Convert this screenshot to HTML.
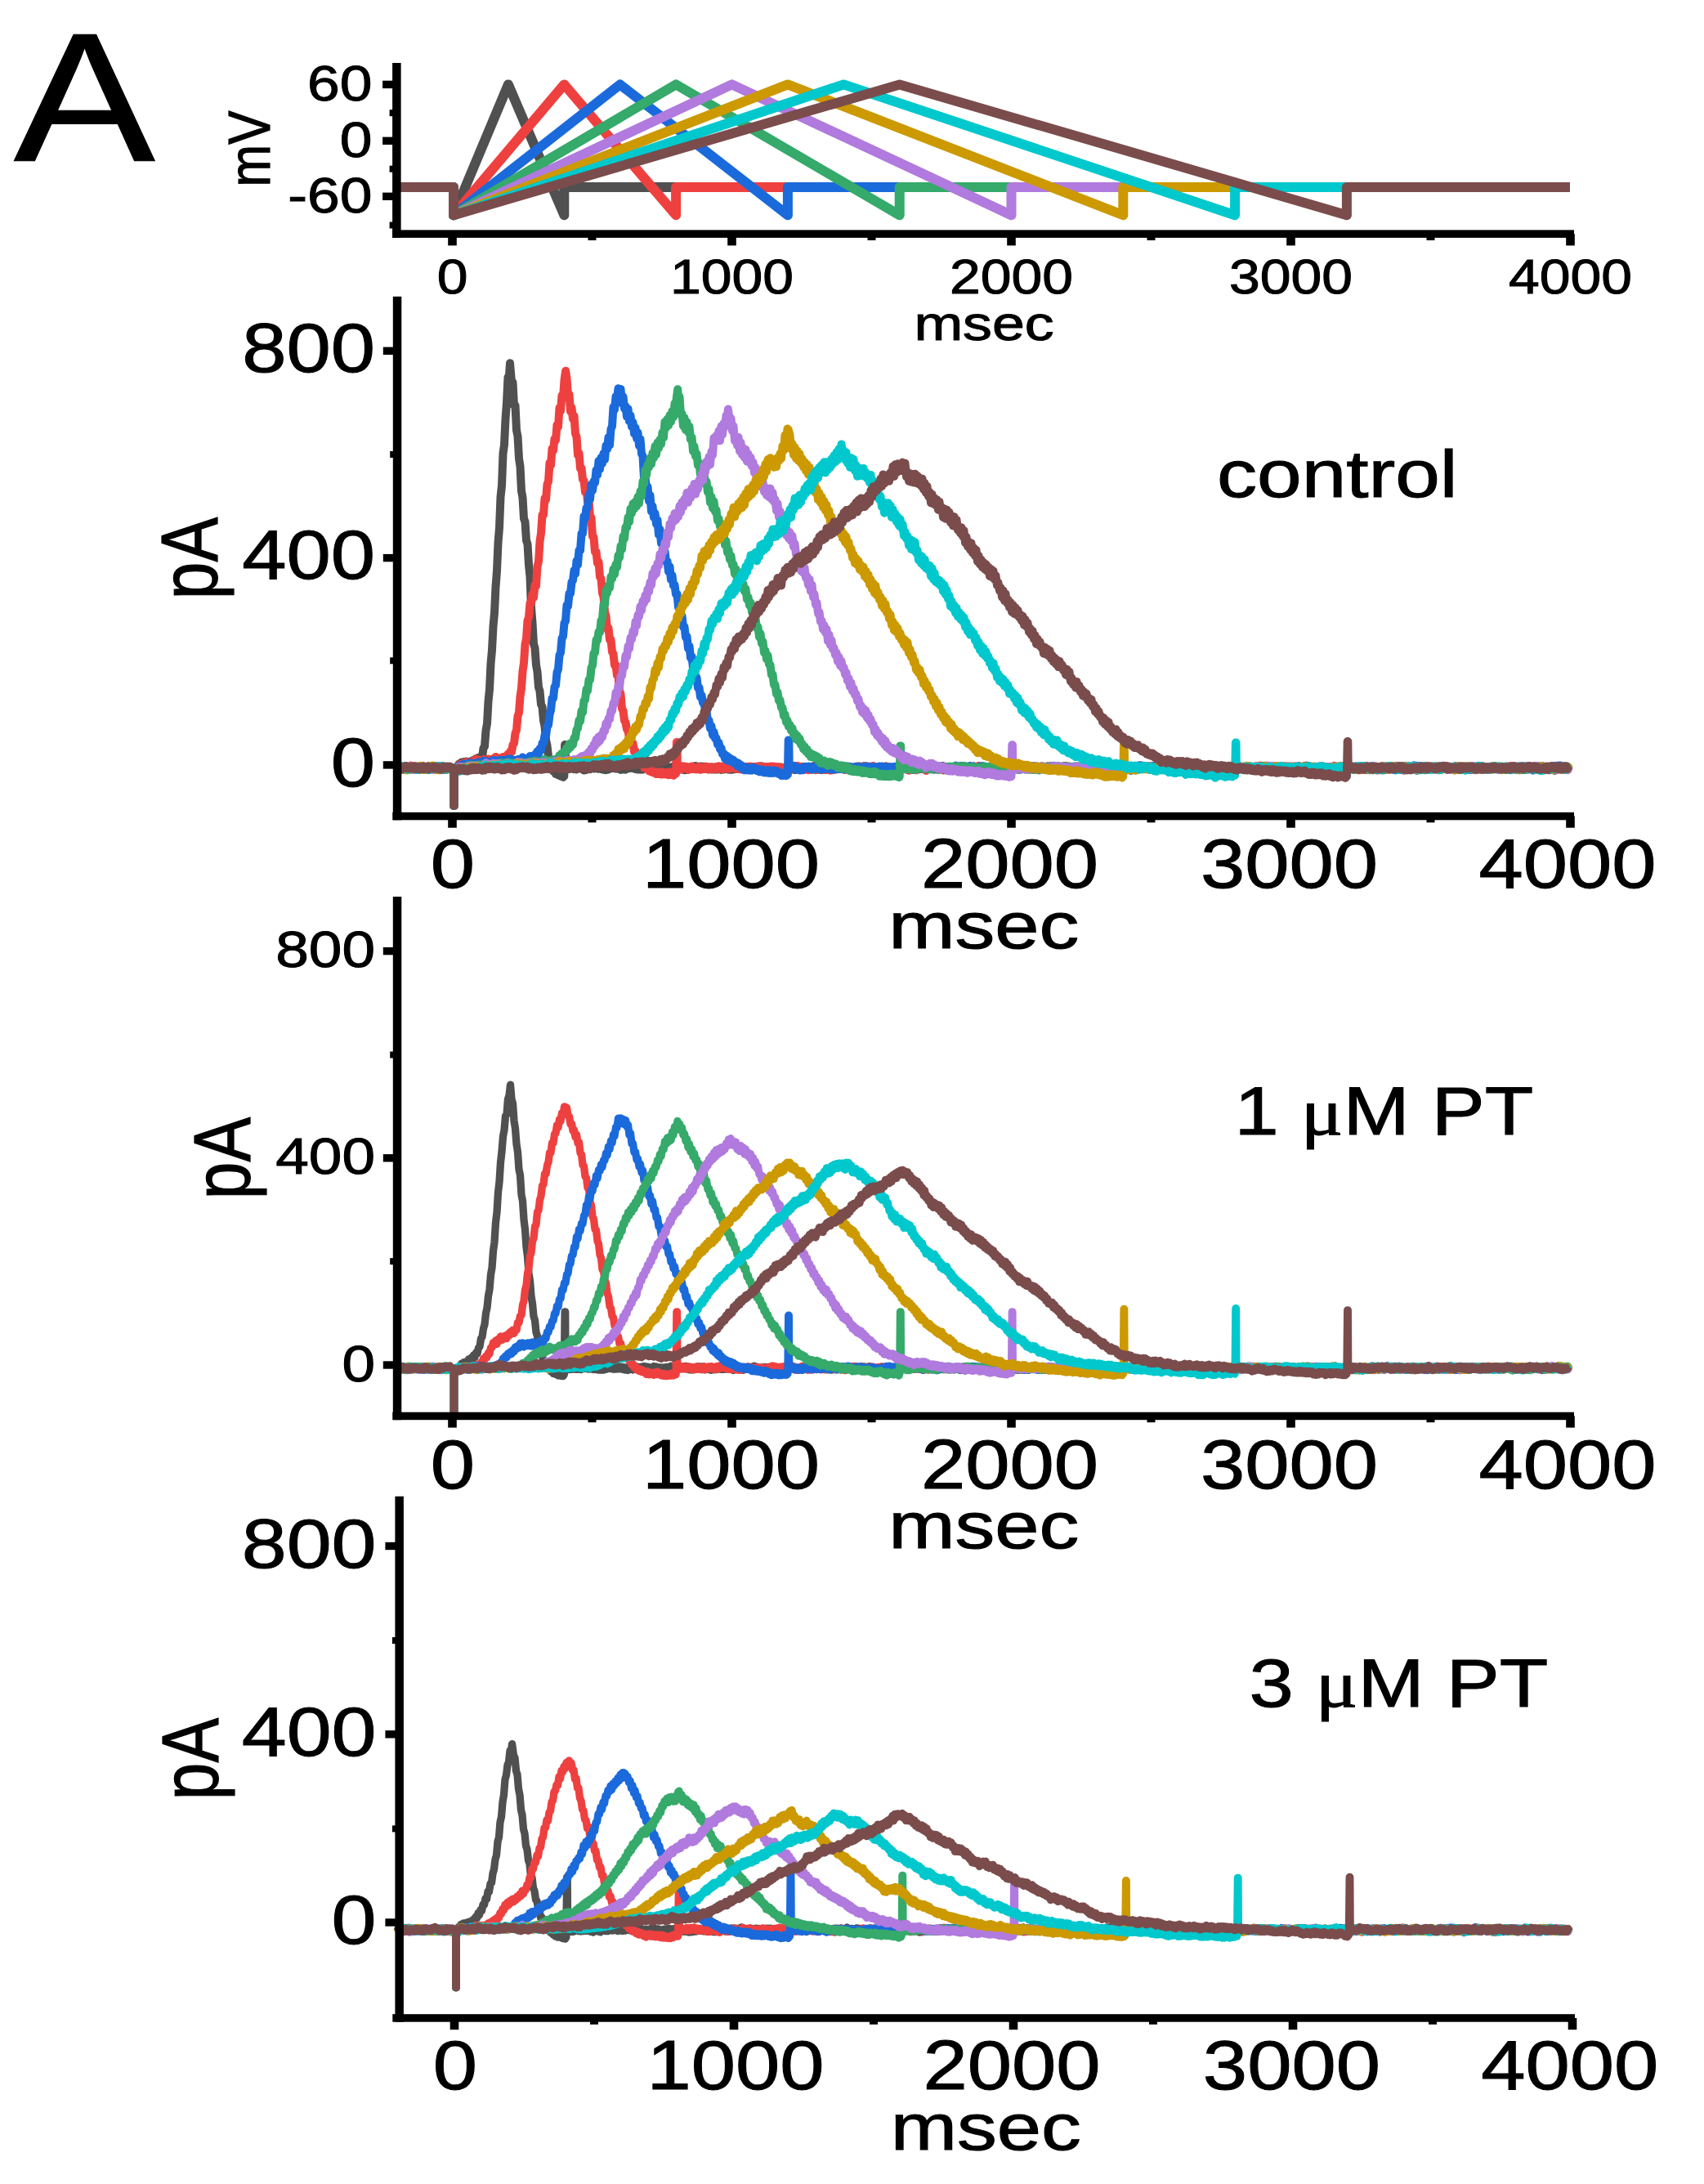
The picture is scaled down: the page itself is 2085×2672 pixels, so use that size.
<!DOCTYPE html><html><head><meta charset="utf-8"><title>Figure A</title><style>html,body{margin:0;padding:0;background:#fff}svg{display:block}text{font-family:"Liberation Sans", Arial, Helvetica, sans-serif;fill:#000;stroke:#000;stroke-width:1px}</style></head><body>
<svg width="2085" height="2672" viewBox="0 0 2085 2672">
<rect width="2085" height="2672" fill="#fff"/>
<text transform="translate(103.3,196.7) scale(1.155,1)" font-size="224.5" text-anchor="middle">A</text>
<polyline points="486.0,228.9 555.0,228.9 555.0,263.2 621.9,103.4 690.3,263.2 690.3,228.9 1921.0,228.9" fill="none" stroke="#505050" stroke-width="12" stroke-linejoin="round" stroke-linecap="butt"/>
<polyline points="486.0,228.9 555.0,228.9 555.0,263.2 690.3,103.4 827.1,263.2 827.1,228.9 1921.0,228.9" fill="none" stroke="#EF4040" stroke-width="12" stroke-linejoin="round" stroke-linecap="butt"/>
<polyline points="486.0,228.9 555.0,228.9 555.0,263.2 758.7,103.4 963.9,263.2 963.9,228.9 1921.0,228.9" fill="none" stroke="#1A6ADC" stroke-width="12" stroke-linejoin="round" stroke-linecap="butt"/>
<polyline points="486.0,228.9 555.0,228.9 555.0,263.2 827.1,103.4 1100.7,263.2 1100.7,228.9 1921.0,228.9" fill="none" stroke="#35AA6A" stroke-width="12" stroke-linejoin="round" stroke-linecap="butt"/>
<polyline points="486.0,228.9 555.0,228.9 555.0,263.2 895.5,103.4 1237.5,263.2 1237.5,228.9 1921.0,228.9" fill="none" stroke="#B07ADE" stroke-width="12" stroke-linejoin="round" stroke-linecap="butt"/>
<polyline points="486.0,228.9 555.0,228.9 555.0,263.2 963.9,103.4 1374.3,263.2 1374.3,228.9 1921.0,228.9" fill="none" stroke="#CC9900" stroke-width="12" stroke-linejoin="round" stroke-linecap="butt"/>
<polyline points="486.0,228.9 555.0,228.9 555.0,263.2 1032.3,103.4 1511.1,263.2 1511.1,228.9 1921.0,228.9" fill="none" stroke="#00C8CC" stroke-width="12" stroke-linejoin="round" stroke-linecap="butt"/>
<polyline points="486.0,228.9 555.0,228.9 555.0,263.2 1100.7,103.4 1647.9,263.2 1647.9,228.9 1921.0,228.9" fill="none" stroke="#7B4C4C" stroke-width="12" stroke-linejoin="round" stroke-linecap="butt"/>
<rect x="480.1" y="77.0" width="10.5" height="213.9" fill="#000"/>
<rect x="480.3" y="281.4" width="1445.7" height="9.5" fill="#000"/>
<rect x="468.1" y="98.7" width="17.2" height="9.4" fill="#000"/>
<rect x="468.1" y="167.6" width="17.2" height="9.4" fill="#000"/>
<rect x="468.1" y="235.6" width="17.2" height="9.4" fill="#000"/>
<rect x="476.6" y="134.2" width="8.8" height="8.0" fill="#000"/>
<rect x="476.6" y="202.7" width="8.8" height="8.0" fill="#000"/>
<rect x="476.6" y="271.5" width="8.8" height="8.0" fill="#000"/>
<rect x="548.2" y="286.2" width="10.6" height="14.2" fill="#000"/>
<rect x="890.2" y="286.2" width="10.6" height="14.2" fill="#000"/>
<rect x="1232.2" y="286.2" width="10.6" height="14.2" fill="#000"/>
<rect x="1574.2" y="286.2" width="10.6" height="14.2" fill="#000"/>
<rect x="1916.2" y="286.2" width="10.6" height="14.2" fill="#000"/>
<rect x="719.5" y="286.2" width="10.0" height="7.8" fill="#000"/>
<rect x="1061.5" y="286.2" width="10.0" height="7.8" fill="#000"/>
<rect x="1403.5" y="286.2" width="10.0" height="7.8" fill="#000"/>
<rect x="1745.5" y="286.2" width="10.0" height="7.8" fill="#000"/>
<text transform="translate(455.5,123.4) scale(1.17,1)" font-size="61" text-anchor="end">60</text>
<text transform="translate(455.5,192.3) scale(1.17,1)" font-size="61" text-anchor="end">0</text>
<text transform="translate(455.5,260.3) scale(1.17,1)" font-size="61" text-anchor="end">-60</text>
<text transform="translate(330.0,182.0) scale(1.18,1) rotate(-90)" font-size="62" text-anchor="middle">mV</text>
<text transform="translate(553.5,358.8) scale(1.14,1)" font-size="59.5" text-anchor="middle">0</text>
<text transform="translate(895.5,358.8) scale(1.14,1)" font-size="59.5" text-anchor="middle">1000</text>
<text transform="translate(1237.5,358.8) scale(1.14,1)" font-size="59.5" text-anchor="middle">2000</text>
<text transform="translate(1579.5,358.8) scale(1.14,1)" font-size="59.5" text-anchor="middle">3000</text>
<text transform="translate(1921.5,358.8) scale(1.14,1)" font-size="59.5" text-anchor="middle">4000</text>
<text transform="translate(1204.0,415.8) scale(1.225,1)" font-size="58.5" text-anchor="middle">msec</text>
<polyline points="486.0,941.7 487.5,938.1 489.0,941.4 490.5,938.6 492.0,941.5 493.5,938.1 495.0,941.1 496.5,937.5 498.0,941.4 499.5,938.4 501.0,941.6 502.5,938.3 504.0,941.2 505.5,937.8 507.0,940.7 508.5,937.4 510.0,940.9 511.5,937.8 513.0,941.3 514.5,938.2 516.0,941.2 517.5,937.2 519.0,940.7 520.5,938.1 522.0,941.3 523.5,938.2 525.0,940.8 526.5,938.3 528.0,940.6 529.5,937.9 531.0,941.0 532.5,938.7 534.0,941.4 535.5,938.3 537.0,941.0 538.5,937.8 540.0,940.9 541.5,938.4 543.0,941.6 544.5,939.0 546.0,941.8 547.5,939.1 549.0,941.3 550.5,937.9 552.0,941.3 555.2,939.6 555.2,986.0 555.8,986.0 555.8,944.1 557.0,942.3 558.5,937.9 560.0,939.5 561.5,934.6 563.0,937.6 564.5,932.6 566.0,936.6 567.5,931.9 569.0,935.7 570.5,931.5 572.0,935.0 573.5,932.4 575.0,934.7 576.5,931.1 578.0,934.6 579.5,929.7 581.0,932.7 582.5,927.9 584.0,932.2 585.5,926.8 587.0,930.5 588.5,926.4 590.0,926.9 591.5,915.5 593.0,913.2 594.5,893.6 596.0,885.4 597.5,858.1 599.0,843.4 600.5,811.9 602.0,795.2 603.5,766.2 605.0,749.9 606.5,718.1 608.0,698.5 609.5,663.9 611.0,645.7 612.5,607.9 614.0,594.4 615.5,555.0 617.0,544.3 618.5,512.8 620.0,492.4 621.5,461.7 623.0,459.0 624.0,444.3 626.0,467.7 627.5,468.0 629.0,496.0 630.5,495.9 632.0,526.2 633.5,533.9 635.0,561.0 636.5,570.8 638.0,600.8 639.5,608.6 641.0,634.5 642.5,638.4 644.0,661.1 645.5,665.6 647.0,691.0 648.5,705.7 650.0,743.2 651.5,762.0 653.0,787.7 654.5,792.9 656.0,813.7 657.5,821.8 659.0,840.8 660.5,845.6 662.0,861.7 663.5,864.9 665.0,881.3 666.5,888.1 668.0,905.2 669.5,912.3 671.0,925.9 672.5,928.8 674.0,937.7 675.5,938.2 677.0,943.7 678.5,942.8 680.0,947.0 681.5,945.0 683.0,948.4 684.5,946.1 686.0,949.7 687.5,947.7 689.0,950.9 690.3,949.8 691.1,911.0 691.7,911.0 692.1,939.6 693.3,940.9 694.8,937.9 696.3,941.0 697.8,937.7 699.3,940.5 700.8,937.3 702.3,941.2 703.8,938.8 705.3,941.4 706.8,937.6 708.3,940.3 709.8,938.0 711.3,940.5 712.8,938.6 714.3,942.5 715.8,939.9 717.3,941.9 718.8,937.6 720.3,940.1 721.8,935.6 723.3,939.2 724.8,936.6 726.3,940.5 727.8,937.2 729.3,940.3 730.8,937.5 732.3,940.8 733.8,938.1 735.3,941.0 736.8,938.6 738.3,941.7 739.8,939.6 741.3,942.2 742.8,938.6 744.3,941.6 745.8,937.2 747.3,940.2 748.8,937.1 750.3,940.0 751.8,937.4 753.3,940.5 754.8,937.7 756.3,940.8 757.8,938.6 759.3,941.9 760.8,939.5 762.3,941.5 763.8,939.1 765.3,941.7 766.8,937.7 768.3,940.3 769.8,938.0 771.3,939.9 772.8,937.9 774.3,940.0 775.8,938.3 777.3,940.9 778.8,938.6 780.3,941.5 781.8,938.3 783.3,941.7 784.8,937.9 786.3,941.7 787.8,937.6 789.3,940.5 790.8,937.7 792.3,941.1 793.8,938.3 795.3,941.7 796.8,938.8 798.3,942.0 799.8,938.3 801.3,941.1 802.8,938.2 804.3,940.7 805.8,937.8 807.3,940.6 808.8,938.6 810.3,941.4 811.8,938.4 813.3,941.9 814.8,938.9 816.3,941.4 817.8,938.9 819.3,941.4 820.8,938.4 822.3,940.4 823.8,937.6 825.3,941.3 826.8,938.4 828.3,941.6 829.8,939.0 831.3,941.3 832.8,938.0 834.3,941.2 835.8,938.2 837.3,942.3 838.8,938.5 840.3,941.9 841.8,938.9 843.3,941.2 844.8,938.6 846.3,940.9 847.8,937.7 849.3,939.9 850.8,937.0 852.3,940.9 853.8,937.7 855.3,940.6 856.8,937.4 858.3,940.6 859.8,937.8 861.3,940.7 862.8,937.7 864.3,940.6 865.8,938.4 867.3,941.4 868.8,938.5 870.3,941.4 871.8,938.4 873.3,941.5 874.8,938.6 876.3,941.6 877.8,938.8 879.3,941.3 880.8,938.6 882.3,941.9 883.8,938.4 885.3,941.5 886.8,938.0 888.3,941.0 889.8,937.9 891.3,941.7 892.8,939.0 894.3,941.8 895.8,938.5 897.3,941.4 898.8,937.6 900.3,941.0 901.8,937.8 903.3,940.9 904.8,938.5 906.3,941.3 907.8,938.9 909.3,941.7 910.8,938.2 912.3,940.8 913.8,937.9 915.3,940.6 916.8,937.8 918.3,941.6 919.8,938.6 921.3,942.0 922.8,939.1 924.3,941.2 925.8,938.5 927.3,940.9 928.8,937.4 930.3,940.2 931.8,937.2 933.3,941.5 934.8,937.9 936.3,941.1 937.8,938.3 939.3,940.4 940.8,938.2 942.3,941.8 943.8,939.1 945.3,942.8 946.8,939.1 948.3,941.5 949.8,938.8 951.3,940.8 952.8,938.5 954.3,940.8 955.8,938.4 957.3,941.6 958.8,938.9 960.3,941.3 961.8,938.8 963.3,941.2 964.8,939.0 966.3,941.5 967.8,938.7 969.3,941.5 970.8,939.2 972.3,942.1 973.8,939.3 975.3,941.6 976.8,938.6 978.3,941.7 979.8,937.9 981.3,940.4 982.8,937.9 984.3,940.6 985.8,938.0 987.3,940.8 988.8,938.3 990.3,941.8 991.8,939.0 993.3,941.3 994.8,937.3 996.3,939.9 997.8,936.6 999.3,940.6 1000.8,938.6 1002.3,941.8 1003.8,938.7 1005.3,942.1 1006.8,939.5 1008.3,941.4 1009.8,937.8 1011.3,940.6 1012.8,938.6 1014.3,941.3 1015.8,937.8 1017.3,940.7 1018.8,937.1 1020.3,940.5 1021.8,937.9 1023.3,941.4 1024.8,937.8 1026.3,941.0 1027.8,937.8 1029.3,940.7 1030.8,937.1 1032.3,941.4 1033.8,938.4 1035.3,940.7 1036.8,938.2 1038.3,940.3 1039.8,937.9 1041.3,939.8 1042.8,938.4 1044.3,940.7 1045.8,938.4 1047.3,941.5 1048.8,937.4 1050.3,940.0 1051.8,937.5 1053.3,939.4 1054.8,937.7 1056.3,939.8 1057.8,937.2 1059.3,940.4 1060.8,937.2 1062.3,940.6 1063.8,938.0 1065.3,941.4 1066.8,938.1 1068.3,941.3 1069.8,938.9 1071.3,941.1 1072.8,938.4 1074.3,941.5 1075.8,939.0 1077.3,942.4 1078.8,939.2 1080.3,941.5 1081.8,939.3 1083.3,941.8 1084.8,937.8 1086.3,941.6 1087.8,938.6 1089.3,941.2 1090.8,939.1 1092.3,941.7 1093.8,939.0 1095.3,942.1 1096.8,939.0 1098.3,941.5 1099.8,937.4 1101.3,941.3 1102.8,938.1 1104.3,940.5 1105.8,938.5 1107.3,940.9 1108.8,939.2 1110.3,941.1 1111.8,937.7 1113.3,941.1 1114.8,937.6 1116.3,939.9 1117.8,938.2 1119.3,940.9 1120.8,937.9 1122.3,940.8 1123.8,937.8 1125.3,940.5 1126.8,937.2 1128.3,940.4 1129.8,938.3 1131.3,941.4 1132.8,938.8 1134.3,941.1 1135.8,937.6 1137.3,939.9 1138.8,938.0 1140.3,941.2 1141.8,938.1 1143.3,941.7 1144.8,937.8 1146.3,941.4 1147.8,938.2 1149.3,941.3 1150.8,937.7 1152.3,940.4 1153.8,937.0 1155.3,940.0 1156.8,938.1 1158.3,940.9 1159.8,938.5 1161.3,941.7 1162.8,938.2 1164.3,941.1 1165.8,937.9 1167.3,941.8 1168.8,939.1 1170.3,941.7 1171.8,938.4 1173.3,940.6 1174.8,937.1 1176.3,939.8 1177.8,937.0 1179.3,940.4 1180.8,938.3 1182.3,940.3 1183.8,937.7 1185.3,940.7 1186.8,937.4 1188.3,941.6 1189.8,938.3 1191.3,941.6 1192.8,938.3 1194.3,941.7 1195.8,939.3 1197.3,942.0 1198.8,938.5 1200.3,941.7 1201.8,939.1 1203.3,941.7 1204.8,938.6 1206.3,941.8 1207.8,938.0 1209.3,941.0 1210.8,938.2 1212.3,940.7 1213.8,938.6 1215.3,941.2 1216.8,938.4 1218.3,941.7 1219.8,938.6 1221.3,941.7 1222.8,938.1 1224.3,940.5 1225.8,937.5 1227.3,940.6 1228.8,938.6 1230.3,941.1 1231.8,938.3 1233.3,941.3 1234.8,937.9 1236.3,942.0 1237.8,938.2 1239.3,940.6 1240.8,937.9 1242.3,940.6 1243.8,937.4 1245.3,941.6 1246.8,938.5 1248.3,941.3 1249.8,938.2 1251.3,941.0 1252.8,938.7 1254.3,941.0 1255.8,937.9 1257.3,940.5 1258.8,937.8 1260.3,940.8 1261.8,937.9 1263.3,941.0 1264.8,938.4 1266.3,941.7 1267.8,938.0 1269.3,941.1 1270.8,938.9 1272.3,940.6 1273.8,937.6 1275.3,940.7 1276.8,938.1 1278.3,940.9 1279.8,938.5 1281.3,940.8 1282.8,938.4 1284.3,941.9 1285.8,938.4 1287.3,941.3 1288.8,938.6 1290.3,940.8 1291.8,938.4 1293.3,940.6 1294.8,937.9 1296.3,941.4 1297.8,938.4 1299.3,941.4 1300.8,937.3 1302.3,939.7 1303.8,937.1 1305.3,940.6 1306.8,938.3 1308.3,940.9 1309.8,938.0 1311.3,941.6 1312.8,938.4 1314.3,941.1 1315.8,938.2 1317.3,940.7 1318.8,937.6 1320.3,941.5 1321.8,938.0 1323.3,941.6 1324.8,938.3 1326.3,940.4 1327.8,937.7 1329.3,941.1 1330.8,938.2 1332.3,941.5 1333.8,939.2 1335.3,941.3 1336.8,938.5 1338.3,941.6 1339.8,937.1 1341.3,940.7 1342.8,937.4 1344.3,940.6 1345.8,937.8 1347.3,941.0 1348.8,937.9 1350.3,941.6 1351.8,938.6 1353.3,941.6 1354.8,937.7 1356.3,940.6 1357.8,937.8 1359.3,940.6 1360.8,938.0 1362.3,941.0 1363.8,938.4 1365.3,941.1 1366.8,938.4 1368.3,940.8 1369.8,937.9 1371.3,941.5 1372.8,937.5 1374.3,940.2 1375.8,937.5 1377.3,939.8 1378.8,937.5 1380.3,942.0 1381.8,938.4 1383.3,941.6 1384.8,938.6 1386.3,941.4 1387.8,938.7 1389.3,942.2 1390.8,938.8 1392.3,941.8 1393.8,938.3 1395.3,940.9 1396.8,938.2 1398.3,940.8 1399.8,937.8 1401.3,940.5 1402.8,938.2 1404.3,940.2 1405.8,937.5 1407.3,940.9 1408.8,937.2 1410.3,940.5 1411.8,937.1 1413.3,940.3 1414.8,938.3 1416.3,941.8 1417.8,939.2 1419.3,941.3 1420.8,938.0 1422.3,941.5 1423.8,938.3 1425.3,940.2 1426.8,937.4 1428.3,940.7 1429.8,937.8 1431.3,941.1 1432.8,938.5 1434.3,940.9 1435.8,937.9 1437.3,940.8 1438.8,936.7 1440.3,940.4 1441.8,936.9 1443.3,940.0 1444.8,937.8 1446.3,941.4 1447.8,938.3 1449.3,941.1 1450.8,938.5 1452.3,940.2 1453.8,937.2 1455.3,941.1 1456.8,938.0 1458.3,941.0 1459.8,937.0 1461.3,941.0 1462.8,937.2 1464.3,941.1 1465.8,937.9 1467.3,940.5 1468.8,937.5 1470.3,940.0 1471.8,938.1 1473.3,941.4 1474.8,937.9 1476.3,941.7 1477.8,938.0 1479.3,940.3 1480.8,936.8 1482.3,939.5 1483.8,936.9 1485.3,941.4 1486.8,938.4 1488.3,940.6 1489.8,938.1 1491.3,940.4 1492.8,937.0 1494.3,940.6 1495.8,938.4 1497.3,942.0 1498.8,938.5 1500.3,941.4 1501.8,938.1 1503.3,940.3 1504.8,938.5 1506.3,942.2 1507.8,938.7 1509.3,941.9 1510.8,938.8 1512.3,940.6 1513.8,937.8 1515.3,940.1 1516.8,937.5 1518.3,941.1 1519.8,938.1 1521.3,942.0 1522.8,938.4 1524.3,941.7 1525.8,938.5 1527.3,940.8 1528.8,938.9 1530.3,940.8 1531.8,939.0 1533.3,940.9 1534.8,937.9 1536.3,941.5 1537.8,938.2 1539.3,940.5 1540.8,938.5 1542.3,940.0 1543.8,937.6 1545.3,941.0 1546.8,938.6 1548.3,941.1 1549.8,937.2 1551.3,940.9 1552.8,938.2 1554.3,940.5 1555.8,938.4 1557.3,941.3 1558.8,938.6 1560.3,942.1 1561.8,939.4 1563.3,942.1 1564.8,938.5 1566.3,941.0 1567.8,937.9 1569.3,941.0 1570.8,938.8 1572.3,941.4 1573.8,937.7 1575.3,940.5 1576.8,937.8 1578.3,940.6 1579.8,938.4 1581.3,941.5 1582.8,938.8 1584.3,940.7 1585.8,938.0 1587.3,941.1 1588.8,938.3 1590.3,941.1 1591.8,938.2 1593.3,941.3 1594.8,938.3 1596.3,941.5 1597.8,938.3 1599.3,940.7 1600.8,938.0 1602.3,941.4 1603.8,938.6 1605.3,941.9 1606.8,939.5 1608.3,942.7 1609.8,938.9 1611.3,940.9 1612.8,938.6 1614.3,941.2 1615.8,938.7 1617.3,941.3 1618.8,938.6 1620.3,942.0 1621.8,938.7 1623.3,941.9 1624.8,938.8 1626.3,942.7 1627.8,939.2 1629.3,942.3 1630.8,938.9 1632.3,941.1 1633.8,938.3 1635.3,941.6 1636.8,938.5 1638.3,941.5 1639.8,939.0 1641.3,941.5 1642.8,937.5 1644.3,941.6 1645.8,938.2 1647.3,941.3 1648.8,938.7 1650.3,940.6 1651.8,937.8 1653.3,940.3 1654.8,938.8 1656.3,941.7 1657.8,938.8 1659.3,941.2 1660.8,937.5 1662.3,941.2 1663.8,937.9 1665.3,939.9 1666.8,937.1 1668.3,940.5 1669.8,937.1 1671.3,940.7 1672.8,937.7 1674.3,940.9 1675.8,938.1 1677.3,941.3 1678.8,939.0 1680.3,942.2 1681.8,939.2 1683.3,941.4 1684.8,938.8 1686.3,941.2 1687.8,938.5 1689.3,940.4 1690.8,937.1 1692.3,939.7 1693.8,937.4 1695.3,941.3 1696.8,937.5 1698.3,941.1 1699.8,937.9 1701.3,941.3 1702.8,938.1 1704.3,940.5 1705.8,937.6 1707.3,940.4 1708.8,936.8 1710.3,939.9 1711.8,938.0 1713.3,941.1 1714.8,938.8 1716.3,941.8 1717.8,939.2 1719.3,941.2 1720.8,937.6 1722.3,940.6 1723.8,937.1 1725.3,940.1 1726.8,937.5 1728.3,940.8 1729.8,937.7 1731.3,940.4 1732.8,938.6 1734.3,941.1 1735.8,937.8 1737.3,941.1 1738.8,937.2 1740.3,940.6 1741.8,937.3 1743.3,940.8 1744.8,937.1 1746.3,939.8 1747.8,938.4 1749.3,941.6 1750.8,937.8 1752.3,941.4 1753.8,938.2 1755.3,940.1 1756.8,937.5 1758.3,941.1 1759.8,938.5 1761.3,940.6 1762.8,937.9 1764.3,940.7 1765.8,938.5 1767.3,941.0 1768.8,938.3 1770.3,941.2 1771.8,938.3 1773.3,941.6 1774.8,938.5 1776.3,941.2 1777.8,938.1 1779.3,940.8 1780.8,937.2 1782.3,939.9 1783.8,937.6 1785.3,941.2 1786.8,938.3 1788.3,941.4 1789.8,939.0 1791.3,940.2 1792.8,938.3 1794.3,940.7 1795.8,937.7 1797.3,941.9 1798.8,938.5 1800.3,941.7 1801.8,938.2 1803.3,942.0 1804.8,938.5 1806.3,942.2 1807.8,939.3 1809.3,941.5 1810.8,938.8 1812.3,941.2 1813.8,937.8 1815.3,941.2 1816.8,938.6 1818.3,941.2 1819.8,937.9 1821.3,940.7 1822.8,937.8 1824.3,940.0 1825.8,937.4 1827.3,939.4 1828.8,936.9 1830.3,940.6 1831.8,938.1 1833.3,941.4 1834.8,937.6 1836.3,940.5 1837.8,938.1 1839.3,941.1 1840.8,938.6 1842.3,941.3 1843.8,937.6 1845.3,940.2 1846.8,938.3 1848.3,942.2 1849.8,938.7 1851.3,940.6 1852.8,937.6 1854.3,940.8 1855.8,937.8 1857.3,941.5 1858.8,938.2 1860.3,941.2 1861.8,938.7 1863.3,941.8 1864.8,937.8 1866.3,940.8 1867.8,937.7 1869.3,941.1 1870.8,938.6 1872.3,941.0 1873.8,938.1 1875.3,941.1 1876.8,938.0 1878.3,940.7 1879.8,937.9 1881.3,940.7 1882.8,938.0 1884.3,942.2 1885.8,937.9 1887.3,941.6 1888.8,937.5 1890.3,940.6 1891.8,938.6 1893.3,941.8 1894.8,938.9 1896.3,942.3 1897.8,939.0 1899.3,941.8 1900.8,939.3 1902.3,942.8 1903.8,938.8 1905.3,940.5 1906.8,936.5 1908.3,940.0 1909.8,936.6 1911.3,940.1 1912.8,938.2 1914.3,941.1 1915.8,938.5 1917.3,941.9 1918.8,939.0 1920.3,941.2" fill="none" stroke="#505050" stroke-width="10" stroke-linejoin="round" stroke-linecap="butt"/>
<polyline points="486.0,941.4 487.5,938.0 489.0,940.9 490.5,937.6 492.0,940.6 493.5,938.0 495.0,941.5 496.5,938.9 498.0,941.9 499.5,938.3 501.0,940.9 502.5,936.4 504.0,939.8 505.5,937.1 507.0,940.8 508.5,938.2 510.0,941.0 511.5,939.0 513.0,941.7 514.5,937.8 516.0,939.9 517.5,937.1 519.0,940.0 520.5,938.7 522.0,942.0 523.5,937.8 525.0,940.7 526.5,937.2 528.0,940.4 529.5,937.1 531.0,940.0 532.5,937.7 534.0,941.8 535.5,937.8 537.0,940.4 538.5,937.6 540.0,940.2 541.5,937.2 543.0,941.6 544.5,938.6 546.0,941.5 547.5,939.0 549.0,941.0 550.5,938.4 552.0,940.3 555.2,939.6 555.2,986.0 555.8,986.0 555.8,944.1 557.0,943.4 558.5,939.1 560.0,940.3 561.5,936.1 563.0,940.0 564.5,934.4 566.0,937.9 567.5,933.5 569.0,936.4 570.5,932.2 572.0,936.9 573.5,932.9 575.0,936.4 576.5,932.7 578.0,935.9 579.5,930.5 581.0,933.1 582.5,928.8 584.0,933.7 585.5,929.4 587.0,933.4 588.5,930.4 590.0,933.7 591.5,929.1 593.0,933.0 594.5,930.3 596.0,933.6 597.5,928.5 599.0,933.7 600.5,929.1 602.0,931.6 603.5,928.2 605.0,931.4 606.5,925.9 608.0,931.3 609.5,927.3 611.0,931.1 612.5,928.0 614.0,931.2 615.5,925.9 617.0,929.9 618.5,925.1 620.0,928.3 621.5,922.5 623.0,924.5 624.5,919.0 626.0,920.1 627.5,911.2 629.0,909.3 630.5,897.1 632.0,893.4 633.5,876.1 635.0,871.9 636.5,852.2 638.0,842.0 639.5,821.3 641.0,811.3 642.5,788.5 644.0,781.3 645.5,759.3 647.0,755.3 648.5,737.8 650.0,738.0 651.5,726.7 653.0,731.1 654.5,715.6 656.0,717.2 657.5,692.9 659.0,687.0 660.5,662.5 662.0,652.5 663.5,630.1 665.0,629.8 666.5,609.5 668.0,611.3 669.5,592.6 671.0,589.2 672.5,566.3 674.0,569.3 675.5,548.9 677.0,551.5 678.5,536.9 680.0,538.7 681.5,519.7 683.0,522.3 684.5,499.0 686.0,502.8 687.5,483.7 689.0,486.6 690.5,465.2 692.1,453.7 693.5,462.5 695.0,484.1 696.5,482.3 698.0,503.5 699.5,498.8 701.0,512.8 702.5,508.9 704.0,530.3 705.5,534.2 707.0,556.7 708.5,554.5 710.0,572.8 711.5,572.9 713.0,586.8 714.5,587.8 716.0,602.2 717.5,596.6 719.0,614.2 720.5,611.3 722.0,633.4 723.5,633.5 725.0,656.2 726.5,657.3 728.0,675.2 729.5,674.9 731.0,689.1 732.5,687.3 734.0,705.8 735.5,707.9 737.0,725.6 738.5,730.3 740.0,748.4 741.5,753.7 743.0,769.6 744.5,768.3 746.0,782.6 747.5,782.7 749.0,797.5 750.5,800.0 752.0,813.9 753.5,813.7 755.0,826.5 756.5,827.3 758.0,844.9 759.5,849.4 761.0,866.9 762.5,869.5 764.0,881.4 765.5,884.0 767.0,892.2 768.5,894.2 770.0,902.8 771.5,901.0 773.0,910.9 774.5,909.5 776.0,919.8 777.5,918.5 779.0,927.6 780.5,926.6 782.0,931.6 783.5,930.4 785.0,936.2 786.5,934.0 788.0,939.3 789.5,937.7 791.0,940.6 792.5,938.9 794.0,943.2 795.5,941.3 797.0,944.7 798.5,942.4 800.0,945.5 801.5,943.8 803.0,947.1 804.5,944.5 806.0,946.9 807.5,944.4 809.0,947.6 810.5,944.2 812.0,947.3 813.5,944.9 815.0,947.6 816.5,945.1 818.0,948.3 819.5,944.3 821.0,947.9 822.5,945.8 824.0,948.8 825.5,946.0 827.1,946.5 827.9,908.0 828.5,908.0 828.9,939.6 830.1,941.6 831.6,938.7 833.1,941.5 834.6,937.3 836.1,939.4 837.6,937.4 839.1,940.4 840.6,937.9 842.1,942.0 843.6,938.4 845.1,941.1 846.6,937.4 848.1,940.8 849.6,939.3 851.1,941.4 852.6,938.8 854.1,941.2 855.6,938.0 857.1,941.8 858.6,939.1 860.1,941.2 861.6,938.7 863.1,940.9 864.6,937.8 866.1,941.3 867.6,938.4 869.1,941.1 870.6,938.3 872.1,941.3 873.6,939.1 875.1,940.9 876.6,937.9 878.1,940.5 879.6,937.2 881.1,940.6 882.6,937.6 884.1,941.2 885.6,937.3 887.1,939.9 888.6,938.0 890.1,940.8 891.6,937.8 893.1,940.2 894.6,936.7 896.1,938.8 897.6,937.1 899.1,940.3 900.6,937.2 902.1,940.6 903.6,937.6 905.1,941.2 906.6,938.3 908.1,940.7 909.6,938.3 911.1,940.7 912.6,938.4 914.1,942.0 915.6,938.2 917.1,941.9 918.6,937.6 920.1,940.6 921.6,937.9 923.1,940.7 924.6,937.7 926.1,940.7 927.6,937.5 929.1,940.7 930.6,937.5 932.1,940.9 933.6,938.0 935.1,941.1 936.6,938.5 938.1,941.3 939.6,938.1 941.1,940.8 942.6,937.6 944.1,940.8 945.6,937.4 947.1,941.0 948.6,938.1 950.1,940.7 951.6,938.2 953.1,941.3 954.6,938.5 956.1,941.5 957.6,939.1 959.1,941.5 960.6,938.7 962.1,942.0 963.6,938.6 965.1,941.1 966.6,937.8 968.1,940.7 969.6,938.1 971.1,940.0 972.6,937.0 974.1,940.1 975.6,936.9 977.1,940.1 978.6,937.7 980.1,941.4 981.6,939.1 983.1,942.3 984.6,939.1 986.1,941.7 987.6,939.7 989.1,942.2 990.6,938.7 992.1,941.4 993.6,938.8 995.1,941.6 996.6,939.6 998.1,942.2 999.6,939.2 1001.1,941.2 1002.6,937.6 1004.1,940.0 1005.6,937.4 1007.1,940.5 1008.6,938.8 1010.1,942.1 1011.6,939.2 1013.1,941.9 1014.6,938.9 1016.1,942.7 1017.6,939.6 1019.1,942.2 1020.6,938.5 1022.1,941.4 1023.6,937.4 1025.1,940.3 1026.6,937.7 1028.1,940.4 1029.6,937.3 1031.1,940.3 1032.6,938.0 1034.1,941.9 1035.6,938.6 1037.1,941.9 1038.6,938.4 1040.1,941.1 1041.6,939.0 1043.1,941.3 1044.6,938.8 1046.1,941.7 1047.6,938.1 1049.1,941.4 1050.6,939.1 1052.1,941.8 1053.6,939.1 1055.1,941.6 1056.6,937.4 1058.1,940.5 1059.6,937.9 1061.1,941.3 1062.6,938.9 1064.1,940.3 1065.6,937.5 1067.1,939.9 1068.6,936.9 1070.1,941.2 1071.6,938.0 1073.1,941.5 1074.6,939.4 1076.1,942.3 1077.6,939.6 1079.1,941.5 1080.6,938.2 1082.1,941.1 1083.6,937.2 1085.1,940.4 1086.6,937.9 1088.1,940.9 1089.6,938.5 1091.1,941.8 1092.6,938.8 1094.1,941.0 1095.6,938.6 1097.1,941.8 1098.6,939.1 1100.1,941.1 1101.6,938.7 1103.1,941.4 1104.6,938.5 1106.1,940.7 1107.6,937.7 1109.1,941.6 1110.6,938.7 1112.1,942.8 1113.6,938.5 1115.1,941.7 1116.6,939.2 1118.1,941.7 1119.6,939.3 1121.1,942.3 1122.6,938.9 1124.1,941.4 1125.6,938.2 1127.1,940.9 1128.6,939.1 1130.1,941.4 1131.6,938.9 1133.1,943.0 1134.6,939.8 1136.1,941.7 1137.6,938.9 1139.1,941.0 1140.6,937.5 1142.1,940.1 1143.6,937.5 1145.1,940.6 1146.6,937.2 1148.1,941.1 1149.6,937.8 1151.1,941.2 1152.6,938.8 1154.1,942.5 1155.6,938.8 1157.1,942.0 1158.6,938.7 1160.1,941.1 1161.6,937.9 1163.1,940.2 1164.6,938.6 1166.1,941.2 1167.6,938.2 1169.1,941.9 1170.6,938.1 1172.1,940.8 1173.6,938.4 1175.1,941.2 1176.6,938.3 1178.1,941.6 1179.6,938.9 1181.1,941.1 1182.6,938.4 1184.1,941.6 1185.6,938.6 1187.1,942.2 1188.6,938.7 1190.1,940.7 1191.6,937.4 1193.1,939.8 1194.6,937.9 1196.1,940.6 1197.6,936.8 1199.1,940.2 1200.6,938.0 1202.1,941.9 1203.6,938.7 1205.1,941.7 1206.6,938.8 1208.1,941.5 1209.6,939.0 1211.1,941.6 1212.6,938.9 1214.1,941.4 1215.6,939.1 1217.1,943.0 1218.6,939.1 1220.1,941.2 1221.6,937.9 1223.1,939.8 1224.6,938.1 1226.1,940.8 1227.6,937.9 1229.1,940.2 1230.6,937.9 1232.1,939.7 1233.6,937.2 1235.1,940.7 1236.6,938.1 1238.1,940.5 1239.6,938.1 1241.1,940.1 1242.6,938.0 1244.1,941.1 1245.6,938.8 1247.1,941.4 1248.6,937.9 1250.1,940.9 1251.6,937.4 1253.1,940.5 1254.6,938.0 1256.1,941.2 1257.6,938.3 1259.1,941.3 1260.6,938.8 1262.1,941.6 1263.6,939.3 1265.1,941.6 1266.6,939.1 1268.1,942.0 1269.6,937.7 1271.1,940.5 1272.6,937.8 1274.1,940.3 1275.6,937.4 1277.1,940.9 1278.6,938.0 1280.1,941.1 1281.6,937.2 1283.1,940.4 1284.6,937.2 1286.1,941.1 1287.6,937.6 1289.1,941.0 1290.6,937.0 1292.1,940.8 1293.6,937.8 1295.1,940.8 1296.6,937.9 1298.1,941.0 1299.6,938.1 1301.1,941.0 1302.6,938.1 1304.1,940.6 1305.6,937.2 1307.1,940.6 1308.6,937.6 1310.1,939.9 1311.6,938.3 1313.1,940.9 1314.6,938.4 1316.1,941.2 1317.6,938.4 1319.1,940.9 1320.6,937.6 1322.1,941.3 1323.6,937.0 1325.1,941.3 1326.6,938.0 1328.1,940.6 1329.6,937.3 1331.1,941.2 1332.6,938.6 1334.1,941.8 1335.6,938.8 1337.1,941.6 1338.6,939.0 1340.1,941.2 1341.6,938.9 1343.1,941.8 1344.6,938.5 1346.1,941.0 1347.6,937.8 1349.1,940.5 1350.6,937.9 1352.1,940.6 1353.6,938.3 1355.1,941.3 1356.6,938.4 1358.1,941.2 1359.6,937.9 1361.1,941.0 1362.6,938.3 1364.1,941.3 1365.6,938.2 1367.1,941.8 1368.6,939.6 1370.1,941.8 1371.6,938.3 1373.1,940.9 1374.6,938.6 1376.1,941.1 1377.6,938.1 1379.1,941.7 1380.6,938.3 1382.1,940.5 1383.6,938.3 1385.1,941.4 1386.6,939.0 1388.1,941.4 1389.6,937.8 1391.1,940.8 1392.6,936.5 1394.1,939.6 1395.6,936.5 1397.1,940.3 1398.6,937.0 1400.1,941.0 1401.6,937.8 1403.1,940.7 1404.6,937.7 1406.1,939.9 1407.6,937.0 1409.1,939.5 1410.6,937.6 1412.1,941.0 1413.6,938.3 1415.1,941.9 1416.6,939.2 1418.1,941.6 1419.6,939.2 1421.1,942.0 1422.6,939.7 1424.1,941.9 1425.6,937.8 1427.1,940.0 1428.6,936.7 1430.1,939.8 1431.6,937.2 1433.1,940.6 1434.6,938.0 1436.1,940.9 1437.6,938.2 1439.1,941.3 1440.6,938.1 1442.1,941.7 1443.6,938.6 1445.1,941.4 1446.6,939.1 1448.1,941.3 1449.6,939.0 1451.1,940.7 1452.6,937.5 1454.1,940.6 1455.6,938.4 1457.1,941.8 1458.6,939.1 1460.1,941.7 1461.6,939.0 1463.1,940.6 1464.6,938.4 1466.1,940.6 1467.6,937.9 1469.1,941.2 1470.6,938.0 1472.1,941.4 1473.6,938.7 1475.1,941.7 1476.6,938.2 1478.1,940.7 1479.6,937.7 1481.1,940.2 1482.6,936.9 1484.1,940.7 1485.6,938.1 1487.1,940.4 1488.6,937.5 1490.1,940.0 1491.6,937.5 1493.1,940.2 1494.6,937.6 1496.1,940.7 1497.6,938.6 1499.1,941.3 1500.6,938.9 1502.1,941.1 1503.6,937.4 1505.1,940.3 1506.6,937.1 1508.1,940.4 1509.6,937.5 1511.1,941.0 1512.6,938.0 1514.1,940.8 1515.6,938.2 1517.1,941.1 1518.6,937.8 1520.1,941.2 1521.6,938.3 1523.1,941.5 1524.6,938.9 1526.1,942.5 1527.6,939.1 1529.1,941.7 1530.6,938.6 1532.1,941.3 1533.6,937.7 1535.1,941.2 1536.6,937.2 1538.1,939.8 1539.6,937.0 1541.1,940.0 1542.6,936.5 1544.1,939.6 1545.6,937.2 1547.1,939.8 1548.6,936.8 1550.1,940.7 1551.6,937.7 1553.1,940.9 1554.6,938.5 1556.1,940.5 1557.6,938.3 1559.1,941.3 1560.6,938.4 1562.1,941.6 1563.6,939.5 1565.1,941.6 1566.6,939.0 1568.1,940.7 1569.6,937.2 1571.1,939.0 1572.6,937.2 1574.1,940.7 1575.6,937.5 1577.1,940.4 1578.6,937.6 1580.1,939.7 1581.6,937.4 1583.1,940.2 1584.6,937.6 1586.1,941.7 1587.6,938.4 1589.1,941.3 1590.6,938.0 1592.1,941.1 1593.6,937.8 1595.1,939.7 1596.6,936.7 1598.1,939.9 1599.6,937.1 1601.1,940.3 1602.6,938.2 1604.1,941.2 1605.6,938.2 1607.1,940.9 1608.6,939.3 1610.1,941.6 1611.6,938.4 1613.1,941.3 1614.6,937.4 1616.1,939.5 1617.6,937.7 1619.1,940.3 1620.6,938.0 1622.1,941.7 1623.6,938.8 1625.1,941.5 1626.6,938.5 1628.1,940.6 1629.6,938.2 1631.1,940.3 1632.6,936.8 1634.1,940.2 1635.6,937.4 1637.1,940.6 1638.6,937.7 1640.1,940.2 1641.6,937.0 1643.1,940.0 1644.6,937.8 1646.1,940.7 1647.6,938.5 1649.1,941.8 1650.6,938.5 1652.1,940.8 1653.6,937.4 1655.1,941.2 1656.6,939.2 1658.1,941.8 1659.6,938.7 1661.1,940.7 1662.6,937.6 1664.1,941.2 1665.6,938.6 1667.1,941.7 1668.6,939.3 1670.1,942.0 1671.6,938.6 1673.1,942.2 1674.6,939.5 1676.1,942.2 1677.6,938.8 1679.1,941.3 1680.6,937.8 1682.1,941.3 1683.6,939.4 1685.1,942.6 1686.6,939.3 1688.1,941.2 1689.6,938.0 1691.1,941.0 1692.6,937.7 1694.1,941.5 1695.6,938.3 1697.1,941.4 1698.6,939.1 1700.1,941.7 1701.6,938.5 1703.1,941.3 1704.6,938.2 1706.1,941.6 1707.6,938.9 1709.1,940.9 1710.6,939.0 1712.1,940.6 1713.6,938.7 1715.1,942.1 1716.6,938.3 1718.1,942.8 1719.6,939.0 1721.1,942.1 1722.6,938.7 1724.1,941.6 1725.6,938.3 1727.1,940.8 1728.6,937.9 1730.1,941.6 1731.6,937.5 1733.1,941.0 1734.6,938.2 1736.1,940.0 1737.6,937.9 1739.1,941.4 1740.6,938.2 1742.1,940.9 1743.6,937.8 1745.1,941.0 1746.6,938.6 1748.1,941.2 1749.6,938.0 1751.1,940.3 1752.6,937.4 1754.1,941.2 1755.6,938.3 1757.1,940.6 1758.6,937.9 1760.1,940.9 1761.6,938.3 1763.1,941.6 1764.6,937.5 1766.1,941.1 1767.6,937.7 1769.1,940.0 1770.6,937.3 1772.1,941.3 1773.6,938.8 1775.1,941.7 1776.6,938.3 1778.1,941.2 1779.6,937.6 1781.1,940.6 1782.6,938.3 1784.1,941.1 1785.6,937.3 1787.1,939.8 1788.6,937.3 1790.1,939.9 1791.6,937.7 1793.1,940.8 1794.6,938.4 1796.1,941.7 1797.6,938.1 1799.1,941.6 1800.6,938.9 1802.1,941.4 1803.6,938.9 1805.1,941.9 1806.6,938.1 1808.1,940.8 1809.6,937.6 1811.1,940.2 1812.6,937.7 1814.1,940.5 1815.6,938.0 1817.1,941.0 1818.6,938.2 1820.1,941.2 1821.6,938.8 1823.1,940.5 1824.6,938.5 1826.1,941.1 1827.6,938.2 1829.1,940.9 1830.6,937.9 1832.1,940.7 1833.6,938.7 1835.1,941.3 1836.6,939.3 1838.1,942.1 1839.6,938.0 1841.1,940.8 1842.6,938.1 1844.1,940.1 1845.6,937.7 1847.1,940.1 1848.6,936.9 1850.1,940.5 1851.6,937.5 1853.1,940.2 1854.6,937.9 1856.1,942.0 1857.6,939.2 1859.1,942.2 1860.6,939.1 1862.1,941.6 1863.6,938.1 1865.1,941.0 1866.6,937.0 1868.1,940.5 1869.6,937.2 1871.1,940.1 1872.6,938.2 1874.1,940.9 1875.6,938.6 1877.1,941.1 1878.6,938.2 1880.1,941.1 1881.6,938.4 1883.1,941.4 1884.6,938.4 1886.1,941.5 1887.6,937.9 1889.1,941.2 1890.6,938.9 1892.1,941.8 1893.6,938.7 1895.1,942.2 1896.6,938.6 1898.1,941.6 1899.6,937.7 1901.1,941.0 1902.6,938.6 1904.1,942.0 1905.6,939.9 1907.1,941.6 1908.6,939.4 1910.1,942.0 1911.6,938.7 1913.1,941.8 1914.6,938.0 1916.1,941.4 1917.6,938.6 1919.1,941.5" fill="none" stroke="#EF4040" stroke-width="10" stroke-linejoin="round" stroke-linecap="butt"/>
<polyline points="486.0,940.7 487.5,938.4 489.0,942.0 490.5,938.6 492.0,940.7 493.5,937.5 495.0,940.3 496.5,936.9 498.0,941.2 499.5,937.9 501.0,940.6 502.5,938.5 504.0,940.8 505.5,937.6 507.0,941.4 508.5,937.8 510.0,941.7 511.5,939.0 513.0,941.4 514.5,937.5 516.0,941.1 517.5,937.8 519.0,940.7 520.5,938.6 522.0,941.4 523.5,938.3 525.0,940.8 526.5,938.5 528.0,941.2 529.5,938.4 531.0,940.3 532.5,937.1 534.0,940.7 535.5,937.3 537.0,940.4 538.5,937.9 540.0,941.1 541.5,938.0 543.0,940.5 544.5,937.5 546.0,940.6 547.5,938.0 549.0,940.2 550.5,938.5 552.0,940.9 555.2,939.6 555.2,986.0 555.8,986.0 555.8,944.1 557.0,943.9 558.5,939.7 560.0,941.6 561.5,937.1 563.0,939.1 564.5,935.9 566.0,938.4 567.5,934.7 569.0,937.9 570.5,935.2 572.0,937.6 573.5,933.5 575.0,938.0 576.5,933.5 578.0,937.5 579.5,934.2 581.0,936.6 582.5,933.5 584.0,936.3 585.5,932.2 587.0,934.8 588.5,931.9 590.0,934.8 591.5,930.7 593.0,935.0 594.5,930.9 596.0,935.7 597.5,932.5 599.0,936.0 600.5,931.9 602.0,935.5 603.5,929.9 605.0,934.3 606.5,930.3 608.0,933.0 609.5,930.7 611.0,934.6 612.5,929.7 614.0,934.4 615.5,930.0 617.0,934.3 618.5,929.8 620.0,933.2 621.5,928.6 623.0,933.0 624.5,928.2 626.0,932.3 627.5,929.5 629.0,933.0 630.5,929.8 632.0,933.9 633.5,929.1 635.0,932.2 636.5,928.5 638.0,930.5 639.5,926.4 641.0,931.3 642.5,927.7 644.0,932.3 645.5,927.4 647.0,931.1 648.5,924.9 650.0,930.1 651.5,925.5 653.0,927.4 654.5,923.0 656.0,924.4 657.5,919.1 659.0,923.0 660.5,916.0 662.0,918.0 663.5,909.4 665.0,909.1 666.5,899.6 668.0,900.6 669.5,888.6 671.0,887.3 672.5,874.3 674.0,869.1 675.5,854.5 677.0,854.1 678.5,840.5 680.0,838.9 681.5,822.8 683.0,818.7 684.5,801.6 686.0,798.4 687.5,781.0 689.0,778.6 690.5,762.1 692.0,759.9 693.5,740.3 695.0,741.8 696.5,726.0 698.0,726.2 699.5,712.0 701.0,710.0 702.5,697.8 704.0,702.1 705.5,686.0 707.0,690.9 708.5,673.2 710.0,673.6 711.5,653.1 713.0,652.6 714.5,631.6 716.0,634.1 717.5,621.4 719.0,620.9 720.5,605.2 722.0,610.8 723.5,592.8 725.0,600.0 726.5,588.6 728.0,590.7 729.5,575.0 731.0,581.0 732.5,563.9 734.0,573.9 735.5,559.8 737.0,566.9 738.5,554.6 740.0,562.0 741.5,545.0 743.0,549.5 744.5,535.0 746.0,544.6 747.5,525.1 749.0,521.5 750.5,498.0 752.0,501.3 753.5,485.1 755.0,487.6 756.5,475.3 758.3,478.2 759.5,475.9 761.0,493.3 762.5,485.3 764.0,499.9 765.5,496.9 767.0,509.9 768.5,500.3 770.0,515.5 771.5,508.5 773.0,522.1 774.5,516.7 776.0,530.7 777.5,523.4 779.0,536.5 780.5,529.4 782.0,545.4 783.5,537.4 785.0,555.1 786.5,558.0 788.0,585.2 789.5,584.4 791.0,597.3 792.5,595.4 794.0,612.9 795.5,606.2 797.0,625.6 798.5,619.3 800.0,633.2 801.5,628.1 803.0,641.3 804.5,636.2 806.0,654.3 807.5,647.9 809.0,664.9 810.5,660.9 812.0,675.8 813.5,674.6 815.0,687.3 816.5,686.5 818.0,699.5 819.5,693.3 821.0,709.2 822.5,704.0 824.0,716.6 825.5,715.6 827.0,727.0 828.5,726.5 830.0,743.0 831.5,739.8 833.0,754.5 834.5,753.5 836.0,766.9 837.5,767.0 839.0,780.0 840.5,778.5 842.0,793.4 843.5,790.4 845.0,805.1 846.5,803.0 848.0,817.6 849.5,816.6 851.0,828.8 852.5,829.2 854.0,841.7 855.5,841.1 857.0,852.8 858.5,850.6 860.0,860.0 861.5,860.5 863.0,870.0 864.5,870.5 866.0,882.0 867.5,881.3 869.0,891.3 870.5,888.3 872.0,899.4 873.5,895.4 875.0,903.2 876.5,903.2 878.0,910.8 879.5,908.5 881.0,916.7 882.5,915.1 884.0,922.7 885.5,921.6 887.0,928.2 888.5,924.2 890.0,930.6 891.5,926.2 893.0,931.0 894.5,928.3 896.0,932.3 897.5,929.8 899.0,934.2 900.5,932.5 902.0,937.0 903.5,933.5 905.0,938.6 906.5,935.7 908.0,940.2 909.5,937.7 911.0,942.2 912.5,939.1 914.0,942.2 915.5,939.0 917.0,942.7 918.5,939.6 920.0,942.5 921.5,938.8 923.0,941.5 924.5,939.7 926.0,943.1 927.5,941.4 929.0,944.3 930.5,941.2 932.0,944.3 933.5,941.6 935.0,945.3 936.5,943.0 938.0,945.5 939.5,942.3 941.0,945.9 942.5,942.3 944.0,946.0 945.5,942.8 947.0,945.8 948.5,942.5 950.0,945.6 951.5,943.5 953.0,947.1 954.5,945.8 956.0,949.0 957.5,945.6 959.0,949.0 960.5,945.5 962.0,949.2 963.9,947.7 964.7,905.4 965.3,905.4 965.7,939.6 966.9,939.3 968.4,936.3 969.9,939.1 971.4,936.9 972.9,941.5 974.4,938.3 975.9,941.7 977.4,939.4 978.9,942.6 980.4,939.9 981.9,942.1 983.4,938.4 984.9,940.4 986.4,937.8 987.9,939.9 989.4,937.5 990.9,940.4 992.4,938.3 993.9,941.7 995.4,938.9 996.9,941.1 998.4,937.9 999.9,940.8 1001.4,938.5 1002.9,940.5 1004.4,937.2 1005.9,941.4 1007.4,938.4 1008.9,941.1 1010.4,938.2 1011.9,940.2 1013.4,937.7 1014.9,941.0 1016.4,937.7 1017.9,941.6 1019.4,938.2 1020.9,941.4 1022.4,937.8 1023.9,941.0 1025.4,938.0 1026.9,941.1 1028.4,938.1 1029.9,941.1 1031.4,938.1 1032.9,941.4 1034.4,938.5 1035.9,940.0 1037.4,937.4 1038.9,940.3 1040.4,938.3 1041.9,942.0 1043.4,938.9 1044.9,941.8 1046.4,938.1 1047.9,941.8 1049.4,939.2 1050.9,941.8 1052.4,938.2 1053.9,941.0 1055.4,938.6 1056.9,941.4 1058.4,937.8 1059.9,941.8 1061.4,938.4 1062.9,941.7 1064.4,938.0 1065.9,941.2 1067.4,938.2 1068.9,940.8 1070.4,938.2 1071.9,941.7 1073.4,938.7 1074.9,941.0 1076.4,937.5 1077.9,940.5 1079.4,937.4 1080.9,941.3 1082.4,938.0 1083.9,941.9 1085.4,938.2 1086.9,941.2 1088.4,938.2 1089.9,941.4 1091.4,938.2 1092.9,940.6 1094.4,937.8 1095.9,940.2 1097.4,937.5 1098.9,940.7 1100.4,937.3 1101.9,940.1 1103.4,937.8 1104.9,941.1 1106.4,937.1 1107.9,941.2 1109.4,938.2 1110.9,939.7 1112.4,938.4 1113.9,940.1 1115.4,937.8 1116.9,941.9 1118.4,938.4 1119.9,941.0 1121.4,938.7 1122.9,941.1 1124.4,938.0 1125.9,940.6 1127.4,937.5 1128.9,940.0 1130.4,938.0 1131.9,940.6 1133.4,938.0 1134.9,940.8 1136.4,938.2 1137.9,940.3 1139.4,936.8 1140.9,939.8 1142.4,937.6 1143.9,940.5 1145.4,938.0 1146.9,941.3 1148.4,937.4 1149.9,941.2 1151.4,938.1 1152.9,940.6 1154.4,938.0 1155.9,941.4 1157.4,938.5 1158.9,940.2 1160.4,938.1 1161.9,941.4 1163.4,938.0 1164.9,941.4 1166.4,938.8 1167.9,940.1 1169.4,936.5 1170.9,940.2 1172.4,938.2 1173.9,941.8 1175.4,938.7 1176.9,941.8 1178.4,938.3 1179.9,941.0 1181.4,938.5 1182.9,941.0 1184.4,938.2 1185.9,939.7 1187.4,936.9 1188.9,939.6 1190.4,937.3 1191.9,941.4 1193.4,938.8 1194.9,941.9 1196.4,938.9 1197.9,941.8 1199.4,937.5 1200.9,940.1 1202.4,937.1 1203.9,940.3 1205.4,937.8 1206.9,940.3 1208.4,938.1 1209.9,940.8 1211.4,937.9 1212.9,940.5 1214.4,938.2 1215.9,940.8 1217.4,938.8 1218.9,940.9 1220.4,937.3 1221.9,940.8 1223.4,937.5 1224.9,940.8 1226.4,938.9 1227.9,941.8 1229.4,939.2 1230.9,942.4 1232.4,938.6 1233.9,942.0 1235.4,939.0 1236.9,941.8 1238.4,939.3 1239.9,940.9 1241.4,938.3 1242.9,941.3 1244.4,937.9 1245.9,941.2 1247.4,938.7 1248.9,941.6 1250.4,939.1 1251.9,940.8 1253.4,938.6 1254.9,940.5 1256.4,938.0 1257.9,940.9 1259.4,937.6 1260.9,940.8 1262.4,937.2 1263.9,939.7 1265.4,937.0 1266.9,940.2 1268.4,937.6 1269.9,941.0 1271.4,937.9 1272.9,941.0 1274.4,937.7 1275.9,940.5 1277.4,937.9 1278.9,940.6 1280.4,939.0 1281.9,941.3 1283.4,937.8 1284.9,940.3 1286.4,937.2 1287.9,939.2 1289.4,936.8 1290.9,939.9 1292.4,937.4 1293.9,940.8 1295.4,937.6 1296.9,940.7 1298.4,938.9 1299.9,941.7 1301.4,938.9 1302.9,942.2 1304.4,938.2 1305.9,941.1 1307.4,938.1 1308.9,941.0 1310.4,938.3 1311.9,941.2 1313.4,938.4 1314.9,940.8 1316.4,937.8 1317.9,941.1 1319.4,938.1 1320.9,940.2 1322.4,937.8 1323.9,940.9 1325.4,937.5 1326.9,940.9 1328.4,938.6 1329.9,941.3 1331.4,938.0 1332.9,941.5 1334.4,938.0 1335.9,941.5 1337.4,937.8 1338.9,941.0 1340.4,938.4 1341.9,941.6 1343.4,938.0 1344.9,941.9 1346.4,938.0 1347.9,941.1 1349.4,938.2 1350.9,940.0 1352.4,937.1 1353.9,940.1 1355.4,937.0 1356.9,941.4 1358.4,938.7 1359.9,941.2 1361.4,939.3 1362.9,941.4 1364.4,938.5 1365.9,941.0 1367.4,938.5 1368.9,941.0 1370.4,938.7 1371.9,941.4 1373.4,939.4 1374.9,942.0 1376.4,938.0 1377.9,941.6 1379.4,939.1 1380.9,942.3 1382.4,940.2 1383.9,942.9 1385.4,938.4 1386.9,941.7 1388.4,938.2 1389.9,940.7 1391.4,937.4 1392.9,939.9 1394.4,936.3 1395.9,939.6 1397.4,936.6 1398.9,940.4 1400.4,936.9 1401.9,940.3 1403.4,938.2 1404.9,941.4 1406.4,938.0 1407.9,939.9 1409.4,937.2 1410.9,940.0 1412.4,936.8 1413.9,940.5 1415.4,937.7 1416.9,941.3 1418.4,938.6 1419.9,941.6 1421.4,938.3 1422.9,941.6 1424.4,938.7 1425.9,941.1 1427.4,938.0 1428.9,940.8 1430.4,937.0 1431.9,940.5 1433.4,937.5 1434.9,941.4 1436.4,939.2 1437.9,941.6 1439.4,938.8 1440.9,939.9 1442.4,936.8 1443.9,939.7 1445.4,936.9 1446.9,941.4 1448.4,938.4 1449.9,941.7 1451.4,938.6 1452.9,940.9 1454.4,938.0 1455.9,940.9 1457.4,937.9 1458.9,941.1 1460.4,938.4 1461.9,940.8 1463.4,938.8 1464.9,941.3 1466.4,938.7 1467.9,941.5 1469.4,937.7 1470.9,941.6 1472.4,938.2 1473.9,940.9 1475.4,937.7 1476.9,940.5 1478.4,938.0 1479.9,940.6 1481.4,938.0 1482.9,941.6 1484.4,938.7 1485.9,941.8 1487.4,938.7 1488.9,942.3 1490.4,938.5 1491.9,941.7 1493.4,938.0 1494.9,940.7 1496.4,937.2 1497.9,941.4 1499.4,938.2 1500.9,940.9 1502.4,937.6 1503.9,940.7 1505.4,938.4 1506.9,941.2 1508.4,939.3 1509.9,942.7 1511.4,939.6 1512.9,941.8 1514.4,937.9 1515.9,941.2 1517.4,937.4 1518.9,940.9 1520.4,938.4 1521.9,942.1 1523.4,939.4 1524.9,942.0 1526.4,939.8 1527.9,942.1 1529.4,939.1 1530.9,942.6 1532.4,938.9 1533.9,941.4 1535.4,938.6 1536.9,941.1 1538.4,938.3 1539.9,941.2 1541.4,937.9 1542.9,940.5 1544.4,937.4 1545.9,941.2 1547.4,938.4 1548.9,942.4 1550.4,938.9 1551.9,942.0 1553.4,938.6 1554.9,941.0 1556.4,938.7 1557.9,941.4 1559.4,939.5 1560.9,941.6 1562.4,938.8 1563.9,941.9 1565.4,938.2 1566.9,941.2 1568.4,938.3 1569.9,942.1 1571.4,938.7 1572.9,941.3 1574.4,938.7 1575.9,940.7 1577.4,938.0 1578.9,941.4 1580.4,938.1 1581.9,940.9 1583.4,937.8 1584.9,940.8 1586.4,937.4 1587.9,939.6 1589.4,937.1 1590.9,940.9 1592.4,938.1 1593.9,941.1 1595.4,937.7 1596.9,940.1 1598.4,936.6 1599.9,940.4 1601.4,937.0 1602.9,939.8 1604.4,938.3 1605.9,940.0 1607.4,938.1 1608.9,940.5 1610.4,938.3 1611.9,940.7 1613.4,938.2 1614.9,941.3 1616.4,937.8 1617.9,941.1 1619.4,938.1 1620.9,941.4 1622.4,938.8 1623.9,940.6 1625.4,938.2 1626.9,941.1 1628.4,937.8 1629.9,940.1 1631.4,937.6 1632.9,940.8 1634.4,937.8 1635.9,941.4 1637.4,938.7 1638.9,941.9 1640.4,938.1 1641.9,941.3 1643.4,938.1 1644.9,941.0 1646.4,939.9 1647.9,941.1 1649.4,938.2 1650.9,941.1 1652.4,938.1 1653.9,941.3 1655.4,938.9 1656.9,941.5 1658.4,937.9 1659.9,940.3 1661.4,937.8 1662.9,941.6 1664.4,938.9 1665.9,941.5 1667.4,937.8 1668.9,940.6 1670.4,937.9 1671.9,941.0 1673.4,938.5 1674.9,940.5 1676.4,937.7 1677.9,940.4 1679.4,937.1 1680.9,940.7 1682.4,937.5 1683.9,941.5 1685.4,938.3 1686.9,941.6 1688.4,939.1 1689.9,942.2 1691.4,938.4 1692.9,942.4 1694.4,939.7 1695.9,941.6 1697.4,939.2 1698.9,941.0 1700.4,937.5 1701.9,940.0 1703.4,938.1 1704.9,941.7 1706.4,938.8 1707.9,942.4 1709.4,938.7 1710.9,941.4 1712.4,938.1 1713.9,941.8 1715.4,938.8 1716.9,940.6 1718.4,938.7 1719.9,940.6 1721.4,938.6 1722.9,941.7 1724.4,938.6 1725.9,941.0 1727.4,937.4 1728.9,939.6 1730.4,936.2 1731.9,938.8 1733.4,937.1 1734.9,939.8 1736.4,937.1 1737.9,940.6 1739.4,937.8 1740.9,941.4 1742.4,938.9 1743.9,942.3 1745.4,938.8 1746.9,941.4 1748.4,937.5 1749.9,940.1 1751.4,937.8 1752.9,939.9 1754.4,938.3 1755.9,940.1 1757.4,937.9 1758.9,939.9 1760.4,937.8 1761.9,940.6 1763.4,937.3 1764.9,940.8 1766.4,937.5 1767.9,940.0 1769.4,937.8 1770.9,940.5 1772.4,938.1 1773.9,941.6 1775.4,937.8 1776.9,941.0 1778.4,938.8 1779.9,941.0 1781.4,938.3 1782.9,940.8 1784.4,937.9 1785.9,940.7 1787.4,938.2 1788.9,941.1 1790.4,937.6 1791.9,940.7 1793.4,937.5 1794.9,941.3 1796.4,938.2 1797.9,941.8 1799.4,938.1 1800.9,940.6 1802.4,939.0 1803.9,940.5 1805.4,938.3 1806.9,941.4 1808.4,937.4 1809.9,940.1 1811.4,937.1 1812.9,939.6 1814.4,937.6 1815.9,941.6 1817.4,937.9 1818.9,941.0 1820.4,938.4 1821.9,940.8 1823.4,938.2 1824.9,941.2 1826.4,937.9 1827.9,941.1 1829.4,938.5 1830.9,941.3 1832.4,938.9 1833.9,941.7 1835.4,937.7 1836.9,941.2 1838.4,937.8 1839.9,941.0 1841.4,939.5 1842.9,941.9 1844.4,938.3 1845.9,941.2 1847.4,937.9 1848.9,940.3 1850.4,937.7 1851.9,940.9 1853.4,937.5 1854.9,941.4 1856.4,938.0 1857.9,941.3 1859.4,938.6 1860.9,941.6 1862.4,939.1 1863.9,941.7 1865.4,938.3 1866.9,941.6 1868.4,938.2 1869.9,940.6 1871.4,938.6 1872.9,941.0 1874.4,939.0 1875.9,942.6 1877.4,939.0 1878.9,941.4 1880.4,939.1 1881.9,941.5 1883.4,937.2 1884.9,940.7 1886.4,937.1 1887.9,940.5 1889.4,938.0 1890.9,941.1 1892.4,938.4 1893.9,941.6 1895.4,938.2 1896.9,942.0 1898.4,938.1 1899.9,939.7 1901.4,937.1 1902.9,940.1 1904.4,936.8 1905.9,940.4 1907.4,937.7 1908.9,941.1 1910.4,937.4 1911.9,940.5 1913.4,937.9 1914.9,940.6 1916.4,938.4 1917.9,942.2 1919.4,938.5" fill="none" stroke="#1A6ADC" stroke-width="10" stroke-linejoin="round" stroke-linecap="butt"/>
<polyline points="486.0,941.2 487.5,938.7 489.0,940.7 490.5,937.4 492.0,941.0 493.5,938.0 495.0,940.8 496.5,938.7 498.0,942.1 499.5,939.4 501.0,941.4 502.5,937.8 504.0,940.8 505.5,938.0 507.0,941.1 508.5,938.8 510.0,941.3 511.5,938.9 513.0,942.1 514.5,938.4 516.0,941.0 517.5,938.5 519.0,940.7 520.5,937.7 522.0,940.3 523.5,937.6 525.0,941.0 526.5,939.1 528.0,940.9 529.5,939.1 531.0,940.8 532.5,937.7 534.0,940.6 535.5,937.9 537.0,940.6 538.5,937.6 540.0,939.9 541.5,936.9 543.0,940.2 544.5,937.9 546.0,940.9 547.5,937.8 549.0,940.8 550.5,938.6 552.0,940.7 555.2,939.6 555.2,986.0 555.8,986.0 555.8,944.1 557.0,943.0 558.5,939.8 560.0,942.0 561.5,939.0 563.0,941.1 564.5,938.4 566.0,941.5 567.5,938.0 569.0,940.6 570.5,937.5 572.0,940.5 573.5,936.1 575.0,939.6 576.5,935.7 578.0,939.0 579.5,935.9 581.0,940.1 582.5,936.6 584.0,940.2 585.5,935.6 587.0,938.8 588.5,935.5 590.0,937.9 591.5,934.8 593.0,938.4 594.5,934.9 596.0,938.1 597.5,934.8 599.0,938.8 600.5,935.4 602.0,939.2 603.5,934.5 605.0,938.5 606.5,934.4 608.0,937.8 609.5,935.1 611.0,937.8 612.5,933.0 614.0,937.1 615.5,933.6 617.0,937.4 618.5,933.1 620.0,937.2 621.5,932.3 623.0,936.1 624.5,933.5 626.0,936.6 627.5,933.3 629.0,937.0 630.5,933.3 632.0,936.8 633.5,932.9 635.0,936.0 636.5,932.4 638.0,935.5 639.5,932.5 641.0,937.9 642.5,933.3 644.0,936.8 645.5,932.6 647.0,935.7 648.5,931.4 650.0,935.8 651.5,931.3 653.0,933.7 654.5,930.7 656.0,934.8 657.5,931.2 659.0,936.1 660.5,931.8 662.0,935.0 663.5,930.7 665.0,933.5 666.5,928.7 668.0,933.3 669.5,930.1 671.0,933.6 672.5,930.8 674.0,933.7 675.5,929.4 677.0,933.6 678.5,929.0 680.0,932.5 681.5,928.2 683.0,929.9 684.5,924.0 686.0,928.0 687.5,921.5 689.0,926.3 690.5,919.4 692.0,920.5 693.5,914.8 695.0,917.3 696.5,910.1 698.0,914.7 699.5,908.2 701.0,911.3 702.5,902.5 704.0,902.9 705.5,892.8 707.0,890.9 708.5,880.9 710.0,882.4 711.5,869.7 713.0,871.7 714.5,857.3 716.0,856.3 717.5,843.2 719.0,845.2 720.5,831.6 722.0,831.8 723.5,817.1 725.0,813.9 726.5,799.1 728.0,798.5 729.5,782.9 731.0,783.7 732.5,773.0 734.0,773.7 735.5,759.0 737.0,757.1 738.5,739.3 740.0,740.2 741.5,722.4 743.0,725.6 744.5,716.5 746.0,719.3 747.5,705.3 749.0,708.3 750.5,696.1 752.0,702.7 753.5,690.4 755.0,694.1 756.5,679.4 758.0,682.5 759.5,667.9 761.0,672.1 762.5,656.0 764.0,659.1 765.5,644.9 767.0,645.7 768.5,633.0 770.0,638.6 771.5,622.3 773.0,627.9 774.5,616.1 776.0,622.6 777.5,613.5 779.0,619.3 780.5,607.6 782.0,615.7 783.5,600.9 785.0,606.9 786.5,588.9 788.0,592.2 789.5,574.8 791.0,581.5 792.5,568.4 794.0,572.0 795.5,560.2 797.0,567.6 798.5,554.1 800.0,560.2 801.5,545.9 803.0,556.1 804.5,541.4 806.0,548.3 807.5,537.7 809.0,543.1 810.5,529.1 812.0,535.3 813.5,516.0 815.0,523.4 816.5,512.8 818.0,520.5 819.5,508.0 821.0,515.9 822.5,502.9 824.0,510.2 825.5,493.9 827.0,493.5 829.2,476.3 830.0,485.5 831.5,485.6 833.0,507.5 834.5,506.1 836.0,521.3 837.5,511.1 839.0,526.1 840.5,516.4 842.0,528.7 843.5,521.8 845.0,537.7 846.5,534.7 848.0,552.1 849.5,546.2 851.0,558.3 852.5,555.1 854.0,569.4 855.5,566.0 857.0,580.9 858.5,572.5 860.0,588.4 861.5,579.8 863.0,592.3 864.5,589.1 866.0,602.3 867.5,598.3 869.0,614.9 870.5,608.0 872.0,621.8 873.5,613.4 875.0,626.0 876.5,623.8 878.0,637.2 879.5,634.4 881.0,644.5 882.5,640.8 884.0,654.8 885.5,650.7 887.0,666.8 888.5,662.1 890.0,676.0 891.5,672.8 893.0,684.5 894.5,679.9 896.0,691.8 897.5,690.4 899.0,702.3 900.5,696.3 902.0,709.7 903.5,700.6 905.0,712.8 906.5,706.2 908.0,718.0 909.5,714.1 911.0,723.8 912.5,720.3 914.0,733.4 915.5,730.5 917.0,740.8 918.5,737.2 920.0,748.9 921.5,744.4 923.0,757.6 924.5,756.4 926.0,768.7 927.5,766.9 929.0,779.5 930.5,775.0 932.0,787.3 933.5,784.9 935.0,798.6 936.5,796.1 938.0,806.5 939.5,801.7 941.0,812.9 942.5,813.4 944.0,825.9 945.5,825.1 947.0,838.0 948.5,837.6 950.0,849.2 951.5,847.0 953.0,857.4 954.5,856.7 956.0,865.6 957.5,865.9 959.0,875.9 960.5,874.0 962.0,883.6 963.5,881.4 965.0,889.2 966.5,886.8 968.0,893.9 969.5,890.7 971.0,899.2 972.5,897.0 974.0,904.4 975.5,899.9 977.0,906.6 978.5,903.5 980.0,911.1 981.5,909.8 983.0,916.4 984.5,913.3 986.0,919.4 987.5,916.6 989.0,922.6 990.5,920.4 992.0,926.3 993.5,922.7 995.0,926.8 996.5,923.7 998.0,927.3 999.5,925.3 1001.0,930.3 1002.5,927.3 1004.0,933.7 1005.5,930.4 1007.0,934.2 1008.5,930.5 1010.0,934.7 1011.5,932.8 1013.0,936.9 1014.5,931.9 1016.0,935.8 1017.5,932.5 1019.0,936.6 1020.5,933.9 1022.0,937.4 1023.5,934.8 1025.0,939.6 1026.5,936.7 1028.0,939.6 1029.5,936.3 1031.0,940.7 1032.5,936.7 1034.0,940.4 1035.5,937.4 1037.0,941.1 1038.5,938.8 1040.0,943.3 1041.5,941.0 1043.0,943.9 1044.5,940.7 1046.0,944.2 1047.5,941.5 1049.0,944.5 1050.5,941.6 1052.0,944.5 1053.5,942.6 1055.0,945.9 1056.5,942.6 1058.0,945.7 1059.5,943.5 1061.0,946.0 1062.5,943.7 1064.0,947.0 1065.5,945.0 1067.0,947.3 1068.5,943.8 1070.0,947.2 1071.5,944.1 1073.0,947.7 1074.5,946.4 1076.0,949.7 1077.5,946.5 1079.0,949.9 1080.5,946.8 1082.0,950.1 1083.5,946.9 1085.0,950.1 1086.5,947.3 1088.0,950.3 1089.5,946.7 1091.0,950.0 1092.5,946.5 1094.0,949.5 1095.5,946.7 1097.0,950.0 1098.5,947.5 1100.0,951.2 1100.7,950.0 1101.5,912.4 1102.1,912.4 1102.5,939.6 1103.7,941.2 1105.2,937.7 1106.7,941.1 1108.2,938.2 1109.7,941.1 1111.2,937.9 1112.7,941.1 1114.2,939.1 1115.7,941.7 1117.2,938.8 1118.7,941.3 1120.2,938.9 1121.7,941.5 1123.2,938.8 1124.7,940.3 1126.2,937.7 1127.7,939.6 1129.2,937.7 1130.7,941.1 1132.2,937.4 1133.7,940.5 1135.2,938.6 1136.7,940.7 1138.2,938.4 1139.7,941.3 1141.2,937.2 1142.7,940.3 1144.2,937.8 1145.7,940.9 1147.2,937.9 1148.7,942.1 1150.2,938.6 1151.7,941.1 1153.2,938.0 1154.7,940.6 1156.2,938.7 1157.7,941.9 1159.2,938.2 1160.7,941.2 1162.2,937.6 1163.7,940.7 1165.2,937.7 1166.7,941.5 1168.2,937.5 1169.7,940.4 1171.2,937.7 1172.7,941.0 1174.2,937.7 1175.7,941.3 1177.2,937.2 1178.7,940.1 1180.2,936.9 1181.7,940.7 1183.2,938.4 1184.7,942.0 1186.2,938.6 1187.7,941.8 1189.2,938.0 1190.7,941.1 1192.2,938.2 1193.7,942.1 1195.2,938.9 1196.7,942.1 1198.2,938.8 1199.7,942.0 1201.2,938.5 1202.7,940.7 1204.2,937.4 1205.7,940.2 1207.2,937.9 1208.7,940.7 1210.2,938.0 1211.7,940.9 1213.2,938.4 1214.7,940.5 1216.2,937.5 1217.7,940.4 1219.2,937.3 1220.7,941.0 1222.2,937.6 1223.7,940.5 1225.2,937.5 1226.7,939.5 1228.2,937.1 1229.7,939.9 1231.2,937.3 1232.7,940.7 1234.2,938.3 1235.7,941.3 1237.2,938.6 1238.7,940.8 1240.2,938.3 1241.7,941.1 1243.2,938.0 1244.7,941.5 1246.2,937.9 1247.7,940.3 1249.2,937.5 1250.7,940.7 1252.2,938.4 1253.7,941.4 1255.2,939.6 1256.7,941.5 1258.2,939.3 1259.7,941.8 1261.2,938.5 1262.7,941.6 1264.2,938.3 1265.7,942.1 1267.2,939.8 1268.7,942.0 1270.2,939.0 1271.7,942.5 1273.2,938.8 1274.7,940.7 1276.2,937.5 1277.7,941.1 1279.2,937.9 1280.7,941.5 1282.2,938.3 1283.7,940.8 1285.2,937.6 1286.7,941.4 1288.2,938.2 1289.7,941.0 1291.2,938.2 1292.7,940.7 1294.2,936.9 1295.7,940.6 1297.2,937.5 1298.7,940.7 1300.2,937.6 1301.7,940.9 1303.2,937.8 1304.7,940.5 1306.2,937.5 1307.7,940.7 1309.2,938.6 1310.7,941.1 1312.2,938.5 1313.7,940.1 1315.2,937.2 1316.7,940.0 1318.2,937.3 1319.7,940.7 1321.2,938.3 1322.7,941.4 1324.2,938.6 1325.7,941.1 1327.2,938.6 1328.7,940.7 1330.2,938.3 1331.7,941.2 1333.2,937.7 1334.7,940.9 1336.2,936.9 1337.7,940.6 1339.2,937.5 1340.7,940.8 1342.2,938.0 1343.7,941.6 1345.2,938.7 1346.7,940.3 1348.2,938.5 1349.7,940.9 1351.2,939.0 1352.7,941.4 1354.2,938.5 1355.7,941.3 1357.2,938.6 1358.7,941.9 1360.2,939.1 1361.7,940.9 1363.2,937.9 1364.7,940.5 1366.2,938.4 1367.7,941.1 1369.2,937.3 1370.7,941.4 1372.2,938.7 1373.7,941.0 1375.2,938.7 1376.7,941.2 1378.2,937.0 1379.7,940.4 1381.2,937.1 1382.7,940.6 1384.2,938.2 1385.7,940.8 1387.2,938.5 1388.7,941.1 1390.2,937.9 1391.7,941.2 1393.2,938.3 1394.7,941.0 1396.2,938.2 1397.7,941.5 1399.2,938.8 1400.7,940.4 1402.2,938.0 1403.7,940.8 1405.2,938.1 1406.7,941.8 1408.2,938.7 1409.7,941.8 1411.2,938.0 1412.7,941.9 1414.2,938.1 1415.7,941.9 1417.2,938.5 1418.7,941.5 1420.2,938.3 1421.7,941.8 1423.2,939.0 1424.7,941.6 1426.2,938.2 1427.7,940.7 1429.2,937.9 1430.7,941.9 1432.2,938.8 1433.7,941.9 1435.2,939.0 1436.7,940.5 1438.2,938.2 1439.7,940.7 1441.2,936.9 1442.7,940.4 1444.2,937.0 1445.7,941.1 1447.2,937.9 1448.7,941.3 1450.2,939.0 1451.7,941.6 1453.2,938.8 1454.7,940.6 1456.2,937.9 1457.7,940.6 1459.2,937.5 1460.7,940.8 1462.2,938.0 1463.7,940.3 1465.2,937.3 1466.7,940.1 1468.2,938.1 1469.7,941.0 1471.2,937.1 1472.7,940.7 1474.2,937.5 1475.7,941.2 1477.2,937.6 1478.7,940.5 1480.2,938.0 1481.7,940.1 1483.2,937.7 1484.7,939.5 1486.2,936.4 1487.7,939.8 1489.2,937.1 1490.7,940.9 1492.2,938.0 1493.7,940.2 1495.2,938.2 1496.7,940.8 1498.2,938.3 1499.7,941.1 1501.2,938.7 1502.7,941.0 1504.2,938.4 1505.7,941.3 1507.2,938.8 1508.7,941.8 1510.2,939.5 1511.7,941.3 1513.2,938.0 1514.7,940.0 1516.2,937.8 1517.7,940.9 1519.2,938.6 1520.7,941.4 1522.2,939.0 1523.7,941.9 1525.2,938.1 1526.7,940.7 1528.2,937.3 1529.7,940.4 1531.2,938.2 1532.7,940.8 1534.2,938.2 1535.7,941.5 1537.2,938.3 1538.7,941.2 1540.2,938.2 1541.7,940.8 1543.2,938.4 1544.7,940.5 1546.2,936.7 1547.7,940.0 1549.2,937.3 1550.7,940.5 1552.2,938.6 1553.7,941.4 1555.2,938.4 1556.7,941.4 1558.2,938.4 1559.7,940.0 1561.2,937.9 1562.7,941.0 1564.2,937.8 1565.7,941.5 1567.2,937.8 1568.7,940.8 1570.2,937.9 1571.7,940.7 1573.2,939.0 1574.7,941.9 1576.2,938.7 1577.7,941.4 1579.2,938.1 1580.7,941.1 1582.2,938.1 1583.7,941.5 1585.2,938.3 1586.7,941.1 1588.2,938.8 1589.7,940.9 1591.2,938.7 1592.7,941.2 1594.2,938.7 1595.7,941.7 1597.2,938.2 1598.7,941.7 1600.2,937.7 1601.7,940.6 1603.2,938.7 1604.7,942.0 1606.2,939.4 1607.7,941.2 1609.2,938.5 1610.7,940.9 1612.2,938.3 1613.7,940.5 1615.2,937.6 1616.7,940.8 1618.2,937.1 1619.7,940.0 1621.2,937.8 1622.7,940.8 1624.2,938.2 1625.7,941.5 1627.2,938.2 1628.7,941.7 1630.2,938.5 1631.7,941.0 1633.2,938.0 1634.7,940.9 1636.2,938.0 1637.7,940.3 1639.2,937.3 1640.7,940.7 1642.2,938.8 1643.7,941.9 1645.2,938.8 1646.7,941.6 1648.2,937.5 1649.7,940.5 1651.2,937.9 1652.7,941.7 1654.2,939.7 1655.7,941.9 1657.2,939.1 1658.7,941.4 1660.2,938.6 1661.7,940.9 1663.2,938.2 1664.7,940.6 1666.2,937.9 1667.7,940.9 1669.2,938.1 1670.7,941.3 1672.2,938.3 1673.7,941.4 1675.2,938.7 1676.7,940.6 1678.2,937.2 1679.7,941.0 1681.2,938.3 1682.7,940.7 1684.2,937.9 1685.7,941.3 1687.2,939.0 1688.7,941.6 1690.2,938.7 1691.7,941.9 1693.2,939.0 1694.7,941.3 1696.2,938.0 1697.7,940.8 1699.2,937.5 1700.7,941.3 1702.2,938.0 1703.7,941.4 1705.2,937.6 1706.7,940.2 1708.2,938.2 1709.7,940.2 1711.2,938.2 1712.7,941.1 1714.2,938.6 1715.7,941.4 1717.2,938.2 1718.7,941.1 1720.2,936.7 1721.7,939.9 1723.2,938.2 1724.7,941.3 1726.2,938.6 1727.7,941.8 1729.2,939.2 1730.7,942.0 1732.2,940.0 1733.7,942.9 1735.2,938.3 1736.7,941.6 1738.2,937.6 1739.7,941.2 1741.2,938.8 1742.7,941.9 1744.2,939.4 1745.7,941.6 1747.2,938.5 1748.7,941.3 1750.2,937.4 1751.7,940.9 1753.2,937.7 1754.7,941.2 1756.2,938.7 1757.7,941.4 1759.2,939.5 1760.7,942.3 1762.2,938.8 1763.7,942.0 1765.2,938.2 1766.7,940.5 1768.2,937.4 1769.7,941.1 1771.2,937.7 1772.7,940.8 1774.2,937.9 1775.7,941.3 1777.2,938.5 1778.7,941.0 1780.2,938.0 1781.7,940.5 1783.2,937.6 1784.7,941.6 1786.2,938.6 1787.7,942.0 1789.2,939.0 1790.7,940.7 1792.2,937.7 1793.7,940.9 1795.2,938.3 1796.7,941.2 1798.2,938.6 1799.7,940.7 1801.2,938.6 1802.7,940.6 1804.2,937.9 1805.7,940.0 1807.2,937.4 1808.7,940.0 1810.2,937.6 1811.7,940.9 1813.2,937.3 1814.7,940.9 1816.2,937.8 1817.7,940.9 1819.2,938.8 1820.7,941.1 1822.2,939.1 1823.7,941.8 1825.2,938.2 1826.7,941.2 1828.2,936.9 1829.7,939.5 1831.2,937.6 1832.7,940.1 1834.2,937.5 1835.7,941.8 1837.2,938.1 1838.7,940.9 1840.2,938.7 1841.7,940.4 1843.2,938.7 1844.7,941.3 1846.2,938.4 1847.7,941.1 1849.2,938.3 1850.7,940.6 1852.2,937.9 1853.7,941.8 1855.2,938.5 1856.7,941.2 1858.2,937.7 1859.7,941.5 1861.2,939.2 1862.7,941.7 1864.2,938.6 1865.7,942.1 1867.2,938.4 1868.7,942.0 1870.2,937.8 1871.7,940.5 1873.2,937.3 1874.7,940.4 1876.2,938.0 1877.7,941.6 1879.2,939.1 1880.7,941.5 1882.2,938.8 1883.7,941.5 1885.2,938.5 1886.7,943.1 1888.2,939.3 1889.7,942.2 1891.2,938.7 1892.7,940.8 1894.2,937.6 1895.7,940.4 1897.2,937.5 1898.7,941.2 1900.2,937.9 1901.7,941.0 1903.2,938.7 1904.7,941.0 1906.2,938.5 1907.7,940.2 1909.2,938.0 1910.7,941.4 1912.2,938.6 1913.7,940.6 1915.2,937.0 1916.7,940.1 1918.2,938.3 1919.7,940.8" fill="none" stroke="#35AA6A" stroke-width="10" stroke-linejoin="round" stroke-linecap="butt"/>
<polyline points="486.0,941.9 487.5,937.9 489.0,940.7 490.5,939.1 492.0,941.6 493.5,938.9 495.0,942.0 496.5,938.5 498.0,941.0 499.5,937.9 501.0,940.8 502.5,938.3 504.0,942.0 505.5,938.5 507.0,941.8 508.5,939.3 510.0,941.5 511.5,938.2 513.0,940.6 514.5,936.9 516.0,940.1 517.5,937.9 519.0,941.1 520.5,938.7 522.0,941.6 523.5,937.6 525.0,939.9 526.5,937.6 528.0,941.0 529.5,938.0 531.0,942.1 532.5,938.0 534.0,941.0 535.5,937.5 537.0,940.5 538.5,937.8 540.0,940.7 541.5,938.1 543.0,941.0 544.5,938.8 546.0,941.0 547.5,938.2 549.0,940.5 550.5,937.6 552.0,941.1 555.2,939.6 555.2,986.0 555.8,986.0 555.8,944.1 557.0,943.8 558.5,939.7 560.0,941.9 561.5,938.0 563.0,941.7 564.5,938.1 566.0,941.3 567.5,939.1 569.0,941.3 570.5,937.9 572.0,940.2 573.5,937.1 575.0,940.1 576.5,936.7 578.0,940.4 579.5,936.5 581.0,939.9 582.5,936.3 584.0,940.6 585.5,937.2 587.0,941.2 588.5,938.7 590.0,940.5 591.5,935.9 593.0,937.8 594.5,933.1 596.0,936.5 597.5,934.3 599.0,937.9 600.5,935.6 602.0,938.7 603.5,933.6 605.0,938.2 606.5,933.7 608.0,937.9 609.5,933.8 611.0,937.9 612.5,936.1 614.0,939.0 615.5,936.2 617.0,938.4 618.5,934.3 620.0,937.1 621.5,933.7 623.0,936.4 624.5,934.0 626.0,937.8 627.5,935.3 629.0,939.3 630.5,935.2 632.0,938.0 633.5,932.1 635.0,936.9 636.5,932.5 638.0,936.7 639.5,933.3 641.0,936.3 642.5,933.9 644.0,937.4 645.5,933.3 647.0,936.5 648.5,933.1 650.0,936.2 651.5,933.3 653.0,936.5 654.5,932.2 656.0,936.7 657.5,932.7 659.0,936.9 660.5,933.2 662.0,937.1 663.5,932.4 665.0,936.6 666.5,932.5 668.0,935.4 669.5,932.6 671.0,936.7 672.5,932.2 674.0,935.8 675.5,932.8 677.0,934.8 678.5,931.3 680.0,935.9 681.5,931.0 683.0,935.2 684.5,930.3 686.0,933.9 687.5,931.2 689.0,935.9 690.5,932.5 692.0,935.1 693.5,930.1 695.0,934.1 696.5,929.4 698.0,934.2 699.5,930.0 701.0,933.3 702.5,929.0 704.0,933.0 705.5,929.2 707.0,931.7 708.5,927.6 710.0,929.6 711.5,925.3 713.0,929.5 714.5,924.5 716.0,928.8 717.5,922.9 719.0,926.1 720.5,919.7 722.0,922.6 723.5,915.8 725.0,917.7 726.5,911.1 728.0,912.6 729.5,904.6 731.0,909.3 732.5,901.3 734.0,906.6 735.5,899.3 737.0,902.1 738.5,893.5 740.0,894.8 741.5,884.8 743.0,887.7 744.5,879.0 746.0,879.9 747.5,869.8 749.0,869.8 750.5,860.4 752.0,860.4 753.5,847.2 755.0,850.9 756.5,838.6 758.0,841.3 759.5,827.4 761.0,826.8 762.5,814.0 764.0,815.9 765.5,802.0 767.0,803.8 768.5,790.7 770.0,793.6 771.5,780.2 773.0,782.2 774.5,771.9 776.0,774.7 777.5,760.5 779.0,765.4 780.5,752.3 782.0,754.5 783.5,741.9 785.0,746.9 786.5,735.3 788.0,738.0 789.5,728.3 791.0,733.4 792.5,720.7 794.0,724.5 795.5,712.2 797.0,716.1 798.5,701.3 800.0,705.6 801.5,694.9 803.0,701.8 804.5,689.2 806.0,692.3 807.5,677.9 809.0,683.0 810.5,671.7 812.0,674.9 813.5,663.8 815.0,667.4 816.5,651.0 818.0,657.1 819.5,640.9 821.0,646.2 822.5,633.9 824.0,638.5 825.5,628.1 827.0,636.1 828.5,627.1 830.0,632.3 831.5,619.0 833.0,626.6 834.5,614.1 836.0,620.3 837.5,610.2 839.0,613.3 840.5,602.8 842.0,614.7 843.5,602.3 845.0,609.2 846.5,597.5 848.0,604.7 849.5,591.9 851.0,604.6 852.5,594.3 854.0,598.4 855.5,587.1 857.0,590.7 858.5,580.1 860.0,587.8 861.5,569.7 863.0,577.3 864.5,564.5 866.0,570.3 867.5,558.8 869.0,568.2 870.5,552.4 872.0,556.7 873.5,535.8 875.0,540.2 876.5,532.8 878.0,537.3 879.5,526.9 881.0,539.2 882.5,521.3 884.0,531.6 885.5,517.9 887.0,522.3 888.5,508.1 890.0,510.6 890.9,500.5 893.0,516.2 894.5,511.8 896.0,527.3 897.5,521.4 899.0,539.2 900.5,535.5 902.0,545.0 903.5,534.9 905.0,551.8 906.5,541.5 908.0,556.5 909.5,548.1 911.0,560.0 912.5,550.0 914.0,564.7 915.5,555.5 917.0,566.0 918.5,559.5 920.0,570.6 921.5,565.7 923.0,578.5 924.5,572.1 926.0,586.5 927.5,578.6 929.0,590.2 930.5,582.6 932.0,596.0 933.5,589.2 935.0,601.7 936.5,596.4 938.0,605.9 939.5,598.6 941.0,608.2 942.5,597.6 944.0,610.7 945.5,602.6 947.0,614.1 948.5,611.0 950.0,624.9 951.5,616.2 953.0,632.6 954.5,625.4 956.0,637.4 957.5,633.5 959.0,645.6 960.5,642.6 962.0,654.8 963.5,648.7 965.0,658.7 966.5,651.4 968.0,662.0 969.5,655.7 971.0,669.1 972.5,665.0 974.0,678.2 975.5,678.5 977.0,689.8 978.5,687.5 980.0,698.4 981.5,690.2 983.0,701.1 984.5,694.7 986.0,707.1 987.5,705.0 989.0,715.9 990.5,708.7 992.0,723.5 993.5,715.6 995.0,730.6 996.5,726.7 998.0,739.9 999.5,737.3 1001.0,750.8 1002.5,748.7 1004.0,760.6 1005.5,759.3 1007.0,770.0 1008.5,765.1 1010.0,774.2 1011.5,769.7 1013.0,784.4 1014.5,776.5 1016.0,789.4 1017.5,783.3 1019.0,794.3 1020.5,792.5 1022.0,801.5 1023.5,798.5 1025.0,809.2 1026.5,803.8 1028.0,814.4 1029.5,808.8 1031.0,817.8 1032.5,816.4 1034.0,825.2 1035.5,822.8 1037.0,832.9 1038.5,829.7 1040.0,840.2 1041.5,835.2 1043.0,845.4 1044.5,842.3 1046.0,850.2 1047.5,849.0 1049.0,857.6 1050.5,855.3 1052.0,865.0 1053.5,862.9 1055.0,871.3 1056.5,866.5 1058.0,874.0 1059.5,869.1 1061.0,878.5 1062.5,874.5 1064.0,882.3 1065.5,880.0 1067.0,887.2 1068.5,885.9 1070.0,895.8 1071.5,892.0 1073.0,899.9 1074.5,896.5 1076.0,902.9 1077.5,900.9 1079.0,907.4 1080.5,903.3 1082.0,911.1 1083.5,906.2 1085.0,914.5 1086.5,911.3 1088.0,917.0 1089.5,914.4 1091.0,919.6 1092.5,915.1 1094.0,921.2 1095.5,916.6 1097.0,922.4 1098.5,919.0 1100.0,924.1 1101.5,922.4 1103.0,928.0 1104.5,924.0 1106.0,930.1 1107.5,924.5 1109.0,929.5 1110.5,925.7 1112.0,930.9 1113.5,928.7 1115.0,933.0 1116.5,928.5 1118.0,932.5 1119.5,929.4 1121.0,934.5 1122.5,931.7 1124.0,935.9 1125.5,930.5 1127.0,935.1 1128.5,932.5 1130.0,936.7 1131.5,935.6 1133.0,939.6 1134.5,934.9 1136.0,938.0 1137.5,933.8 1139.0,937.6 1140.5,933.7 1142.0,938.7 1143.5,935.4 1145.0,939.5 1146.5,937.5 1148.0,940.5 1149.5,937.1 1151.0,941.3 1152.5,937.9 1154.0,940.7 1155.5,938.3 1157.0,941.7 1158.5,939.7 1160.0,943.3 1161.5,940.7 1163.0,943.4 1164.5,939.9 1166.0,943.7 1167.5,940.6 1169.0,942.9 1170.5,941.2 1172.0,944.6 1173.5,941.7 1175.0,944.8 1176.5,941.9 1178.0,944.8 1179.5,942.0 1181.0,945.1 1182.5,942.4 1184.0,945.7 1185.5,942.2 1187.0,944.8 1188.5,942.7 1190.0,945.2 1191.5,943.1 1193.0,946.0 1194.5,943.6 1196.0,946.0 1197.5,942.7 1199.0,946.9 1200.5,944.1 1202.0,947.2 1203.5,945.1 1205.0,948.2 1206.5,944.7 1208.0,947.3 1209.5,943.9 1211.0,947.3 1212.5,945.9 1214.0,948.1 1215.5,945.1 1217.0,948.5 1218.5,945.9 1220.0,949.6 1221.5,947.0 1223.0,949.5 1224.5,946.9 1226.0,949.3 1227.5,947.1 1229.0,949.7 1230.5,947.4 1232.0,950.1 1233.5,946.9 1235.0,950.9 1236.5,948.1 1237.5,950.0 1238.3,911.3 1238.9,911.3 1239.3,939.6 1240.5,941.3 1242.0,938.9 1243.5,941.3 1245.0,937.6 1246.5,940.6 1248.0,937.6 1249.5,940.9 1251.0,938.3 1252.5,941.0 1254.0,938.7 1255.5,941.8 1257.0,938.4 1258.5,941.1 1260.0,938.0 1261.5,940.5 1263.0,937.4 1264.5,940.4 1266.0,937.6 1267.5,941.6 1269.0,939.2 1270.5,940.6 1272.0,938.0 1273.5,941.2 1275.0,937.7 1276.5,941.7 1278.0,938.3 1279.5,941.5 1281.0,938.9 1282.5,941.7 1284.0,938.8 1285.5,941.5 1287.0,938.6 1288.5,940.3 1290.0,936.9 1291.5,939.9 1293.0,937.1 1294.5,940.4 1296.0,937.9 1297.5,940.1 1299.0,937.8 1300.5,940.5 1302.0,938.1 1303.5,940.9 1305.0,938.3 1306.5,941.6 1308.0,939.0 1309.5,941.7 1311.0,938.4 1312.5,941.7 1314.0,938.2 1315.5,941.6 1317.0,937.7 1318.5,940.7 1320.0,937.7 1321.5,940.2 1323.0,937.6 1324.5,940.0 1326.0,937.6 1327.5,941.1 1329.0,937.8 1330.5,941.5 1332.0,938.9 1333.5,941.4 1335.0,938.7 1336.5,941.8 1338.0,937.4 1339.5,939.8 1341.0,936.7 1342.5,940.3 1344.0,937.9 1345.5,941.4 1347.0,938.4 1348.5,941.3 1350.0,936.7 1351.5,939.2 1353.0,937.1 1354.5,939.3 1356.0,937.5 1357.5,941.4 1359.0,938.0 1360.5,941.2 1362.0,938.5 1363.5,941.9 1365.0,938.9 1366.5,941.7 1368.0,939.8 1369.5,942.3 1371.0,939.4 1372.5,941.7 1374.0,938.8 1375.5,941.8 1377.0,939.5 1378.5,942.1 1380.0,939.0 1381.5,941.2 1383.0,937.3 1384.5,940.8 1386.0,938.2 1387.5,940.9 1389.0,937.7 1390.5,940.5 1392.0,938.5 1393.5,941.3 1395.0,938.1 1396.5,940.2 1398.0,937.7 1399.5,940.7 1401.0,938.4 1402.5,940.4 1404.0,936.9 1405.5,940.2 1407.0,937.1 1408.5,940.5 1410.0,938.7 1411.5,940.8 1413.0,939.0 1414.5,942.0 1416.0,939.3 1417.5,942.1 1419.0,938.6 1420.5,940.7 1422.0,938.3 1423.5,941.8 1425.0,939.1 1426.5,942.3 1428.0,938.5 1429.5,940.6 1431.0,937.3 1432.5,940.0 1434.0,937.9 1435.5,940.6 1437.0,938.4 1438.5,941.0 1440.0,937.2 1441.5,940.2 1443.0,937.6 1444.5,940.6 1446.0,938.1 1447.5,942.1 1449.0,939.3 1450.5,942.7 1452.0,938.2 1453.5,940.8 1455.0,937.4 1456.5,940.7 1458.0,938.9 1459.5,942.0 1461.0,939.1 1462.5,941.2 1464.0,939.3 1465.5,941.6 1467.0,937.7 1468.5,941.3 1470.0,937.8 1471.5,941.4 1473.0,938.3 1474.5,941.1 1476.0,938.4 1477.5,941.4 1479.0,937.7 1480.5,940.6 1482.0,938.3 1483.5,941.1 1485.0,938.8 1486.5,941.1 1488.0,937.3 1489.5,940.3 1491.0,937.7 1492.5,941.5 1494.0,938.4 1495.5,940.7 1497.0,938.1 1498.5,941.0 1500.0,938.2 1501.5,941.3 1503.0,938.5 1504.5,940.7 1506.0,937.5 1507.5,941.1 1509.0,937.4 1510.5,940.4 1512.0,937.4 1513.5,940.9 1515.0,938.0 1516.5,941.0 1518.0,938.2 1519.5,941.7 1521.0,938.3 1522.5,941.3 1524.0,938.4 1525.5,940.8 1527.0,937.7 1528.5,939.8 1530.0,937.6 1531.5,940.9 1533.0,939.0 1534.5,941.7 1536.0,937.8 1537.5,940.8 1539.0,938.4 1540.5,941.4 1542.0,938.6 1543.5,941.4 1545.0,938.2 1546.5,941.2 1548.0,937.4 1549.5,939.8 1551.0,936.5 1552.5,939.8 1554.0,936.9 1555.5,939.5 1557.0,936.9 1558.5,940.0 1560.0,937.1 1561.5,941.3 1563.0,939.6 1564.5,942.5 1566.0,939.2 1567.5,941.9 1569.0,937.6 1570.5,940.8 1572.0,938.0 1573.5,940.2 1575.0,938.2 1576.5,941.3 1578.0,937.6 1579.5,941.5 1581.0,938.1 1582.5,941.6 1584.0,939.3 1585.5,942.0 1587.0,939.4 1588.5,942.1 1590.0,938.7 1591.5,941.2 1593.0,938.2 1594.5,941.5 1596.0,938.6 1597.5,941.4 1599.0,938.2 1600.5,941.8 1602.0,938.8 1603.5,940.8 1605.0,937.7 1606.5,940.7 1608.0,937.4 1609.5,940.4 1611.0,938.5 1612.5,941.6 1614.0,938.1 1615.5,941.7 1617.0,938.9 1618.5,941.7 1620.0,938.8 1621.5,941.4 1623.0,937.8 1624.5,941.1 1626.0,937.9 1627.5,940.9 1629.0,938.1 1630.5,941.0 1632.0,938.4 1633.5,941.2 1635.0,937.7 1636.5,940.9 1638.0,938.0 1639.5,940.0 1641.0,937.9 1642.5,940.2 1644.0,938.2 1645.5,941.1 1647.0,937.4 1648.5,940.7 1650.0,937.6 1651.5,941.2 1653.0,937.9 1654.5,940.2 1656.0,937.2 1657.5,940.1 1659.0,937.6 1660.5,940.1 1662.0,937.1 1663.5,940.0 1665.0,937.7 1666.5,940.1 1668.0,937.4 1669.5,940.3 1671.0,937.1 1672.5,940.6 1674.0,938.3 1675.5,941.1 1677.0,938.5 1678.5,940.6 1680.0,937.8 1681.5,939.8 1683.0,937.2 1684.5,940.9 1686.0,938.0 1687.5,941.5 1689.0,938.1 1690.5,940.7 1692.0,938.4 1693.5,940.2 1695.0,937.4 1696.5,941.1 1698.0,937.7 1699.5,940.3 1701.0,938.0 1702.5,939.4 1704.0,937.2 1705.5,940.0 1707.0,937.2 1708.5,941.2 1710.0,937.6 1711.5,941.0 1713.0,938.1 1714.5,940.5 1716.0,938.5 1717.5,941.8 1719.0,938.5 1720.5,942.0 1722.0,937.3 1723.5,940.6 1725.0,937.5 1726.5,941.6 1728.0,938.4 1729.5,941.7 1731.0,939.6 1732.5,941.9 1734.0,938.7 1735.5,942.1 1737.0,938.2 1738.5,940.7 1740.0,937.8 1741.5,940.7 1743.0,938.1 1744.5,940.3 1746.0,936.8 1747.5,939.5 1749.0,937.0 1750.5,940.9 1752.0,938.5 1753.5,941.4 1755.0,938.3 1756.5,941.1 1758.0,938.8 1759.5,941.2 1761.0,937.6 1762.5,940.9 1764.0,937.1 1765.5,939.8 1767.0,936.7 1768.5,940.3 1770.0,938.4 1771.5,942.1 1773.0,940.7 1774.5,941.9 1776.0,939.6 1777.5,940.5 1779.0,937.6 1780.5,942.5 1782.0,938.1 1783.5,941.5 1785.0,938.5 1786.5,940.5 1788.0,938.9 1789.5,941.8 1791.0,939.1 1792.5,941.4 1794.0,938.6 1795.5,940.6 1797.0,937.4 1798.5,941.2 1800.0,937.6 1801.5,940.7 1803.0,936.9 1804.5,940.6 1806.0,938.1 1807.5,941.0 1809.0,938.0 1810.5,940.5 1812.0,937.5 1813.5,941.1 1815.0,938.1 1816.5,940.6 1818.0,937.9 1819.5,940.4 1821.0,938.2 1822.5,941.8 1824.0,938.9 1825.5,941.2 1827.0,938.5 1828.5,940.8 1830.0,938.3 1831.5,941.3 1833.0,938.8 1834.5,942.0 1836.0,938.7 1837.5,941.1 1839.0,938.5 1840.5,940.8 1842.0,937.8 1843.5,940.9 1845.0,937.9 1846.5,940.4 1848.0,937.8 1849.5,940.1 1851.0,938.1 1852.5,940.9 1854.0,937.7 1855.5,940.4 1857.0,937.5 1858.5,940.2 1860.0,937.1 1861.5,940.1 1863.0,936.9 1864.5,939.9 1866.0,937.0 1867.5,940.0 1869.0,937.1 1870.5,941.4 1872.0,938.6 1873.5,941.3 1875.0,938.6 1876.5,940.8 1878.0,936.9 1879.5,940.7 1881.0,937.1 1882.5,940.5 1884.0,937.4 1885.5,940.9 1887.0,938.5 1888.5,941.7 1890.0,938.1 1891.5,940.6 1893.0,937.5 1894.5,940.7 1896.0,937.9 1897.5,940.8 1899.0,937.9 1900.5,940.1 1902.0,938.6 1903.5,942.0 1905.0,938.7 1906.5,941.8 1908.0,938.1 1909.5,940.0 1911.0,937.6 1912.5,941.1 1914.0,937.6 1915.5,941.1 1917.0,938.1 1918.5,942.0 1920.0,938.4" fill="none" stroke="#B07ADE" stroke-width="10" stroke-linejoin="round" stroke-linecap="butt"/>
<polyline points="486.0,941.1 487.5,937.5 489.0,940.9 490.5,938.0 492.0,941.1 493.5,939.1 495.0,942.1 496.5,939.2 498.0,942.5 499.5,939.4 501.0,942.1 502.5,939.0 504.0,941.3 505.5,938.7 507.0,940.8 508.5,937.8 510.0,940.3 511.5,937.6 513.0,940.4 514.5,936.7 516.0,940.8 517.5,938.0 519.0,942.1 520.5,939.4 522.0,940.9 523.5,938.0 525.0,940.5 526.5,936.8 528.0,939.8 529.5,936.4 531.0,939.7 532.5,937.5 534.0,941.7 535.5,939.5 537.0,942.3 538.5,939.3 540.0,941.1 541.5,938.0 543.0,940.7 544.5,938.2 546.0,941.4 547.5,938.5 549.0,941.2 550.5,938.0 552.0,941.7 555.2,939.6 555.2,986.0 555.8,986.0 555.8,944.1 557.0,944.9 558.5,941.9 560.0,944.1 561.5,940.9 563.0,943.3 564.5,939.4 566.0,942.8 567.5,938.9 569.0,941.8 570.5,939.0 572.0,942.1 573.5,938.6 575.0,940.7 576.5,938.2 578.0,940.0 579.5,937.5 581.0,940.9 582.5,937.1 584.0,940.9 585.5,938.1 587.0,940.8 588.5,937.6 590.0,940.2 591.5,936.3 593.0,939.7 594.5,936.4 596.0,939.4 597.5,936.8 599.0,938.8 600.5,936.0 602.0,939.5 603.5,935.4 605.0,939.2 606.5,935.3 608.0,939.0 609.5,935.6 611.0,938.2 612.5,935.6 614.0,938.8 615.5,935.0 617.0,938.6 618.5,935.4 620.0,938.0 621.5,935.8 623.0,939.2 624.5,935.1 626.0,940.2 627.5,935.4 629.0,938.3 630.5,934.3 632.0,937.4 633.5,933.5 635.0,936.6 636.5,934.5 638.0,938.3 639.5,934.6 641.0,938.4 642.5,934.8 644.0,938.4 645.5,934.5 647.0,938.2 648.5,934.2 650.0,937.9 651.5,933.5 653.0,936.8 654.5,933.3 656.0,937.5 657.5,933.8 659.0,937.7 660.5,934.4 662.0,939.0 663.5,934.5 665.0,938.5 666.5,934.2 668.0,938.3 669.5,934.0 671.0,936.8 672.5,932.6 674.0,936.5 675.5,933.4 677.0,936.7 678.5,933.4 680.0,937.4 681.5,933.1 683.0,937.3 684.5,931.2 686.0,934.8 687.5,931.9 689.0,935.5 690.5,932.5 692.0,935.0 693.5,931.9 695.0,935.3 696.5,930.7 698.0,935.4 699.5,931.7 701.0,934.7 702.5,931.6 704.0,934.5 705.5,931.3 707.0,934.8 708.5,931.6 710.0,936.1 711.5,931.6 713.0,934.3 714.5,930.9 716.0,933.2 717.5,929.4 719.0,934.6 720.5,929.7 722.0,934.4 723.5,929.9 725.0,934.8 726.5,929.9 728.0,933.4 729.5,929.5 731.0,933.3 732.5,928.7 734.0,931.9 735.5,928.4 737.0,931.6 738.5,927.6 740.0,932.2 741.5,927.7 743.0,931.9 744.5,927.9 746.0,932.1 747.5,927.5 749.0,930.9 750.5,923.8 752.0,927.4 753.5,921.5 755.0,922.9 756.5,916.2 758.0,920.0 759.5,914.2 761.0,917.5 762.5,911.8 764.0,916.3 765.5,908.7 767.0,912.0 768.5,904.3 770.0,908.7 771.5,900.0 773.0,902.4 774.5,893.4 776.0,896.4 777.5,888.8 779.0,892.9 780.5,885.9 782.0,886.6 783.5,876.4 785.0,876.5 786.5,866.8 788.0,867.8 789.5,859.6 791.0,861.7 792.5,852.0 794.0,855.2 795.5,840.7 797.0,841.7 798.5,832.0 800.0,830.3 801.5,819.1 803.0,823.4 804.5,811.1 806.0,816.4 807.5,803.3 809.0,805.4 810.5,793.8 812.0,796.3 813.5,789.1 815.0,791.0 816.5,780.8 818.0,785.2 819.5,774.5 821.0,778.8 822.5,767.4 824.0,772.3 825.5,762.9 827.0,764.9 828.5,753.4 830.0,757.0 831.5,746.5 833.0,750.9 834.5,740.1 836.0,742.0 837.5,731.1 839.0,737.8 840.5,726.1 842.0,733.8 843.5,719.7 845.0,727.0 846.5,713.9 848.0,718.6 849.5,707.6 851.0,711.8 852.5,698.1 854.0,702.6 855.5,691.7 857.0,695.1 858.5,679.9 860.0,686.2 861.5,674.3 863.0,681.0 864.5,672.3 866.0,679.5 867.5,666.6 869.0,673.5 870.5,662.6 872.0,666.7 873.5,657.1 875.0,663.1 876.5,654.1 878.0,660.9 879.5,652.6 881.0,659.3 882.5,649.1 884.0,655.1 885.5,645.8 887.0,652.8 888.5,640.8 890.0,647.0 891.5,635.6 893.0,641.6 894.5,628.4 896.0,632.9 897.5,620.8 899.0,632.3 900.5,620.2 902.0,626.3 903.5,615.7 905.0,622.9 906.5,612.4 908.0,621.2 909.5,607.8 911.0,617.7 912.5,603.3 914.0,610.2 915.5,598.3 917.0,607.2 918.5,596.8 920.0,604.5 921.5,592.7 923.0,600.9 924.5,587.2 926.0,594.6 927.5,583.4 929.0,591.1 930.5,582.3 932.0,587.1 933.5,574.0 935.0,582.9 936.5,567.7 938.0,576.9 939.5,562.0 941.0,570.8 942.5,560.2 944.0,570.3 945.5,562.4 947.0,571.7 948.5,561.8 950.0,571.0 951.5,559.8 953.0,564.1 954.5,554.9 956.0,561.1 957.5,545.5 959.0,551.0 960.5,532.4 962.0,539.7 963.5,524.5 964.6,525.4 966.5,532.1 968.0,549.5 969.5,542.9 971.0,556.7 972.5,547.3 974.0,561.0 975.5,551.4 977.0,563.9 978.5,555.3 980.0,566.8 981.5,561.1 983.0,571.5 984.5,565.1 986.0,576.2 987.5,568.1 989.0,580.7 990.5,571.7 992.0,581.4 993.5,578.5 995.0,592.7 996.5,589.0 998.0,603.4 999.5,598.1 1001.0,611.6 1002.5,603.2 1004.0,615.2 1005.5,607.9 1007.0,620.7 1008.5,613.1 1010.0,624.8 1011.5,618.0 1013.0,630.5 1014.5,624.8 1016.0,639.8 1017.5,632.2 1019.0,645.5 1020.5,637.6 1022.0,649.3 1023.5,642.4 1025.0,650.2 1026.5,641.9 1028.0,652.7 1029.5,648.6 1031.0,658.8 1032.5,653.2 1034.0,663.4 1035.5,656.6 1037.0,667.2 1038.5,663.5 1040.0,673.6 1041.5,671.2 1043.0,682.6 1044.5,678.5 1046.0,689.2 1047.5,683.0 1049.0,691.4 1050.5,686.4 1052.0,697.1 1053.5,691.1 1055.0,699.3 1056.5,693.6 1058.0,705.3 1059.5,698.6 1061.0,708.7 1062.5,703.1 1064.0,715.3 1065.5,708.8 1067.0,720.6 1068.5,713.7 1070.0,725.7 1071.5,716.8 1073.0,728.5 1074.5,724.5 1076.0,734.0 1077.5,730.1 1079.0,741.4 1080.5,734.7 1082.0,745.1 1083.5,739.2 1085.0,749.6 1086.5,747.6 1088.0,757.1 1089.5,752.1 1091.0,765.0 1092.5,760.2 1094.0,771.3 1095.5,764.6 1097.0,773.8 1098.5,768.5 1100.0,778.7 1101.5,774.3 1103.0,783.1 1104.5,780.4 1106.0,788.9 1107.5,783.0 1109.0,792.7 1110.5,785.9 1112.0,799.0 1113.5,794.2 1115.0,804.3 1116.5,800.8 1118.0,811.1 1119.5,808.6 1121.0,819.7 1122.5,816.3 1124.0,823.7 1125.5,819.3 1127.0,828.8 1128.5,826.6 1130.0,837.1 1131.5,832.4 1133.0,841.3 1134.5,837.5 1136.0,845.5 1137.5,843.7 1139.0,852.3 1140.5,850.4 1142.0,858.5 1143.5,854.8 1145.0,864.2 1146.5,859.6 1148.0,869.3 1149.5,865.0 1151.0,874.2 1152.5,870.7 1154.0,878.6 1155.5,875.5 1157.0,883.7 1158.5,879.1 1160.0,885.5 1161.5,883.0 1163.0,891.5 1164.5,885.8 1166.0,894.3 1167.5,891.1 1169.0,896.9 1170.5,894.4 1172.0,901.2 1173.5,895.8 1175.0,901.8 1176.5,898.4 1178.0,905.3 1179.5,900.9 1181.0,906.8 1182.5,904.0 1184.0,909.9 1185.5,906.5 1187.0,911.3 1188.5,909.4 1190.0,914.0 1191.5,912.2 1193.0,917.6 1194.5,914.9 1196.0,921.2 1197.5,916.7 1199.0,921.0 1200.5,918.0 1202.0,921.1 1203.5,919.3 1205.0,924.9 1206.5,920.7 1208.0,925.9 1209.5,921.8 1211.0,926.7 1212.5,924.2 1214.0,929.0 1215.5,926.4 1217.0,930.5 1218.5,926.7 1220.0,931.7 1221.5,927.9 1223.0,933.0 1224.5,930.3 1226.0,934.5 1227.5,931.0 1229.0,934.8 1230.5,932.1 1232.0,935.7 1233.5,932.2 1235.0,935.8 1236.5,932.8 1238.0,937.4 1239.5,933.5 1241.0,937.1 1242.5,933.3 1244.0,936.8 1245.5,933.4 1247.0,937.4 1248.5,934.5 1250.0,937.0 1251.5,935.5 1253.0,939.2 1254.5,935.7 1256.0,939.6 1257.5,935.8 1259.0,939.7 1260.5,937.3 1262.0,940.2 1263.5,937.5 1265.0,940.8 1266.5,937.9 1268.0,940.9 1269.5,937.4 1271.0,940.7 1272.5,938.3 1274.0,941.0 1275.5,939.1 1277.0,941.4 1278.5,939.2 1280.0,942.3 1281.5,939.4 1283.0,942.9 1284.5,939.9 1286.0,943.1 1287.5,940.1 1289.0,942.7 1290.5,940.6 1292.0,942.6 1293.5,940.0 1295.0,943.8 1296.5,940.2 1298.0,943.6 1299.5,941.1 1301.0,943.7 1302.5,941.6 1304.0,944.1 1305.5,941.8 1307.0,943.9 1308.5,941.7 1310.0,946.1 1311.5,943.0 1313.0,946.1 1314.5,944.1 1316.0,946.1 1317.5,942.3 1319.0,946.6 1320.5,943.3 1322.0,946.3 1323.5,943.7 1325.0,947.1 1326.5,944.5 1328.0,947.8 1329.5,945.0 1331.0,947.9 1332.5,945.4 1334.0,947.9 1335.5,945.2 1337.0,948.6 1338.5,944.4 1340.0,947.6 1341.5,944.3 1343.0,948.0 1344.5,945.1 1346.0,948.7 1347.5,946.1 1349.0,949.6 1350.5,947.3 1352.0,950.8 1353.5,947.7 1355.0,950.8 1356.5,947.3 1358.0,950.2 1359.5,948.0 1361.0,950.1 1362.5,947.3 1364.0,950.3 1365.5,948.1 1367.0,950.8 1368.5,947.6 1370.0,950.3 1371.5,948.4 1373.0,951.5 1374.3,950.0 1375.1,906.6 1375.7,906.6 1376.1,939.6 1377.3,941.6 1378.8,938.4 1380.3,942.0 1381.8,938.6 1383.3,942.5 1384.8,939.5 1386.3,941.6 1387.8,940.0 1389.3,942.8 1390.8,938.2 1392.3,941.2 1393.8,937.7 1395.3,940.9 1396.8,939.2 1398.3,941.1 1399.8,938.0 1401.3,941.4 1402.8,937.1 1404.3,941.1 1405.8,938.2 1407.3,941.0 1408.8,937.9 1410.3,940.8 1411.8,938.8 1413.3,941.5 1414.8,938.6 1416.3,941.5 1417.8,938.2 1419.3,940.8 1420.8,937.8 1422.3,941.2 1423.8,937.9 1425.3,941.2 1426.8,939.0 1428.3,940.7 1429.8,937.8 1431.3,939.9 1432.8,937.2 1434.3,940.5 1435.8,937.4 1437.3,940.1 1438.8,938.2 1440.3,940.0 1441.8,937.6 1443.3,940.7 1444.8,938.3 1446.3,941.3 1447.8,938.7 1449.3,941.9 1450.8,938.3 1452.3,940.9 1453.8,937.9 1455.3,941.3 1456.8,938.8 1458.3,941.0 1459.8,937.9 1461.3,940.3 1462.8,937.1 1464.3,940.4 1465.8,937.0 1467.3,940.6 1468.8,938.0 1470.3,941.4 1471.8,939.0 1473.3,941.2 1474.8,938.2 1476.3,941.0 1477.8,938.2 1479.3,941.5 1480.8,937.9 1482.3,940.1 1483.8,937.0 1485.3,940.3 1486.8,936.3 1488.3,940.8 1489.8,938.4 1491.3,941.9 1492.8,939.4 1494.3,942.3 1495.8,939.1 1497.3,941.2 1498.8,938.1 1500.3,941.7 1501.8,940.1 1503.3,943.4 1504.8,939.5 1506.3,942.0 1507.8,938.2 1509.3,940.4 1510.8,937.9 1512.3,940.4 1513.8,938.2 1515.3,941.3 1516.8,938.7 1518.3,941.0 1519.8,938.5 1521.3,941.3 1522.8,937.3 1524.3,940.6 1525.8,936.7 1527.3,940.1 1528.8,937.0 1530.3,940.3 1531.8,938.5 1533.3,941.1 1534.8,938.2 1536.3,941.1 1537.8,938.0 1539.3,941.1 1540.8,937.8 1542.3,940.8 1543.8,938.4 1545.3,940.4 1546.8,937.8 1548.3,941.1 1549.8,937.5 1551.3,940.5 1552.8,938.8 1554.3,941.8 1555.8,938.7 1557.3,941.7 1558.8,938.2 1560.3,940.3 1561.8,936.9 1563.3,939.8 1564.8,937.2 1566.3,940.6 1567.8,937.4 1569.3,941.3 1570.8,937.6 1572.3,940.9 1573.8,938.2 1575.3,940.9 1576.8,938.0 1578.3,941.6 1579.8,938.2 1581.3,941.7 1582.8,938.0 1584.3,941.4 1585.8,939.0 1587.3,940.8 1588.8,938.7 1590.3,940.6 1591.8,937.7 1593.3,940.3 1594.8,937.4 1596.3,940.5 1597.8,937.3 1599.3,941.3 1600.8,937.7 1602.3,940.5 1603.8,937.5 1605.3,940.4 1606.8,937.9 1608.3,941.1 1609.8,938.2 1611.3,941.9 1612.8,939.2 1614.3,942.2 1615.8,939.4 1617.3,941.6 1618.8,938.4 1620.3,941.4 1621.8,938.3 1623.3,941.2 1624.8,939.0 1626.3,941.7 1627.8,939.2 1629.3,941.7 1630.8,938.3 1632.3,940.8 1633.8,937.8 1635.3,940.9 1636.8,937.8 1638.3,941.8 1639.8,938.3 1641.3,940.9 1642.8,937.1 1644.3,940.6 1645.8,938.4 1647.3,940.8 1648.8,938.4 1650.3,941.2 1651.8,937.5 1653.3,940.3 1654.8,938.0 1656.3,941.0 1657.8,938.4 1659.3,941.8 1660.8,938.8 1662.3,942.2 1663.8,939.7 1665.3,942.2 1666.8,938.7 1668.3,940.8 1669.8,937.1 1671.3,939.9 1672.8,937.7 1674.3,941.4 1675.8,939.0 1677.3,942.0 1678.8,938.6 1680.3,941.1 1681.8,937.9 1683.3,940.2 1684.8,938.1 1686.3,941.3 1687.8,938.0 1689.3,940.9 1690.8,937.5 1692.3,940.6 1693.8,937.3 1695.3,940.6 1696.8,938.4 1698.3,941.7 1699.8,938.6 1701.3,940.1 1702.8,936.7 1704.3,939.5 1705.8,937.4 1707.3,940.5 1708.8,937.8 1710.3,940.4 1711.8,937.6 1713.3,940.8 1714.8,937.7 1716.3,941.0 1717.8,937.9 1719.3,940.2 1720.8,937.9 1722.3,940.6 1723.8,937.7 1725.3,940.6 1726.8,937.1 1728.3,940.5 1729.8,937.0 1731.3,939.8 1732.8,938.5 1734.3,941.6 1735.8,939.0 1737.3,942.1 1738.8,938.5 1740.3,941.2 1741.8,937.7 1743.3,941.1 1744.8,937.6 1746.3,940.9 1747.8,937.2 1749.3,939.8 1750.8,937.7 1752.3,939.8 1753.8,937.8 1755.3,939.5 1756.8,937.5 1758.3,940.0 1759.8,937.9 1761.3,940.9 1762.8,938.0 1764.3,941.0 1765.8,938.2 1767.3,941.1 1768.8,937.5 1770.3,940.5 1771.8,938.3 1773.3,940.7 1774.8,938.0 1776.3,940.6 1777.8,938.4 1779.3,942.4 1780.8,939.3 1782.3,942.0 1783.8,937.5 1785.3,941.5 1786.8,938.7 1788.3,941.4 1789.8,938.8 1791.3,940.8 1792.8,937.8 1794.3,940.8 1795.8,937.1 1797.3,941.1 1798.8,938.1 1800.3,940.7 1801.8,938.6 1803.3,940.8 1804.8,938.1 1806.3,941.1 1807.8,937.9 1809.3,941.5 1810.8,937.3 1812.3,941.0 1813.8,937.8 1815.3,941.2 1816.8,937.9 1818.3,941.3 1819.8,938.4 1821.3,941.3 1822.8,938.9 1824.3,941.4 1825.8,938.6 1827.3,940.4 1828.8,937.8 1830.3,941.1 1831.8,937.9 1833.3,940.7 1834.8,937.7 1836.3,941.2 1837.8,937.7 1839.3,942.0 1840.8,939.5 1842.3,941.8 1843.8,939.3 1845.3,940.7 1846.8,938.0 1848.3,940.6 1849.8,937.9 1851.3,941.3 1852.8,938.4 1854.3,940.9 1855.8,938.8 1857.3,941.6 1858.8,938.7 1860.3,941.3 1861.8,937.7 1863.3,940.6 1864.8,938.1 1866.3,941.1 1867.8,937.9 1869.3,941.1 1870.8,938.1 1872.3,940.7 1873.8,938.3 1875.3,940.9 1876.8,938.5 1878.3,941.3 1879.8,938.9 1881.3,940.6 1882.8,938.1 1884.3,940.5 1885.8,937.2 1887.3,940.4 1888.8,937.8 1890.3,940.8 1891.8,938.1 1893.3,940.9 1894.8,938.0 1896.3,941.3 1897.8,938.7 1899.3,941.9 1900.8,938.7 1902.3,941.4 1903.8,937.8 1905.3,940.7 1906.8,938.9 1908.3,941.5 1909.8,938.2 1911.3,940.8 1912.8,938.5 1914.3,941.3 1915.8,939.0 1917.3,941.3 1918.8,938.1 1920.3,940.5" fill="none" stroke="#CC9900" stroke-width="10" stroke-linejoin="round" stroke-linecap="butt"/>
<polyline points="486.0,941.4 487.5,938.9 489.0,940.3 490.5,937.1 492.0,940.9 493.5,937.9 495.0,940.5 496.5,938.6 498.0,941.4 499.5,938.6 501.0,941.5 502.5,938.6 504.0,940.6 505.5,938.5 507.0,941.1 508.5,938.5 510.0,941.9 511.5,938.3 513.0,940.9 514.5,938.2 516.0,941.0 517.5,938.5 519.0,940.8 520.5,938.9 522.0,940.8 523.5,938.8 525.0,942.2 526.5,938.0 528.0,940.8 529.5,938.2 531.0,940.2 532.5,937.7 534.0,940.9 535.5,938.1 537.0,941.1 538.5,937.1 540.0,941.1 541.5,938.6 543.0,942.0 544.5,939.4 546.0,941.4 547.5,938.0 549.0,940.8 550.5,938.1 552.0,941.5 555.2,939.6 555.2,986.0 555.8,986.0 555.8,944.1 557.0,945.3 558.5,940.5 560.0,944.1 561.5,941.4 563.0,943.5 564.5,940.4 566.0,942.5 567.5,939.4 569.0,942.7 570.5,939.8 572.0,943.4 573.5,940.2 575.0,942.1 576.5,938.9 578.0,941.1 579.5,938.4 581.0,941.4 582.5,938.9 584.0,941.4 585.5,938.8 587.0,940.8 588.5,937.5 590.0,940.1 591.5,937.0 593.0,939.9 594.5,935.6 596.0,939.2 597.5,936.9 599.0,940.2 600.5,937.3 602.0,940.2 603.5,936.0 605.0,939.1 606.5,936.3 608.0,938.5 609.5,935.6 611.0,938.6 612.5,936.1 614.0,939.4 615.5,935.3 617.0,938.2 618.5,934.8 620.0,938.7 621.5,935.0 623.0,939.3 624.5,934.0 626.0,937.5 627.5,935.2 629.0,939.2 630.5,934.9 632.0,939.7 633.5,935.6 635.0,938.1 636.5,935.3 638.0,940.1 639.5,936.5 641.0,940.1 642.5,936.1 644.0,939.6 645.5,936.4 647.0,939.2 648.5,935.2 650.0,938.5 651.5,934.0 653.0,938.2 654.5,934.9 656.0,938.3 657.5,934.9 659.0,939.4 660.5,935.5 662.0,938.5 663.5,934.5 665.0,938.5 666.5,935.8 668.0,938.6 669.5,935.4 671.0,938.6 672.5,932.8 674.0,936.9 675.5,933.3 677.0,938.2 678.5,934.7 680.0,938.0 681.5,935.3 683.0,937.4 684.5,935.3 686.0,937.8 687.5,934.1 689.0,938.8 690.5,934.2 692.0,938.1 693.5,934.1 695.0,939.1 696.5,935.0 698.0,938.8 699.5,934.4 701.0,937.4 702.5,932.6 704.0,936.6 705.5,933.1 707.0,936.8 708.5,932.5 710.0,936.7 711.5,933.7 713.0,937.0 714.5,933.1 716.0,935.3 717.5,933.1 719.0,936.0 720.5,933.2 722.0,938.0 723.5,933.7 725.0,937.1 726.5,932.4 728.0,935.5 729.5,932.3 731.0,934.5 732.5,932.1 734.0,934.4 735.5,930.8 737.0,934.8 738.5,931.1 740.0,935.8 741.5,932.1 743.0,936.9 744.5,931.2 746.0,935.1 747.5,929.4 749.0,933.5 750.5,929.5 752.0,934.0 753.5,930.0 755.0,933.9 756.5,929.1 758.0,934.2 759.5,929.1 761.0,933.1 762.5,928.5 764.0,931.9 765.5,928.8 767.0,932.3 768.5,928.6 770.0,933.4 771.5,928.5 773.0,933.3 774.5,929.3 776.0,930.9 777.5,926.8 779.0,930.1 780.5,925.2 782.0,928.3 783.5,923.2 785.0,925.8 786.5,920.0 788.0,924.8 789.5,918.0 791.0,921.4 792.5,914.6 794.0,918.6 795.5,911.4 797.0,914.7 798.5,908.6 800.0,911.6 801.5,905.6 803.0,907.4 804.5,901.1 806.0,904.6 807.5,898.1 809.0,900.8 810.5,893.1 812.0,896.8 813.5,889.6 815.0,894.2 816.5,886.0 818.0,890.0 819.5,880.3 821.0,881.3 822.5,872.3 824.0,874.4 825.5,866.9 827.0,869.8 828.5,860.3 830.0,862.2 831.5,852.4 833.0,855.1 834.5,847.6 836.0,852.5 837.5,842.8 839.0,845.9 840.5,837.5 842.0,840.2 843.5,830.8 845.0,833.9 846.5,821.5 848.0,825.0 849.5,814.0 851.0,821.0 852.5,810.2 854.0,815.5 855.5,806.1 857.0,809.3 858.5,796.2 860.0,800.0 861.5,786.9 863.0,792.2 864.5,780.4 866.0,782.0 867.5,769.7 869.0,770.9 870.5,759.5 872.0,763.8 873.5,755.1 875.0,758.4 876.5,750.6 878.0,757.0 879.5,745.1 881.0,750.1 882.5,738.1 884.0,743.2 885.5,736.4 887.0,741.0 888.5,733.0 890.0,737.7 891.5,725.1 893.0,728.8 894.5,720.5 896.0,727.7 897.5,717.7 899.0,724.1 900.5,712.5 902.0,720.2 903.5,708.5 905.0,712.0 906.5,702.8 908.0,708.9 909.5,699.0 911.0,705.4 912.5,692.9 914.0,699.9 915.5,687.4 917.0,693.2 918.5,679.2 920.0,684.4 921.5,678.2 923.0,684.1 924.5,675.8 926.0,686.3 927.5,674.4 929.0,681.1 930.5,667.1 932.0,674.9 933.5,665.3 935.0,672.7 936.5,664.8 938.0,670.2 939.5,658.8 941.0,665.3 942.5,654.1 944.0,658.1 945.5,647.5 947.0,657.0 948.5,647.4 950.0,656.4 951.5,646.0 953.0,653.6 954.5,638.0 956.0,646.7 957.5,636.0 959.0,649.3 960.5,639.8 962.0,642.0 963.5,629.0 965.0,634.7 966.5,623.2 968.0,632.9 969.5,618.4 971.0,624.0 972.5,609.4 974.0,619.2 975.5,608.5 977.0,617.8 978.5,605.5 980.0,614.4 981.5,605.6 983.0,608.0 984.5,597.7 986.0,603.5 987.5,593.6 989.0,600.3 990.5,590.5 992.0,599.8 993.5,583.1 995.0,592.3 996.5,578.2 998.0,586.7 999.5,574.9 1001.0,584.8 1002.5,571.6 1004.0,579.1 1005.5,568.6 1007.0,576.8 1008.5,565.2 1010.0,578.4 1011.5,565.3 1013.0,574.8 1014.5,564.6 1016.0,571.7 1017.5,561.2 1019.0,567.7 1020.5,557.3 1022.0,565.2 1023.5,553.1 1025.0,562.8 1026.5,549.2 1028.0,556.3 1029.5,543.5 1030.4,549.4 1032.5,551.4 1034.0,562.5 1035.5,553.5 1037.0,566.8 1038.5,560.6 1040.0,571.9 1041.5,560.2 1043.0,571.0 1044.5,561.9 1046.0,576.2 1047.5,569.1 1049.0,582.8 1050.5,572.4 1052.0,582.3 1053.5,573.1 1055.0,581.0 1056.5,573.0 1058.0,582.9 1059.5,577.9 1061.0,585.5 1062.5,580.6 1064.0,590.6 1065.5,581.0 1067.0,596.8 1068.5,588.1 1070.0,600.5 1071.5,596.0 1073.0,607.3 1074.5,600.7 1076.0,611.5 1077.5,607.0 1079.0,620.1 1080.5,614.2 1082.0,627.7 1083.5,620.3 1085.0,624.6 1086.5,615.2 1088.0,626.4 1089.5,618.3 1091.0,632.9 1092.5,623.2 1094.0,634.1 1095.5,628.4 1097.0,638.6 1098.5,632.6 1100.0,643.2 1101.5,635.1 1103.0,646.1 1104.5,641.5 1106.0,655.7 1107.5,650.2 1109.0,659.2 1110.5,655.9 1112.0,667.5 1113.5,659.6 1115.0,672.1 1116.5,661.5 1118.0,673.2 1119.5,663.2 1121.0,676.5 1122.5,673.1 1124.0,685.4 1125.5,679.2 1127.0,689.1 1128.5,681.0 1130.0,692.1 1131.5,684.3 1133.0,695.3 1134.5,690.6 1136.0,697.5 1137.5,691.8 1139.0,705.0 1140.5,695.2 1142.0,708.8 1143.5,701.0 1145.0,712.1 1146.5,708.4 1148.0,714.2 1149.5,709.7 1151.0,716.9 1152.5,713.0 1154.0,723.5 1155.5,716.0 1157.0,727.7 1158.5,721.8 1160.0,732.8 1161.5,728.4 1163.0,741.9 1164.5,735.7 1166.0,744.4 1167.5,740.1 1169.0,750.1 1170.5,743.9 1172.0,754.5 1173.5,748.9 1175.0,757.5 1176.5,752.1 1178.0,760.4 1179.5,755.6 1181.0,767.2 1182.5,761.5 1184.0,772.4 1185.5,767.2 1187.0,776.6 1188.5,771.0 1190.0,776.9 1191.5,774.7 1193.0,783.8 1194.5,779.9 1196.0,790.0 1197.5,785.3 1199.0,795.5 1200.5,790.0 1202.0,799.6 1203.5,793.0 1205.0,802.1 1206.5,797.0 1208.0,805.6 1209.5,803.3 1211.0,811.5 1212.5,808.7 1214.0,817.5 1215.5,811.3 1217.0,821.1 1218.5,817.7 1220.0,828.9 1221.5,824.4 1223.0,833.5 1224.5,828.3 1226.0,835.7 1227.5,830.8 1229.0,839.5 1230.5,834.2 1232.0,842.1 1233.5,838.2 1235.0,848.7 1236.5,844.2 1238.0,849.9 1239.5,847.7 1241.0,854.7 1242.5,850.6 1244.0,859.9 1245.5,853.8 1247.0,862.2 1248.5,859.2 1250.0,869.3 1251.5,864.3 1253.0,872.1 1254.5,866.4 1256.0,873.9 1257.5,869.3 1259.0,878.0 1260.5,872.9 1262.0,880.8 1263.5,879.5 1265.0,885.4 1266.5,883.4 1268.0,889.9 1269.5,885.6 1271.0,892.1 1272.5,888.5 1274.0,896.2 1275.5,891.1 1277.0,899.1 1278.5,892.6 1280.0,900.4 1281.5,898.0 1283.0,904.7 1284.5,900.8 1286.0,907.6 1287.5,904.4 1289.0,910.8 1290.5,905.2 1292.0,911.3 1293.5,905.4 1295.0,913.1 1296.5,909.6 1298.0,915.5 1299.5,911.6 1301.0,918.3 1302.5,912.7 1304.0,918.9 1305.5,916.8 1307.0,921.4 1308.5,917.2 1310.0,922.2 1311.5,918.6 1313.0,924.3 1314.5,920.9 1316.0,926.1 1317.5,920.7 1319.0,925.6 1320.5,922.3 1322.0,927.2 1323.5,922.7 1325.0,930.0 1326.5,924.6 1328.0,929.7 1329.5,925.8 1331.0,929.5 1332.5,927.5 1334.0,932.6 1335.5,927.2 1337.0,933.2 1338.5,929.0 1340.0,933.0 1341.5,929.7 1343.0,934.2 1344.5,929.0 1346.0,934.6 1347.5,930.5 1349.0,935.0 1350.5,930.6 1352.0,934.8 1353.5,931.5 1355.0,934.8 1356.5,931.2 1358.0,936.9 1359.5,934.5 1361.0,936.8 1362.5,934.3 1364.0,937.1 1365.5,933.6 1367.0,937.8 1368.5,934.3 1370.0,938.0 1371.5,934.1 1373.0,937.6 1374.5,935.6 1376.0,938.9 1377.5,935.7 1379.0,940.7 1380.5,936.6 1382.0,940.5 1383.5,936.4 1385.0,940.2 1386.5,936.8 1388.0,940.2 1389.5,936.6 1391.0,939.8 1392.5,937.1 1394.0,941.6 1395.5,937.7 1397.0,940.8 1398.5,937.2 1400.0,940.4 1401.5,937.1 1403.0,939.6 1404.5,937.8 1406.0,941.0 1407.5,938.5 1409.0,942.1 1410.5,938.2 1412.0,943.2 1413.5,940.8 1415.0,943.8 1416.5,940.4 1418.0,942.5 1419.5,939.1 1421.0,942.4 1422.5,939.5 1424.0,942.6 1425.5,940.2 1427.0,943.0 1428.5,940.5 1430.0,944.9 1431.5,942.3 1433.0,944.8 1434.5,942.8 1436.0,945.7 1437.5,943.3 1439.0,945.9 1440.5,943.2 1442.0,945.2 1443.5,941.9 1445.0,945.0 1446.5,942.3 1448.0,945.7 1449.5,943.6 1451.0,947.9 1452.5,943.8 1454.0,947.0 1455.5,945.3 1457.0,947.2 1458.5,944.7 1460.0,946.9 1461.5,943.9 1463.0,947.5 1464.5,944.9 1466.0,947.3 1467.5,944.6 1469.0,948.0 1470.5,946.2 1472.0,948.3 1473.5,946.3 1475.0,949.4 1476.5,945.6 1478.0,949.1 1479.5,946.2 1481.0,947.7 1482.5,945.6 1484.0,949.5 1485.5,947.6 1487.0,951.7 1488.5,947.9 1490.0,950.0 1491.5,946.1 1493.0,948.1 1494.5,945.8 1496.0,949.8 1497.5,947.8 1499.0,950.7 1500.5,947.6 1502.0,950.1 1503.5,947.2 1505.0,949.7 1506.5,947.5 1508.0,950.4 1509.5,948.4 1511.1,948.8 1511.9,908.5 1512.5,908.5 1512.9,939.6 1514.1,940.8 1515.6,938.3 1517.1,941.1 1518.6,938.7 1520.1,941.8 1521.6,938.7 1523.1,941.3 1524.6,937.5 1526.1,940.4 1527.6,938.2 1529.1,941.6 1530.6,937.6 1532.1,940.5 1533.6,938.1 1535.1,941.0 1536.6,937.7 1538.1,941.2 1539.6,937.5 1541.1,940.7 1542.6,937.9 1544.1,941.6 1545.6,938.8 1547.1,943.1 1548.6,939.3 1550.1,941.8 1551.6,938.6 1553.1,941.0 1554.6,937.8 1556.1,941.3 1557.6,938.7 1559.1,941.5 1560.6,939.0 1562.1,941.7 1563.6,938.9 1565.1,940.8 1566.6,937.0 1568.1,940.1 1569.6,937.4 1571.1,941.4 1572.6,938.8 1574.1,941.5 1575.6,938.1 1577.1,941.5 1578.6,938.1 1580.1,940.8 1581.6,938.6 1583.1,941.0 1584.6,938.2 1586.1,940.8 1587.6,937.9 1589.1,941.1 1590.6,938.9 1592.1,941.3 1593.6,938.2 1595.1,940.9 1596.6,938.4 1598.1,940.9 1599.6,938.2 1601.1,940.8 1602.6,937.4 1604.1,941.1 1605.6,938.8 1607.1,941.2 1608.6,938.7 1610.1,941.4 1611.6,938.1 1613.1,940.3 1614.6,937.6 1616.1,940.7 1617.6,937.3 1619.1,940.3 1620.6,938.0 1622.1,941.5 1623.6,939.0 1625.1,942.0 1626.6,939.0 1628.1,942.2 1629.6,939.3 1631.1,942.1 1632.6,939.0 1634.1,941.5 1635.6,938.7 1637.1,941.2 1638.6,937.9 1640.1,940.4 1641.6,937.5 1643.1,941.1 1644.6,937.5 1646.1,940.3 1647.6,938.6 1649.1,941.0 1650.6,938.3 1652.1,940.9 1653.6,939.1 1655.1,941.2 1656.6,937.8 1658.1,940.3 1659.6,937.3 1661.1,940.7 1662.6,937.4 1664.1,940.6 1665.6,937.1 1667.1,940.1 1668.6,937.1 1670.1,940.6 1671.6,937.7 1673.1,940.7 1674.6,938.0 1676.1,941.6 1677.6,938.2 1679.1,941.0 1680.6,938.5 1682.1,941.5 1683.6,939.1 1685.1,941.8 1686.6,939.3 1688.1,941.9 1689.6,938.2 1691.1,940.8 1692.6,938.0 1694.1,940.7 1695.6,937.7 1697.1,940.2 1698.6,937.2 1700.1,939.9 1701.6,936.9 1703.1,940.8 1704.6,938.7 1706.1,941.2 1707.6,938.5 1709.1,941.9 1710.6,938.5 1712.1,941.7 1713.6,939.2 1715.1,941.2 1716.6,938.8 1718.1,941.4 1719.6,938.6 1721.1,942.3 1722.6,939.2 1724.1,941.2 1725.6,937.4 1727.1,939.6 1728.6,936.7 1730.1,939.6 1731.6,937.8 1733.1,941.0 1734.6,938.4 1736.1,941.7 1737.6,939.0 1739.1,942.2 1740.6,939.0 1742.1,940.6 1743.6,937.2 1745.1,940.1 1746.6,937.7 1748.1,941.7 1749.6,938.6 1751.1,941.9 1752.6,939.2 1754.1,941.0 1755.6,937.3 1757.1,940.7 1758.6,938.0 1760.1,941.3 1761.6,938.9 1763.1,941.7 1764.6,937.1 1766.1,940.1 1767.6,936.9 1769.1,939.5 1770.6,937.7 1772.1,940.9 1773.6,938.0 1775.1,940.8 1776.6,938.0 1778.1,940.8 1779.6,937.9 1781.1,940.1 1782.6,938.3 1784.1,941.2 1785.6,938.7 1787.1,941.4 1788.6,938.7 1790.1,941.8 1791.6,939.5 1793.1,942.7 1794.6,939.3 1796.1,941.3 1797.6,937.9 1799.1,940.9 1800.6,937.7 1802.1,941.6 1803.6,938.4 1805.1,940.8 1806.6,937.7 1808.1,940.6 1809.6,936.7 1811.1,941.0 1812.6,937.3 1814.1,941.3 1815.6,939.3 1817.1,940.8 1818.6,938.4 1820.1,942.0 1821.6,938.7 1823.1,941.0 1824.6,938.6 1826.1,940.4 1827.6,937.9 1829.1,941.3 1830.6,937.9 1832.1,941.0 1833.6,937.7 1835.1,940.7 1836.6,937.8 1838.1,939.9 1839.6,938.0 1841.1,941.2 1842.6,937.6 1844.1,941.5 1845.6,937.8 1847.1,941.4 1848.6,938.6 1850.1,941.5 1851.6,938.5 1853.1,941.0 1854.6,938.5 1856.1,941.2 1857.6,937.6 1859.1,940.6 1860.6,937.7 1862.1,939.9 1863.6,937.2 1865.1,940.7 1866.6,938.3 1868.1,941.3 1869.6,938.5 1871.1,940.7 1872.6,938.3 1874.1,941.1 1875.6,938.0 1877.1,941.5 1878.6,938.7 1880.1,941.3 1881.6,939.1 1883.1,942.4 1884.6,939.3 1886.1,942.9 1887.6,939.4 1889.1,942.1 1890.6,938.9 1892.1,941.1 1893.6,938.6 1895.1,940.9 1896.6,938.7 1898.1,941.0 1899.6,938.4 1901.1,941.0 1902.6,938.0 1904.1,941.1 1905.6,937.4 1907.1,940.2 1908.6,938.1 1910.1,939.9 1911.6,937.6 1913.1,941.8 1914.6,938.0 1916.1,941.4 1917.6,938.5 1919.1,940.7" fill="none" stroke="#00C8CC" stroke-width="10" stroke-linejoin="round" stroke-linecap="butt"/>
<polyline points="486.0,941.7 487.5,939.0 489.0,942.1 490.5,938.5 492.0,941.2 493.5,937.9 495.0,939.9 496.5,937.1 498.0,940.2 499.5,937.9 501.0,940.4 502.5,938.3 504.0,940.2 505.5,937.8 507.0,940.9 508.5,937.6 510.0,940.9 511.5,938.7 513.0,941.1 514.5,938.0 516.0,941.1 517.5,937.5 519.0,941.1 520.5,937.9 522.0,940.5 523.5,937.6 525.0,941.4 526.5,938.6 528.0,940.6 529.5,937.8 531.0,940.3 532.5,937.8 534.0,940.5 535.5,938.5 537.0,941.2 538.5,938.4 540.0,941.9 541.5,938.0 543.0,940.2 544.5,938.0 546.0,940.4 547.5,937.6 549.0,940.0 550.5,937.7 552.0,941.1 555.2,939.6 555.2,986.0 555.8,986.0 555.8,944.1 557.0,944.5 558.5,940.4 560.0,943.0 561.5,939.5 563.0,942.6 564.5,939.9 566.0,942.5 567.5,939.8 569.0,943.3 570.5,940.9 572.0,943.5 573.5,940.4 575.0,942.8 576.5,939.0 578.0,942.2 579.5,938.7 581.0,942.2 582.5,938.9 584.0,942.1 585.5,939.1 587.0,941.3 588.5,939.4 590.0,942.8 591.5,939.8 593.0,942.4 594.5,938.0 596.0,941.3 597.5,937.8 599.0,941.0 600.5,937.7 602.0,940.9 603.5,938.5 605.0,941.5 606.5,938.3 608.0,941.0 609.5,937.7 611.0,941.1 612.5,939.4 614.0,942.4 615.5,939.2 617.0,942.2 618.5,938.5 620.0,941.2 621.5,937.9 623.0,940.7 624.5,938.1 626.0,941.7 627.5,939.2 629.0,942.8 630.5,938.8 632.0,942.2 633.5,938.3 635.0,940.6 636.5,937.7 638.0,940.0 639.5,937.2 641.0,939.7 642.5,938.2 644.0,940.5 645.5,937.6 647.0,941.8 648.5,938.5 650.0,941.3 651.5,938.9 653.0,942.3 654.5,939.4 656.0,941.9 657.5,938.6 659.0,941.6 660.5,938.6 662.0,941.7 663.5,938.0 665.0,941.4 666.5,937.6 668.0,941.0 669.5,937.0 671.0,941.0 672.5,938.0 674.0,941.1 675.5,937.7 677.0,940.4 678.5,936.7 680.0,939.4 681.5,936.5 683.0,940.2 684.5,936.7 686.0,941.2 687.5,936.8 689.0,940.8 690.5,937.6 692.0,941.0 693.5,937.6 695.0,940.3 696.5,936.9 698.0,940.2 699.5,937.7 701.0,940.2 702.5,937.3 704.0,940.8 705.5,937.5 707.0,939.8 708.5,936.7 710.0,940.3 711.5,936.5 713.0,940.2 714.5,936.3 716.0,940.4 717.5,937.0 719.0,940.5 720.5,936.9 722.0,941.2 723.5,936.8 725.0,939.3 726.5,935.1 728.0,938.0 729.5,935.3 731.0,938.9 732.5,935.4 734.0,938.7 735.5,935.0 737.0,938.0 738.5,934.7 740.0,937.7 741.5,933.8 743.0,938.2 744.5,933.8 746.0,937.7 747.5,935.0 749.0,939.6 750.5,937.1 752.0,939.4 753.5,935.8 755.0,939.4 756.5,934.9 758.0,938.2 759.5,935.0 761.0,937.3 762.5,934.0 764.0,936.9 765.5,933.0 767.0,937.3 768.5,932.2 770.0,937.1 771.5,933.4 773.0,936.1 774.5,933.4 776.0,935.9 777.5,931.8 779.0,935.3 780.5,932.1 782.0,936.0 783.5,931.6 785.0,935.2 786.5,931.3 788.0,934.6 789.5,931.9 791.0,935.1 792.5,930.7 794.0,934.4 795.5,930.9 797.0,933.8 798.5,930.7 800.0,933.2 801.5,929.8 803.0,934.9 804.5,930.4 806.0,933.7 807.5,929.1 809.0,931.7 810.5,928.3 812.0,931.8 813.5,928.0 815.0,930.7 816.5,925.8 818.0,927.5 819.5,922.2 821.0,926.4 822.5,920.9 824.0,924.9 825.5,918.6 827.0,921.3 828.5,914.1 830.0,916.8 831.5,909.6 833.0,912.8 834.5,907.2 836.0,910.8 837.5,904.4 839.0,906.6 840.5,899.6 842.0,902.3 843.5,895.3 845.0,898.1 846.5,891.3 848.0,895.1 849.5,889.0 851.0,891.5 852.5,884.2 854.0,888.6 855.5,882.3 857.0,886.2 858.5,877.7 860.0,881.6 861.5,870.8 863.0,873.9 864.5,863.5 866.0,867.5 867.5,858.8 869.0,861.9 870.5,852.5 872.0,855.6 873.5,847.2 875.0,849.7 876.5,838.0 878.0,840.5 879.5,830.0 881.0,835.1 882.5,824.2 884.0,829.3 885.5,815.9 887.0,819.1 888.5,810.9 890.0,815.1 891.5,803.5 893.0,804.7 894.5,794.2 896.0,797.3 897.5,788.8 899.0,793.8 900.5,782.2 902.0,787.8 903.5,778.8 905.0,784.4 906.5,777.7 908.0,782.3 909.5,774.7 911.0,778.6 912.5,768.1 914.0,774.0 915.5,762.8 917.0,768.8 918.5,758.6 920.0,764.6 921.5,752.6 923.0,757.9 924.5,745.7 926.0,751.6 927.5,740.1 929.0,748.5 930.5,740.4 932.0,744.9 933.5,736.0 935.0,739.8 936.5,730.0 938.0,734.9 939.5,721.9 941.0,730.5 942.5,720.2 944.0,726.1 945.5,715.0 947.0,723.3 948.5,713.6 950.0,718.7 951.5,707.1 953.0,715.4 954.5,706.8 956.0,716.5 957.5,703.6 959.0,706.8 960.5,697.0 962.0,703.0 963.5,693.7 965.0,701.7 966.5,693.9 968.0,700.4 969.5,689.3 971.0,696.3 972.5,686.3 974.0,690.4 975.5,682.1 977.0,688.9 978.5,680.7 980.0,689.8 981.5,680.8 983.0,687.4 984.5,675.6 986.0,685.5 987.5,673.6 989.0,683.9 990.5,672.4 992.0,680.0 993.5,668.6 995.0,678.2 996.5,667.7 998.0,674.2 999.5,661.8 1001.0,669.4 1002.5,656.3 1004.0,662.2 1005.5,653.7 1007.0,660.5 1008.5,652.5 1010.0,658.6 1011.5,646.2 1013.0,655.4 1014.5,646.6 1016.0,654.6 1017.5,643.1 1019.0,652.8 1020.5,638.4 1022.0,650.5 1023.5,639.2 1025.0,648.3 1026.5,637.2 1028.0,645.2 1029.5,632.1 1031.0,639.5 1032.5,627.0 1034.0,634.8 1035.5,623.9 1037.0,633.7 1038.5,624.2 1040.0,631.6 1041.5,621.9 1043.0,630.4 1044.5,618.8 1046.0,627.0 1047.5,614.8 1049.0,626.3 1050.5,611.7 1052.0,622.0 1053.5,609.5 1055.0,619.7 1056.5,610.4 1058.0,620.1 1059.5,608.9 1061.0,617.0 1062.5,606.1 1064.0,614.1 1065.5,600.0 1067.0,608.4 1068.5,595.2 1070.0,602.8 1071.5,594.8 1073.0,600.2 1074.5,591.4 1076.0,596.5 1077.5,585.5 1079.0,595.0 1080.5,580.4 1082.0,591.4 1083.5,581.4 1085.0,588.5 1086.5,581.0 1088.0,588.7 1089.5,578.1 1091.0,583.0 1092.5,570.5 1094.0,582.9 1095.5,568.2 1097.0,578.4 1098.5,567.2 1100.0,575.6 1101.5,568.6 1103.0,576.1 1104.5,565.6 1105.5,566.5 1107.5,566.8 1109.0,583.3 1110.5,577.6 1112.0,588.7 1113.5,579.2 1115.0,589.7 1116.5,580.2 1118.0,590.6 1119.5,579.7 1121.0,591.0 1122.5,582.2 1124.0,592.3 1125.5,585.0 1127.0,594.6 1128.5,585.7 1130.0,598.9 1131.5,591.0 1133.0,603.1 1134.5,594.8 1136.0,607.5 1137.5,602.1 1139.0,615.4 1140.5,604.6 1142.0,616.6 1143.5,609.5 1145.0,618.5 1146.5,611.4 1148.0,623.8 1149.5,613.9 1151.0,625.0 1152.5,620.5 1154.0,633.1 1155.5,622.8 1157.0,634.8 1158.5,623.6 1160.0,634.0 1161.5,626.6 1163.0,639.2 1164.5,631.4 1166.0,643.4 1167.5,632.1 1169.0,644.1 1170.5,635.9 1172.0,648.6 1173.5,643.9 1175.0,652.5 1176.5,645.5 1178.0,656.3 1179.5,649.2 1181.0,664.2 1182.5,656.8 1184.0,668.7 1185.5,662.9 1187.0,672.6 1188.5,664.5 1190.0,676.6 1191.5,670.4 1193.0,680.3 1194.5,672.8 1196.0,687.0 1197.5,679.8 1199.0,690.5 1200.5,684.7 1202.0,694.2 1203.5,688.2 1205.0,696.6 1206.5,690.3 1208.0,698.8 1209.5,693.8 1211.0,705.1 1212.5,696.2 1214.0,706.5 1215.5,698.5 1217.0,709.2 1218.5,704.2 1220.0,716.4 1221.5,712.6 1223.0,722.9 1224.5,718.9 1226.0,730.7 1227.5,722.3 1229.0,735.0 1230.5,726.5 1232.0,737.7 1233.5,733.5 1235.0,743.3 1236.5,737.1 1238.0,748.7 1239.5,740.2 1241.0,751.0 1242.5,743.4 1244.0,752.4 1245.5,746.6 1247.0,755.3 1248.5,751.6 1250.0,759.5 1251.5,753.9 1253.0,764.7 1254.5,758.0 1256.0,767.0 1257.5,762.0 1259.0,773.4 1260.5,768.6 1262.0,777.1 1263.5,771.8 1265.0,781.9 1266.5,777.1 1268.0,788.0 1269.5,781.6 1271.0,789.3 1272.5,785.0 1274.0,792.3 1275.5,790.5 1277.0,799.8 1278.5,791.8 1280.0,800.7 1281.5,793.8 1283.0,802.3 1284.5,795.8 1286.0,806.1 1287.5,801.6 1289.0,809.9 1290.5,804.5 1292.0,812.5 1293.5,807.3 1295.0,816.1 1296.5,808.8 1298.0,816.6 1299.5,813.0 1301.0,820.3 1302.5,817.4 1304.0,825.7 1305.5,819.0 1307.0,827.3 1308.5,821.8 1310.0,833.9 1311.5,829.3 1313.0,837.7 1314.5,833.9 1316.0,841.3 1317.5,834.0 1319.0,842.6 1320.5,838.5 1322.0,846.7 1323.5,843.1 1325.0,851.5 1326.5,846.3 1328.0,853.1 1329.5,848.5 1331.0,857.1 1332.5,853.8 1334.0,860.6 1335.5,855.5 1337.0,864.8 1338.5,861.9 1340.0,870.8 1341.5,866.0 1343.0,873.9 1344.5,870.2 1346.0,877.5 1347.5,876.1 1349.0,883.3 1350.5,878.1 1352.0,886.5 1353.5,881.1 1355.0,889.1 1356.5,883.3 1358.0,891.9 1359.5,889.0 1361.0,895.7 1362.5,892.4 1364.0,898.3 1365.5,892.2 1367.0,900.9 1368.5,895.9 1370.0,903.0 1371.5,899.7 1373.0,905.1 1374.5,901.6 1376.0,909.0 1377.5,904.6 1379.0,910.7 1380.5,905.1 1382.0,909.7 1383.5,906.6 1385.0,912.6 1386.5,909.2 1388.0,914.9 1389.5,911.1 1391.0,915.3 1392.5,911.3 1394.0,916.5 1395.5,914.0 1397.0,919.1 1398.5,914.6 1400.0,920.5 1401.5,916.7 1403.0,922.8 1404.5,920.4 1406.0,923.9 1407.5,921.3 1409.0,925.0 1410.5,921.5 1412.0,926.4 1413.5,923.8 1415.0,928.4 1416.5,925.6 1418.0,930.3 1419.5,927.5 1421.0,933.2 1422.5,929.7 1424.0,932.4 1425.5,929.7 1427.0,933.7 1428.5,928.9 1430.0,932.8 1431.5,929.4 1433.0,933.9 1434.5,930.9 1436.0,935.1 1437.5,932.2 1439.0,935.8 1440.5,931.0 1442.0,934.5 1443.5,931.1 1445.0,934.9 1446.5,931.0 1448.0,935.8 1449.5,932.5 1451.0,937.0 1452.5,931.3 1454.0,934.8 1455.5,932.2 1457.0,936.3 1458.5,933.1 1460.0,937.5 1461.5,932.8 1463.0,936.1 1464.5,932.5 1466.0,937.1 1467.5,933.8 1469.0,937.5 1470.5,934.9 1472.0,939.3 1473.5,935.2 1475.0,940.4 1476.5,935.7 1478.0,938.6 1479.5,934.7 1481.0,938.6 1482.5,935.3 1484.0,938.2 1485.5,935.7 1487.0,939.3 1488.5,936.0 1490.0,940.7 1491.5,936.7 1493.0,940.1 1494.5,936.1 1496.0,938.5 1497.5,936.6 1499.0,940.5 1500.5,937.3 1502.0,941.2 1503.5,936.8 1505.0,939.4 1506.5,937.0 1508.0,941.0 1509.5,938.6 1511.0,942.1 1512.5,939.2 1514.0,942.7 1515.5,938.4 1517.0,941.4 1518.5,938.4 1520.0,940.9 1521.5,938.7 1523.0,942.3 1524.5,939.3 1526.0,942.3 1527.5,939.2 1529.0,942.3 1530.5,940.0 1532.0,943.0 1533.5,940.8 1535.0,943.5 1536.5,940.9 1538.0,943.6 1539.5,939.8 1541.0,943.3 1542.5,941.2 1544.0,944.8 1545.5,941.2 1547.0,943.8 1548.5,941.0 1550.0,943.8 1551.5,941.2 1553.0,944.6 1554.5,941.4 1556.0,945.1 1557.5,941.0 1559.0,944.7 1560.5,942.1 1562.0,945.8 1563.5,942.2 1565.0,945.4 1566.5,942.2 1568.0,944.7 1569.5,942.6 1571.0,945.0 1572.5,942.5 1574.0,945.8 1575.5,943.1 1577.0,946.1 1578.5,943.6 1580.0,946.0 1581.5,943.2 1583.0,946.5 1584.5,943.4 1586.0,946.2 1587.5,942.1 1589.0,945.6 1590.5,942.8 1592.0,946.1 1593.5,943.3 1595.0,945.7 1596.5,942.5 1598.0,946.5 1599.5,944.7 1601.0,947.9 1602.5,945.6 1604.0,948.1 1605.5,944.6 1607.0,947.9 1608.5,944.7 1610.0,948.6 1611.5,946.2 1613.0,948.3 1614.5,945.2 1616.0,948.3 1617.5,945.2 1619.0,949.6 1620.5,947.0 1622.0,949.8 1623.5,946.4 1625.0,948.7 1626.5,946.1 1628.0,950.2 1629.5,947.6 1631.0,951.3 1632.5,947.8 1634.0,950.3 1635.5,948.4 1637.0,951.4 1638.5,948.4 1640.0,950.7 1641.5,948.6 1643.0,950.5 1644.5,948.7 1646.0,951.8 1647.9,950.0 1648.7,907.0 1649.3,907.0 1649.7,939.6 1650.9,940.4 1652.4,937.7 1653.9,940.6 1655.4,938.3 1656.9,941.0 1658.4,938.2 1659.9,941.2 1661.4,939.4 1662.9,942.2 1664.4,938.2 1665.9,941.3 1667.4,938.6 1668.9,941.5 1670.4,938.2 1671.9,939.5 1673.4,937.2 1674.9,939.5 1676.4,937.8 1677.9,941.6 1679.4,937.7 1680.9,941.0 1682.4,938.0 1683.9,940.7 1685.4,938.1 1686.9,941.2 1688.4,937.9 1689.9,940.9 1691.4,938.0 1692.9,940.0 1694.4,938.4 1695.9,940.5 1697.4,938.2 1698.9,941.0 1700.4,937.7 1701.9,941.2 1703.4,937.7 1704.9,941.1 1706.4,938.6 1707.9,940.9 1709.4,938.3 1710.9,940.7 1712.4,937.0 1713.9,940.4 1715.4,936.9 1716.9,941.3 1718.4,938.9 1719.9,941.8 1721.4,939.1 1722.9,942.3 1724.4,939.4 1725.9,942.3 1727.4,938.9 1728.9,941.3 1730.4,938.3 1731.9,940.7 1733.4,938.6 1734.9,941.2 1736.4,938.6 1737.9,941.6 1739.4,937.6 1740.9,940.7 1742.4,937.7 1743.9,940.4 1745.4,937.4 1746.9,941.1 1748.4,937.6 1749.9,940.0 1751.4,938.1 1752.9,940.0 1754.4,938.7 1755.9,941.5 1757.4,938.3 1758.9,940.8 1760.4,937.3 1761.9,940.0 1763.4,937.8 1764.9,939.8 1766.4,936.8 1767.9,940.5 1769.4,937.1 1770.9,941.6 1772.4,937.6 1773.9,941.1 1775.4,938.2 1776.9,940.8 1778.4,939.0 1779.9,940.8 1781.4,938.4 1782.9,940.9 1784.4,938.2 1785.9,941.8 1787.4,937.4 1788.9,941.2 1790.4,937.8 1791.9,940.5 1793.4,937.7 1794.9,940.4 1796.4,937.9 1797.9,939.9 1799.4,937.2 1800.9,940.3 1802.4,938.0 1803.9,941.0 1805.4,938.6 1806.9,940.8 1808.4,938.1 1809.9,941.0 1811.4,938.7 1812.9,941.9 1814.4,937.7 1815.9,941.6 1817.4,937.9 1818.9,941.5 1820.4,938.8 1821.9,941.2 1823.4,938.4 1824.9,940.7 1826.4,938.0 1827.9,941.3 1829.4,937.9 1830.9,940.8 1832.4,938.5 1833.9,941.0 1835.4,939.0 1836.9,941.4 1838.4,938.0 1839.9,940.8 1841.4,938.2 1842.9,941.5 1844.4,938.6 1845.9,940.9 1847.4,937.7 1848.9,940.8 1850.4,937.5 1851.9,940.9 1853.4,937.3 1854.9,940.6 1856.4,938.1 1857.9,940.7 1859.4,937.9 1860.9,940.6 1862.4,937.6 1863.9,941.2 1865.4,938.4 1866.9,940.3 1868.4,937.8 1869.9,940.1 1871.4,936.9 1872.9,940.9 1874.4,938.5 1875.9,940.5 1877.4,937.3 1878.9,940.4 1880.4,937.7 1881.9,941.4 1883.4,939.5 1884.9,941.6 1886.4,939.2 1887.9,940.9 1889.4,938.5 1890.9,941.4 1892.4,937.7 1893.9,941.6 1895.4,938.4 1896.9,940.2 1898.4,936.9 1899.9,939.9 1901.4,937.7 1902.9,940.3 1904.4,937.6 1905.9,940.7 1907.4,937.5 1908.9,940.7 1910.4,938.0 1911.9,941.0 1913.4,937.5 1914.9,940.8 1916.4,937.2 1917.9,940.7 1919.4,937.2" fill="none" stroke="#7B4C4C" stroke-width="10" stroke-linejoin="round" stroke-linecap="butt"/>
<rect x="480.8" y="362.8" width="10.5" height="640.5" fill="#000"/>
<rect x="480.3" y="993.8" width="1445.7" height="9.5" fill="#000"/>
<rect x="468.8" y="424.6" width="17.2" height="9.4" fill="#000"/>
<rect x="468.8" y="677.9" width="17.2" height="9.4" fill="#000"/>
<rect x="468.8" y="931.2" width="17.2" height="9.4" fill="#000"/>
<rect x="477.2" y="552.0" width="8.8" height="8.0" fill="#000"/>
<rect x="477.2" y="804.3" width="8.8" height="8.0" fill="#000"/>
<rect x="548.2" y="998.5" width="10.6" height="14.2" fill="#000"/>
<rect x="890.2" y="998.5" width="10.6" height="14.2" fill="#000"/>
<rect x="1232.2" y="998.5" width="10.6" height="14.2" fill="#000"/>
<rect x="1574.2" y="998.5" width="10.6" height="14.2" fill="#000"/>
<rect x="1916.2" y="998.5" width="10.6" height="14.2" fill="#000"/>
<rect x="719.5" y="998.5" width="10.0" height="7.8" fill="#000"/>
<rect x="1061.5" y="998.5" width="10.0" height="7.8" fill="#000"/>
<rect x="1403.5" y="998.5" width="10.0" height="7.8" fill="#000"/>
<rect x="1745.5" y="998.5" width="10.0" height="7.8" fill="#000"/>
<text transform="translate(459.0,455.1) scale(1.155,1)" font-size="84.5" text-anchor="end">800</text>
<text transform="translate(459.0,708.4) scale(1.155,1)" font-size="84.5" text-anchor="end">400</text>
<text transform="translate(459.0,961.7) scale(1.155,1)" font-size="84.5" text-anchor="end">0</text>
<text transform="translate(265.5,683.0) scale(1.21,1) rotate(-90)" font-size="82" text-anchor="middle">pA</text>
<text transform="translate(553.8,1086.0) scale(1.155,1)" font-size="84.5" text-anchor="middle">0</text>
<text transform="translate(894.5,1086.0) scale(1.155,1)" font-size="84.5" text-anchor="middle">1000</text>
<text transform="translate(1235.6,1086.0) scale(1.155,1)" font-size="84.5" text-anchor="middle">2000</text>
<text transform="translate(1577.5,1086.0) scale(1.155,1)" font-size="84.5" text-anchor="middle">3000</text>
<text transform="translate(1918.0,1086.0) scale(1.155,1)" font-size="84.5" text-anchor="middle">4000</text>
<text transform="translate(1203.7,1159.6) scale(1.22,1)" font-size="80" text-anchor="middle">msec</text>
<text transform="translate(1636.3,608.0) scale(1.212,1)" font-size="81" text-anchor="middle">control</text>
<polyline points="486.0,1675.4 487.5,1672.0 489.0,1674.5 490.5,1671.9 492.0,1674.3 493.5,1671.9 495.0,1675.2 496.5,1673.1 498.0,1675.5 499.5,1672.6 501.0,1675.9 502.5,1672.4 504.0,1674.7 505.5,1671.7 507.0,1674.3 508.5,1672.2 510.0,1674.9 511.5,1673.0 513.0,1675.8 514.5,1672.6 516.0,1674.6 517.5,1672.2 519.0,1674.9 520.5,1671.7 522.0,1674.9 523.5,1672.2 525.0,1675.6 526.5,1672.2 528.0,1676.0 529.5,1672.9 531.0,1676.1 532.5,1673.3 534.0,1676.1 535.5,1672.1 537.0,1674.6 538.5,1671.4 540.0,1674.1 541.5,1671.9 543.0,1674.8 544.5,1671.3 546.0,1674.5 547.5,1672.8 549.0,1676.0 550.5,1672.4 552.0,1675.9 555.2,1673.8 555.2,1727.5 555.8,1727.5 555.8,1678.3 557.0,1677.8 558.5,1674.0 560.0,1676.1 561.5,1671.6 563.0,1673.7 564.5,1668.4 566.0,1671.2 567.5,1666.6 569.0,1669.5 570.5,1665.9 572.0,1668.4 573.5,1662.9 575.0,1665.8 576.5,1661.0 578.0,1663.2 579.5,1657.9 581.0,1660.6 582.5,1654.8 584.0,1656.0 585.5,1649.1 587.0,1647.4 588.5,1637.7 590.0,1635.6 591.5,1625.3 593.0,1620.4 594.5,1606.7 596.0,1599.9 597.5,1585.6 599.0,1577.5 600.5,1559.3 602.0,1551.2 603.5,1530.6 605.0,1519.6 606.5,1495.9 608.0,1483.2 609.5,1458.7 611.0,1445.9 612.5,1422.1 614.0,1409.1 615.5,1390.3 617.0,1382.6 618.5,1365.5 620.0,1363.4 621.5,1344.7 623.0,1340.3 624.5,1327.2 626.0,1344.8 627.5,1350.0 629.0,1371.1 630.5,1380.8 632.0,1399.9 633.5,1409.5 635.0,1430.8 636.5,1437.8 638.0,1461.7 639.5,1469.3 641.0,1492.2 642.5,1504.3 644.0,1525.8 645.5,1537.2 647.0,1557.6 648.5,1567.4 650.0,1585.8 651.5,1595.0 653.0,1610.5 654.5,1615.4 656.0,1630.0 657.5,1634.6 659.0,1646.6 660.5,1648.3 662.0,1657.4 663.5,1658.6 665.0,1666.1 666.5,1665.3 668.0,1671.8 669.5,1670.7 671.0,1674.2 672.5,1674.2 674.0,1678.1 675.5,1676.1 677.0,1680.5 678.5,1677.9 680.0,1681.4 681.5,1679.1 683.0,1683.0 684.5,1680.7 686.0,1683.4 687.5,1681.0 689.0,1683.7 690.3,1681.8 691.1,1604.9 691.7,1604.9 692.1,1673.8 693.3,1674.5 694.8,1672.7 696.3,1675.6 697.8,1672.4 699.3,1675.3 700.8,1672.0 702.3,1675.1 703.8,1672.8 705.3,1675.4 706.8,1672.7 708.3,1675.3 709.8,1672.8 711.3,1675.5 712.8,1672.3 714.3,1674.3 715.8,1671.7 717.3,1674.7 718.8,1671.7 720.3,1675.1 721.8,1671.8 723.3,1675.0 724.8,1672.4 726.3,1675.6 727.8,1673.7 729.3,1675.7 730.8,1672.7 732.3,1676.2 733.8,1672.6 735.3,1676.3 736.8,1673.8 738.3,1676.2 739.8,1672.7 741.3,1675.4 742.8,1671.4 744.3,1674.6 745.8,1671.3 747.3,1674.7 748.8,1672.9 750.3,1675.3 751.8,1672.6 753.3,1675.2 754.8,1671.2 756.3,1674.9 757.8,1671.8 759.3,1674.8 760.8,1672.2 762.3,1675.5 763.8,1672.7 765.3,1676.2 766.8,1673.0 768.3,1676.5 769.8,1672.7 771.3,1675.4 772.8,1672.6 774.3,1676.0 775.8,1672.5 777.3,1675.2 778.8,1671.9 780.3,1675.8 781.8,1672.4 783.3,1675.5 784.8,1672.2 786.3,1674.1 787.8,1671.5 789.3,1674.2 790.8,1671.8 792.3,1674.4 793.8,1672.4 795.3,1675.4 796.8,1672.9 798.3,1674.8 799.8,1671.5 801.3,1674.4 802.8,1671.9 804.3,1676.0 805.8,1672.7 807.3,1675.3 808.8,1672.8 810.3,1675.8 811.8,1673.0 813.3,1675.8 814.8,1672.5 816.3,1674.8 817.8,1672.3 819.3,1674.7 820.8,1671.2 822.3,1674.4 823.8,1671.7 825.3,1674.8 826.8,1671.9 828.3,1675.7 829.8,1672.2 831.3,1674.6 832.8,1671.7 834.3,1674.3 835.8,1672.2 837.3,1674.8 838.8,1671.3 840.3,1674.9 841.8,1671.9 843.3,1675.8 844.8,1673.0 846.3,1675.9 847.8,1673.1 849.3,1675.7 850.8,1672.6 852.3,1674.9 853.8,1671.9 855.3,1674.6 856.8,1671.8 858.3,1675.7 859.8,1672.0 861.3,1675.8 862.8,1672.5 864.3,1675.2 865.8,1672.9 867.3,1675.5 868.8,1673.2 870.3,1676.4 871.8,1672.8 873.3,1675.9 874.8,1672.6 876.3,1675.7 877.8,1672.7 879.3,1675.0 880.8,1671.7 882.3,1675.4 883.8,1671.8 885.3,1675.4 886.8,1672.1 888.3,1675.0 889.8,1672.9 891.3,1675.0 892.8,1672.7 894.3,1675.4 895.8,1673.1 897.3,1676.5 898.8,1672.9 900.3,1675.4 901.8,1672.7 903.3,1675.5 904.8,1672.8 906.3,1675.6 907.8,1673.3 909.3,1676.3 910.8,1672.5 912.3,1675.4 913.8,1672.5 915.3,1674.8 916.8,1672.4 918.3,1675.5 919.8,1672.1 921.3,1674.2 922.8,1671.2 924.3,1674.6 925.8,1672.2 927.3,1675.4 928.8,1673.4 930.3,1675.6 931.8,1673.0 933.3,1675.5 934.8,1672.3 936.3,1675.4 937.8,1672.5 939.3,1676.3 940.8,1673.2 942.3,1676.4 943.8,1673.1 945.3,1676.4 946.8,1673.2 948.3,1675.8 949.8,1672.3 951.3,1676.1 952.8,1672.5 954.3,1676.0 955.8,1672.8 957.3,1676.0 958.8,1673.8 960.3,1676.4 961.8,1673.0 963.3,1674.6 964.8,1672.0 966.3,1674.8 967.8,1672.2 969.3,1675.1 970.8,1672.7 972.3,1675.9 973.8,1672.9 975.3,1676.2 976.8,1673.2 978.3,1675.8 979.8,1672.4 981.3,1675.9 982.8,1672.5 984.3,1675.4 985.8,1671.9 987.3,1675.8 988.8,1673.1 990.3,1675.1 991.8,1672.9 993.3,1675.2 994.8,1672.1 996.3,1674.9 997.8,1672.3 999.3,1675.6 1000.8,1672.5 1002.3,1674.8 1003.8,1672.9 1005.3,1675.5 1006.8,1672.4 1008.3,1675.7 1009.8,1672.3 1011.3,1675.8 1012.8,1672.8 1014.3,1675.6 1015.8,1673.3 1017.3,1676.1 1018.8,1672.5 1020.3,1675.4 1021.8,1672.6 1023.3,1675.3 1024.8,1672.1 1026.3,1675.6 1027.8,1673.2 1029.3,1676.0 1030.8,1673.0 1032.3,1675.7 1033.8,1672.3 1035.3,1675.3 1036.8,1672.5 1038.3,1674.9 1039.8,1672.5 1041.3,1676.1 1042.8,1672.7 1044.3,1675.1 1045.8,1671.5 1047.3,1675.1 1048.8,1672.0 1050.3,1674.7 1051.8,1672.0 1053.3,1675.0 1054.8,1671.7 1056.3,1674.8 1057.8,1671.8 1059.3,1675.4 1060.8,1672.5 1062.3,1675.3 1063.8,1671.6 1065.3,1674.3 1066.8,1672.3 1068.3,1676.0 1069.8,1673.7 1071.3,1677.2 1072.8,1673.7 1074.3,1675.6 1075.8,1672.7 1077.3,1675.4 1078.8,1671.8 1080.3,1676.0 1081.8,1672.4 1083.3,1675.5 1084.8,1673.3 1086.3,1675.5 1087.8,1673.4 1089.3,1676.1 1090.8,1672.5 1092.3,1676.1 1093.8,1673.2 1095.3,1675.9 1096.8,1673.5 1098.3,1675.7 1099.8,1671.6 1101.3,1675.0 1102.8,1671.5 1104.3,1674.9 1105.8,1672.3 1107.3,1674.9 1108.8,1672.0 1110.3,1674.7 1111.8,1671.7 1113.3,1674.7 1114.8,1671.8 1116.3,1674.5 1117.8,1671.3 1119.3,1674.2 1120.8,1672.2 1122.3,1674.7 1123.8,1672.7 1125.3,1675.4 1126.8,1673.1 1128.3,1675.3 1129.8,1673.1 1131.3,1675.4 1132.8,1672.3 1134.3,1675.3 1135.8,1671.7 1137.3,1675.1 1138.8,1672.0 1140.3,1675.6 1141.8,1673.4 1143.3,1675.8 1144.8,1672.1 1146.3,1674.2 1147.8,1671.9 1149.3,1673.9 1150.8,1671.4 1152.3,1674.5 1153.8,1671.7 1155.3,1675.0 1156.8,1671.8 1158.3,1675.7 1159.8,1672.8 1161.3,1675.5 1162.8,1672.8 1164.3,1675.3 1165.8,1672.6 1167.3,1675.9 1168.8,1672.7 1170.3,1674.9 1171.8,1672.6 1173.3,1675.1 1174.8,1672.6 1176.3,1675.9 1177.8,1672.1 1179.3,1675.2 1180.8,1671.7 1182.3,1674.8 1183.8,1672.1 1185.3,1674.9 1186.8,1671.7 1188.3,1675.7 1189.8,1672.0 1191.3,1675.2 1192.8,1672.0 1194.3,1674.5 1195.8,1672.4 1197.3,1675.1 1198.8,1672.7 1200.3,1675.9 1201.8,1673.4 1203.3,1675.6 1204.8,1672.6 1206.3,1676.0 1207.8,1672.6 1209.3,1676.3 1210.8,1672.5 1212.3,1675.2 1213.8,1672.8 1215.3,1675.5 1216.8,1671.7 1218.3,1675.4 1219.8,1673.1 1221.3,1675.8 1222.8,1673.4 1224.3,1675.6 1225.8,1671.9 1227.3,1675.0 1228.8,1673.1 1230.3,1675.8 1231.8,1671.8 1233.3,1674.8 1234.8,1671.3 1236.3,1674.5 1237.8,1671.1 1239.3,1674.9 1240.8,1672.6 1242.3,1676.0 1243.8,1673.4 1245.3,1676.3 1246.8,1673.3 1248.3,1676.0 1249.8,1673.3 1251.3,1676.2 1252.8,1672.6 1254.3,1674.8 1255.8,1671.9 1257.3,1675.0 1258.8,1672.5 1260.3,1675.8 1261.8,1672.6 1263.3,1675.2 1264.8,1672.8 1266.3,1675.2 1267.8,1672.1 1269.3,1676.2 1270.8,1672.8 1272.3,1675.1 1273.8,1673.0 1275.3,1674.7 1276.8,1672.4 1278.3,1676.1 1279.8,1673.2 1281.3,1675.1 1282.8,1673.4 1284.3,1675.7 1285.8,1672.7 1287.3,1676.1 1288.8,1672.3 1290.3,1675.4 1291.8,1672.6 1293.3,1675.2 1294.8,1672.6 1296.3,1675.4 1297.8,1672.3 1299.3,1676.2 1300.8,1673.3 1302.3,1675.9 1303.8,1672.4 1305.3,1675.0 1306.8,1672.0 1308.3,1675.4 1309.8,1671.7 1311.3,1674.7 1312.8,1672.3 1314.3,1674.8 1315.8,1671.3 1317.3,1674.7 1318.8,1671.6 1320.3,1674.7 1321.8,1672.1 1323.3,1675.0 1324.8,1672.1 1326.3,1675.0 1327.8,1671.8 1329.3,1675.8 1330.8,1672.5 1332.3,1675.2 1333.8,1672.0 1335.3,1674.1 1336.8,1671.5 1338.3,1675.1 1339.8,1672.1 1341.3,1675.4 1342.8,1672.6 1344.3,1675.0 1345.8,1673.0 1347.3,1675.6 1348.8,1672.7 1350.3,1675.9 1351.8,1673.3 1353.3,1677.1 1354.8,1674.2 1356.3,1675.4 1357.8,1672.7 1359.3,1674.9 1360.8,1671.7 1362.3,1675.1 1363.8,1672.1 1365.3,1675.8 1366.8,1671.5 1368.3,1675.0 1369.8,1671.4 1371.3,1674.4 1372.8,1671.8 1374.3,1674.9 1375.8,1672.3 1377.3,1675.0 1378.8,1672.3 1380.3,1675.5 1381.8,1672.8 1383.3,1675.8 1384.8,1672.2 1386.3,1674.9 1387.8,1672.1 1389.3,1675.5 1390.8,1672.4 1392.3,1675.5 1393.8,1672.8 1395.3,1674.5 1396.8,1672.5 1398.3,1675.3 1399.8,1671.9 1401.3,1674.6 1402.8,1671.3 1404.3,1674.2 1405.8,1671.4 1407.3,1674.7 1408.8,1671.9 1410.3,1676.0 1411.8,1672.3 1413.3,1675.0 1414.8,1672.9 1416.3,1674.6 1417.8,1671.5 1419.3,1675.3 1420.8,1671.7 1422.3,1675.4 1423.8,1673.8 1425.3,1675.6 1426.8,1673.1 1428.3,1675.5 1429.8,1672.0 1431.3,1674.5 1432.8,1670.8 1434.3,1673.5 1435.8,1670.8 1437.3,1674.2 1438.8,1672.8 1440.3,1675.3 1441.8,1672.5 1443.3,1676.3 1444.8,1674.1 1446.3,1676.9 1447.8,1673.3 1449.3,1675.6 1450.8,1672.2 1452.3,1675.1 1453.8,1672.2 1455.3,1676.3 1456.8,1673.2 1458.3,1675.7 1459.8,1672.5 1461.3,1675.1 1462.8,1671.9 1464.3,1674.9 1465.8,1672.4 1467.3,1675.2 1468.8,1671.7 1470.3,1674.8 1471.8,1671.5 1473.3,1675.2 1474.8,1672.7 1476.3,1676.2 1477.8,1672.6 1479.3,1674.4 1480.8,1671.6 1482.3,1673.2 1483.8,1670.9 1485.3,1673.8 1486.8,1671.2 1488.3,1673.9 1489.8,1671.2 1491.3,1674.4 1492.8,1671.4 1494.3,1675.2 1495.8,1672.3 1497.3,1675.5 1498.8,1672.9 1500.3,1675.2 1501.8,1672.1 1503.3,1675.8 1504.8,1672.8 1506.3,1675.0 1507.8,1673.5 1509.3,1676.2 1510.8,1672.7 1512.3,1675.4 1513.8,1671.8 1515.3,1674.5 1516.8,1672.4 1518.3,1674.6 1519.8,1672.3 1521.3,1675.6 1522.8,1672.0 1524.3,1675.6 1525.8,1671.9 1527.3,1675.6 1528.8,1673.0 1530.3,1675.5 1531.8,1673.3 1533.3,1676.0 1534.8,1672.7 1536.3,1675.0 1537.8,1671.9 1539.3,1675.1 1540.8,1672.5 1542.3,1675.3 1543.8,1672.8 1545.3,1675.5 1546.8,1672.4 1548.3,1676.4 1549.8,1673.6 1551.3,1676.1 1552.8,1673.5 1554.3,1675.7 1555.8,1673.0 1557.3,1675.4 1558.8,1671.8 1560.3,1675.2 1561.8,1672.6 1563.3,1675.4 1564.8,1671.8 1566.3,1675.1 1567.8,1672.7 1569.3,1675.6 1570.8,1673.5 1572.3,1675.6 1573.8,1672.2 1575.3,1675.7 1576.8,1672.0 1578.3,1675.0 1579.8,1672.8 1581.3,1675.3 1582.8,1672.7 1584.3,1675.8 1585.8,1672.7 1587.3,1676.0 1588.8,1672.0 1590.3,1674.9 1591.8,1672.7 1593.3,1675.1 1594.8,1673.6 1596.3,1676.1 1597.8,1673.3 1599.3,1676.5 1600.8,1672.9 1602.3,1675.7 1603.8,1673.6 1605.3,1675.8 1606.8,1672.8 1608.3,1675.7 1609.8,1671.7 1611.3,1674.9 1612.8,1671.9 1614.3,1675.1 1615.8,1672.3 1617.3,1674.4 1618.8,1673.0 1620.3,1674.9 1621.8,1672.2 1623.3,1676.2 1624.8,1672.8 1626.3,1675.8 1627.8,1672.7 1629.3,1675.0 1630.8,1672.5 1632.3,1674.9 1633.8,1671.0 1635.3,1674.3 1636.8,1672.3 1638.3,1675.7 1639.8,1673.8 1641.3,1676.5 1642.8,1672.4 1644.3,1675.4 1645.8,1671.9 1647.3,1675.1 1648.8,1671.5 1650.3,1674.6 1651.8,1672.2 1653.3,1674.8 1654.8,1672.7 1656.3,1675.2 1657.8,1673.1 1659.3,1675.4 1660.8,1672.9 1662.3,1674.7 1663.8,1671.5 1665.3,1674.8 1666.8,1672.3 1668.3,1675.7 1669.8,1673.2 1671.3,1676.1 1672.8,1673.1 1674.3,1675.1 1675.8,1672.1 1677.3,1674.4 1678.8,1671.0 1680.3,1674.3 1681.8,1671.3 1683.3,1675.2 1684.8,1672.3 1686.3,1675.7 1687.8,1672.7 1689.3,1674.6 1690.8,1671.4 1692.3,1674.7 1693.8,1671.7 1695.3,1674.6 1696.8,1671.9 1698.3,1674.6 1699.8,1671.5 1701.3,1675.3 1702.8,1671.3 1704.3,1674.4 1705.8,1672.4 1707.3,1674.3 1708.8,1671.5 1710.3,1675.2 1711.8,1671.2 1713.3,1675.3 1714.8,1672.4 1716.3,1675.3 1717.8,1673.3 1719.3,1675.1 1720.8,1673.2 1722.3,1675.6 1723.8,1672.4 1725.3,1675.3 1726.8,1671.6 1728.3,1675.9 1729.8,1673.0 1731.3,1676.6 1732.8,1673.7 1734.3,1676.3 1735.8,1673.4 1737.3,1675.5 1738.8,1672.2 1740.3,1675.2 1741.8,1672.0 1743.3,1674.8 1744.8,1671.7 1746.3,1674.4 1747.8,1671.5 1749.3,1675.2 1750.8,1672.2 1752.3,1676.0 1753.8,1673.5 1755.3,1676.1 1756.8,1672.3 1758.3,1674.7 1759.8,1672.2 1761.3,1675.7 1762.8,1671.8 1764.3,1674.2 1765.8,1671.7 1767.3,1674.2 1768.8,1671.8 1770.3,1674.2 1771.8,1671.5 1773.3,1673.5 1774.8,1670.8 1776.3,1674.0 1777.8,1671.9 1779.3,1675.7 1780.8,1673.0 1782.3,1676.0 1783.8,1673.3 1785.3,1675.3 1786.8,1673.2 1788.3,1675.8 1789.8,1671.7 1791.3,1675.2 1792.8,1671.8 1794.3,1675.8 1795.8,1673.4 1797.3,1676.3 1798.8,1673.4 1800.3,1675.4 1801.8,1671.4 1803.3,1675.4 1804.8,1672.5 1806.3,1675.1 1807.8,1672.4 1809.3,1675.1 1810.8,1672.7 1812.3,1676.2 1813.8,1672.6 1815.3,1675.7 1816.8,1672.6 1818.3,1675.4 1819.8,1671.8 1821.3,1674.9 1822.8,1671.7 1824.3,1675.6 1825.8,1672.5 1827.3,1675.5 1828.8,1673.1 1830.3,1675.7 1831.8,1672.3 1833.3,1675.6 1834.8,1672.6 1836.3,1675.5 1837.8,1672.5 1839.3,1675.6 1840.8,1672.8 1842.3,1674.4 1843.8,1671.5 1845.3,1674.9 1846.8,1672.0 1848.3,1675.1 1849.8,1673.3 1851.3,1676.4 1852.8,1673.4 1854.3,1676.0 1855.8,1673.5 1857.3,1675.7 1858.8,1672.8 1860.3,1674.8 1861.8,1672.4 1863.3,1674.6 1864.8,1672.1 1866.3,1676.2 1867.8,1673.1 1869.3,1675.8 1870.8,1672.6 1872.3,1675.4 1873.8,1671.8 1875.3,1674.7 1876.8,1671.5 1878.3,1674.7 1879.8,1671.2 1881.3,1674.7 1882.8,1672.0 1884.3,1674.9 1885.8,1673.2 1887.3,1676.6 1888.8,1673.1 1890.3,1676.0 1891.8,1673.2 1893.3,1675.6 1894.8,1672.0 1896.3,1674.4 1897.8,1672.1 1899.3,1674.1 1900.8,1672.4 1902.3,1675.1 1903.8,1672.6 1905.3,1675.5 1906.8,1671.8 1908.3,1674.0 1909.8,1672.0 1911.3,1674.3 1912.8,1671.5 1914.3,1675.2 1915.8,1672.1 1917.3,1674.4 1918.8,1672.4 1920.3,1674.8" fill="none" stroke="#505050" stroke-width="9.3" stroke-linejoin="round" stroke-linecap="butt"/>
<polyline points="486.0,1675.9 487.5,1672.3 489.0,1675.3 490.5,1671.9 492.0,1676.2 493.5,1673.5 495.0,1676.1 496.5,1673.8 498.0,1676.7 499.5,1672.2 501.0,1675.4 502.5,1671.8 504.0,1674.5 505.5,1672.8 507.0,1675.5 508.5,1672.8 510.0,1674.8 511.5,1672.7 513.0,1675.1 514.5,1672.7 516.0,1676.2 517.5,1673.4 519.0,1675.3 520.5,1672.5 522.0,1675.5 523.5,1672.2 525.0,1676.0 526.5,1673.3 528.0,1675.8 529.5,1673.5 531.0,1676.1 532.5,1673.3 534.0,1675.8 535.5,1672.6 537.0,1675.0 538.5,1671.7 540.0,1674.2 541.5,1672.4 543.0,1675.0 544.5,1672.8 546.0,1676.0 547.5,1672.3 549.0,1675.7 550.5,1672.0 552.0,1675.0 555.2,1673.8 555.2,1727.5 555.8,1727.5 555.8,1678.3 557.0,1678.8 558.5,1674.4 560.0,1676.0 561.5,1672.3 563.0,1675.1 564.5,1672.2 566.0,1675.2 567.5,1671.6 569.0,1675.3 570.5,1671.9 572.0,1674.9 573.5,1671.8 575.0,1674.0 576.5,1671.0 578.0,1674.1 579.5,1671.3 581.0,1673.2 582.5,1669.8 584.0,1672.5 585.5,1669.1 587.0,1671.5 588.5,1666.6 590.0,1668.1 591.5,1662.1 593.0,1663.8 594.5,1659.1 596.0,1660.6 597.5,1655.1 599.0,1656.3 600.5,1648.9 602.0,1648.5 603.5,1642.6 605.0,1645.1 606.5,1640.0 608.0,1644.4 609.5,1638.3 611.0,1640.6 612.5,1635.0 614.0,1639.5 615.5,1634.8 617.0,1638.1 618.5,1633.9 620.0,1637.6 621.5,1631.9 623.0,1634.2 624.5,1629.3 626.0,1631.9 627.5,1627.2 629.0,1631.4 630.5,1626.5 632.0,1627.2 633.5,1618.1 635.0,1618.4 636.5,1609.9 638.0,1609.2 639.5,1596.6 641.0,1591.6 642.5,1577.8 644.0,1572.5 645.5,1557.6 647.0,1551.5 648.5,1536.8 650.0,1532.8 651.5,1518.2 653.0,1515.2 654.5,1500.4 656.0,1498.5 657.5,1482.7 659.0,1480.8 660.5,1468.1 662.0,1463.1 663.5,1450.6 665.0,1449.2 666.5,1436.0 668.0,1436.3 669.5,1425.8 671.0,1422.1 672.5,1410.4 674.0,1410.2 675.5,1398.4 677.0,1398.3 678.5,1387.6 680.0,1386.5 681.5,1376.4 683.0,1379.7 684.5,1369.4 686.0,1371.8 687.5,1361.7 689.0,1364.4 690.5,1353.9 692.5,1354.6 693.5,1355.3 695.0,1364.9 696.5,1365.6 698.0,1375.3 699.5,1374.6 701.0,1383.4 702.5,1382.4 704.0,1391.3 705.5,1387.9 707.0,1398.6 708.5,1397.3 710.0,1410.6 711.5,1412.3 713.0,1425.4 714.5,1426.6 716.0,1439.5 717.5,1441.2 719.0,1453.3 720.5,1455.1 722.0,1470.3 723.5,1475.0 725.0,1488.3 726.5,1491.9 728.0,1504.0 729.5,1504.8 731.0,1518.6 732.5,1521.7 734.0,1535.2 735.5,1539.1 737.0,1553.3 738.5,1555.0 740.0,1566.2 741.5,1569.6 743.0,1582.2 744.5,1586.1 746.0,1598.4 747.5,1600.3 749.0,1610.1 750.5,1611.9 752.0,1622.3 753.5,1623.3 755.0,1633.9 756.5,1635.2 758.0,1644.0 759.5,1643.3 761.0,1650.3 762.5,1650.0 764.0,1656.2 765.5,1654.1 767.0,1661.5 768.5,1659.4 770.0,1665.3 771.5,1663.1 773.0,1669.7 774.5,1668.6 776.0,1673.4 777.5,1672.1 779.0,1676.0 780.5,1673.6 782.0,1677.4 783.5,1675.1 785.0,1678.5 786.5,1676.5 788.0,1679.3 789.5,1677.7 791.0,1681.5 792.5,1678.0 794.0,1681.8 795.5,1678.9 797.0,1681.6 798.5,1680.1 800.0,1682.4 801.5,1678.9 803.0,1681.7 804.5,1678.1 806.0,1681.7 807.5,1679.7 809.0,1682.8 810.5,1680.5 812.0,1683.4 813.5,1680.6 815.0,1683.6 816.5,1681.4 818.0,1683.4 819.5,1680.8 821.0,1683.2 822.5,1679.8 824.0,1683.0 825.5,1679.7 827.1,1681.8 827.9,1604.9 828.5,1604.9 828.9,1673.8 830.1,1674.1 831.6,1672.0 833.1,1675.0 834.6,1671.6 836.1,1674.5 837.6,1671.9 839.1,1674.8 840.6,1672.1 842.1,1674.6 843.6,1672.0 845.1,1674.9 846.6,1672.5 848.1,1675.9 849.6,1673.5 851.1,1675.5 852.6,1671.7 854.1,1675.3 855.6,1672.7 857.1,1675.2 858.6,1673.6 860.1,1675.4 861.6,1671.7 863.1,1675.9 864.6,1672.4 866.1,1674.6 867.6,1671.8 869.1,1674.0 870.6,1671.6 872.1,1674.9 873.6,1672.6 875.1,1675.5 876.6,1671.7 878.1,1674.6 879.6,1671.0 881.1,1674.0 882.6,1671.7 884.1,1673.5 885.6,1671.4 887.1,1674.1 888.6,1671.7 890.1,1675.2 891.6,1671.9 893.1,1675.4 894.6,1673.6 896.1,1674.8 897.6,1672.7 899.1,1675.7 900.6,1672.6 902.1,1676.1 903.6,1672.8 905.1,1676.4 906.6,1672.8 908.1,1675.9 909.6,1672.9 911.1,1674.6 912.6,1672.4 914.1,1674.4 915.6,1671.8 917.1,1675.4 918.6,1672.6 920.1,1675.7 921.6,1673.0 923.1,1675.5 924.6,1673.2 926.1,1675.5 927.6,1672.4 929.1,1675.2 930.6,1673.4 932.1,1675.8 933.6,1672.9 935.1,1676.2 936.6,1673.1 938.1,1675.8 939.6,1673.1 941.1,1675.3 942.6,1671.7 944.1,1674.3 945.6,1670.9 947.1,1674.2 948.6,1671.6 950.1,1674.9 951.6,1672.6 953.1,1675.7 954.6,1672.2 956.1,1674.6 957.6,1671.9 959.1,1674.8 960.6,1671.3 962.1,1675.8 963.6,1672.7 965.1,1676.1 966.6,1672.4 968.1,1674.5 969.6,1671.0 971.1,1673.7 972.6,1672.1 974.1,1675.4 975.6,1673.5 977.1,1676.3 978.6,1672.7 980.1,1675.1 981.6,1671.3 983.1,1675.4 984.6,1672.7 986.1,1675.6 987.6,1673.0 989.1,1676.1 990.6,1672.3 992.1,1676.0 993.6,1673.7 995.1,1675.9 996.6,1673.1 998.1,1674.9 999.6,1672.0 1001.1,1674.9 1002.6,1671.8 1004.1,1675.8 1005.6,1672.0 1007.1,1674.8 1008.6,1672.5 1010.1,1675.7 1011.6,1672.3 1013.1,1675.4 1014.6,1673.0 1016.1,1674.8 1017.6,1672.2 1019.1,1674.9 1020.6,1672.6 1022.1,1675.8 1023.6,1672.4 1025.1,1675.2 1026.6,1671.9 1028.1,1674.7 1029.6,1672.7 1031.1,1675.9 1032.6,1673.4 1034.1,1676.7 1035.6,1673.6 1037.1,1675.7 1038.6,1672.8 1040.1,1675.5 1041.6,1672.8 1043.1,1675.9 1044.6,1671.5 1046.1,1675.2 1047.6,1672.2 1049.1,1675.2 1050.6,1672.8 1052.1,1676.0 1053.6,1672.4 1055.1,1676.0 1056.6,1672.3 1058.1,1675.4 1059.6,1672.6 1061.1,1675.3 1062.6,1672.5 1064.1,1675.1 1065.6,1672.0 1067.1,1675.3 1068.6,1672.1 1070.1,1675.2 1071.6,1672.9 1073.1,1675.7 1074.6,1672.3 1076.1,1675.3 1077.6,1672.9 1079.1,1674.9 1080.6,1672.4 1082.1,1675.2 1083.6,1671.7 1085.1,1674.2 1086.6,1671.8 1088.1,1674.5 1089.6,1671.6 1091.1,1675.0 1092.6,1672.5 1094.1,1675.4 1095.6,1673.2 1097.1,1675.9 1098.6,1673.6 1100.1,1676.0 1101.6,1673.7 1103.1,1675.8 1104.6,1672.7 1106.1,1675.4 1107.6,1672.0 1109.1,1675.6 1110.6,1672.6 1112.1,1675.4 1113.6,1672.1 1115.1,1675.7 1116.6,1672.0 1118.1,1675.4 1119.6,1671.2 1121.1,1674.0 1122.6,1671.4 1124.1,1674.9 1125.6,1672.7 1127.1,1675.7 1128.6,1672.5 1130.1,1676.3 1131.6,1672.6 1133.1,1675.5 1134.6,1673.7 1136.1,1676.2 1137.6,1673.1 1139.1,1675.3 1140.6,1672.2 1142.1,1675.0 1143.6,1671.7 1145.1,1674.0 1146.6,1671.7 1148.1,1675.0 1149.6,1671.5 1151.1,1674.9 1152.6,1672.2 1154.1,1675.7 1155.6,1672.7 1157.1,1675.5 1158.6,1673.1 1160.1,1675.2 1161.6,1672.3 1163.1,1675.9 1164.6,1672.2 1166.1,1675.1 1167.6,1672.7 1169.1,1674.7 1170.6,1672.1 1172.1,1675.5 1173.6,1672.7 1175.1,1676.5 1176.6,1672.5 1178.1,1676.1 1179.6,1673.0 1181.1,1674.8 1182.6,1672.3 1184.1,1675.1 1185.6,1671.7 1187.1,1674.8 1188.6,1672.2 1190.1,1674.5 1191.6,1672.6 1193.1,1675.8 1194.6,1672.7 1196.1,1676.6 1197.6,1672.3 1199.1,1675.4 1200.6,1672.0 1202.1,1674.3 1203.6,1672.3 1205.1,1674.8 1206.6,1672.1 1208.1,1676.2 1209.6,1672.5 1211.1,1675.4 1212.6,1671.4 1214.1,1674.6 1215.6,1672.5 1217.1,1675.6 1218.6,1673.0 1220.1,1675.8 1221.6,1672.6 1223.1,1675.2 1224.6,1671.8 1226.1,1674.3 1227.6,1670.7 1229.1,1673.4 1230.6,1671.1 1232.1,1674.2 1233.6,1670.8 1235.1,1674.3 1236.6,1672.0 1238.1,1674.8 1239.6,1672.1 1241.1,1675.4 1242.6,1672.3 1244.1,1674.5 1245.6,1672.0 1247.1,1674.8 1248.6,1671.7 1250.1,1675.4 1251.6,1673.0 1253.1,1675.1 1254.6,1672.9 1256.1,1675.9 1257.6,1673.2 1259.1,1675.2 1260.6,1672.7 1262.1,1675.4 1263.6,1672.6 1265.1,1675.4 1266.6,1671.7 1268.1,1675.4 1269.6,1672.1 1271.1,1675.8 1272.6,1672.5 1274.1,1675.6 1275.6,1672.6 1277.1,1675.1 1278.6,1672.1 1280.1,1675.4 1281.6,1673.0 1283.1,1676.8 1284.6,1674.5 1286.1,1676.5 1287.6,1674.0 1289.1,1676.7 1290.6,1672.9 1292.1,1675.6 1293.6,1672.7 1295.1,1675.7 1296.6,1672.7 1298.1,1675.3 1299.6,1671.7 1301.1,1674.5 1302.6,1672.2 1304.1,1674.9 1305.6,1672.8 1307.1,1675.8 1308.6,1672.4 1310.1,1675.2 1311.6,1671.5 1313.1,1674.8 1314.6,1671.5 1316.1,1675.1 1317.6,1671.6 1319.1,1674.7 1320.6,1671.8 1322.1,1673.8 1323.6,1672.3 1325.1,1676.0 1326.6,1673.1 1328.1,1676.8 1329.6,1673.6 1331.1,1676.6 1332.6,1673.1 1334.1,1675.7 1335.6,1671.8 1337.1,1674.3 1338.6,1671.3 1340.1,1675.7 1341.6,1673.1 1343.1,1675.2 1344.6,1673.1 1346.1,1674.5 1347.6,1672.7 1349.1,1675.4 1350.6,1672.6 1352.1,1676.0 1353.6,1672.0 1355.1,1675.3 1356.6,1672.2 1358.1,1675.4 1359.6,1673.0 1361.1,1675.2 1362.6,1671.8 1364.1,1674.2 1365.6,1671.3 1367.1,1674.5 1368.6,1673.2 1370.1,1675.8 1371.6,1673.5 1373.1,1676.9 1374.6,1673.4 1376.1,1675.2 1377.6,1672.3 1379.1,1674.8 1380.6,1671.6 1382.1,1675.1 1383.6,1671.8 1385.1,1674.6 1386.6,1671.6 1388.1,1673.9 1389.6,1672.0 1391.1,1674.8 1392.6,1672.7 1394.1,1675.0 1395.6,1672.8 1397.1,1675.3 1398.6,1671.6 1400.1,1674.6 1401.6,1672.7 1403.1,1675.8 1404.6,1673.8 1406.1,1676.6 1407.6,1673.0 1409.1,1676.1 1410.6,1673.1 1412.1,1675.1 1413.6,1672.6 1415.1,1675.1 1416.6,1672.9 1418.1,1675.2 1419.6,1672.8 1421.1,1675.4 1422.6,1672.6 1424.1,1676.2 1425.6,1673.0 1427.1,1675.6 1428.6,1673.0 1430.1,1674.9 1431.6,1673.0 1433.1,1675.2 1434.6,1672.4 1436.1,1676.6 1437.6,1673.0 1439.1,1675.5 1440.6,1672.9 1442.1,1675.8 1443.6,1672.9 1445.1,1675.8 1446.6,1673.0 1448.1,1675.0 1449.6,1672.1 1451.1,1674.8 1452.6,1672.0 1454.1,1674.6 1455.6,1672.7 1457.1,1674.8 1458.6,1672.2 1460.1,1675.0 1461.6,1672.0 1463.1,1674.7 1464.6,1672.3 1466.1,1675.5 1467.6,1672.4 1469.1,1676.5 1470.6,1673.2 1472.1,1676.0 1473.6,1672.2 1475.1,1675.5 1476.6,1672.2 1478.1,1675.7 1479.6,1672.4 1481.1,1675.1 1482.6,1672.8 1484.1,1675.6 1485.6,1671.3 1487.1,1674.5 1488.6,1671.4 1490.1,1674.8 1491.6,1672.7 1493.1,1675.7 1494.6,1673.0 1496.1,1676.1 1497.6,1672.6 1499.1,1676.3 1500.6,1673.0 1502.1,1676.0 1503.6,1673.1 1505.1,1674.4 1506.6,1671.5 1508.1,1674.2 1509.6,1671.5 1511.1,1674.5 1512.6,1671.5 1514.1,1674.8 1515.6,1672.3 1517.1,1675.5 1518.6,1672.3 1520.1,1675.2 1521.6,1671.4 1523.1,1675.2 1524.6,1672.3 1526.1,1675.8 1527.6,1673.3 1529.1,1676.5 1530.6,1673.0 1532.1,1675.2 1533.6,1671.6 1535.1,1674.7 1536.6,1671.9 1538.1,1675.1 1539.6,1672.2 1541.1,1675.1 1542.6,1671.6 1544.1,1674.3 1545.6,1671.9 1547.1,1675.6 1548.6,1672.0 1550.1,1674.3 1551.6,1671.8 1553.1,1675.3 1554.6,1672.2 1556.1,1675.8 1557.6,1672.2 1559.1,1675.0 1560.6,1671.9 1562.1,1675.4 1563.6,1673.1 1565.1,1675.7 1566.6,1672.1 1568.1,1676.0 1569.6,1672.2 1571.1,1675.5 1572.6,1673.0 1574.1,1675.3 1575.6,1672.6 1577.1,1676.0 1578.6,1672.8 1580.1,1675.3 1581.6,1672.7 1583.1,1675.3 1584.6,1672.3 1586.1,1675.8 1587.6,1672.8 1589.1,1675.1 1590.6,1672.9 1592.1,1676.3 1593.6,1672.2 1595.1,1675.7 1596.6,1672.5 1598.1,1674.3 1599.6,1672.1 1601.1,1674.7 1602.6,1671.6 1604.1,1674.6 1605.6,1671.9 1607.1,1674.8 1608.6,1672.3 1610.1,1674.9 1611.6,1672.0 1613.1,1675.2 1614.6,1672.5 1616.1,1675.5 1617.6,1673.1 1619.1,1675.7 1620.6,1673.0 1622.1,1676.5 1623.6,1673.3 1625.1,1675.9 1626.6,1672.7 1628.1,1675.2 1629.6,1672.8 1631.1,1676.2 1632.6,1673.1 1634.1,1676.7 1635.6,1672.9 1637.1,1675.6 1638.6,1672.7 1640.1,1675.9 1641.6,1672.3 1643.1,1675.2 1644.6,1672.5 1646.1,1675.7 1647.6,1672.9 1649.1,1675.2 1650.6,1672.3 1652.1,1675.1 1653.6,1672.3 1655.1,1674.8 1656.6,1672.1 1658.1,1675.3 1659.6,1672.2 1661.1,1676.2 1662.6,1672.7 1664.1,1675.6 1665.6,1672.5 1667.1,1675.7 1668.6,1672.8 1670.1,1675.8 1671.6,1673.0 1673.1,1675.5 1674.6,1672.9 1676.1,1675.8 1677.6,1673.1 1679.1,1676.2 1680.6,1673.2 1682.1,1675.2 1683.6,1672.3 1685.1,1674.8 1686.6,1672.1 1688.1,1675.1 1689.6,1672.7 1691.1,1675.5 1692.6,1673.2 1694.1,1676.4 1695.6,1672.7 1697.1,1675.4 1698.6,1672.1 1700.1,1675.6 1701.6,1672.5 1703.1,1675.5 1704.6,1671.8 1706.1,1674.7 1707.6,1673.0 1709.1,1674.9 1710.6,1672.1 1712.1,1675.6 1713.6,1671.9 1715.1,1675.0 1716.6,1672.2 1718.1,1675.1 1719.6,1672.4 1721.1,1674.7 1722.6,1671.7 1724.1,1675.7 1725.6,1672.4 1727.1,1676.1 1728.6,1672.3 1730.1,1674.8 1731.6,1671.9 1733.1,1676.2 1734.6,1672.4 1736.1,1675.5 1737.6,1672.7 1739.1,1675.5 1740.6,1673.0 1742.1,1675.3 1743.6,1671.5 1745.1,1674.0 1746.6,1670.9 1748.1,1674.7 1749.6,1672.1 1751.1,1675.3 1752.6,1672.3 1754.1,1675.2 1755.6,1672.2 1757.1,1674.5 1758.6,1671.2 1760.1,1674.0 1761.6,1672.0 1763.1,1674.6 1764.6,1672.5 1766.1,1675.3 1767.6,1672.9 1769.1,1675.6 1770.6,1673.7 1772.1,1675.4 1773.6,1673.0 1775.1,1676.4 1776.6,1672.7 1778.1,1675.4 1779.6,1672.7 1781.1,1674.5 1782.6,1671.7 1784.1,1674.7 1785.6,1671.9 1787.1,1674.8 1788.6,1672.1 1790.1,1675.5 1791.6,1672.8 1793.1,1675.6 1794.6,1672.8 1796.1,1675.5 1797.6,1672.0 1799.1,1674.4 1800.6,1672.2 1802.1,1675.1 1803.6,1671.8 1805.1,1674.9 1806.6,1672.1 1808.1,1675.0 1809.6,1672.0 1811.1,1675.6 1812.6,1671.7 1814.1,1675.0 1815.6,1672.0 1817.1,1674.6 1818.6,1671.3 1820.1,1674.8 1821.6,1671.2 1823.1,1675.2 1824.6,1671.9 1826.1,1675.5 1827.6,1672.1 1829.1,1674.6 1830.6,1671.8 1832.1,1674.9 1833.6,1672.7 1835.1,1675.8 1836.6,1672.7 1838.1,1675.1 1839.6,1672.5 1841.1,1675.3 1842.6,1672.6 1844.1,1675.1 1845.6,1672.0 1847.1,1674.6 1848.6,1672.1 1850.1,1675.0 1851.6,1672.7 1853.1,1675.2 1854.6,1672.9 1856.1,1675.3 1857.6,1672.1 1859.1,1675.4 1860.6,1672.1 1862.1,1675.5 1863.6,1673.3 1865.1,1676.3 1866.6,1673.9 1868.1,1676.0 1869.6,1671.8 1871.1,1674.5 1872.6,1671.5 1874.1,1674.5 1875.6,1671.4 1877.1,1674.3 1878.6,1671.9 1880.1,1675.3 1881.6,1672.3 1883.1,1675.9 1884.6,1672.3 1886.1,1674.9 1887.6,1672.0 1889.1,1675.2 1890.6,1672.5 1892.1,1674.7 1893.6,1671.1 1895.1,1674.6 1896.6,1671.7 1898.1,1674.9 1899.6,1672.8 1901.1,1675.7 1902.6,1673.0 1904.1,1675.2 1905.6,1672.0 1907.1,1675.2 1908.6,1672.2 1910.1,1675.6 1911.6,1672.6 1913.1,1675.1 1914.6,1672.5 1916.1,1675.4 1917.6,1671.5 1919.1,1674.8" fill="none" stroke="#EF4040" stroke-width="9.3" stroke-linejoin="round" stroke-linecap="butt"/>
<polyline points="486.0,1675.1 487.5,1672.2 489.0,1674.8 490.5,1671.5 492.0,1674.5 493.5,1671.7 495.0,1675.5 496.5,1672.4 498.0,1675.1 499.5,1672.4 501.0,1675.1 502.5,1671.9 504.0,1675.6 505.5,1672.7 507.0,1675.4 508.5,1672.9 510.0,1674.6 511.5,1672.6 513.0,1676.2 514.5,1672.5 516.0,1675.7 517.5,1672.5 519.0,1676.1 520.5,1672.8 522.0,1674.9 523.5,1672.4 525.0,1674.3 526.5,1671.5 528.0,1674.1 529.5,1671.4 531.0,1675.3 532.5,1671.8 534.0,1675.3 535.5,1672.2 537.0,1674.9 538.5,1671.7 540.0,1674.7 541.5,1672.5 543.0,1675.1 544.5,1672.6 546.0,1674.6 547.5,1672.3 549.0,1674.4 550.5,1671.6 552.0,1674.8 555.2,1673.8 555.2,1727.5 555.8,1727.5 555.8,1678.3 557.0,1678.0 558.5,1673.9 560.0,1675.9 561.5,1672.7 563.0,1675.6 564.5,1672.6 566.0,1676.0 567.5,1672.0 569.0,1675.5 570.5,1672.9 572.0,1676.1 573.5,1672.5 575.0,1675.3 576.5,1671.3 578.0,1674.3 579.5,1671.1 581.0,1674.0 582.5,1670.7 584.0,1672.7 585.5,1670.5 587.0,1674.2 588.5,1671.2 590.0,1674.4 591.5,1670.8 593.0,1674.8 594.5,1671.9 596.0,1674.5 597.5,1671.4 599.0,1675.1 600.5,1671.3 602.0,1675.0 603.5,1671.0 605.0,1674.2 606.5,1669.8 608.0,1673.6 609.5,1668.8 611.0,1670.7 612.5,1666.8 614.0,1667.0 615.5,1661.7 617.0,1663.0 618.5,1658.9 620.0,1660.8 621.5,1655.9 623.0,1657.9 624.5,1653.9 626.0,1656.5 627.5,1651.6 629.0,1653.7 630.5,1648.0 632.0,1650.5 633.5,1646.5 635.0,1649.0 636.5,1643.2 638.0,1647.3 639.5,1642.8 641.0,1648.0 642.5,1643.7 644.0,1646.7 645.5,1643.0 647.0,1646.7 648.5,1642.6 650.0,1647.0 651.5,1642.0 653.0,1646.8 654.5,1643.6 656.0,1647.2 657.5,1643.3 659.0,1645.9 660.5,1640.4 662.0,1645.2 663.5,1639.4 665.0,1642.2 666.5,1636.3 668.0,1637.5 669.5,1629.5 671.0,1630.0 672.5,1622.8 674.0,1623.6 675.5,1616.4 677.0,1615.6 678.5,1607.1 680.0,1607.0 681.5,1597.8 683.0,1599.2 684.5,1589.4 686.0,1588.9 687.5,1578.2 689.0,1578.2 690.5,1569.6 692.0,1569.8 693.5,1559.3 695.0,1558.2 696.5,1547.2 698.0,1546.1 699.5,1536.2 701.0,1535.6 702.5,1525.6 704.0,1525.5 705.5,1513.1 707.0,1515.7 708.5,1504.0 710.0,1506.0 711.5,1496.7 713.0,1497.4 714.5,1487.4 716.0,1485.7 717.5,1474.2 719.0,1475.6 720.5,1463.7 722.0,1466.4 723.5,1455.5 725.0,1457.2 726.5,1447.2 728.0,1449.5 729.5,1438.2 731.0,1441.8 732.5,1431.3 734.0,1432.8 735.5,1424.6 737.0,1427.9 738.5,1419.6 740.0,1419.5 741.5,1410.8 743.0,1413.7 744.5,1402.7 746.0,1406.3 747.5,1395.6 749.0,1398.2 750.5,1388.1 752.0,1390.1 753.5,1379.2 755.0,1379.3 756.5,1368.2 757.6,1369.4 759.5,1367.8 761.0,1374.4 762.5,1369.1 764.0,1375.9 765.5,1370.4 767.0,1378.5 768.5,1376.2 770.0,1388.6 771.5,1386.4 773.0,1399.2 774.5,1399.1 776.0,1409.9 777.5,1409.2 779.0,1418.9 780.5,1417.7 782.0,1427.4 783.5,1424.1 785.0,1434.7 786.5,1431.6 788.0,1444.1 789.5,1443.1 791.0,1453.2 792.5,1452.4 794.0,1463.7 795.5,1462.6 797.0,1473.3 798.5,1469.4 800.0,1480.0 801.5,1479.4 803.0,1489.7 804.5,1489.7 806.0,1500.5 807.5,1500.1 809.0,1510.5 810.5,1508.7 812.0,1517.9 813.5,1517.9 815.0,1525.3 816.5,1524.7 818.0,1534.4 819.5,1534.2 821.0,1544.0 822.5,1542.7 824.0,1552.0 825.5,1549.3 827.0,1558.7 828.5,1557.3 830.0,1564.6 831.5,1562.2 833.0,1571.1 834.5,1568.9 836.0,1578.3 837.5,1577.2 839.0,1587.2 840.5,1586.0 842.0,1595.4 843.5,1593.4 845.0,1599.5 846.5,1599.7 848.0,1606.1 849.5,1606.3 851.0,1613.8 852.5,1612.5 854.0,1620.2 855.5,1617.9 857.0,1625.2 858.5,1623.6 860.0,1631.6 861.5,1630.5 863.0,1637.2 864.5,1636.6 866.0,1643.2 867.5,1642.2 869.0,1647.8 870.5,1647.5 872.0,1652.7 873.5,1649.5 875.0,1654.9 876.5,1653.3 878.0,1658.2 879.5,1655.0 881.0,1660.5 882.5,1658.9 884.0,1663.6 885.5,1661.6 887.0,1666.5 888.5,1663.6 890.0,1667.9 891.5,1665.1 893.0,1669.0 894.5,1665.9 896.0,1669.9 897.5,1667.3 899.0,1671.8 900.5,1669.4 902.0,1673.6 903.5,1670.9 905.0,1674.2 906.5,1671.8 908.0,1674.3 909.5,1672.1 911.0,1675.2 912.5,1672.5 914.0,1675.4 915.5,1672.5 917.0,1675.7 918.5,1673.3 920.0,1677.7 921.5,1674.2 923.0,1677.8 924.5,1675.0 926.0,1678.1 927.5,1675.4 929.0,1678.4 930.5,1676.5 932.0,1679.2 933.5,1677.0 935.0,1680.2 936.5,1676.6 938.0,1679.8 939.5,1677.6 941.0,1681.4 942.5,1678.9 944.0,1682.7 945.5,1679.7 947.0,1682.0 948.5,1679.3 950.0,1682.0 951.5,1679.5 953.0,1682.8 954.5,1680.0 956.0,1682.6 957.5,1680.3 959.0,1682.2 960.5,1679.2 962.0,1682.4 963.9,1681.0 964.7,1609.2 965.3,1609.2 965.7,1673.8 966.9,1674.3 968.4,1672.0 969.9,1674.6 971.4,1672.5 972.9,1675.9 974.4,1673.0 975.9,1675.6 977.4,1673.3 978.9,1676.2 980.4,1673.4 981.9,1676.3 983.4,1672.7 984.9,1674.8 986.4,1671.6 987.9,1674.7 989.4,1672.0 990.9,1675.6 992.4,1672.2 993.9,1675.7 995.4,1671.7 996.9,1675.1 998.4,1672.7 999.9,1675.4 1001.4,1672.7 1002.9,1675.4 1004.4,1673.2 1005.9,1675.0 1007.4,1671.7 1008.9,1674.7 1010.4,1671.7 1011.9,1674.8 1013.4,1672.8 1014.9,1675.9 1016.4,1672.9 1017.9,1674.8 1019.4,1671.4 1020.9,1674.4 1022.4,1672.1 1023.9,1675.9 1025.4,1672.9 1026.9,1675.3 1028.4,1671.8 1029.9,1674.4 1031.4,1671.7 1032.9,1674.5 1034.4,1671.9 1035.9,1675.1 1037.4,1671.2 1038.9,1674.2 1040.4,1671.6 1041.9,1675.4 1043.4,1673.2 1044.9,1676.5 1046.4,1672.8 1047.9,1675.1 1049.4,1672.1 1050.9,1675.0 1052.4,1672.2 1053.9,1675.3 1055.4,1672.9 1056.9,1675.6 1058.4,1673.0 1059.9,1674.8 1061.4,1672.8 1062.9,1675.0 1064.4,1672.9 1065.9,1675.8 1067.4,1672.3 1068.9,1675.8 1070.4,1673.5 1071.9,1676.3 1073.4,1673.6 1074.9,1676.8 1076.4,1673.8 1077.9,1676.7 1079.4,1673.2 1080.9,1675.0 1082.4,1672.4 1083.9,1676.0 1085.4,1671.3 1086.9,1674.5 1088.4,1671.2 1089.9,1674.3 1091.4,1672.5 1092.9,1674.9 1094.4,1672.0 1095.9,1674.8 1097.4,1672.4 1098.9,1675.0 1100.4,1672.4 1101.9,1675.1 1103.4,1671.6 1104.9,1674.5 1106.4,1671.6 1107.9,1674.8 1109.4,1671.7 1110.9,1675.1 1112.4,1671.4 1113.9,1674.4 1115.4,1670.9 1116.9,1673.3 1118.4,1671.0 1119.9,1674.2 1121.4,1671.7 1122.9,1674.4 1124.4,1671.9 1125.9,1674.4 1127.4,1671.6 1128.9,1676.2 1130.4,1672.5 1131.9,1675.6 1133.4,1673.5 1134.9,1674.4 1136.4,1672.5 1137.9,1675.4 1139.4,1672.0 1140.9,1675.9 1142.4,1672.9 1143.9,1675.4 1145.4,1673.8 1146.9,1676.7 1148.4,1673.9 1149.9,1675.9 1151.4,1673.1 1152.9,1675.4 1154.4,1672.6 1155.9,1675.0 1157.4,1671.7 1158.9,1674.9 1160.4,1671.3 1161.9,1675.5 1163.4,1672.3 1164.9,1675.0 1166.4,1672.3 1167.9,1674.2 1169.4,1672.1 1170.9,1675.1 1172.4,1672.9 1173.9,1676.2 1175.4,1672.5 1176.9,1676.3 1178.4,1673.2 1179.9,1676.2 1181.4,1672.7 1182.9,1675.5 1184.4,1671.4 1185.9,1675.1 1187.4,1671.6 1188.9,1674.0 1190.4,1671.5 1191.9,1674.0 1193.4,1671.6 1194.9,1674.2 1196.4,1671.8 1197.9,1675.0 1199.4,1672.4 1200.9,1674.6 1202.4,1672.2 1203.9,1674.1 1205.4,1671.1 1206.9,1674.9 1208.4,1671.9 1209.9,1675.4 1211.4,1671.8 1212.9,1674.3 1214.4,1671.7 1215.9,1674.2 1217.4,1671.9 1218.9,1675.0 1220.4,1671.7 1221.9,1673.6 1223.4,1671.6 1224.9,1674.4 1226.4,1671.5 1227.9,1675.4 1229.4,1673.1 1230.9,1676.3 1232.4,1673.2 1233.9,1675.7 1235.4,1671.7 1236.9,1674.9 1238.4,1671.5 1239.9,1674.6 1241.4,1672.8 1242.9,1675.0 1244.4,1671.9 1245.9,1675.5 1247.4,1672.0 1248.9,1674.4 1250.4,1672.5 1251.9,1675.5 1253.4,1672.8 1254.9,1676.4 1256.4,1673.4 1257.9,1676.3 1259.4,1673.0 1260.9,1674.9 1262.4,1671.5 1263.9,1674.1 1265.4,1671.7 1266.9,1674.9 1268.4,1672.2 1269.9,1676.3 1271.4,1673.0 1272.9,1676.0 1274.4,1672.9 1275.9,1675.1 1277.4,1672.4 1278.9,1675.4 1280.4,1672.8 1281.9,1674.1 1283.4,1671.5 1284.9,1674.8 1286.4,1672.5 1287.9,1675.2 1289.4,1672.1 1290.9,1674.9 1292.4,1672.5 1293.9,1675.2 1295.4,1672.2 1296.9,1674.8 1298.4,1671.6 1299.9,1674.1 1301.4,1671.4 1302.9,1674.9 1304.4,1672.5 1305.9,1675.2 1307.4,1672.8 1308.9,1675.4 1310.4,1672.9 1311.9,1675.9 1313.4,1671.8 1314.9,1675.4 1316.4,1672.7 1317.9,1675.6 1319.4,1673.2 1320.9,1675.6 1322.4,1673.6 1323.9,1676.3 1325.4,1673.3 1326.9,1675.6 1328.4,1671.5 1329.9,1674.3 1331.4,1671.4 1332.9,1675.0 1334.4,1673.4 1335.9,1675.8 1337.4,1672.1 1338.9,1675.5 1340.4,1672.0 1341.9,1675.5 1343.4,1672.6 1344.9,1674.8 1346.4,1672.4 1347.9,1674.7 1349.4,1672.4 1350.9,1674.8 1352.4,1672.3 1353.9,1674.9 1355.4,1672.5 1356.9,1674.7 1358.4,1671.9 1359.9,1675.2 1361.4,1672.3 1362.9,1675.4 1364.4,1671.5 1365.9,1674.2 1367.4,1672.6 1368.9,1674.3 1370.4,1671.7 1371.9,1675.1 1373.4,1671.9 1374.9,1675.2 1376.4,1672.6 1377.9,1674.9 1379.4,1672.3 1380.9,1675.0 1382.4,1672.4 1383.9,1675.3 1385.4,1671.8 1386.9,1675.1 1388.4,1673.3 1389.9,1675.9 1391.4,1672.7 1392.9,1675.8 1394.4,1671.7 1395.9,1674.8 1397.4,1672.4 1398.9,1674.9 1400.4,1672.6 1401.9,1674.9 1403.4,1671.8 1404.9,1675.1 1406.4,1671.3 1407.9,1675.1 1409.4,1671.8 1410.9,1675.1 1412.4,1672.2 1413.9,1674.8 1415.4,1671.6 1416.9,1674.7 1418.4,1673.2 1419.9,1676.6 1421.4,1673.8 1422.9,1676.0 1424.4,1672.7 1425.9,1675.2 1427.4,1672.0 1428.9,1675.4 1430.4,1672.5 1431.9,1676.0 1433.4,1672.7 1434.9,1675.2 1436.4,1672.3 1437.9,1674.5 1439.4,1671.7 1440.9,1674.3 1442.4,1671.6 1443.9,1675.2 1445.4,1671.9 1446.9,1674.5 1448.4,1671.3 1449.9,1674.6 1451.4,1672.8 1452.9,1675.2 1454.4,1674.0 1455.9,1676.9 1457.4,1673.3 1458.9,1676.1 1460.4,1671.7 1461.9,1675.7 1463.4,1672.4 1464.9,1676.0 1466.4,1672.7 1467.9,1675.3 1469.4,1671.9 1470.9,1675.6 1472.4,1672.6 1473.9,1676.1 1475.4,1672.4 1476.9,1675.2 1478.4,1671.1 1479.9,1674.4 1481.4,1671.1 1482.9,1674.8 1484.4,1672.5 1485.9,1675.4 1487.4,1673.2 1488.9,1676.5 1490.4,1673.5 1491.9,1675.3 1493.4,1672.6 1494.9,1675.2 1496.4,1672.7 1497.9,1675.0 1499.4,1671.6 1500.9,1675.5 1502.4,1672.6 1503.9,1675.4 1505.4,1672.5 1506.9,1675.4 1508.4,1672.3 1509.9,1674.6 1511.4,1672.2 1512.9,1675.0 1514.4,1672.3 1515.9,1674.6 1517.4,1672.0 1518.9,1675.1 1520.4,1672.1 1521.9,1675.6 1523.4,1672.7 1524.9,1675.2 1526.4,1671.6 1527.9,1675.7 1529.4,1672.0 1530.9,1674.6 1532.4,1671.7 1533.9,1674.7 1535.4,1672.0 1536.9,1675.3 1538.4,1672.5 1539.9,1676.0 1541.4,1672.3 1542.9,1676.0 1544.4,1673.0 1545.9,1675.7 1547.4,1672.7 1548.9,1675.8 1550.4,1672.4 1551.9,1675.6 1553.4,1672.6 1554.9,1675.4 1556.4,1672.2 1557.9,1675.1 1559.4,1672.7 1560.9,1675.1 1562.4,1673.4 1563.9,1676.3 1565.4,1672.1 1566.9,1675.3 1568.4,1672.4 1569.9,1675.0 1571.4,1672.3 1572.9,1675.1 1574.4,1672.0 1575.9,1675.3 1577.4,1672.1 1578.9,1675.2 1580.4,1671.8 1581.9,1674.9 1583.4,1672.9 1584.9,1675.7 1586.4,1672.6 1587.9,1676.1 1589.4,1673.1 1590.9,1675.2 1592.4,1672.4 1593.9,1674.3 1595.4,1671.7 1596.9,1674.4 1598.4,1671.3 1599.9,1674.9 1601.4,1672.0 1602.9,1675.7 1604.4,1672.4 1605.9,1675.0 1607.4,1672.1 1608.9,1675.1 1610.4,1672.8 1611.9,1676.1 1613.4,1672.3 1614.9,1675.6 1616.4,1671.7 1617.9,1674.9 1619.4,1672.4 1620.9,1675.0 1622.4,1672.1 1623.9,1674.1 1625.4,1671.9 1626.9,1675.4 1628.4,1672.9 1629.9,1676.3 1631.4,1672.5 1632.9,1675.3 1634.4,1672.3 1635.9,1675.2 1637.4,1672.9 1638.9,1675.9 1640.4,1672.4 1641.9,1675.5 1643.4,1672.3 1644.9,1674.8 1646.4,1672.0 1647.9,1673.7 1649.4,1671.6 1650.9,1674.1 1652.4,1671.8 1653.9,1674.6 1655.4,1672.6 1656.9,1676.1 1658.4,1673.3 1659.9,1676.3 1661.4,1674.0 1662.9,1676.6 1664.4,1673.1 1665.9,1675.2 1667.4,1672.0 1668.9,1674.5 1670.4,1672.4 1671.9,1675.2 1673.4,1672.4 1674.9,1675.2 1676.4,1673.1 1677.9,1675.5 1679.4,1672.4 1680.9,1675.2 1682.4,1672.7 1683.9,1676.0 1685.4,1673.6 1686.9,1676.2 1688.4,1673.2 1689.9,1675.8 1691.4,1673.4 1692.9,1675.5 1694.4,1671.8 1695.9,1674.4 1697.4,1670.7 1698.9,1674.1 1700.4,1671.6 1701.9,1674.9 1703.4,1671.9 1704.9,1675.0 1706.4,1671.4 1707.9,1675.0 1709.4,1672.6 1710.9,1674.9 1712.4,1672.5 1713.9,1674.5 1715.4,1671.6 1716.9,1674.8 1718.4,1673.0 1719.9,1676.4 1721.4,1673.0 1722.9,1676.0 1724.4,1672.7 1725.9,1675.7 1727.4,1673.6 1728.9,1676.0 1730.4,1673.6 1731.9,1676.4 1733.4,1672.8 1734.9,1675.6 1736.4,1672.6 1737.9,1675.8 1739.4,1672.3 1740.9,1675.3 1742.4,1673.4 1743.9,1676.3 1745.4,1673.9 1746.9,1676.5 1748.4,1673.7 1749.9,1675.8 1751.4,1672.9 1752.9,1675.6 1754.4,1672.2 1755.9,1675.8 1757.4,1673.1 1758.9,1676.1 1760.4,1672.6 1761.9,1676.1 1763.4,1672.6 1764.9,1675.2 1766.4,1672.9 1767.9,1675.2 1769.4,1672.8 1770.9,1675.6 1772.4,1673.2 1773.9,1675.7 1775.4,1673.2 1776.9,1675.7 1778.4,1673.0 1779.9,1676.4 1781.4,1673.3 1782.9,1676.4 1784.4,1673.9 1785.9,1675.7 1787.4,1673.1 1788.9,1675.3 1790.4,1672.3 1791.9,1674.8 1793.4,1671.8 1794.9,1674.8 1796.4,1671.7 1797.9,1675.4 1799.4,1672.3 1800.9,1675.0 1802.4,1672.0 1803.9,1674.5 1805.4,1672.5 1806.9,1675.7 1808.4,1672.7 1809.9,1675.3 1811.4,1672.4 1812.9,1675.6 1814.4,1672.8 1815.9,1675.4 1817.4,1672.1 1818.9,1675.8 1820.4,1671.8 1821.9,1675.8 1823.4,1672.5 1824.9,1675.7 1826.4,1673.7 1827.9,1676.1 1829.4,1672.6 1830.9,1675.2 1832.4,1672.0 1833.9,1675.9 1835.4,1672.3 1836.9,1675.9 1838.4,1673.1 1839.9,1674.7 1841.4,1671.6 1842.9,1674.6 1844.4,1671.5 1845.9,1675.4 1847.4,1672.8 1848.9,1675.2 1850.4,1671.3 1851.9,1674.3 1853.4,1671.9 1854.9,1674.1 1856.4,1672.8 1857.9,1675.6 1859.4,1672.4 1860.9,1675.7 1862.4,1673.5 1863.9,1675.4 1865.4,1673.0 1866.9,1675.4 1868.4,1671.6 1869.9,1674.8 1871.4,1672.0 1872.9,1675.4 1874.4,1672.1 1875.9,1674.4 1877.4,1671.9 1878.9,1674.4 1880.4,1672.0 1881.9,1675.0 1883.4,1671.7 1884.9,1675.2 1886.4,1673.0 1887.9,1675.7 1889.4,1673.6 1890.9,1675.6 1892.4,1672.9 1893.9,1675.1 1895.4,1671.5 1896.9,1674.4 1898.4,1671.1 1899.9,1674.7 1901.4,1672.5 1902.9,1674.7 1904.4,1672.2 1905.9,1675.2 1907.4,1672.8 1908.9,1675.9 1910.4,1673.1 1911.9,1675.7 1913.4,1673.4 1914.9,1674.9 1916.4,1671.7 1917.9,1674.5 1919.4,1671.2" fill="none" stroke="#1A6ADC" stroke-width="9.3" stroke-linejoin="round" stroke-linecap="butt"/>
<polyline points="486.0,1675.7 487.5,1672.4 489.0,1674.4 490.5,1672.9 492.0,1675.4 493.5,1672.8 495.0,1676.4 496.5,1672.4 498.0,1675.0 499.5,1671.5 501.0,1674.6 502.5,1672.0 504.0,1675.7 505.5,1672.0 507.0,1674.6 508.5,1671.5 510.0,1673.8 511.5,1671.6 513.0,1674.5 514.5,1671.5 516.0,1674.7 517.5,1671.5 519.0,1674.7 520.5,1671.6 522.0,1675.2 523.5,1673.0 525.0,1675.6 526.5,1672.9 528.0,1675.3 529.5,1672.6 531.0,1675.6 532.5,1671.9 534.0,1675.5 535.5,1673.2 537.0,1676.1 538.5,1673.2 540.0,1675.5 541.5,1671.9 543.0,1674.4 544.5,1670.9 546.0,1675.3 547.5,1672.8 549.0,1675.8 550.5,1672.4 552.0,1675.4 555.2,1673.8 555.2,1727.5 555.8,1727.5 555.8,1678.3 557.0,1678.6 558.5,1674.2 560.0,1677.1 561.5,1673.5 563.0,1676.0 564.5,1672.5 566.0,1675.1 567.5,1671.9 569.0,1673.5 570.5,1671.2 572.0,1673.9 573.5,1672.2 575.0,1675.2 576.5,1671.5 578.0,1674.9 579.5,1671.6 581.0,1674.4 582.5,1671.5 584.0,1675.1 585.5,1671.6 587.0,1675.4 588.5,1672.4 590.0,1674.7 591.5,1672.1 593.0,1674.8 594.5,1672.1 596.0,1675.4 597.5,1672.0 599.0,1674.3 600.5,1672.1 602.0,1674.4 603.5,1671.9 605.0,1674.5 606.5,1671.8 608.0,1675.0 609.5,1672.2 611.0,1674.3 612.5,1671.9 614.0,1674.0 615.5,1671.4 617.0,1674.5 618.5,1672.1 620.0,1674.2 621.5,1671.9 623.0,1674.8 624.5,1672.0 626.0,1675.1 627.5,1672.2 629.0,1674.4 630.5,1671.7 632.0,1674.0 633.5,1671.0 635.0,1673.6 636.5,1669.6 638.0,1671.8 639.5,1667.5 641.0,1670.5 642.5,1666.7 644.0,1669.4 645.5,1663.7 647.0,1665.7 648.5,1660.9 650.0,1663.1 651.5,1657.7 653.0,1661.5 654.5,1655.6 656.0,1657.8 657.5,1653.7 659.0,1656.6 660.5,1652.5 662.0,1656.1 663.5,1650.8 665.0,1655.8 666.5,1652.0 668.0,1654.3 669.5,1649.9 671.0,1652.5 672.5,1647.2 674.0,1651.3 675.5,1648.7 677.0,1652.0 678.5,1649.2 680.0,1652.4 681.5,1648.2 683.0,1651.6 684.5,1645.8 686.0,1650.0 687.5,1645.5 689.0,1649.4 690.5,1645.4 692.0,1647.4 693.5,1643.3 695.0,1646.0 696.5,1640.6 698.0,1643.5 699.5,1638.0 701.0,1640.5 702.5,1638.0 704.0,1641.6 705.5,1636.7 707.0,1639.8 708.5,1632.7 710.0,1633.9 711.5,1628.2 713.0,1630.4 714.5,1623.6 716.0,1625.3 717.5,1618.0 719.0,1620.4 720.5,1612.5 722.0,1614.0 723.5,1606.8 725.0,1606.3 726.5,1599.3 728.0,1599.5 729.5,1591.0 731.0,1591.2 732.5,1581.7 734.0,1583.4 735.5,1573.9 737.0,1574.8 738.5,1564.4 740.0,1563.7 741.5,1553.8 743.0,1553.2 744.5,1542.9 746.0,1544.5 747.5,1535.9 749.0,1537.3 750.5,1528.7 752.0,1528.5 753.5,1517.4 755.0,1518.9 756.5,1510.4 758.0,1513.1 759.5,1503.9 761.0,1506.4 762.5,1496.6 764.0,1497.8 765.5,1489.3 767.0,1491.9 768.5,1483.1 770.0,1487.4 771.5,1479.4 773.0,1483.1 774.5,1475.1 776.0,1478.8 777.5,1470.6 779.0,1473.5 780.5,1465.4 782.0,1469.3 783.5,1459.2 785.0,1461.6 786.5,1453.7 788.0,1455.0 789.5,1447.8 791.0,1449.8 792.5,1441.9 794.0,1445.3 795.5,1437.1 797.0,1441.9 798.5,1432.3 800.0,1435.2 801.5,1427.1 803.0,1428.0 804.5,1419.2 806.0,1420.9 807.5,1412.1 809.0,1414.7 810.5,1405.3 812.0,1406.7 813.5,1396.3 815.0,1399.7 816.5,1392.0 818.0,1397.3 819.5,1390.8 821.0,1395.0 822.5,1384.7 824.0,1388.7 825.5,1378.4 827.0,1381.3 829.0,1371.5 830.0,1379.1 831.5,1374.6 833.0,1383.3 834.5,1379.4 836.0,1388.7 837.5,1387.1 839.0,1396.1 840.5,1393.3 842.0,1404.0 843.5,1399.5 845.0,1409.2 846.5,1405.5 848.0,1414.9 849.5,1411.0 851.0,1419.7 852.5,1418.6 854.0,1427.4 855.5,1423.5 857.0,1434.5 858.5,1429.6 860.0,1439.0 861.5,1435.9 863.0,1447.8 864.5,1444.0 866.0,1455.2 867.5,1454.0 869.0,1462.7 870.5,1459.7 872.0,1470.8 873.5,1467.4 875.0,1475.7 876.5,1473.0 878.0,1481.1 879.5,1480.1 881.0,1488.7 882.5,1487.3 884.0,1495.3 885.5,1492.6 887.0,1501.9 888.5,1499.9 890.0,1508.7 891.5,1506.6 893.0,1514.9 894.5,1510.3 896.0,1521.1 897.5,1518.0 899.0,1527.1 900.5,1527.1 902.0,1535.2 903.5,1534.0 905.0,1543.9 906.5,1541.8 908.0,1548.1 909.5,1545.6 911.0,1553.3 912.5,1551.3 914.0,1562.2 915.5,1560.3 917.0,1567.9 918.5,1567.1 920.0,1574.7 921.5,1573.0 923.0,1582.2 924.5,1580.3 926.0,1587.5 927.5,1584.5 929.0,1591.7 930.5,1590.0 932.0,1598.3 933.5,1596.4 935.0,1604.2 936.5,1603.1 938.0,1609.7 939.5,1608.4 941.0,1614.5 942.5,1614.4 944.0,1621.4 945.5,1619.0 947.0,1625.6 948.5,1621.3 950.0,1627.4 951.5,1626.3 953.0,1633.8 954.5,1631.5 956.0,1637.5 957.5,1636.5 959.0,1642.0 960.5,1639.9 962.0,1645.6 963.5,1643.5 965.0,1648.4 966.5,1647.3 968.0,1652.8 969.5,1649.3 971.0,1654.2 972.5,1651.9 974.0,1655.5 975.5,1653.2 977.0,1659.1 978.5,1655.8 980.0,1659.8 981.5,1657.3 983.0,1661.0 984.5,1658.8 986.0,1663.9 987.5,1661.8 989.0,1665.2 990.5,1663.1 992.0,1666.7 993.5,1663.6 995.0,1666.9 996.5,1665.0 998.0,1667.9 999.5,1664.3 1001.0,1669.0 1002.5,1665.6 1004.0,1671.0 1005.5,1667.5 1007.0,1670.6 1008.5,1667.5 1010.0,1670.8 1011.5,1669.1 1013.0,1672.6 1014.5,1669.9 1016.0,1672.1 1017.5,1669.2 1019.0,1673.4 1020.5,1670.6 1022.0,1674.0 1023.5,1670.5 1025.0,1673.6 1026.5,1671.5 1028.0,1675.4 1029.5,1672.4 1031.0,1675.4 1032.5,1672.5 1034.0,1675.6 1035.5,1673.0 1037.0,1676.1 1038.5,1672.7 1040.0,1675.8 1041.5,1673.2 1043.0,1677.8 1044.5,1674.5 1046.0,1677.7 1047.5,1674.8 1049.0,1677.0 1050.5,1674.7 1052.0,1677.1 1053.5,1675.4 1055.0,1678.2 1056.5,1675.7 1058.0,1678.2 1059.5,1675.1 1061.0,1677.8 1062.5,1675.1 1064.0,1678.3 1065.5,1676.4 1067.0,1679.6 1068.5,1678.3 1070.0,1680.6 1071.5,1678.0 1073.0,1680.6 1074.5,1677.1 1076.0,1679.3 1077.5,1676.6 1079.0,1680.2 1080.5,1678.0 1082.0,1681.8 1083.5,1679.2 1085.0,1682.9 1086.5,1678.5 1088.0,1681.6 1089.5,1679.6 1091.0,1681.4 1092.5,1679.2 1094.0,1682.0 1095.5,1679.0 1097.0,1681.6 1098.5,1679.6 1100.0,1683.1 1100.7,1681.0 1101.5,1604.9 1102.1,1604.9 1102.5,1673.8 1103.7,1675.0 1105.2,1672.5 1106.7,1675.8 1108.2,1673.4 1109.7,1676.7 1111.2,1673.3 1112.7,1676.5 1114.2,1672.9 1115.7,1675.4 1117.2,1671.4 1118.7,1674.6 1120.2,1672.0 1121.7,1675.3 1123.2,1671.6 1124.7,1674.2 1126.2,1671.8 1127.7,1674.6 1129.2,1672.0 1130.7,1675.7 1132.2,1672.3 1133.7,1675.7 1135.2,1672.5 1136.7,1675.6 1138.2,1672.2 1139.7,1675.0 1141.2,1672.9 1142.7,1675.9 1144.2,1674.2 1145.7,1676.7 1147.2,1673.3 1148.7,1674.7 1150.2,1671.5 1151.7,1674.1 1153.2,1672.1 1154.7,1675.6 1156.2,1672.8 1157.7,1675.3 1159.2,1673.0 1160.7,1675.8 1162.2,1672.4 1163.7,1675.6 1165.2,1672.7 1166.7,1675.2 1168.2,1672.5 1169.7,1675.0 1171.2,1672.5 1172.7,1675.4 1174.2,1672.7 1175.7,1674.5 1177.2,1672.8 1178.7,1676.2 1180.2,1673.3 1181.7,1676.0 1183.2,1671.5 1184.7,1675.6 1186.2,1671.6 1187.7,1675.3 1189.2,1672.7 1190.7,1675.7 1192.2,1672.6 1193.7,1674.6 1195.2,1672.7 1196.7,1674.8 1198.2,1672.7 1199.7,1675.8 1201.2,1673.0 1202.7,1676.5 1204.2,1672.4 1205.7,1675.9 1207.2,1672.0 1208.7,1676.1 1210.2,1672.8 1211.7,1675.8 1213.2,1672.9 1214.7,1674.8 1216.2,1671.5 1217.7,1674.2 1219.2,1671.6 1220.7,1674.0 1222.2,1672.0 1223.7,1675.1 1225.2,1673.4 1226.7,1676.3 1228.2,1673.2 1229.7,1676.3 1231.2,1672.0 1232.7,1674.9 1234.2,1671.5 1235.7,1674.5 1237.2,1672.0 1238.7,1674.3 1240.2,1671.4 1241.7,1674.8 1243.2,1672.0 1244.7,1675.6 1246.2,1672.0 1247.7,1675.4 1249.2,1672.8 1250.7,1675.7 1252.2,1672.8 1253.7,1675.4 1255.2,1673.3 1256.7,1675.9 1258.2,1672.0 1259.7,1675.2 1261.2,1671.5 1262.7,1674.1 1264.2,1671.9 1265.7,1674.0 1267.2,1671.7 1268.7,1675.1 1270.2,1672.7 1271.7,1676.2 1273.2,1673.7 1274.7,1676.5 1276.2,1672.9 1277.7,1675.2 1279.2,1672.6 1280.7,1676.3 1282.2,1672.7 1283.7,1675.4 1285.2,1672.2 1286.7,1674.2 1288.2,1671.9 1289.7,1675.9 1291.2,1672.8 1292.7,1676.0 1294.2,1673.5 1295.7,1675.9 1297.2,1672.2 1298.7,1675.1 1300.2,1671.7 1301.7,1675.1 1303.2,1671.4 1304.7,1674.9 1306.2,1672.7 1307.7,1674.5 1309.2,1673.1 1310.7,1676.1 1312.2,1672.7 1313.7,1674.9 1315.2,1671.8 1316.7,1674.4 1318.2,1672.3 1319.7,1675.3 1321.2,1672.6 1322.7,1675.5 1324.2,1672.8 1325.7,1676.1 1327.2,1673.5 1328.7,1676.1 1330.2,1674.2 1331.7,1675.7 1333.2,1672.3 1334.7,1675.5 1336.2,1673.0 1337.7,1675.9 1339.2,1673.3 1340.7,1675.6 1342.2,1673.1 1343.7,1675.9 1345.2,1672.4 1346.7,1674.8 1348.2,1672.9 1349.7,1674.4 1351.2,1672.5 1352.7,1674.7 1354.2,1671.1 1355.7,1675.5 1357.2,1672.1 1358.7,1676.1 1360.2,1672.9 1361.7,1676.0 1363.2,1671.6 1364.7,1674.6 1366.2,1670.8 1367.7,1674.2 1369.2,1671.2 1370.7,1673.6 1372.2,1671.6 1373.7,1674.3 1375.2,1671.4 1376.7,1675.2 1378.2,1671.9 1379.7,1675.7 1381.2,1673.1 1382.7,1675.6 1384.2,1673.2 1385.7,1675.9 1387.2,1672.3 1388.7,1676.1 1390.2,1673.0 1391.7,1675.3 1393.2,1671.3 1394.7,1674.7 1396.2,1671.7 1397.7,1675.6 1399.2,1672.7 1400.7,1674.9 1402.2,1672.0 1403.7,1675.5 1405.2,1672.4 1406.7,1674.6 1408.2,1672.4 1409.7,1675.0 1411.2,1672.9 1412.7,1675.9 1414.2,1672.3 1415.7,1675.2 1417.2,1671.4 1418.7,1674.7 1420.2,1672.4 1421.7,1675.0 1423.2,1672.8 1424.7,1675.9 1426.2,1673.9 1427.7,1676.4 1429.2,1673.4 1430.7,1675.5 1432.2,1672.2 1433.7,1675.8 1435.2,1672.1 1436.7,1675.6 1438.2,1671.1 1439.7,1674.1 1441.2,1671.5 1442.7,1674.3 1444.2,1672.9 1445.7,1675.3 1447.2,1672.9 1448.7,1675.4 1450.2,1672.9 1451.7,1675.5 1453.2,1672.4 1454.7,1674.9 1456.2,1672.4 1457.7,1674.9 1459.2,1672.2 1460.7,1675.0 1462.2,1672.5 1463.7,1675.5 1465.2,1672.2 1466.7,1675.1 1468.2,1671.6 1469.7,1674.8 1471.2,1672.3 1472.7,1675.7 1474.2,1672.6 1475.7,1675.2 1477.2,1672.5 1478.7,1675.3 1480.2,1672.1 1481.7,1674.0 1483.2,1671.3 1484.7,1673.8 1486.2,1671.5 1487.7,1674.4 1489.2,1672.0 1490.7,1675.1 1492.2,1671.7 1493.7,1675.6 1495.2,1672.8 1496.7,1675.7 1498.2,1672.6 1499.7,1674.6 1501.2,1672.0 1502.7,1674.1 1504.2,1671.6 1505.7,1675.6 1507.2,1673.2 1508.7,1676.2 1510.2,1673.4 1511.7,1675.8 1513.2,1672.0 1514.7,1675.0 1516.2,1671.8 1517.7,1674.7 1519.2,1672.5 1520.7,1674.1 1522.2,1671.8 1523.7,1674.9 1525.2,1671.7 1526.7,1674.7 1528.2,1672.4 1529.7,1674.2 1531.2,1671.7 1532.7,1674.8 1534.2,1672.1 1535.7,1675.5 1537.2,1673.0 1538.7,1675.7 1540.2,1672.4 1541.7,1674.1 1543.2,1671.6 1544.7,1674.3 1546.2,1672.0 1547.7,1675.9 1549.2,1671.6 1550.7,1675.5 1552.2,1673.6 1553.7,1676.3 1555.2,1674.2 1556.7,1676.4 1558.2,1671.8 1559.7,1674.9 1561.2,1671.2 1562.7,1674.4 1564.2,1672.1 1565.7,1675.3 1567.2,1672.9 1568.7,1675.8 1570.2,1672.7 1571.7,1676.1 1573.2,1673.1 1574.7,1677.0 1576.2,1673.1 1577.7,1675.3 1579.2,1672.8 1580.7,1676.1 1582.2,1672.5 1583.7,1676.0 1585.2,1672.9 1586.7,1676.0 1588.2,1673.3 1589.7,1675.8 1591.2,1672.2 1592.7,1674.8 1594.2,1671.1 1595.7,1674.5 1597.2,1671.3 1598.7,1674.2 1600.2,1671.0 1601.7,1674.5 1603.2,1672.8 1604.7,1676.7 1606.2,1673.4 1607.7,1676.2 1609.2,1672.7 1610.7,1675.9 1612.2,1672.5 1613.7,1675.4 1615.2,1671.6 1616.7,1674.6 1618.2,1672.1 1619.7,1674.5 1621.2,1671.8 1622.7,1674.7 1624.2,1671.9 1625.7,1674.7 1627.2,1672.5 1628.7,1675.0 1630.2,1672.9 1631.7,1676.0 1633.2,1672.5 1634.7,1675.3 1636.2,1673.0 1637.7,1675.7 1639.2,1672.6 1640.7,1676.4 1642.2,1673.4 1643.7,1677.2 1645.2,1674.2 1646.7,1675.9 1648.2,1674.1 1649.7,1676.5 1651.2,1673.6 1652.7,1676.3 1654.2,1673.1 1655.7,1675.7 1657.2,1673.2 1658.7,1676.1 1660.2,1672.9 1661.7,1676.2 1663.2,1672.3 1664.7,1675.9 1666.2,1673.0 1667.7,1676.4 1669.2,1673.4 1670.7,1675.8 1672.2,1673.3 1673.7,1676.5 1675.2,1672.7 1676.7,1675.0 1678.2,1672.6 1679.7,1675.2 1681.2,1671.4 1682.7,1674.9 1684.2,1672.0 1685.7,1674.5 1687.2,1671.9 1688.7,1675.2 1690.2,1672.3 1691.7,1674.3 1693.2,1672.1 1694.7,1674.4 1696.2,1671.6 1697.7,1675.0 1699.2,1671.4 1700.7,1674.6 1702.2,1672.4 1703.7,1675.7 1705.2,1673.7 1706.7,1676.1 1708.2,1673.4 1709.7,1676.0 1711.2,1672.4 1712.7,1675.3 1714.2,1672.5 1715.7,1675.8 1717.2,1672.7 1718.7,1675.5 1720.2,1672.4 1721.7,1675.1 1723.2,1672.7 1724.7,1676.0 1726.2,1672.2 1727.7,1674.2 1729.2,1671.1 1730.7,1674.9 1732.2,1671.6 1733.7,1674.3 1735.2,1671.9 1736.7,1674.2 1738.2,1672.0 1739.7,1674.9 1741.2,1672.4 1742.7,1674.7 1744.2,1671.6 1745.7,1674.4 1747.2,1671.9 1748.7,1675.1 1750.2,1672.5 1751.7,1675.8 1753.2,1673.2 1754.7,1675.4 1756.2,1672.7 1757.7,1675.5 1759.2,1672.2 1760.7,1675.3 1762.2,1672.2 1763.7,1675.4 1765.2,1672.4 1766.7,1675.8 1768.2,1672.4 1769.7,1676.4 1771.2,1673.1 1772.7,1675.8 1774.2,1672.3 1775.7,1674.9 1777.2,1672.8 1778.7,1676.2 1780.2,1673.6 1781.7,1675.0 1783.2,1672.8 1784.7,1675.0 1786.2,1672.1 1787.7,1675.3 1789.2,1671.9 1790.7,1675.1 1792.2,1672.5 1793.7,1674.9 1795.2,1671.9 1796.7,1674.9 1798.2,1672.3 1799.7,1675.8 1801.2,1673.2 1802.7,1674.6 1804.2,1672.3 1805.7,1674.5 1807.2,1672.7 1808.7,1675.3 1810.2,1671.9 1811.7,1675.7 1813.2,1673.0 1814.7,1675.1 1816.2,1672.7 1817.7,1676.1 1819.2,1673.1 1820.7,1675.5 1822.2,1672.9 1823.7,1675.4 1825.2,1672.1 1826.7,1675.4 1828.2,1672.5 1829.7,1675.3 1831.2,1671.8 1832.7,1675.7 1834.2,1671.8 1835.7,1674.9 1837.2,1671.4 1838.7,1675.3 1840.2,1671.8 1841.7,1675.2 1843.2,1672.2 1844.7,1674.6 1846.2,1673.0 1847.7,1675.2 1849.2,1673.0 1850.7,1677.1 1852.2,1673.7 1853.7,1676.3 1855.2,1673.4 1856.7,1675.6 1858.2,1672.2 1859.7,1675.7 1861.2,1672.7 1862.7,1676.0 1864.2,1672.3 1865.7,1675.3 1867.2,1672.9 1868.7,1675.5 1870.2,1673.6 1871.7,1676.6 1873.2,1673.3 1874.7,1675.9 1876.2,1672.0 1877.7,1674.4 1879.2,1672.4 1880.7,1675.1 1882.2,1672.4 1883.7,1675.4 1885.2,1671.5 1886.7,1675.2 1888.2,1672.2 1889.7,1675.3 1891.2,1672.4 1892.7,1674.9 1894.2,1671.6 1895.7,1674.6 1897.2,1672.2 1898.7,1675.2 1900.2,1672.6 1901.7,1675.1 1903.2,1672.7 1904.7,1675.0 1906.2,1672.0 1907.7,1674.7 1909.2,1672.6 1910.7,1675.9 1912.2,1673.5 1913.7,1675.4 1915.2,1672.7 1916.7,1674.9 1918.2,1671.3 1919.7,1675.8" fill="none" stroke="#35AA6A" stroke-width="9.3" stroke-linejoin="round" stroke-linecap="butt"/>
<polyline points="486.0,1675.1 487.5,1671.8 489.0,1675.4 490.5,1672.2 492.0,1675.0 493.5,1673.4 495.0,1675.2 496.5,1673.5 498.0,1676.3 499.5,1671.8 501.0,1675.4 502.5,1673.1 504.0,1674.9 505.5,1673.1 507.0,1674.9 508.5,1672.7 510.0,1675.5 511.5,1673.2 513.0,1676.1 514.5,1672.6 516.0,1675.5 517.5,1672.1 519.0,1675.4 520.5,1673.2 522.0,1676.1 523.5,1673.0 525.0,1676.0 526.5,1672.3 528.0,1675.5 529.5,1672.9 531.0,1675.0 532.5,1671.7 534.0,1674.7 535.5,1671.7 537.0,1675.8 538.5,1672.9 540.0,1676.6 541.5,1672.9 543.0,1676.2 544.5,1672.9 546.0,1674.4 547.5,1671.8 549.0,1674.7 550.5,1671.5 552.0,1674.5 555.2,1673.8 555.2,1727.5 555.8,1727.5 555.8,1678.3 557.0,1678.1 558.5,1673.8 560.0,1676.9 561.5,1672.9 563.0,1675.4 564.5,1672.1 566.0,1675.4 567.5,1672.3 569.0,1675.2 570.5,1672.1 572.0,1675.2 573.5,1672.2 575.0,1675.7 576.5,1672.4 578.0,1674.7 579.5,1671.8 581.0,1674.6 582.5,1671.5 584.0,1674.0 585.5,1671.4 587.0,1675.4 588.5,1672.7 590.0,1676.3 591.5,1673.2 593.0,1674.8 594.5,1671.9 596.0,1674.8 597.5,1671.3 599.0,1674.2 600.5,1670.9 602.0,1674.8 603.5,1670.9 605.0,1674.0 606.5,1671.7 608.0,1674.0 609.5,1671.5 611.0,1674.5 612.5,1671.8 614.0,1674.9 615.5,1671.3 617.0,1674.5 618.5,1671.0 620.0,1673.9 621.5,1670.2 623.0,1674.3 624.5,1670.2 626.0,1673.0 627.5,1671.2 629.0,1674.5 630.5,1671.7 632.0,1675.0 633.5,1672.0 635.0,1674.5 636.5,1671.1 638.0,1674.4 639.5,1671.7 641.0,1674.8 642.5,1671.1 644.0,1674.8 645.5,1670.7 647.0,1674.0 648.5,1672.0 650.0,1674.5 651.5,1671.9 653.0,1673.3 654.5,1670.9 656.0,1673.5 657.5,1670.6 659.0,1673.6 660.5,1669.8 662.0,1673.7 663.5,1668.8 665.0,1671.9 666.5,1668.0 668.0,1670.5 669.5,1665.3 671.0,1668.5 672.5,1664.8 674.0,1667.3 675.5,1663.2 677.0,1665.7 678.5,1661.4 680.0,1663.7 681.5,1657.7 683.0,1660.9 684.5,1655.7 686.0,1659.2 687.5,1654.7 689.0,1657.6 690.5,1654.2 692.0,1658.2 693.5,1654.5 695.0,1657.1 696.5,1651.7 698.0,1655.7 699.5,1651.2 701.0,1655.8 702.5,1652.6 704.0,1655.9 705.5,1651.8 707.0,1656.4 708.5,1652.6 710.0,1655.1 711.5,1651.0 713.0,1654.2 714.5,1648.8 716.0,1651.9 717.5,1647.7 719.0,1650.8 720.5,1647.6 722.0,1651.0 723.5,1647.6 725.0,1651.7 726.5,1648.5 728.0,1652.3 729.5,1648.9 731.0,1652.8 732.5,1649.0 734.0,1652.8 735.5,1647.2 737.0,1649.1 738.5,1644.4 740.0,1647.0 741.5,1640.8 743.0,1643.3 744.5,1636.4 746.0,1640.4 747.5,1634.6 749.0,1636.7 750.5,1630.0 752.0,1632.9 753.5,1626.8 755.0,1629.5 756.5,1623.1 758.0,1624.1 759.5,1616.9 761.0,1618.9 762.5,1610.4 764.0,1613.7 765.5,1605.7 767.0,1607.0 768.5,1599.6 770.0,1600.4 771.5,1593.4 773.0,1594.8 774.5,1587.1 776.0,1588.5 777.5,1581.7 779.0,1584.8 780.5,1575.3 782.0,1574.9 783.5,1565.2 785.0,1567.1 786.5,1559.5 788.0,1561.0 789.5,1554.3 791.0,1554.9 792.5,1547.4 794.0,1549.2 795.5,1541.7 797.0,1543.6 798.5,1535.9 800.0,1537.3 801.5,1527.6 803.0,1529.7 804.5,1521.4 806.0,1525.1 807.5,1517.9 809.0,1520.1 810.5,1511.6 812.0,1512.7 813.5,1505.6 815.0,1508.1 816.5,1499.0 818.0,1499.9 819.5,1492.2 821.0,1495.6 822.5,1487.2 824.0,1488.9 825.5,1481.4 827.0,1484.9 828.5,1478.5 830.0,1482.3 831.5,1472.9 833.0,1476.3 834.5,1467.3 836.0,1471.8 837.5,1464.3 839.0,1469.8 840.5,1463.1 842.0,1465.7 843.5,1457.7 845.0,1461.7 846.5,1452.6 848.0,1458.1 849.5,1449.5 851.0,1451.3 852.5,1442.6 854.0,1446.4 855.5,1437.8 857.0,1443.0 858.5,1434.1 860.0,1436.5 861.5,1427.5 863.0,1430.6 864.5,1423.2 866.0,1426.5 867.5,1418.1 869.0,1421.6 870.5,1414.4 872.0,1418.6 873.5,1410.0 875.0,1416.0 876.5,1406.6 878.0,1412.9 879.5,1405.4 881.0,1410.6 882.5,1403.7 884.0,1409.0 885.5,1403.8 887.0,1406.2 888.5,1398.5 890.0,1401.9 891.5,1393.9 893.0,1399.2 894.1,1392.7 896.0,1401.0 897.5,1396.3 899.0,1402.1 900.5,1397.2 902.0,1406.3 903.5,1401.2 905.0,1408.7 906.5,1401.6 908.0,1408.3 909.5,1403.8 911.0,1412.2 912.5,1406.1 914.0,1413.6 915.5,1410.0 917.0,1416.3 918.5,1411.7 920.0,1421.0 921.5,1416.2 923.0,1426.3 924.5,1420.9 926.0,1429.8 927.5,1426.8 929.0,1436.7 930.5,1437.1 932.0,1443.7 933.5,1439.2 935.0,1448.3 936.5,1441.6 938.0,1450.9 939.5,1448.3 941.0,1457.0 942.5,1452.6 944.0,1460.5 945.5,1457.8 947.0,1465.8 948.5,1464.6 950.0,1473.3 951.5,1471.2 953.0,1479.6 954.5,1474.2 956.0,1484.5 957.5,1482.7 959.0,1491.6 960.5,1490.6 962.0,1499.1 963.5,1495.9 965.0,1504.6 966.5,1500.1 968.0,1508.9 969.5,1505.1 971.0,1514.4 972.5,1512.0 974.0,1518.5 975.5,1517.6 977.0,1527.1 978.5,1522.9 980.0,1531.6 981.5,1529.1 983.0,1535.8 984.5,1533.8 986.0,1541.8 987.5,1539.2 989.0,1547.6 990.5,1545.9 992.0,1553.4 993.5,1551.0 995.0,1559.3 996.5,1556.8 998.0,1563.2 999.5,1562.1 1001.0,1569.3 1002.5,1566.1 1004.0,1574.4 1005.5,1571.5 1007.0,1578.8 1008.5,1575.6 1010.0,1582.1 1011.5,1577.7 1013.0,1584.7 1014.5,1582.7 1016.0,1589.0 1017.5,1587.5 1019.0,1594.8 1020.5,1593.4 1022.0,1600.8 1023.5,1596.7 1025.0,1604.1 1026.5,1601.4 1028.0,1607.9 1029.5,1606.4 1031.0,1612.5 1032.5,1609.7 1034.0,1614.6 1035.5,1610.6 1037.0,1616.7 1038.5,1614.4 1040.0,1621.4 1041.5,1619.5 1043.0,1625.5 1044.5,1622.1 1046.0,1627.9 1047.5,1624.7 1049.0,1630.9 1050.5,1626.9 1052.0,1632.2 1053.5,1628.2 1055.0,1634.0 1056.5,1631.2 1058.0,1636.7 1059.5,1634.3 1061.0,1639.6 1062.5,1637.6 1064.0,1642.1 1065.5,1639.5 1067.0,1644.6 1068.5,1642.7 1070.0,1648.3 1071.5,1646.0 1073.0,1650.3 1074.5,1647.9 1076.0,1650.8 1077.5,1648.0 1079.0,1654.4 1080.5,1650.9 1082.0,1657.1 1083.5,1653.0 1085.0,1657.2 1086.5,1655.2 1088.0,1659.0 1089.5,1655.9 1091.0,1658.8 1092.5,1656.0 1094.0,1660.7 1095.5,1657.5 1097.0,1663.1 1098.5,1659.6 1100.0,1663.9 1101.5,1660.9 1103.0,1665.0 1104.5,1661.0 1106.0,1665.3 1107.5,1663.1 1109.0,1666.9 1110.5,1664.3 1112.0,1668.3 1113.5,1665.1 1115.0,1669.1 1116.5,1666.8 1118.0,1670.6 1119.5,1666.1 1121.0,1669.4 1122.5,1665.6 1124.0,1669.1 1125.5,1666.5 1127.0,1668.8 1128.5,1665.7 1130.0,1669.1 1131.5,1665.8 1133.0,1669.8 1134.5,1667.1 1136.0,1671.2 1137.5,1669.3 1139.0,1672.1 1140.5,1668.8 1142.0,1672.2 1143.5,1669.2 1145.0,1672.5 1146.5,1669.6 1148.0,1673.4 1149.5,1670.5 1151.0,1673.7 1152.5,1670.6 1154.0,1673.9 1155.5,1671.7 1157.0,1675.2 1158.5,1671.3 1160.0,1674.4 1161.5,1671.8 1163.0,1675.5 1164.5,1672.9 1166.0,1675.8 1167.5,1672.5 1169.0,1674.7 1170.5,1671.7 1172.0,1674.7 1173.5,1671.7 1175.0,1675.5 1176.5,1673.2 1178.0,1676.2 1179.5,1673.4 1181.0,1677.5 1182.5,1673.5 1184.0,1676.4 1185.5,1673.6 1187.0,1676.6 1188.5,1673.9 1190.0,1677.4 1191.5,1674.8 1193.0,1676.8 1194.5,1674.4 1196.0,1676.6 1197.5,1674.6 1199.0,1678.2 1200.5,1675.0 1202.0,1677.7 1203.5,1674.8 1205.0,1677.9 1206.5,1675.6 1208.0,1679.2 1209.5,1675.8 1211.0,1680.0 1212.5,1677.1 1214.0,1679.6 1215.5,1677.0 1217.0,1678.9 1218.5,1676.4 1220.0,1679.9 1221.5,1677.9 1223.0,1680.8 1224.5,1678.4 1226.0,1681.0 1227.5,1678.2 1229.0,1681.7 1230.5,1677.9 1232.0,1681.8 1233.5,1678.7 1235.0,1680.5 1236.5,1678.9 1237.5,1680.1 1238.3,1604.9 1238.9,1604.9 1239.3,1673.8 1240.5,1673.4 1242.0,1671.0 1243.5,1674.0 1245.0,1672.1 1246.5,1675.5 1248.0,1672.2 1249.5,1675.4 1251.0,1672.7 1252.5,1675.4 1254.0,1673.1 1255.5,1675.7 1257.0,1672.3 1258.5,1675.2 1260.0,1671.5 1261.5,1674.9 1263.0,1672.3 1264.5,1675.8 1266.0,1672.5 1267.5,1675.6 1269.0,1672.7 1270.5,1675.1 1272.0,1671.9 1273.5,1674.8 1275.0,1672.3 1276.5,1674.5 1278.0,1671.6 1279.5,1674.9 1281.0,1671.8 1282.5,1675.9 1284.0,1671.9 1285.5,1674.6 1287.0,1671.7 1288.5,1674.6 1290.0,1672.2 1291.5,1675.5 1293.0,1672.8 1294.5,1675.6 1296.0,1672.5 1297.5,1675.8 1299.0,1671.9 1300.5,1674.5 1302.0,1672.3 1303.5,1675.4 1305.0,1672.7 1306.5,1675.2 1308.0,1671.8 1309.5,1674.1 1311.0,1671.0 1312.5,1675.1 1314.0,1673.2 1315.5,1676.2 1317.0,1672.3 1318.5,1675.2 1320.0,1672.5 1321.5,1675.6 1323.0,1673.1 1324.5,1676.0 1326.0,1673.0 1327.5,1676.2 1329.0,1672.6 1330.5,1675.4 1332.0,1673.2 1333.5,1675.8 1335.0,1672.5 1336.5,1675.5 1338.0,1672.1 1339.5,1675.0 1341.0,1673.0 1342.5,1675.6 1344.0,1673.2 1345.5,1676.2 1347.0,1673.2 1348.5,1675.6 1350.0,1672.3 1351.5,1676.2 1353.0,1672.7 1354.5,1675.1 1356.0,1672.7 1357.5,1674.4 1359.0,1672.3 1360.5,1675.9 1362.0,1671.7 1363.5,1675.4 1365.0,1672.2 1366.5,1676.0 1368.0,1673.6 1369.5,1676.6 1371.0,1674.0 1372.5,1676.6 1374.0,1673.9 1375.5,1676.4 1377.0,1672.7 1378.5,1675.0 1380.0,1672.3 1381.5,1675.6 1383.0,1672.9 1384.5,1675.8 1386.0,1672.9 1387.5,1675.6 1389.0,1672.3 1390.5,1675.1 1392.0,1672.2 1393.5,1675.3 1395.0,1673.6 1396.5,1676.6 1398.0,1672.9 1399.5,1675.6 1401.0,1672.2 1402.5,1674.8 1404.0,1671.5 1405.5,1674.7 1407.0,1670.7 1408.5,1674.2 1410.0,1671.9 1411.5,1674.5 1413.0,1672.7 1414.5,1675.0 1416.0,1672.1 1417.5,1676.4 1419.0,1672.9 1420.5,1675.1 1422.0,1671.9 1423.5,1673.8 1425.0,1672.2 1426.5,1675.1 1428.0,1671.9 1429.5,1675.7 1431.0,1672.4 1432.5,1675.0 1434.0,1672.5 1435.5,1674.9 1437.0,1671.6 1438.5,1675.6 1440.0,1672.9 1441.5,1676.0 1443.0,1673.5 1444.5,1675.9 1446.0,1672.2 1447.5,1674.0 1449.0,1671.5 1450.5,1674.6 1452.0,1671.7 1453.5,1675.9 1455.0,1672.0 1456.5,1675.5 1458.0,1672.5 1459.5,1675.2 1461.0,1672.0 1462.5,1675.0 1464.0,1672.1 1465.5,1675.1 1467.0,1672.6 1468.5,1675.7 1470.0,1672.9 1471.5,1675.2 1473.0,1672.3 1474.5,1674.8 1476.0,1671.5 1477.5,1675.1 1479.0,1672.1 1480.5,1675.7 1482.0,1673.9 1483.5,1675.8 1485.0,1673.1 1486.5,1675.5 1488.0,1672.9 1489.5,1675.5 1491.0,1673.4 1492.5,1675.6 1494.0,1672.2 1495.5,1674.6 1497.0,1671.8 1498.5,1674.9 1500.0,1672.3 1501.5,1676.2 1503.0,1673.4 1504.5,1676.0 1506.0,1672.8 1507.5,1675.4 1509.0,1671.8 1510.5,1674.6 1512.0,1671.7 1513.5,1675.9 1515.0,1673.9 1516.5,1676.7 1518.0,1673.7 1519.5,1676.5 1521.0,1673.3 1522.5,1675.1 1524.0,1671.8 1525.5,1674.2 1527.0,1671.0 1528.5,1673.8 1530.0,1670.8 1531.5,1674.8 1533.0,1672.6 1534.5,1676.0 1536.0,1672.8 1537.5,1676.1 1539.0,1673.0 1540.5,1675.5 1542.0,1672.5 1543.5,1674.5 1545.0,1672.0 1546.5,1675.1 1548.0,1672.7 1549.5,1675.2 1551.0,1672.9 1552.5,1675.5 1554.0,1672.0 1555.5,1675.8 1557.0,1673.0 1558.5,1675.8 1560.0,1672.5 1561.5,1675.1 1563.0,1672.8 1564.5,1676.1 1566.0,1673.3 1567.5,1675.3 1569.0,1673.2 1570.5,1674.9 1572.0,1672.0 1573.5,1675.8 1575.0,1673.8 1576.5,1676.9 1578.0,1673.2 1579.5,1676.0 1581.0,1671.9 1582.5,1675.6 1584.0,1672.0 1585.5,1675.2 1587.0,1672.4 1588.5,1674.6 1590.0,1672.2 1591.5,1676.3 1593.0,1673.3 1594.5,1676.6 1596.0,1673.0 1597.5,1675.4 1599.0,1672.7 1600.5,1676.0 1602.0,1672.6 1603.5,1676.6 1605.0,1673.3 1606.5,1676.5 1608.0,1672.6 1609.5,1674.5 1611.0,1671.2 1612.5,1673.7 1614.0,1671.7 1615.5,1675.5 1617.0,1672.8 1618.5,1675.8 1620.0,1673.9 1621.5,1675.5 1623.0,1672.4 1624.5,1675.6 1626.0,1672.5 1627.5,1675.8 1629.0,1673.3 1630.5,1676.2 1632.0,1672.8 1633.5,1675.0 1635.0,1672.4 1636.5,1674.9 1638.0,1673.2 1639.5,1676.4 1641.0,1673.1 1642.5,1676.1 1644.0,1672.2 1645.5,1675.8 1647.0,1672.2 1648.5,1675.2 1650.0,1672.5 1651.5,1675.2 1653.0,1672.1 1654.5,1674.5 1656.0,1671.9 1657.5,1674.8 1659.0,1672.3 1660.5,1676.0 1662.0,1673.5 1663.5,1676.1 1665.0,1672.6 1666.5,1675.0 1668.0,1672.5 1669.5,1675.0 1671.0,1672.3 1672.5,1674.8 1674.0,1672.4 1675.5,1675.6 1677.0,1672.4 1678.5,1675.7 1680.0,1672.3 1681.5,1676.5 1683.0,1673.2 1684.5,1676.1 1686.0,1673.1 1687.5,1675.1 1689.0,1672.8 1690.5,1674.9 1692.0,1672.0 1693.5,1674.7 1695.0,1672.0 1696.5,1675.4 1698.0,1671.9 1699.5,1675.1 1701.0,1671.9 1702.5,1675.1 1704.0,1673.1 1705.5,1676.2 1707.0,1673.0 1708.5,1675.5 1710.0,1672.5 1711.5,1674.5 1713.0,1672.4 1714.5,1674.7 1716.0,1672.8 1717.5,1675.6 1719.0,1672.4 1720.5,1675.5 1722.0,1672.8 1723.5,1675.7 1725.0,1672.7 1726.5,1675.3 1728.0,1672.3 1729.5,1674.7 1731.0,1672.0 1732.5,1675.4 1734.0,1673.2 1735.5,1675.5 1737.0,1672.8 1738.5,1675.1 1740.0,1672.8 1741.5,1675.9 1743.0,1673.5 1744.5,1675.5 1746.0,1673.2 1747.5,1674.8 1749.0,1671.9 1750.5,1674.4 1752.0,1672.0 1753.5,1676.0 1755.0,1673.1 1756.5,1675.8 1758.0,1672.4 1759.5,1675.2 1761.0,1672.3 1762.5,1675.6 1764.0,1673.3 1765.5,1676.4 1767.0,1672.7 1768.5,1675.6 1770.0,1673.4 1771.5,1676.4 1773.0,1672.9 1774.5,1675.3 1776.0,1671.5 1777.5,1674.0 1779.0,1671.4 1780.5,1673.5 1782.0,1671.3 1783.5,1675.4 1785.0,1673.7 1786.5,1676.9 1788.0,1672.9 1789.5,1674.6 1791.0,1671.9 1792.5,1674.6 1794.0,1672.3 1795.5,1676.1 1797.0,1673.5 1798.5,1675.9 1800.0,1672.9 1801.5,1675.3 1803.0,1671.7 1804.5,1674.6 1806.0,1672.1 1807.5,1675.8 1809.0,1672.5 1810.5,1676.3 1812.0,1672.2 1813.5,1675.3 1815.0,1671.7 1816.5,1675.3 1818.0,1672.7 1819.5,1675.0 1821.0,1673.0 1822.5,1674.9 1824.0,1671.8 1825.5,1675.6 1827.0,1672.0 1828.5,1675.2 1830.0,1672.4 1831.5,1675.5 1833.0,1672.1 1834.5,1675.4 1836.0,1671.6 1837.5,1675.0 1839.0,1672.4 1840.5,1675.9 1842.0,1672.5 1843.5,1674.6 1845.0,1672.7 1846.5,1674.8 1848.0,1672.6 1849.5,1676.1 1851.0,1672.6 1852.5,1675.8 1854.0,1672.2 1855.5,1674.9 1857.0,1672.3 1858.5,1675.2 1860.0,1671.9 1861.5,1674.6 1863.0,1672.2 1864.5,1674.9 1866.0,1672.4 1867.5,1675.6 1869.0,1672.0 1870.5,1674.1 1872.0,1671.2 1873.5,1674.8 1875.0,1671.5 1876.5,1675.0 1878.0,1672.6 1879.5,1675.5 1881.0,1672.5 1882.5,1675.4 1884.0,1672.7 1885.5,1675.5 1887.0,1672.4 1888.5,1675.7 1890.0,1672.2 1891.5,1675.4 1893.0,1671.7 1894.5,1674.3 1896.0,1671.9 1897.5,1673.7 1899.0,1670.6 1900.5,1674.5 1902.0,1671.9 1903.5,1674.9 1905.0,1673.2 1906.5,1675.1 1908.0,1671.7 1909.5,1675.0 1911.0,1672.4 1912.5,1675.8 1914.0,1672.8 1915.5,1675.5 1917.0,1673.2 1918.5,1675.8 1920.0,1672.5" fill="none" stroke="#B07ADE" stroke-width="9.3" stroke-linejoin="round" stroke-linecap="butt"/>
<polyline points="486.0,1675.4 487.5,1673.1 489.0,1676.2 490.5,1673.4 492.0,1676.0 493.5,1673.0 495.0,1675.4 496.5,1672.7 498.0,1674.7 499.5,1671.1 501.0,1674.9 502.5,1671.3 504.0,1674.8 505.5,1672.0 507.0,1675.8 508.5,1672.3 510.0,1675.1 511.5,1672.7 513.0,1675.5 514.5,1672.0 516.0,1675.1 517.5,1672.7 519.0,1674.9 520.5,1672.2 522.0,1675.2 523.5,1671.2 525.0,1675.0 526.5,1671.9 528.0,1674.9 529.5,1672.4 531.0,1674.7 532.5,1672.4 534.0,1675.4 535.5,1671.8 537.0,1675.3 538.5,1671.9 540.0,1675.3 541.5,1672.5 543.0,1675.2 544.5,1673.1 546.0,1676.8 547.5,1673.9 549.0,1676.0 550.5,1673.1 552.0,1675.0 555.2,1673.8 555.2,1727.5 555.8,1727.5 555.8,1678.3 557.0,1679.4 558.5,1674.7 560.0,1677.0 561.5,1674.0 563.0,1676.1 564.5,1673.1 566.0,1676.1 567.5,1671.7 569.0,1675.4 570.5,1671.8 572.0,1675.6 573.5,1673.2 575.0,1675.6 576.5,1672.6 578.0,1675.6 579.5,1673.3 581.0,1676.1 582.5,1674.1 584.0,1676.6 585.5,1673.5 587.0,1674.7 588.5,1672.1 590.0,1674.2 591.5,1671.9 593.0,1675.0 594.5,1672.1 596.0,1675.1 597.5,1672.5 599.0,1676.0 600.5,1672.0 602.0,1674.5 603.5,1672.5 605.0,1674.9 606.5,1672.3 608.0,1675.1 609.5,1671.7 611.0,1675.1 612.5,1671.7 614.0,1674.6 615.5,1671.9 617.0,1674.6 618.5,1671.0 620.0,1674.2 621.5,1671.9 623.0,1674.5 624.5,1671.1 626.0,1673.9 627.5,1671.4 629.0,1674.3 630.5,1672.4 632.0,1674.7 633.5,1671.6 635.0,1674.4 636.5,1671.8 638.0,1673.9 639.5,1670.6 641.0,1673.7 642.5,1669.7 644.0,1674.3 645.5,1670.5 647.0,1674.5 648.5,1671.6 650.0,1673.8 651.5,1671.2 653.0,1674.1 654.5,1670.8 656.0,1674.1 657.5,1671.5 659.0,1674.5 660.5,1672.4 662.0,1674.5 663.5,1671.5 665.0,1674.0 666.5,1671.2 668.0,1674.4 669.5,1672.5 671.0,1675.4 672.5,1671.7 674.0,1674.6 675.5,1671.1 677.0,1674.4 678.5,1670.1 680.0,1673.9 681.5,1670.8 683.0,1673.6 684.5,1671.8 686.0,1673.6 687.5,1670.1 689.0,1673.3 690.5,1668.8 692.0,1672.4 693.5,1668.0 695.0,1671.5 696.5,1667.5 698.0,1669.6 699.5,1664.5 701.0,1667.2 702.5,1663.8 704.0,1666.2 705.5,1661.5 707.0,1664.5 708.5,1660.8 710.0,1664.3 711.5,1660.4 713.0,1663.3 714.5,1660.3 716.0,1662.7 717.5,1659.0 719.0,1662.2 720.5,1657.8 722.0,1662.0 723.5,1657.5 725.0,1660.4 726.5,1656.2 728.0,1659.5 729.5,1655.6 731.0,1658.8 732.5,1654.5 734.0,1657.2 735.5,1653.9 737.0,1658.3 738.5,1653.8 740.0,1657.0 741.5,1652.8 743.0,1654.8 744.5,1651.5 746.0,1656.3 747.5,1653.4 749.0,1656.8 750.5,1652.8 752.0,1655.9 753.5,1651.8 755.0,1655.8 756.5,1651.5 758.0,1655.0 759.5,1650.8 761.0,1653.5 762.5,1650.0 764.0,1654.9 765.5,1650.7 767.0,1654.6 768.5,1650.1 770.0,1652.6 771.5,1647.5 773.0,1649.3 774.5,1643.8 776.0,1645.4 777.5,1639.4 779.0,1640.9 780.5,1634.6 782.0,1636.6 783.5,1630.7 785.0,1633.0 786.5,1627.3 788.0,1630.2 789.5,1625.0 791.0,1628.7 792.5,1622.3 794.0,1624.6 795.5,1619.0 797.0,1619.2 798.5,1614.1 800.0,1616.3 801.5,1610.6 803.0,1614.2 804.5,1608.0 806.0,1609.8 807.5,1601.7 809.0,1605.2 810.5,1598.0 812.0,1600.2 813.5,1591.9 815.0,1594.0 816.5,1586.0 818.0,1589.6 819.5,1581.1 821.0,1582.5 822.5,1575.2 824.0,1578.0 825.5,1572.1 827.0,1574.7 828.5,1566.8 830.0,1568.7 831.5,1563.6 833.0,1565.7 834.5,1558.7 836.0,1561.7 837.5,1554.0 839.0,1558.4 840.5,1550.7 842.0,1553.5 843.5,1545.0 845.0,1550.5 846.5,1543.5 848.0,1548.0 849.5,1539.9 851.0,1541.5 852.5,1533.3 854.0,1537.7 855.5,1529.7 857.0,1534.0 858.5,1528.2 860.0,1531.9 861.5,1524.5 863.0,1528.8 864.5,1521.1 866.0,1525.1 867.5,1518.0 869.0,1522.5 870.5,1517.6 872.0,1521.0 873.5,1512.8 875.0,1517.7 876.5,1509.1 878.0,1514.4 879.5,1506.2 881.0,1509.9 882.5,1504.5 884.0,1504.7 885.5,1497.1 887.0,1501.7 888.5,1494.3 890.0,1499.2 891.5,1492.5 893.0,1496.4 894.5,1489.9 896.0,1491.1 897.5,1485.7 899.0,1490.0 900.5,1481.0 902.0,1487.7 903.5,1480.9 905.0,1484.3 906.5,1477.3 908.0,1479.9 909.5,1472.6 911.0,1476.7 912.5,1469.3 914.0,1472.4 915.5,1465.9 917.0,1470.8 918.5,1463.4 920.0,1466.5 921.5,1459.0 923.0,1462.7 924.5,1455.7 926.0,1459.2 927.5,1452.8 929.0,1456.4 930.5,1452.1 932.0,1455.9 933.5,1450.9 935.0,1453.8 936.5,1446.5 938.0,1451.6 939.5,1441.5 941.0,1447.1 942.5,1438.0 944.0,1443.3 945.5,1437.7 947.0,1442.4 948.5,1434.0 950.0,1437.0 951.5,1429.6 953.0,1435.6 954.5,1427.6 956.0,1434.7 957.5,1427.5 959.0,1432.6 960.5,1424.6 962.0,1428.5 963.1,1422.2 965.0,1426.7 966.5,1422.2 968.0,1430.2 969.5,1425.5 971.0,1431.6 972.5,1426.9 974.0,1433.4 975.5,1431.3 977.0,1437.7 978.5,1432.5 980.0,1438.4 981.5,1432.4 983.0,1440.0 984.5,1436.9 986.0,1443.8 987.5,1439.6 989.0,1448.6 990.5,1444.5 992.0,1451.3 993.5,1448.0 995.0,1454.6 996.5,1450.5 998.0,1459.5 999.5,1454.2 1001.0,1462.5 1002.5,1458.4 1004.0,1465.9 1005.5,1462.0 1007.0,1469.1 1008.5,1467.9 1010.0,1473.6 1011.5,1470.1 1013.0,1478.3 1014.5,1474.6 1016.0,1483.5 1017.5,1477.7 1019.0,1485.2 1020.5,1478.8 1022.0,1486.6 1023.5,1482.9 1025.0,1490.6 1026.5,1487.7 1028.0,1495.1 1029.5,1491.6 1031.0,1499.4 1032.5,1494.0 1034.0,1500.6 1035.5,1497.7 1037.0,1503.5 1038.5,1501.3 1040.0,1508.7 1041.5,1503.5 1043.0,1510.4 1044.5,1505.5 1046.0,1511.8 1047.5,1509.7 1049.0,1519.1 1050.5,1516.3 1052.0,1522.2 1053.5,1519.5 1055.0,1526.0 1056.5,1523.0 1058.0,1528.9 1059.5,1526.6 1061.0,1533.7 1062.5,1530.4 1064.0,1537.4 1065.5,1534.8 1067.0,1542.5 1068.5,1538.2 1070.0,1543.8 1071.5,1539.9 1073.0,1546.8 1074.5,1546.7 1076.0,1553.8 1077.5,1549.6 1079.0,1559.5 1080.5,1554.9 1082.0,1561.8 1083.5,1559.7 1085.0,1564.9 1086.5,1561.7 1088.0,1568.2 1089.5,1564.7 1091.0,1574.1 1092.5,1571.1 1094.0,1576.8 1095.5,1574.8 1097.0,1580.2 1098.5,1576.5 1100.0,1583.5 1101.5,1581.4 1103.0,1588.6 1104.5,1586.9 1106.0,1592.7 1107.5,1589.5 1109.0,1595.1 1110.5,1591.3 1112.0,1596.3 1113.5,1594.1 1115.0,1600.1 1116.5,1597.5 1118.0,1603.1 1119.5,1600.9 1121.0,1607.6 1122.5,1604.2 1124.0,1611.6 1125.5,1608.5 1127.0,1615.0 1128.5,1611.3 1130.0,1615.9 1131.5,1615.0 1133.0,1620.5 1134.5,1618.1 1136.0,1622.8 1137.5,1619.4 1139.0,1625.2 1140.5,1622.8 1142.0,1627.0 1143.5,1625.0 1145.0,1629.9 1146.5,1626.8 1148.0,1632.1 1149.5,1628.5 1151.0,1633.5 1152.5,1629.2 1154.0,1635.8 1155.5,1633.7 1157.0,1638.5 1158.5,1636.7 1160.0,1640.6 1161.5,1636.9 1163.0,1642.4 1164.5,1639.4 1166.0,1644.2 1167.5,1642.5 1169.0,1648.6 1170.5,1646.7 1172.0,1650.9 1173.5,1646.9 1175.0,1650.4 1176.5,1648.2 1178.0,1653.3 1179.5,1650.2 1181.0,1655.0 1182.5,1651.9 1184.0,1656.5 1185.5,1652.9 1187.0,1658.0 1188.5,1654.3 1190.0,1658.6 1191.5,1655.8 1193.0,1659.5 1194.5,1655.5 1196.0,1660.8 1197.5,1658.0 1199.0,1662.1 1200.5,1660.6 1202.0,1663.0 1203.5,1660.5 1205.0,1663.5 1206.5,1659.1 1208.0,1664.7 1209.5,1660.5 1211.0,1665.4 1212.5,1662.7 1214.0,1666.8 1215.5,1663.0 1217.0,1666.9 1218.5,1663.7 1220.0,1667.1 1221.5,1664.4 1223.0,1668.9 1224.5,1664.7 1226.0,1670.3 1227.5,1667.3 1229.0,1672.0 1230.5,1668.3 1232.0,1671.3 1233.5,1668.5 1235.0,1670.6 1236.5,1668.0 1238.0,1671.4 1239.5,1667.5 1241.0,1672.0 1242.5,1669.7 1244.0,1672.8 1245.5,1669.5 1247.0,1672.7 1248.5,1670.5 1250.0,1673.7 1251.5,1669.6 1253.0,1672.4 1254.5,1669.8 1256.0,1674.2 1257.5,1671.3 1259.0,1674.7 1260.5,1671.3 1262.0,1674.3 1263.5,1670.5 1265.0,1674.3 1266.5,1669.9 1268.0,1672.9 1269.5,1670.8 1271.0,1674.0 1272.5,1672.5 1274.0,1675.0 1275.5,1671.1 1277.0,1674.9 1278.5,1672.2 1280.0,1675.5 1281.5,1673.3 1283.0,1677.0 1284.5,1674.0 1286.0,1677.0 1287.5,1672.8 1289.0,1675.7 1290.5,1673.6 1292.0,1677.4 1293.5,1674.3 1295.0,1677.7 1296.5,1674.5 1298.0,1677.4 1299.5,1675.7 1301.0,1678.4 1302.5,1675.0 1304.0,1679.0 1305.5,1676.6 1307.0,1678.9 1308.5,1676.5 1310.0,1678.8 1311.5,1676.2 1313.0,1679.6 1314.5,1677.5 1316.0,1679.1 1317.5,1677.1 1319.0,1679.4 1320.5,1676.5 1322.0,1680.4 1323.5,1677.2 1325.0,1680.0 1326.5,1677.5 1328.0,1680.8 1329.5,1678.6 1331.0,1681.3 1332.5,1678.0 1334.0,1680.7 1335.5,1677.5 1337.0,1680.4 1338.5,1679.3 1340.0,1681.5 1341.5,1679.4 1343.0,1681.9 1344.5,1679.2 1346.0,1683.0 1347.5,1678.8 1349.0,1681.9 1350.5,1679.2 1352.0,1681.8 1353.5,1679.7 1355.0,1682.3 1356.5,1679.1 1358.0,1682.5 1359.5,1679.2 1361.0,1683.1 1362.5,1679.7 1364.0,1683.3 1365.5,1679.4 1367.0,1682.3 1368.5,1679.3 1370.0,1682.0 1371.5,1679.7 1373.0,1682.7 1374.3,1681.0 1375.1,1601.5 1375.7,1601.5 1376.1,1673.8 1377.3,1675.4 1378.8,1672.4 1380.3,1675.5 1381.8,1672.7 1383.3,1676.0 1384.8,1673.7 1386.3,1676.2 1387.8,1673.0 1389.3,1675.0 1390.8,1671.6 1392.3,1674.2 1393.8,1671.8 1395.3,1675.4 1396.8,1672.5 1398.3,1674.8 1399.8,1672.2 1401.3,1675.7 1402.8,1672.6 1404.3,1675.7 1405.8,1672.9 1407.3,1675.3 1408.8,1673.2 1410.3,1676.3 1411.8,1672.6 1413.3,1676.2 1414.8,1672.3 1416.3,1675.1 1417.8,1672.5 1419.3,1675.3 1420.8,1671.4 1422.3,1674.6 1423.8,1671.7 1425.3,1674.9 1426.8,1672.1 1428.3,1675.2 1429.8,1671.8 1431.3,1674.7 1432.8,1672.3 1434.3,1675.2 1435.8,1672.5 1437.3,1675.5 1438.8,1672.7 1440.3,1675.3 1441.8,1672.2 1443.3,1674.9 1444.8,1672.6 1446.3,1676.3 1447.8,1672.7 1449.3,1675.6 1450.8,1672.3 1452.3,1673.8 1453.8,1671.7 1455.3,1674.6 1456.8,1672.0 1458.3,1675.2 1459.8,1672.7 1461.3,1675.4 1462.8,1672.1 1464.3,1674.4 1465.8,1672.0 1467.3,1674.9 1468.8,1671.6 1470.3,1674.5 1471.8,1671.8 1473.3,1675.2 1474.8,1672.5 1476.3,1675.6 1477.8,1672.1 1479.3,1675.1 1480.8,1672.2 1482.3,1674.9 1483.8,1672.0 1485.3,1675.9 1486.8,1673.4 1488.3,1675.7 1489.8,1673.1 1491.3,1675.2 1492.8,1671.6 1494.3,1674.5 1495.8,1671.2 1497.3,1674.2 1498.8,1671.6 1500.3,1674.3 1501.8,1671.5 1503.3,1674.4 1504.8,1671.6 1506.3,1675.3 1507.8,1672.3 1509.3,1675.2 1510.8,1672.2 1512.3,1674.4 1513.8,1672.8 1515.3,1675.0 1516.8,1672.7 1518.3,1675.5 1519.8,1672.2 1521.3,1675.1 1522.8,1672.4 1524.3,1675.3 1525.8,1672.4 1527.3,1675.7 1528.8,1672.2 1530.3,1675.6 1531.8,1673.2 1533.3,1675.7 1534.8,1673.4 1536.3,1676.1 1537.8,1671.5 1539.3,1675.0 1540.8,1671.3 1542.3,1674.5 1543.8,1672.7 1545.3,1675.1 1546.8,1672.1 1548.3,1674.8 1549.8,1672.2 1551.3,1675.5 1552.8,1672.3 1554.3,1675.7 1555.8,1673.4 1557.3,1676.0 1558.8,1672.6 1560.3,1675.6 1561.8,1672.6 1563.3,1676.1 1564.8,1673.1 1566.3,1675.5 1567.8,1672.7 1569.3,1675.3 1570.8,1673.0 1572.3,1675.4 1573.8,1672.7 1575.3,1675.1 1576.8,1672.7 1578.3,1675.7 1579.8,1672.5 1581.3,1675.3 1582.8,1672.2 1584.3,1675.4 1585.8,1672.4 1587.3,1675.5 1588.8,1672.2 1590.3,1674.5 1591.8,1672.3 1593.3,1674.9 1594.8,1672.1 1596.3,1675.0 1597.8,1672.0 1599.3,1674.7 1600.8,1672.3 1602.3,1675.3 1603.8,1672.3 1605.3,1675.5 1606.8,1672.3 1608.3,1675.4 1609.8,1673.3 1611.3,1675.0 1612.8,1672.4 1614.3,1675.3 1615.8,1672.1 1617.3,1675.8 1618.8,1672.1 1620.3,1675.9 1621.8,1673.0 1623.3,1675.7 1624.8,1672.7 1626.3,1674.4 1627.8,1671.6 1629.3,1674.1 1630.8,1670.8 1632.3,1674.6 1633.8,1672.4 1635.3,1675.4 1636.8,1673.6 1638.3,1676.9 1639.8,1673.4 1641.3,1675.4 1642.8,1672.7 1644.3,1675.1 1645.8,1671.9 1647.3,1675.9 1648.8,1673.7 1650.3,1676.1 1651.8,1672.9 1653.3,1674.8 1654.8,1672.7 1656.3,1676.5 1657.8,1674.2 1659.3,1676.8 1660.8,1673.8 1662.3,1676.8 1663.8,1672.6 1665.3,1676.2 1666.8,1672.5 1668.3,1674.5 1669.8,1671.5 1671.3,1674.5 1672.8,1672.2 1674.3,1675.1 1675.8,1672.9 1677.3,1676.2 1678.8,1672.7 1680.3,1676.3 1681.8,1673.3 1683.3,1676.0 1684.8,1673.3 1686.3,1675.7 1687.8,1672.6 1689.3,1675.0 1690.8,1672.9 1692.3,1675.3 1693.8,1672.5 1695.3,1674.5 1696.8,1671.8 1698.3,1674.0 1699.8,1672.1 1701.3,1674.7 1702.8,1672.7 1704.3,1675.4 1705.8,1672.2 1707.3,1675.7 1708.8,1672.7 1710.3,1675.9 1711.8,1672.7 1713.3,1675.8 1714.8,1672.9 1716.3,1675.3 1717.8,1672.7 1719.3,1675.0 1720.8,1672.3 1722.3,1675.1 1723.8,1673.2 1725.3,1676.1 1726.8,1673.4 1728.3,1676.7 1729.8,1672.9 1731.3,1676.3 1732.8,1673.1 1734.3,1675.9 1735.8,1672.7 1737.3,1675.2 1738.8,1672.9 1740.3,1675.1 1741.8,1672.3 1743.3,1675.2 1744.8,1672.1 1746.3,1675.0 1747.8,1672.2 1749.3,1675.3 1750.8,1672.9 1752.3,1676.5 1753.8,1673.0 1755.3,1675.9 1756.8,1672.9 1758.3,1675.8 1759.8,1673.6 1761.3,1675.9 1762.8,1671.8 1764.3,1674.9 1765.8,1672.8 1767.3,1675.0 1768.8,1673.2 1770.3,1675.1 1771.8,1672.0 1773.3,1675.1 1774.8,1672.3 1776.3,1676.3 1777.8,1673.2 1779.3,1675.3 1780.8,1672.6 1782.3,1675.3 1783.8,1672.0 1785.3,1674.9 1786.8,1672.6 1788.3,1675.5 1789.8,1673.0 1791.3,1676.4 1792.8,1672.7 1794.3,1676.3 1795.8,1672.7 1797.3,1674.8 1798.8,1672.4 1800.3,1675.2 1801.8,1672.9 1803.3,1675.2 1804.8,1672.1 1806.3,1674.9 1807.8,1672.0 1809.3,1674.9 1810.8,1672.5 1812.3,1674.3 1813.8,1671.6 1815.3,1675.2 1816.8,1672.4 1818.3,1675.6 1819.8,1672.9 1821.3,1675.7 1822.8,1672.0 1824.3,1675.0 1825.8,1671.7 1827.3,1675.5 1828.8,1672.8 1830.3,1675.0 1831.8,1671.8 1833.3,1675.1 1834.8,1671.8 1836.3,1675.7 1837.8,1673.3 1839.3,1676.0 1840.8,1673.2 1842.3,1675.6 1843.8,1672.2 1845.3,1675.4 1846.8,1673.6 1848.3,1676.3 1849.8,1673.3 1851.3,1675.1 1852.8,1671.5 1854.3,1674.1 1855.8,1671.4 1857.3,1674.3 1858.8,1671.6 1860.3,1674.4 1861.8,1671.9 1863.3,1675.0 1864.8,1671.9 1866.3,1675.6 1867.8,1672.1 1869.3,1675.4 1870.8,1672.5 1872.3,1675.7 1873.8,1673.0 1875.3,1675.6 1876.8,1673.7 1878.3,1675.1 1879.8,1672.6 1881.3,1675.2 1882.8,1671.5 1884.3,1675.0 1885.8,1671.5 1887.3,1675.1 1888.8,1672.3 1890.3,1674.6 1891.8,1672.5 1893.3,1675.9 1894.8,1672.7 1896.3,1676.0 1897.8,1672.3 1899.3,1676.1 1900.8,1672.6 1902.3,1675.3 1903.8,1672.5 1905.3,1673.7 1906.8,1670.5 1908.3,1673.8 1909.8,1670.6 1911.3,1674.5 1912.8,1671.5 1914.3,1674.7 1915.8,1672.6 1917.3,1675.3 1918.8,1672.8 1920.3,1675.5" fill="none" stroke="#CC9900" stroke-width="9.3" stroke-linejoin="round" stroke-linecap="butt"/>
<polyline points="486.0,1676.6 487.5,1672.9 489.0,1675.6 490.5,1672.4 492.0,1675.6 493.5,1672.8 495.0,1675.9 496.5,1672.7 498.0,1676.0 499.5,1672.2 501.0,1675.9 502.5,1671.5 504.0,1674.9 505.5,1671.8 507.0,1674.8 508.5,1671.9 510.0,1675.7 511.5,1672.4 513.0,1674.9 514.5,1672.5 516.0,1675.0 517.5,1672.5 519.0,1675.5 520.5,1672.9 522.0,1675.5 523.5,1672.6 525.0,1676.1 526.5,1672.5 528.0,1675.8 529.5,1672.5 531.0,1675.8 532.5,1672.7 534.0,1675.2 535.5,1672.8 537.0,1674.7 538.5,1672.4 540.0,1675.0 541.5,1672.4 543.0,1676.4 544.5,1673.4 546.0,1675.8 547.5,1672.9 549.0,1676.0 550.5,1672.5 552.0,1675.4 555.2,1673.8 555.2,1727.5 555.8,1727.5 555.8,1678.3 557.0,1677.6 558.5,1673.0 560.0,1675.8 561.5,1671.7 563.0,1675.0 564.5,1672.7 566.0,1674.9 567.5,1672.3 569.0,1675.4 570.5,1672.2 572.0,1676.2 573.5,1672.6 575.0,1674.9 576.5,1671.6 578.0,1674.4 579.5,1670.8 581.0,1674.6 582.5,1672.2 584.0,1675.7 585.5,1672.8 587.0,1675.8 588.5,1673.2 590.0,1675.0 591.5,1671.4 593.0,1675.1 594.5,1671.8 596.0,1675.1 597.5,1671.5 599.0,1674.2 600.5,1670.8 602.0,1674.4 603.5,1670.8 605.0,1673.9 606.5,1670.9 608.0,1675.0 609.5,1672.3 611.0,1675.2 612.5,1671.4 614.0,1674.0 615.5,1670.9 617.0,1673.8 618.5,1670.7 620.0,1673.0 621.5,1671.0 623.0,1674.6 624.5,1671.4 626.0,1674.9 627.5,1671.1 629.0,1674.7 630.5,1671.0 632.0,1674.7 633.5,1671.8 635.0,1674.4 636.5,1671.5 638.0,1674.5 639.5,1671.4 641.0,1674.8 642.5,1671.5 644.0,1674.8 645.5,1672.4 647.0,1675.5 648.5,1672.0 650.0,1675.0 651.5,1671.8 653.0,1674.6 654.5,1671.1 656.0,1674.5 657.5,1671.7 659.0,1674.9 660.5,1671.6 662.0,1674.2 663.5,1671.4 665.0,1674.0 666.5,1670.9 668.0,1674.0 669.5,1670.4 671.0,1673.8 672.5,1671.4 674.0,1674.6 675.5,1672.5 677.0,1674.9 678.5,1671.1 680.0,1674.4 681.5,1670.9 683.0,1673.3 684.5,1670.6 686.0,1674.1 687.5,1671.5 689.0,1674.6 690.5,1671.9 692.0,1674.3 693.5,1671.5 695.0,1674.3 696.5,1670.7 698.0,1674.0 699.5,1670.3 701.0,1673.9 702.5,1671.5 704.0,1673.5 705.5,1670.0 707.0,1673.0 708.5,1670.2 710.0,1673.9 711.5,1670.5 713.0,1674.1 714.5,1670.4 716.0,1673.7 717.5,1670.7 719.0,1673.7 720.5,1671.0 722.0,1674.1 723.5,1669.6 725.0,1672.7 726.5,1669.6 728.0,1672.4 729.5,1669.3 731.0,1671.8 732.5,1666.9 734.0,1670.7 735.5,1667.4 737.0,1668.9 738.5,1664.7 740.0,1667.6 741.5,1663.6 743.0,1668.8 744.5,1663.2 746.0,1667.3 747.5,1663.2 749.0,1665.4 750.5,1661.7 752.0,1664.7 753.5,1661.1 755.0,1663.1 756.5,1659.9 758.0,1662.7 759.5,1659.7 761.0,1662.4 762.5,1658.2 764.0,1662.0 765.5,1656.6 767.0,1660.6 768.5,1656.7 770.0,1660.3 771.5,1657.3 773.0,1660.0 774.5,1656.7 776.0,1659.7 777.5,1654.7 779.0,1658.3 780.5,1653.8 782.0,1657.2 783.5,1653.9 785.0,1656.8 786.5,1651.7 788.0,1655.1 789.5,1651.8 791.0,1656.4 792.5,1651.4 794.0,1656.7 795.5,1652.1 797.0,1656.0 798.5,1652.3 800.0,1654.9 801.5,1650.1 803.0,1653.8 804.5,1649.7 806.0,1652.8 807.5,1647.3 809.0,1650.9 810.5,1646.2 812.0,1649.8 813.5,1643.7 815.0,1646.9 816.5,1642.6 818.0,1646.1 819.5,1641.5 821.0,1643.3 822.5,1638.3 824.0,1639.4 825.5,1634.7 827.0,1637.2 828.5,1632.5 830.0,1634.8 831.5,1628.9 833.0,1630.8 834.5,1623.9 836.0,1626.7 837.5,1620.6 839.0,1623.6 840.5,1617.1 842.0,1618.7 843.5,1611.7 845.0,1613.9 846.5,1608.7 848.0,1610.6 849.5,1604.9 851.0,1607.2 852.5,1600.2 854.0,1602.4 855.5,1595.6 857.0,1596.8 858.5,1591.5 860.0,1594.6 861.5,1587.8 863.0,1590.0 864.5,1583.5 866.0,1585.7 867.5,1577.6 869.0,1581.3 870.5,1576.2 872.0,1577.5 873.5,1572.2 875.0,1574.6 876.5,1566.4 878.0,1570.5 879.5,1563.2 881.0,1567.0 882.5,1560.3 884.0,1564.1 885.5,1558.3 887.0,1562.1 888.5,1554.5 890.0,1557.5 891.5,1550.8 893.0,1555.8 894.5,1550.0 896.0,1553.4 897.5,1546.7 899.0,1549.3 900.5,1543.4 902.0,1545.1 903.5,1539.5 905.0,1544.5 906.5,1536.4 908.0,1541.5 909.5,1534.8 911.0,1536.7 912.5,1531.1 914.0,1536.4 915.5,1529.1 917.0,1534.3 918.5,1526.6 920.0,1530.2 921.5,1523.7 923.0,1526.1 924.5,1519.1 926.0,1521.9 927.5,1513.3 929.0,1518.3 930.5,1510.8 932.0,1514.6 933.5,1508.0 935.0,1511.3 936.5,1504.5 938.0,1508.7 939.5,1502.5 941.0,1504.1 942.5,1498.1 944.0,1502.3 945.5,1494.2 947.0,1497.8 948.5,1490.9 950.0,1497.0 951.5,1488.5 953.0,1495.2 954.5,1489.0 956.0,1492.5 957.5,1486.1 959.0,1489.0 960.5,1481.8 962.0,1485.1 963.5,1477.6 965.0,1482.6 966.5,1475.0 968.0,1479.8 969.5,1472.0 971.0,1476.2 972.5,1468.6 974.0,1473.9 975.5,1468.5 977.0,1472.4 978.5,1466.6 980.0,1471.1 981.5,1462.9 983.0,1469.2 984.5,1462.5 986.0,1468.3 987.5,1461.2 989.0,1464.5 990.5,1458.4 992.0,1462.4 993.5,1453.3 995.0,1457.4 996.5,1450.4 998.0,1453.0 999.5,1444.4 1001.0,1448.4 1002.5,1439.1 1004.0,1443.7 1005.5,1437.1 1007.0,1441.2 1008.5,1433.1 1010.0,1437.2 1011.5,1428.8 1013.0,1436.2 1014.5,1429.3 1016.0,1435.2 1017.5,1426.4 1019.0,1431.9 1020.5,1424.6 1022.0,1428.5 1023.5,1423.6 1025.0,1429.6 1026.5,1423.1 1028.0,1427.4 1029.5,1423.1 1031.0,1428.9 1032.5,1423.0 1034.0,1431.2 1035.9,1422.2 1037.0,1428.7 1038.5,1422.4 1040.0,1429.2 1041.5,1425.7 1043.0,1434.5 1044.5,1429.5 1046.0,1434.9 1047.5,1429.8 1049.0,1436.0 1050.5,1432.5 1052.0,1439.7 1053.5,1433.1 1055.0,1439.4 1056.5,1436.0 1058.0,1444.0 1059.5,1439.2 1061.0,1446.0 1062.5,1443.0 1064.0,1448.3 1065.5,1444.2 1067.0,1451.3 1068.5,1446.6 1070.0,1455.1 1071.5,1449.8 1073.0,1459.0 1074.5,1456.9 1076.0,1464.9 1077.5,1459.4 1079.0,1468.0 1080.5,1462.8 1082.0,1469.0 1083.5,1465.2 1085.0,1474.1 1086.5,1471.6 1088.0,1481.4 1089.5,1480.0 1091.0,1488.4 1092.5,1483.6 1094.0,1492.0 1095.5,1485.7 1097.0,1494.9 1098.5,1490.4 1100.0,1495.0 1101.5,1490.6 1103.0,1497.7 1104.5,1493.8 1106.0,1502.4 1107.5,1495.5 1109.0,1501.1 1110.5,1497.3 1112.0,1503.3 1113.5,1498.9 1115.0,1508.1 1116.5,1503.0 1118.0,1512.9 1119.5,1510.6 1121.0,1517.0 1122.5,1514.9 1124.0,1521.5 1125.5,1517.8 1127.0,1524.2 1128.5,1521.0 1130.0,1528.6 1131.5,1527.1 1133.0,1534.0 1134.5,1529.5 1136.0,1534.8 1137.5,1531.4 1139.0,1538.4 1140.5,1533.9 1142.0,1540.4 1143.5,1534.3 1145.0,1540.1 1146.5,1538.3 1148.0,1545.4 1149.5,1542.9 1151.0,1551.0 1152.5,1546.3 1154.0,1553.0 1155.5,1549.8 1157.0,1554.4 1158.5,1549.5 1160.0,1557.0 1161.5,1554.5 1163.0,1561.7 1164.5,1558.0 1166.0,1565.6 1167.5,1562.3 1169.0,1568.6 1170.5,1565.4 1172.0,1571.1 1173.5,1568.0 1175.0,1575.6 1176.5,1570.8 1178.0,1575.4 1179.5,1573.1 1181.0,1579.4 1182.5,1576.3 1184.0,1582.6 1185.5,1578.2 1187.0,1584.4 1188.5,1580.8 1190.0,1587.3 1191.5,1583.9 1193.0,1590.6 1194.5,1588.0 1196.0,1592.4 1197.5,1589.1 1199.0,1595.2 1200.5,1592.0 1202.0,1598.4 1203.5,1596.3 1205.0,1602.8 1206.5,1598.4 1208.0,1604.6 1209.5,1601.2 1211.0,1607.1 1212.5,1605.1 1214.0,1612.7 1215.5,1609.3 1217.0,1614.7 1218.5,1612.4 1220.0,1617.3 1221.5,1613.8 1223.0,1620.0 1224.5,1617.0 1226.0,1621.2 1227.5,1618.4 1229.0,1623.8 1230.5,1621.4 1232.0,1628.2 1233.5,1626.4 1235.0,1631.3 1236.5,1628.5 1238.0,1632.7 1239.5,1629.9 1241.0,1636.2 1242.5,1633.4 1244.0,1639.8 1245.5,1635.7 1247.0,1639.5 1248.5,1637.7 1250.0,1641.4 1251.5,1638.5 1253.0,1644.2 1254.5,1641.9 1256.0,1647.7 1257.5,1645.0 1259.0,1649.1 1260.5,1646.2 1262.0,1650.8 1263.5,1646.5 1265.0,1650.9 1266.5,1646.9 1268.0,1652.0 1269.5,1650.1 1271.0,1655.2 1272.5,1652.0 1274.0,1655.3 1275.5,1651.8 1277.0,1656.7 1278.5,1653.9 1280.0,1657.4 1281.5,1655.2 1283.0,1659.2 1284.5,1655.9 1286.0,1660.8 1287.5,1656.4 1289.0,1659.6 1290.5,1657.1 1292.0,1661.6 1293.5,1660.1 1295.0,1664.3 1296.5,1660.1 1298.0,1663.8 1299.5,1660.3 1301.0,1665.2 1302.5,1661.3 1304.0,1665.7 1305.5,1662.0 1307.0,1666.1 1308.5,1663.3 1310.0,1666.8 1311.5,1663.2 1313.0,1667.8 1314.5,1664.6 1316.0,1668.2 1317.5,1666.1 1319.0,1668.6 1320.5,1665.2 1322.0,1669.1 1323.5,1666.3 1325.0,1669.8 1326.5,1667.7 1328.0,1670.1 1329.5,1667.3 1331.0,1670.9 1332.5,1666.8 1334.0,1671.0 1335.5,1667.3 1337.0,1670.5 1338.5,1667.2 1340.0,1671.4 1341.5,1668.5 1343.0,1671.3 1344.5,1667.9 1346.0,1671.6 1347.5,1668.4 1349.0,1672.1 1350.5,1669.4 1352.0,1672.6 1353.5,1669.7 1355.0,1672.9 1356.5,1669.2 1358.0,1673.3 1359.5,1669.4 1361.0,1673.4 1362.5,1670.7 1364.0,1674.1 1365.5,1670.7 1367.0,1674.3 1368.5,1671.8 1370.0,1675.1 1371.5,1671.3 1373.0,1674.1 1374.5,1671.5 1376.0,1674.5 1377.5,1671.4 1379.0,1674.5 1380.5,1671.3 1382.0,1674.5 1383.5,1672.7 1385.0,1676.2 1386.5,1673.5 1388.0,1677.0 1389.5,1673.8 1391.0,1676.9 1392.5,1673.9 1394.0,1676.9 1395.5,1674.1 1397.0,1677.1 1398.5,1673.6 1400.0,1676.6 1401.5,1673.5 1403.0,1677.3 1404.5,1675.0 1406.0,1677.9 1407.5,1675.6 1409.0,1678.0 1410.5,1675.4 1412.0,1678.8 1413.5,1676.2 1415.0,1678.7 1416.5,1676.1 1418.0,1678.5 1419.5,1676.2 1421.0,1679.7 1422.5,1676.4 1424.0,1678.6 1425.5,1675.9 1427.0,1677.8 1428.5,1675.1 1430.0,1678.5 1431.5,1675.7 1433.0,1679.8 1434.5,1676.6 1436.0,1678.9 1437.5,1676.1 1439.0,1679.3 1440.5,1676.1 1442.0,1679.9 1443.5,1676.6 1445.0,1680.2 1446.5,1677.4 1448.0,1679.0 1449.5,1675.8 1451.0,1679.2 1452.5,1675.7 1454.0,1680.2 1455.5,1677.4 1457.0,1680.6 1458.5,1677.9 1460.0,1680.3 1461.5,1677.6 1463.0,1680.3 1464.5,1678.5 1466.0,1682.6 1467.5,1680.1 1469.0,1682.5 1470.5,1680.0 1472.0,1682.7 1473.5,1679.1 1475.0,1681.1 1476.5,1677.6 1478.0,1680.3 1479.5,1678.2 1481.0,1681.9 1482.5,1679.2 1484.0,1682.7 1485.5,1679.4 1487.0,1682.4 1488.5,1679.6 1490.0,1681.0 1491.5,1677.7 1493.0,1680.5 1494.5,1678.9 1496.0,1682.4 1497.5,1679.8 1499.0,1681.8 1500.5,1679.7 1502.0,1680.9 1503.5,1678.1 1505.0,1681.4 1506.5,1677.9 1508.0,1680.7 1509.5,1677.9 1511.1,1681.0 1511.9,1600.7 1512.5,1600.7 1512.9,1673.8 1514.1,1674.9 1515.6,1671.5 1517.1,1674.8 1518.6,1671.4 1520.1,1675.3 1521.6,1672.2 1523.1,1675.2 1524.6,1671.6 1526.1,1674.7 1527.6,1673.1 1529.1,1675.8 1530.6,1672.9 1532.1,1676.7 1533.6,1673.3 1535.1,1675.2 1536.6,1673.0 1538.1,1675.1 1539.6,1672.7 1541.1,1674.5 1542.6,1671.5 1544.1,1674.6 1545.6,1671.4 1547.1,1674.8 1548.6,1671.1 1550.1,1674.7 1551.6,1672.8 1553.1,1675.2 1554.6,1672.0 1556.1,1675.2 1557.6,1672.8 1559.1,1675.3 1560.6,1672.7 1562.1,1675.5 1563.6,1673.1 1565.1,1676.5 1566.6,1673.3 1568.1,1675.4 1569.6,1671.8 1571.1,1674.0 1572.6,1671.0 1574.1,1674.0 1575.6,1670.9 1577.1,1674.2 1578.6,1672.2 1580.1,1675.0 1581.6,1671.7 1583.1,1674.7 1584.6,1671.8 1586.1,1675.1 1587.6,1672.5 1589.1,1675.4 1590.6,1671.9 1592.1,1675.3 1593.6,1671.5 1595.1,1675.6 1596.6,1672.2 1598.1,1676.0 1599.6,1672.9 1601.1,1675.2 1602.6,1672.2 1604.1,1674.8 1605.6,1672.3 1607.1,1675.1 1608.6,1672.7 1610.1,1675.8 1611.6,1672.4 1613.1,1675.4 1614.6,1671.4 1616.1,1674.5 1617.6,1672.1 1619.1,1675.2 1620.6,1671.9 1622.1,1676.1 1623.6,1672.0 1625.1,1675.4 1626.6,1672.7 1628.1,1674.4 1629.6,1671.4 1631.1,1674.1 1632.6,1671.6 1634.1,1674.8 1635.6,1672.0 1637.1,1675.0 1638.6,1671.9 1640.1,1675.1 1641.6,1673.5 1643.1,1675.6 1644.6,1672.1 1646.1,1675.8 1647.6,1671.8 1649.1,1675.3 1650.6,1671.7 1652.1,1674.1 1653.6,1672.4 1655.1,1675.2 1656.6,1672.9 1658.1,1676.6 1659.6,1672.5 1661.1,1675.7 1662.6,1673.1 1664.1,1676.3 1665.6,1673.6 1667.1,1677.4 1668.6,1673.3 1670.1,1675.6 1671.6,1672.4 1673.1,1674.9 1674.6,1672.5 1676.1,1675.0 1677.6,1671.7 1679.1,1675.3 1680.6,1672.0 1682.1,1675.1 1683.6,1671.9 1685.1,1674.1 1686.6,1671.0 1688.1,1674.3 1689.6,1671.6 1691.1,1674.2 1692.6,1672.1 1694.1,1675.5 1695.6,1672.4 1697.1,1675.0 1698.6,1672.5 1700.1,1674.3 1701.6,1671.9 1703.1,1674.7 1704.6,1672.3 1706.1,1675.1 1707.6,1672.7 1709.1,1675.9 1710.6,1671.9 1712.1,1676.0 1713.6,1672.9 1715.1,1675.1 1716.6,1671.7 1718.1,1675.1 1719.6,1673.0 1721.1,1676.0 1722.6,1672.7 1724.1,1675.7 1725.6,1672.1 1727.1,1676.0 1728.6,1672.6 1730.1,1675.9 1731.6,1672.2 1733.1,1674.8 1734.6,1672.1 1736.1,1675.5 1737.6,1672.2 1739.1,1675.2 1740.6,1672.2 1742.1,1675.1 1743.6,1671.7 1745.1,1675.7 1746.6,1671.4 1748.1,1675.1 1749.6,1672.8 1751.1,1675.5 1752.6,1672.4 1754.1,1675.4 1755.6,1671.8 1757.1,1675.6 1758.6,1672.4 1760.1,1675.3 1761.6,1672.3 1763.1,1674.8 1764.6,1672.9 1766.1,1675.8 1767.6,1673.1 1769.1,1675.8 1770.6,1672.7 1772.1,1674.8 1773.6,1672.4 1775.1,1674.5 1776.6,1671.0 1778.1,1674.7 1779.6,1672.0 1781.1,1675.2 1782.6,1672.2 1784.1,1674.6 1785.6,1671.5 1787.1,1674.4 1788.6,1672.0 1790.1,1674.7 1791.6,1672.6 1793.1,1674.8 1794.6,1672.8 1796.1,1675.0 1797.6,1673.2 1799.1,1675.9 1800.6,1672.3 1802.1,1674.8 1803.6,1672.2 1805.1,1674.3 1806.6,1672.2 1808.1,1674.8 1809.6,1671.9 1811.1,1675.9 1812.6,1672.9 1814.1,1675.3 1815.6,1672.1 1817.1,1675.0 1818.6,1672.1 1820.1,1675.7 1821.6,1672.9 1823.1,1675.1 1824.6,1672.5 1826.1,1676.3 1827.6,1673.6 1829.1,1675.8 1830.6,1673.0 1832.1,1675.2 1833.6,1672.5 1835.1,1676.1 1836.6,1672.7 1838.1,1675.6 1839.6,1672.1 1841.1,1675.5 1842.6,1673.2 1844.1,1675.0 1845.6,1671.9 1847.1,1674.8 1848.6,1671.1 1850.1,1675.9 1851.6,1673.2 1853.1,1676.1 1854.6,1673.5 1856.1,1675.8 1857.6,1674.5 1859.1,1675.8 1860.6,1674.1 1862.1,1676.9 1863.6,1673.9 1865.1,1676.7 1866.6,1672.5 1868.1,1675.6 1869.6,1672.0 1871.1,1674.6 1872.6,1671.6 1874.1,1675.5 1875.6,1672.6 1877.1,1675.0 1878.6,1672.3 1880.1,1675.4 1881.6,1672.2 1883.1,1675.2 1884.6,1671.7 1886.1,1675.0 1887.6,1672.6 1889.1,1675.6 1890.6,1673.0 1892.1,1675.1 1893.6,1673.2 1895.1,1675.5 1896.6,1672.7 1898.1,1675.6 1899.6,1673.4 1901.1,1675.9 1902.6,1672.4 1904.1,1675.6 1905.6,1672.1 1907.1,1675.2 1908.6,1671.9 1910.1,1675.2 1911.6,1672.5 1913.1,1676.1 1914.6,1673.1 1916.1,1675.9 1917.6,1673.4 1919.1,1676.1" fill="none" stroke="#00C8CC" stroke-width="9.3" stroke-linejoin="round" stroke-linecap="butt"/>
<polyline points="486.0,1674.5 487.5,1671.4 489.0,1674.7 490.5,1671.3 492.0,1675.1 493.5,1672.3 495.0,1675.7 496.5,1673.0 498.0,1675.8 499.5,1672.6 501.0,1676.0 502.5,1672.7 504.0,1675.8 505.5,1672.2 507.0,1674.6 508.5,1672.6 510.0,1675.4 511.5,1672.8 513.0,1675.4 514.5,1673.2 516.0,1675.3 517.5,1672.8 519.0,1675.9 520.5,1671.8 522.0,1674.9 523.5,1672.5 525.0,1675.6 526.5,1673.8 528.0,1676.1 529.5,1673.7 531.0,1675.5 532.5,1673.0 534.0,1675.8 535.5,1672.5 537.0,1676.4 538.5,1671.8 540.0,1675.3 541.5,1671.8 543.0,1674.5 544.5,1671.6 546.0,1673.2 547.5,1671.2 549.0,1673.9 550.5,1670.9 552.0,1674.6 555.2,1673.8 555.2,1727.5 555.8,1727.5 555.8,1678.3 557.0,1679.2 558.5,1676.1 560.0,1678.3 561.5,1674.3 563.0,1677.7 564.5,1673.8 566.0,1676.3 567.5,1672.6 569.0,1674.9 570.5,1672.8 572.0,1675.7 573.5,1672.8 575.0,1676.3 576.5,1672.9 578.0,1675.4 579.5,1672.4 581.0,1674.8 582.5,1672.4 584.0,1675.4 585.5,1671.8 587.0,1674.6 588.5,1670.6 590.0,1674.3 591.5,1670.9 593.0,1674.2 594.5,1671.8 596.0,1675.4 597.5,1671.7 599.0,1675.4 600.5,1671.9 602.0,1674.4 603.5,1671.6 605.0,1674.6 606.5,1670.2 608.0,1673.3 609.5,1669.0 611.0,1672.2 612.5,1668.8 614.0,1673.1 615.5,1669.5 617.0,1672.7 618.5,1670.5 620.0,1673.4 621.5,1671.1 623.0,1674.3 624.5,1671.5 626.0,1674.6 627.5,1670.2 629.0,1673.6 630.5,1670.4 632.0,1674.1 633.5,1670.2 635.0,1673.6 636.5,1669.8 638.0,1672.3 639.5,1669.1 641.0,1672.5 642.5,1669.5 644.0,1672.8 645.5,1670.1 647.0,1673.0 648.5,1670.3 650.0,1672.8 651.5,1669.3 653.0,1672.8 654.5,1668.0 656.0,1671.1 657.5,1667.5 659.0,1671.7 660.5,1669.2 662.0,1671.7 663.5,1668.5 665.0,1671.4 666.5,1667.6 668.0,1670.2 669.5,1667.5 671.0,1669.7 672.5,1666.8 674.0,1670.0 675.5,1667.0 677.0,1670.5 678.5,1667.2 680.0,1670.9 681.5,1667.8 683.0,1670.2 684.5,1666.4 686.0,1670.0 687.5,1666.8 689.0,1671.5 690.5,1668.8 692.0,1670.8 693.5,1666.2 695.0,1669.9 696.5,1665.1 698.0,1670.1 699.5,1665.4 701.0,1668.0 702.5,1665.5 704.0,1668.7 705.5,1666.0 707.0,1669.3 708.5,1666.5 710.0,1669.9 711.5,1665.9 713.0,1669.3 714.5,1664.6 716.0,1667.3 717.5,1663.0 719.0,1666.3 720.5,1663.5 722.0,1666.5 723.5,1663.0 725.0,1665.4 726.5,1661.4 728.0,1665.2 729.5,1661.2 731.0,1664.6 732.5,1662.3 734.0,1664.5 735.5,1660.7 737.0,1664.9 738.5,1661.0 740.0,1664.0 741.5,1660.5 743.0,1663.0 744.5,1659.7 746.0,1662.1 747.5,1659.1 749.0,1663.3 750.5,1659.1 752.0,1664.0 753.5,1658.5 755.0,1662.2 756.5,1657.8 758.0,1660.7 759.5,1656.3 761.0,1660.4 762.5,1657.4 764.0,1660.2 765.5,1656.8 767.0,1660.3 768.5,1655.5 770.0,1659.6 771.5,1655.2 773.0,1659.8 774.5,1656.6 776.0,1659.8 777.5,1655.5 779.0,1659.8 780.5,1656.4 782.0,1660.1 783.5,1656.4 785.0,1660.8 786.5,1656.1 788.0,1658.9 789.5,1655.5 791.0,1658.3 792.5,1654.8 794.0,1659.6 795.5,1656.2 797.0,1659.4 798.5,1655.4 800.0,1660.0 801.5,1656.3 803.0,1659.9 804.5,1657.5 806.0,1661.3 807.5,1658.1 809.0,1662.3 810.5,1657.3 812.0,1661.0 813.5,1658.0 815.0,1661.4 816.5,1656.6 818.0,1660.6 819.5,1657.2 821.0,1660.7 822.5,1657.8 824.0,1661.5 825.5,1657.2 827.0,1659.7 828.5,1657.0 830.0,1659.3 831.5,1655.4 833.0,1657.7 834.5,1653.3 836.0,1655.4 837.5,1652.2 839.0,1655.1 840.5,1651.0 842.0,1653.5 843.5,1648.7 845.0,1652.6 846.5,1648.1 848.0,1650.5 849.5,1646.1 851.0,1649.3 852.5,1644.6 854.0,1646.6 855.5,1641.1 857.0,1643.4 858.5,1639.2 860.0,1642.6 861.5,1637.9 863.0,1639.7 864.5,1634.5 866.0,1636.4 867.5,1631.0 869.0,1634.5 870.5,1627.5 872.0,1631.3 873.5,1625.9 875.0,1627.7 876.5,1623.7 878.0,1626.4 879.5,1620.3 881.0,1622.4 882.5,1615.9 884.0,1618.3 885.5,1613.3 887.0,1615.8 888.5,1609.1 890.0,1611.8 891.5,1605.3 893.0,1608.9 894.5,1604.5 896.0,1606.4 897.5,1598.7 899.0,1602.1 900.5,1595.9 902.0,1598.8 903.5,1592.4 905.0,1596.5 906.5,1589.6 908.0,1593.0 909.5,1587.8 911.0,1590.1 912.5,1584.4 914.0,1588.1 915.5,1583.0 917.0,1585.1 918.5,1580.5 920.0,1583.5 921.5,1576.7 923.0,1581.1 924.5,1574.6 926.0,1577.8 927.5,1570.6 929.0,1573.1 930.5,1565.6 932.0,1568.8 933.5,1561.6 935.0,1565.5 936.5,1558.6 938.0,1564.2 939.5,1556.9 941.0,1560.4 942.5,1555.4 944.0,1558.1 945.5,1551.7 947.0,1557.2 948.5,1547.6 950.0,1552.4 951.5,1546.3 953.0,1549.8 954.5,1545.5 956.0,1550.3 957.5,1543.1 959.0,1547.4 960.5,1540.7 962.0,1544.7 963.5,1539.4 965.0,1543.0 966.5,1535.1 968.0,1538.4 969.5,1532.0 971.0,1536.5 972.5,1527.9 974.0,1532.0 975.5,1524.6 977.0,1529.3 978.5,1524.2 980.0,1527.8 981.5,1519.9 983.0,1523.7 984.5,1516.9 986.0,1520.7 987.5,1514.1 989.0,1517.5 990.5,1510.4 992.0,1515.0 993.5,1508.1 995.0,1513.1 996.5,1508.7 998.0,1514.0 999.5,1506.3 1001.0,1508.4 1002.5,1501.6 1004.0,1506.8 1005.5,1501.7 1007.0,1507.6 1008.5,1499.8 1010.0,1503.1 1011.5,1496.1 1013.0,1500.6 1014.5,1494.2 1016.0,1499.7 1017.5,1492.7 1019.0,1496.9 1020.5,1492.5 1022.0,1496.2 1023.5,1490.1 1025.0,1493.7 1026.5,1487.1 1028.0,1493.0 1029.5,1484.1 1031.0,1489.8 1032.5,1483.0 1034.0,1487.4 1035.5,1481.0 1037.0,1486.2 1038.5,1479.1 1040.0,1482.8 1041.5,1474.2 1043.0,1478.9 1044.5,1472.4 1046.0,1475.7 1047.5,1471.2 1049.0,1473.4 1050.5,1467.0 1052.0,1472.0 1053.5,1461.7 1055.0,1466.4 1056.5,1460.5 1058.0,1463.4 1059.5,1456.6 1061.0,1461.9 1062.5,1453.8 1064.0,1459.5 1065.5,1451.9 1067.0,1457.8 1068.5,1451.1 1070.0,1457.5 1071.5,1451.5 1073.0,1455.7 1074.5,1450.2 1076.0,1455.3 1077.5,1448.8 1079.0,1454.7 1080.5,1447.8 1082.0,1451.8 1083.5,1443.3 1085.0,1447.5 1086.5,1442.4 1088.0,1447.8 1089.5,1439.9 1091.0,1446.0 1092.5,1437.5 1094.0,1442.2 1095.5,1435.3 1097.0,1441.5 1098.5,1433.6 1100.0,1438.2 1101.5,1432.0 1103.0,1437.1 1104.5,1431.3 1106.0,1437.4 1107.5,1432.8 1109.0,1437.9 1110.5,1433.8 1112.0,1441.7 1113.5,1437.7 1115.0,1445.8 1116.5,1441.3 1118.0,1448.6 1119.5,1443.6 1121.0,1451.1 1122.5,1445.3 1124.0,1453.9 1125.5,1449.2 1127.0,1457.1 1128.5,1452.9 1130.0,1462.6 1131.5,1456.2 1133.0,1465.5 1134.5,1462.8 1136.0,1469.4 1137.5,1465.9 1139.0,1474.7 1140.5,1469.6 1142.0,1477.4 1143.5,1471.5 1145.0,1475.8 1146.5,1473.4 1148.0,1479.5 1149.5,1474.5 1151.0,1482.8 1152.5,1476.9 1154.0,1486.6 1155.5,1481.5 1157.0,1489.2 1158.5,1484.2 1160.0,1490.2 1161.5,1486.7 1163.0,1495.6 1164.5,1490.5 1166.0,1496.9 1167.5,1493.1 1169.0,1501.1 1170.5,1495.6 1172.0,1501.9 1173.5,1496.5 1175.0,1503.3 1176.5,1498.1 1178.0,1506.7 1179.5,1502.5 1181.0,1509.5 1182.5,1506.1 1184.0,1513.3 1185.5,1509.0 1187.0,1515.7 1188.5,1509.9 1190.0,1518.2 1191.5,1512.8 1193.0,1517.1 1194.5,1513.7 1196.0,1519.4 1197.5,1515.0 1199.0,1522.2 1200.5,1516.8 1202.0,1524.1 1203.5,1519.4 1205.0,1526.9 1206.5,1522.7 1208.0,1529.0 1209.5,1525.6 1211.0,1531.0 1212.5,1528.0 1214.0,1533.6 1215.5,1529.9 1217.0,1537.3 1218.5,1533.9 1220.0,1539.2 1221.5,1536.7 1223.0,1542.4 1224.5,1539.9 1226.0,1546.7 1227.5,1542.7 1229.0,1548.7 1230.5,1543.4 1232.0,1551.3 1233.5,1546.9 1235.0,1555.8 1236.5,1550.8 1238.0,1558.7 1239.5,1555.9 1241.0,1561.8 1242.5,1559.2 1244.0,1564.6 1245.5,1561.0 1247.0,1568.6 1248.5,1563.3 1250.0,1568.6 1251.5,1565.7 1253.0,1571.2 1254.5,1567.0 1256.0,1573.3 1257.5,1567.5 1259.0,1573.8 1260.5,1572.0 1262.0,1576.8 1263.5,1572.8 1265.0,1579.3 1266.5,1574.0 1268.0,1580.7 1269.5,1576.4 1271.0,1583.1 1272.5,1579.1 1274.0,1585.6 1275.5,1582.6 1277.0,1587.9 1278.5,1585.0 1280.0,1591.6 1281.5,1588.4 1283.0,1595.2 1284.5,1592.5 1286.0,1596.4 1287.5,1593.3 1289.0,1600.2 1290.5,1596.4 1292.0,1602.3 1293.5,1600.1 1295.0,1605.2 1296.5,1602.5 1298.0,1609.6 1299.5,1605.9 1301.0,1612.0 1302.5,1609.6 1304.0,1614.9 1305.5,1612.7 1307.0,1618.5 1308.5,1614.0 1310.0,1619.3 1311.5,1617.3 1313.0,1622.2 1314.5,1618.7 1316.0,1624.8 1317.5,1619.8 1319.0,1626.6 1320.5,1621.9 1322.0,1626.2 1323.5,1624.2 1325.0,1629.1 1326.5,1626.9 1328.0,1633.0 1329.5,1629.2 1331.0,1633.4 1332.5,1628.9 1334.0,1634.6 1335.5,1631.4 1337.0,1637.0 1338.5,1633.8 1340.0,1639.7 1341.5,1636.9 1343.0,1640.9 1344.5,1639.3 1346.0,1644.0 1347.5,1641.1 1349.0,1646.7 1350.5,1641.9 1352.0,1647.4 1353.5,1645.1 1355.0,1650.1 1356.5,1648.4 1358.0,1652.8 1359.5,1648.0 1361.0,1653.1 1362.5,1649.6 1364.0,1652.9 1365.5,1650.6 1367.0,1656.4 1368.5,1654.5 1370.0,1658.8 1371.5,1655.9 1373.0,1659.5 1374.5,1656.4 1376.0,1661.0 1377.5,1657.2 1379.0,1660.8 1380.5,1657.5 1382.0,1660.7 1383.5,1658.1 1385.0,1662.5 1386.5,1659.8 1388.0,1664.5 1389.5,1660.6 1391.0,1664.4 1392.5,1661.1 1394.0,1663.3 1395.5,1661.9 1397.0,1665.8 1398.5,1661.5 1400.0,1666.3 1401.5,1661.7 1403.0,1666.1 1404.5,1663.5 1406.0,1668.2 1407.5,1665.4 1409.0,1668.6 1410.5,1664.4 1412.0,1668.6 1413.5,1664.2 1415.0,1668.0 1416.5,1665.0 1418.0,1668.0 1419.5,1664.5 1421.0,1669.0 1422.5,1666.3 1424.0,1670.9 1425.5,1667.5 1427.0,1670.3 1428.5,1666.4 1430.0,1670.3 1431.5,1667.0 1433.0,1670.9 1434.5,1668.8 1436.0,1672.5 1437.5,1668.2 1439.0,1673.0 1440.5,1670.1 1442.0,1672.9 1443.5,1669.9 1445.0,1672.2 1446.5,1669.6 1448.0,1672.4 1449.5,1668.1 1451.0,1672.6 1452.5,1669.3 1454.0,1672.1 1455.5,1668.3 1457.0,1671.8 1458.5,1670.0 1460.0,1672.5 1461.5,1669.7 1463.0,1671.7 1464.5,1669.0 1466.0,1672.8 1467.5,1669.9 1469.0,1673.5 1470.5,1669.6 1472.0,1673.8 1473.5,1670.5 1475.0,1673.7 1476.5,1670.0 1478.0,1673.4 1479.5,1669.1 1481.0,1672.1 1482.5,1670.2 1484.0,1673.4 1485.5,1671.2 1487.0,1674.5 1488.5,1670.2 1490.0,1672.9 1491.5,1669.9 1493.0,1673.2 1494.5,1671.0 1496.0,1674.7 1497.5,1670.4 1499.0,1673.5 1500.5,1671.1 1502.0,1674.5 1503.5,1672.2 1505.0,1675.3 1506.5,1672.3 1508.0,1675.6 1509.5,1672.6 1511.0,1675.9 1512.5,1673.0 1514.0,1675.2 1515.5,1672.2 1517.0,1674.8 1518.5,1672.0 1520.0,1675.6 1521.5,1672.5 1523.0,1675.8 1524.5,1672.8 1526.0,1675.8 1527.5,1673.3 1529.0,1676.1 1530.5,1674.6 1532.0,1678.0 1533.5,1674.5 1535.0,1677.1 1536.5,1673.3 1538.0,1676.0 1539.5,1672.5 1541.0,1676.0 1542.5,1673.7 1544.0,1676.8 1545.5,1673.3 1547.0,1677.5 1548.5,1675.1 1550.0,1678.7 1551.5,1675.8 1553.0,1678.3 1554.5,1675.3 1556.0,1677.9 1557.5,1674.5 1559.0,1677.2 1560.5,1674.3 1562.0,1676.9 1563.5,1675.3 1565.0,1678.4 1566.5,1675.4 1568.0,1678.4 1569.5,1676.1 1571.0,1679.3 1572.5,1676.7 1574.0,1678.9 1575.5,1675.6 1577.0,1678.5 1578.5,1676.4 1580.0,1679.0 1581.5,1676.8 1583.0,1679.6 1584.5,1677.1 1586.0,1679.9 1587.5,1677.1 1589.0,1679.9 1590.5,1676.6 1592.0,1679.8 1593.5,1677.1 1595.0,1680.2 1596.5,1677.4 1598.0,1680.6 1599.5,1677.4 1601.0,1680.5 1602.5,1677.5 1604.0,1680.6 1605.5,1677.9 1607.0,1681.9 1608.5,1679.5 1610.0,1682.4 1611.5,1679.2 1613.0,1681.9 1614.5,1678.3 1616.0,1680.9 1617.5,1678.6 1619.0,1681.0 1620.5,1678.6 1622.0,1682.7 1623.5,1679.3 1625.0,1681.3 1626.5,1678.6 1628.0,1681.9 1629.5,1678.7 1631.0,1681.6 1632.5,1678.9 1634.0,1681.1 1635.5,1678.6 1637.0,1681.8 1638.5,1678.8 1640.0,1682.2 1641.5,1679.4 1643.0,1682.7 1644.5,1679.5 1646.0,1682.5 1647.9,1681.0 1648.7,1602.8 1649.3,1602.8 1649.7,1673.8 1650.9,1676.5 1652.4,1673.8 1653.9,1676.6 1655.4,1671.6 1656.9,1675.5 1658.4,1671.8 1659.9,1674.6 1661.4,1672.4 1662.9,1675.1 1664.4,1672.2 1665.9,1675.4 1667.4,1672.3 1668.9,1675.3 1670.4,1672.2 1671.9,1675.2 1673.4,1672.9 1674.9,1675.9 1676.4,1672.7 1677.9,1676.2 1679.4,1672.7 1680.9,1675.6 1682.4,1672.1 1683.9,1674.4 1685.4,1671.6 1686.9,1674.9 1688.4,1672.1 1689.9,1674.2 1691.4,1671.1 1692.9,1675.0 1694.4,1671.3 1695.9,1674.8 1697.4,1672.0 1698.9,1674.3 1700.4,1672.6 1701.9,1676.3 1703.4,1673.2 1704.9,1675.9 1706.4,1672.4 1707.9,1675.0 1709.4,1672.4 1710.9,1674.5 1712.4,1672.4 1713.9,1675.8 1715.4,1672.5 1716.9,1675.6 1718.4,1673.0 1719.9,1675.1 1721.4,1672.1 1722.9,1675.7 1724.4,1672.9 1725.9,1676.2 1727.4,1673.0 1728.9,1675.9 1730.4,1672.3 1731.9,1676.5 1733.4,1673.2 1734.9,1676.1 1736.4,1673.1 1737.9,1675.3 1739.4,1672.4 1740.9,1676.0 1742.4,1673.8 1743.9,1676.1 1745.4,1672.3 1746.9,1675.0 1748.4,1670.6 1749.9,1675.3 1751.4,1673.1 1752.9,1676.5 1754.4,1673.4 1755.9,1675.4 1757.4,1672.3 1758.9,1674.9 1760.4,1671.6 1761.9,1675.2 1763.4,1672.5 1764.9,1674.8 1766.4,1671.9 1767.9,1674.6 1769.4,1672.1 1770.9,1674.7 1772.4,1672.0 1773.9,1675.1 1775.4,1672.1 1776.9,1675.0 1778.4,1672.8 1779.9,1675.7 1781.4,1672.6 1782.9,1674.9 1784.4,1671.7 1785.9,1673.8 1787.4,1671.4 1788.9,1674.6 1790.4,1672.1 1791.9,1675.2 1793.4,1672.0 1794.9,1675.7 1796.4,1673.1 1797.9,1675.7 1799.4,1672.2 1800.9,1675.6 1802.4,1672.5 1803.9,1675.4 1805.4,1672.6 1806.9,1675.2 1808.4,1673.9 1809.9,1675.7 1811.4,1672.9 1812.9,1675.7 1814.4,1671.6 1815.9,1675.5 1817.4,1672.3 1818.9,1675.4 1820.4,1672.0 1821.9,1675.5 1823.4,1672.0 1824.9,1674.8 1826.4,1672.2 1827.9,1674.1 1829.4,1671.6 1830.9,1674.7 1832.4,1671.7 1833.9,1675.1 1835.4,1672.4 1836.9,1674.7 1838.4,1672.4 1839.9,1675.2 1841.4,1671.7 1842.9,1674.1 1844.4,1671.0 1845.9,1673.8 1847.4,1671.5 1848.9,1674.2 1850.4,1672.3 1851.9,1675.0 1853.4,1672.5 1854.9,1675.8 1856.4,1673.3 1857.9,1675.6 1859.4,1672.7 1860.9,1675.3 1862.4,1672.0 1863.9,1676.3 1865.4,1672.8 1866.9,1675.5 1868.4,1671.8 1869.9,1674.8 1871.4,1670.9 1872.9,1674.2 1874.4,1671.4 1875.9,1674.9 1877.4,1671.9 1878.9,1674.4 1880.4,1671.3 1881.9,1674.9 1883.4,1672.3 1884.9,1675.3 1886.4,1673.0 1887.9,1674.5 1889.4,1671.6 1890.9,1674.1 1892.4,1671.1 1893.9,1675.0 1895.4,1673.0 1896.9,1675.3 1898.4,1672.9 1899.9,1674.6 1901.4,1671.6 1902.9,1674.4 1904.4,1671.6 1905.9,1674.7 1907.4,1672.7 1908.9,1676.2 1910.4,1672.9 1911.9,1676.7 1913.4,1673.1 1914.9,1675.9 1916.4,1673.1 1917.9,1674.7 1919.4,1672.1" fill="none" stroke="#7B4C4C" stroke-width="9.3" stroke-linejoin="round" stroke-linecap="butt"/>
<rect x="480.8" y="1097.0" width="10.5" height="640.2" fill="#000"/>
<rect x="480.3" y="1727.7" width="1445.7" height="9.5" fill="#000"/>
<rect x="468.8" y="1158.9" width="17.2" height="9.4" fill="#000"/>
<rect x="468.8" y="1412.1" width="17.2" height="9.4" fill="#000"/>
<rect x="468.8" y="1665.3" width="17.2" height="9.4" fill="#000"/>
<rect x="477.2" y="1286.5" width="8.8" height="8.0" fill="#000"/>
<rect x="477.2" y="1539.2" width="8.8" height="8.0" fill="#000"/>
<rect x="548.2" y="1732.4" width="10.6" height="14.2" fill="#000"/>
<rect x="890.2" y="1732.4" width="10.6" height="14.2" fill="#000"/>
<rect x="1232.2" y="1732.4" width="10.6" height="14.2" fill="#000"/>
<rect x="1574.2" y="1732.4" width="10.6" height="14.2" fill="#000"/>
<rect x="1916.2" y="1732.4" width="10.6" height="14.2" fill="#000"/>
<rect x="719.5" y="1732.4" width="10.0" height="7.8" fill="#000"/>
<rect x="1061.5" y="1732.4" width="10.0" height="7.8" fill="#000"/>
<rect x="1403.5" y="1732.4" width="10.0" height="7.8" fill="#000"/>
<rect x="1745.5" y="1732.4" width="10.0" height="7.8" fill="#000"/>
<text transform="translate(459.0,1183.1) scale(1.155,1)" font-size="63.2" text-anchor="end">800</text>
<text transform="translate(459.0,1436.3) scale(1.155,1)" font-size="63.2" text-anchor="end">400</text>
<text transform="translate(459.0,1689.5) scale(1.155,1)" font-size="63.2" text-anchor="end">0</text>
<text transform="translate(306.0,1417.0) scale(1.21,1) rotate(-90)" font-size="82" text-anchor="middle">pA</text>
<text transform="translate(553.8,1820.8) scale(1.155,1)" font-size="84.5" text-anchor="middle">0</text>
<text transform="translate(894.5,1820.8) scale(1.155,1)" font-size="84.5" text-anchor="middle">1000</text>
<text transform="translate(1235.6,1820.8) scale(1.155,1)" font-size="84.5" text-anchor="middle">2000</text>
<text transform="translate(1577.5,1820.8) scale(1.155,1)" font-size="84.5" text-anchor="middle">3000</text>
<text transform="translate(1918.0,1820.8) scale(1.155,1)" font-size="84.5" text-anchor="middle">4000</text>
<text transform="translate(1203.7,1893.5) scale(1.22,1)" font-size="80" text-anchor="middle">msec</text>
<text transform="translate(1510.5,1388.3) scale(1.175,1)" font-size="83">1 <tspan font-family="Liberation Serif, serif" font-size="82">μ</tspan>M PT</text>
<polyline points="486.0,2363.2 487.5,2360.7 489.0,2363.1 490.5,2360.6 492.0,2362.9 493.5,2358.5 495.0,2362.1 496.5,2358.7 498.0,2362.2 499.5,2359.5 501.0,2361.8 502.5,2359.5 504.0,2362.9 505.5,2359.2 507.0,2362.1 508.5,2359.7 510.0,2362.3 511.5,2360.3 513.0,2362.6 514.5,2360.2 516.0,2363.0 517.5,2359.3 519.0,2362.8 520.5,2359.7 522.0,2362.7 523.5,2359.8 525.0,2362.7 526.5,2359.5 528.0,2363.3 529.5,2360.1 531.0,2363.0 532.5,2359.4 534.0,2362.8 535.5,2359.5 537.0,2362.7 538.5,2360.0 540.0,2362.6 541.5,2361.0 543.0,2363.6 544.5,2360.7 546.0,2363.1 547.5,2360.3 549.0,2363.1 550.5,2360.8 552.0,2363.8 553.5,2361.4 557.7,2361.1 557.7,2431.7 558.3,2431.7 558.3,2365.6 559.5,2362.9 561.0,2357.6 562.5,2358.7 564.0,2354.5 565.5,2357.4 567.0,2352.9 568.5,2356.8 570.0,2352.5 571.5,2355.6 573.0,2351.5 574.5,2354.3 576.0,2350.4 577.5,2352.6 579.0,2348.4 580.5,2350.0 582.0,2345.1 583.5,2347.1 585.0,2340.4 586.5,2343.1 588.0,2336.4 589.5,2337.8 591.0,2330.1 592.5,2330.6 594.0,2322.6 595.5,2323.5 597.0,2314.2 598.5,2314.3 600.0,2304.6 601.5,2303.6 603.0,2292.1 604.5,2286.9 606.0,2274.8 607.5,2269.7 609.0,2252.8 610.5,2247.9 612.0,2229.2 613.5,2222.8 615.0,2204.7 616.5,2196.0 618.0,2177.0 619.5,2171.8 621.0,2159.3 622.5,2155.7 624.0,2142.0 625.5,2141.9 626.6,2133.7 628.5,2147.7 630.0,2150.4 631.5,2166.5 633.0,2171.0 634.5,2188.6 636.0,2196.0 637.5,2214.5 639.0,2220.4 640.5,2237.7 642.0,2243.2 643.5,2258.2 645.0,2262.8 646.5,2276.1 648.0,2280.3 649.5,2294.9 651.0,2297.1 652.5,2310.0 654.0,2313.3 655.5,2324.0 657.0,2325.9 658.5,2334.4 660.0,2337.3 661.5,2346.1 663.0,2345.6 664.5,2352.4 666.0,2351.2 667.5,2357.0 669.0,2356.3 670.5,2361.6 672.0,2360.1 673.5,2364.4 675.0,2362.4 676.5,2366.7 678.0,2365.0 679.5,2369.0 681.0,2366.3 682.5,2370.2 684.0,2368.3 685.5,2370.3 687.0,2368.7 688.5,2371.6 690.0,2368.7 691.5,2372.2 692.8,2370.4 693.6,2296.5 694.2,2296.5 694.6,2361.1 695.8,2361.5 697.3,2359.7 698.8,2363.4 700.3,2360.3 701.8,2363.4 703.3,2360.6 704.8,2361.9 706.3,2359.7 707.8,2362.6 709.3,2359.3 710.8,2363.0 712.3,2360.0 713.8,2362.6 715.3,2359.8 716.8,2362.4 718.3,2359.7 719.8,2362.2 721.3,2360.4 722.8,2363.3 724.3,2361.3 725.8,2364.1 727.3,2360.4 728.8,2362.6 730.3,2359.9 731.8,2363.0 733.3,2360.8 734.8,2363.8 736.3,2359.0 737.8,2362.2 739.3,2359.5 740.8,2362.5 742.3,2359.7 743.8,2362.7 745.3,2360.5 746.8,2361.8 748.3,2359.2 749.8,2362.0 751.3,2358.4 752.8,2361.7 754.3,2359.9 755.8,2362.5 757.3,2359.1 758.8,2362.0 760.3,2359.1 761.8,2362.5 763.3,2359.4 764.8,2362.1 766.3,2358.5 767.8,2361.4 769.3,2358.4 770.8,2361.8 772.3,2359.7 773.8,2362.9 775.3,2360.6 776.8,2362.6 778.3,2359.8 779.8,2362.1 781.3,2360.0 782.8,2363.6 784.3,2360.0 785.8,2363.2 787.3,2360.3 788.8,2362.4 790.3,2360.3 791.8,2362.8 793.3,2360.9 794.8,2363.7 796.3,2359.3 797.8,2362.6 799.3,2359.1 800.8,2362.0 802.3,2359.7 803.8,2363.3 805.3,2359.8 806.8,2363.4 808.3,2360.8 809.8,2363.4 811.3,2360.4 812.8,2362.9 814.3,2359.9 815.8,2362.4 817.3,2359.3 818.8,2362.8 820.3,2359.6 821.8,2362.1 823.3,2359.8 824.8,2362.2 826.3,2359.1 827.8,2362.7 829.3,2360.0 830.8,2362.8 832.3,2360.8 833.8,2363.3 835.3,2360.1 836.8,2363.3 838.3,2360.2 839.8,2363.4 841.3,2360.9 842.8,2364.0 844.3,2361.0 845.8,2363.8 847.3,2361.1 848.8,2363.3 850.3,2361.1 851.8,2363.1 853.3,2360.5 854.8,2362.3 856.3,2359.5 857.8,2362.3 859.3,2359.7 860.8,2362.8 862.3,2360.2 863.8,2363.1 865.3,2360.5 866.8,2363.3 868.3,2359.6 869.8,2363.0 871.3,2360.3 872.8,2363.7 874.3,2360.4 875.8,2363.7 877.3,2360.2 878.8,2362.6 880.3,2360.3 881.8,2363.2 883.3,2359.4 884.8,2362.7 886.3,2359.9 887.8,2363.2 889.3,2360.2 890.8,2363.3 892.3,2360.5 893.8,2362.3 895.3,2358.8 896.8,2362.7 898.3,2358.8 899.8,2361.7 901.3,2359.3 902.8,2360.9 904.3,2359.0 905.8,2361.5 907.3,2357.9 908.8,2361.6 910.3,2359.2 911.8,2362.7 913.3,2360.6 914.8,2363.0 916.3,2360.3 917.8,2363.5 919.3,2360.6 920.8,2363.1 922.3,2359.6 923.8,2361.3 925.3,2359.1 926.8,2362.2 928.3,2359.5 929.8,2362.8 931.3,2360.1 932.8,2362.3 934.3,2359.5 935.8,2361.6 937.3,2359.2 938.8,2362.1 940.3,2359.2 941.8,2361.9 943.3,2359.2 944.8,2362.1 946.3,2360.2 947.8,2362.8 949.3,2360.0 950.8,2363.8 952.3,2360.7 953.8,2363.7 955.3,2359.6 956.8,2362.5 958.3,2359.6 959.8,2361.7 961.3,2358.8 962.8,2361.5 964.3,2358.3 965.8,2361.1 967.3,2358.9 968.8,2361.9 970.3,2359.2 971.8,2361.4 973.3,2358.9 974.8,2361.2 976.3,2359.9 977.8,2362.4 979.3,2360.2 980.8,2362.5 982.3,2359.1 983.8,2362.5 985.3,2359.7 986.8,2363.5 988.3,2361.0 989.8,2362.4 991.3,2359.4 992.8,2362.5 994.3,2359.0 995.8,2361.0 997.3,2358.0 998.8,2361.1 1000.3,2358.3 1001.8,2362.2 1003.3,2359.4 1004.8,2362.4 1006.3,2359.4 1007.8,2362.5 1009.3,2360.5 1010.8,2362.2 1012.3,2359.5 1013.8,2362.2 1015.3,2359.8 1016.8,2363.3 1018.3,2360.2 1019.8,2362.7 1021.3,2359.1 1022.8,2362.4 1024.3,2359.2 1025.8,2361.6 1027.3,2359.9 1028.8,2362.5 1030.3,2360.2 1031.8,2363.0 1033.3,2359.8 1034.8,2361.4 1036.3,2358.0 1037.8,2362.1 1039.3,2359.5 1040.8,2362.4 1042.3,2359.5 1043.8,2362.5 1045.3,2360.0 1046.8,2362.6 1048.3,2358.9 1049.8,2362.1 1051.3,2359.2 1052.8,2362.4 1054.3,2359.8 1055.8,2362.9 1057.3,2360.0 1058.8,2362.2 1060.3,2359.4 1061.8,2361.9 1063.3,2359.3 1064.8,2361.8 1066.3,2360.0 1067.8,2362.6 1069.3,2359.7 1070.8,2362.5 1072.3,2360.2 1073.8,2363.4 1075.3,2359.4 1076.8,2363.0 1078.3,2360.1 1079.8,2362.6 1081.3,2360.0 1082.8,2362.3 1084.3,2359.6 1085.8,2362.7 1087.3,2358.8 1088.8,2362.6 1090.3,2359.4 1091.8,2363.2 1093.3,2359.5 1094.8,2362.0 1096.3,2359.6 1097.8,2362.1 1099.3,2359.1 1100.8,2360.9 1102.3,2358.2 1103.8,2361.1 1105.3,2358.7 1106.8,2362.0 1108.3,2359.4 1109.8,2362.6 1111.3,2359.7 1112.8,2362.8 1114.3,2359.2 1115.8,2362.6 1117.3,2360.0 1118.8,2362.6 1120.3,2360.2 1121.8,2362.9 1123.3,2361.6 1124.8,2364.0 1126.3,2360.8 1127.8,2363.8 1129.3,2360.6 1130.8,2363.1 1132.3,2360.4 1133.8,2362.5 1135.3,2359.5 1136.8,2362.5 1138.3,2359.8 1139.8,2362.3 1141.3,2359.8 1142.8,2362.4 1144.3,2359.5 1145.8,2362.5 1147.3,2359.1 1148.8,2362.0 1150.3,2359.0 1151.8,2361.8 1153.3,2359.6 1154.8,2362.5 1156.3,2359.4 1157.8,2362.7 1159.3,2359.8 1160.8,2363.1 1162.3,2359.7 1163.8,2362.2 1165.3,2359.7 1166.8,2362.2 1168.3,2359.7 1169.8,2363.6 1171.3,2360.4 1172.8,2363.7 1174.3,2359.8 1175.8,2363.1 1177.3,2359.6 1178.8,2361.8 1180.3,2359.5 1181.8,2362.0 1183.3,2360.0 1184.8,2362.2 1186.3,2359.1 1187.8,2363.0 1189.3,2359.2 1190.8,2362.6 1192.3,2361.3 1193.8,2363.6 1195.3,2360.2 1196.8,2363.3 1198.3,2359.4 1199.8,2362.6 1201.3,2358.7 1202.8,2362.1 1204.3,2359.9 1205.8,2362.7 1207.3,2360.5 1208.8,2363.3 1210.3,2360.3 1211.8,2363.9 1213.3,2360.3 1214.8,2363.0 1216.3,2360.4 1217.8,2361.9 1219.3,2359.5 1220.8,2362.4 1222.3,2359.7 1223.8,2362.7 1225.3,2359.5 1226.8,2363.0 1228.3,2359.6 1229.8,2362.9 1231.3,2360.6 1232.8,2362.6 1234.3,2358.9 1235.8,2361.4 1237.3,2358.7 1238.8,2362.3 1240.3,2359.3 1241.8,2362.2 1243.3,2359.1 1244.8,2362.0 1246.3,2359.6 1247.8,2361.8 1249.3,2358.3 1250.8,2360.7 1252.3,2358.0 1253.8,2361.9 1255.3,2358.8 1256.8,2362.5 1258.3,2359.1 1259.8,2362.9 1261.3,2359.8 1262.8,2362.7 1264.3,2360.0 1265.8,2363.4 1267.3,2360.7 1268.8,2362.6 1270.3,2359.6 1271.8,2362.5 1273.3,2359.8 1274.8,2362.4 1276.3,2360.1 1277.8,2361.7 1279.3,2358.9 1280.8,2361.8 1282.3,2360.1 1283.8,2363.4 1285.3,2359.7 1286.8,2362.9 1288.3,2359.6 1289.8,2361.9 1291.3,2359.0 1292.8,2361.8 1294.3,2359.1 1295.8,2362.0 1297.3,2359.8 1298.8,2363.0 1300.3,2359.9 1301.8,2362.4 1303.3,2359.9 1304.8,2362.2 1306.3,2360.1 1307.8,2363.2 1309.3,2360.4 1310.8,2363.2 1312.3,2360.1 1313.8,2362.2 1315.3,2358.9 1316.8,2361.3 1318.3,2357.8 1319.8,2361.1 1321.3,2358.1 1322.8,2361.1 1324.3,2358.9 1325.8,2362.3 1327.3,2359.0 1328.8,2362.9 1330.3,2360.2 1331.8,2363.3 1333.3,2360.4 1334.8,2363.3 1336.3,2359.7 1337.8,2362.6 1339.3,2359.0 1340.8,2362.6 1342.3,2359.7 1343.8,2362.0 1345.3,2359.1 1346.8,2361.7 1348.3,2358.8 1349.8,2362.1 1351.3,2360.1 1352.8,2362.6 1354.3,2357.9 1355.8,2360.9 1357.3,2357.6 1358.8,2361.1 1360.3,2358.8 1361.8,2362.8 1363.3,2359.0 1364.8,2362.4 1366.3,2359.6 1367.8,2361.9 1369.3,2359.8 1370.8,2362.8 1372.3,2359.8 1373.8,2362.9 1375.3,2360.5 1376.8,2363.8 1378.3,2359.7 1379.8,2363.1 1381.3,2360.4 1382.8,2362.8 1384.3,2359.5 1385.8,2362.8 1387.3,2359.4 1388.8,2362.7 1390.3,2361.0 1391.8,2363.1 1393.3,2360.0 1394.8,2363.0 1396.3,2360.0 1397.8,2363.8 1399.3,2360.1 1400.8,2363.5 1402.3,2360.1 1403.8,2362.7 1405.3,2360.9 1406.8,2362.8 1408.3,2360.3 1409.8,2362.5 1411.3,2358.9 1412.8,2362.5 1414.3,2359.6 1415.8,2362.7 1417.3,2361.1 1418.8,2364.3 1420.3,2360.5 1421.8,2363.1 1423.3,2359.4 1424.8,2362.5 1426.3,2359.2 1427.8,2362.6 1429.3,2359.4 1430.8,2362.2 1432.3,2359.6 1433.8,2362.2 1435.3,2358.6 1436.8,2362.1 1438.3,2359.6 1439.8,2362.4 1441.3,2360.0 1442.8,2363.2 1444.3,2359.6 1445.8,2362.6 1447.3,2359.0 1448.8,2361.9 1450.3,2358.8 1451.8,2362.3 1453.3,2358.6 1454.8,2362.5 1456.3,2359.2 1457.8,2362.6 1459.3,2359.2 1460.8,2361.4 1462.3,2358.9 1463.8,2361.5 1465.3,2358.8 1466.8,2362.3 1468.3,2360.1 1469.8,2363.5 1471.3,2360.8 1472.8,2363.3 1474.3,2361.1 1475.8,2363.1 1477.3,2359.3 1478.8,2362.7 1480.3,2359.6 1481.8,2362.5 1483.3,2359.8 1484.8,2361.7 1486.3,2359.2 1487.8,2361.8 1489.3,2359.2 1490.8,2362.6 1492.3,2359.4 1493.8,2363.1 1495.3,2360.2 1496.8,2362.0 1498.3,2359.2 1499.8,2362.0 1501.3,2358.8 1502.8,2362.5 1504.3,2359.8 1505.8,2362.6 1507.3,2360.1 1508.8,2363.4 1510.3,2360.4 1511.8,2362.5 1513.3,2359.1 1514.8,2361.7 1516.3,2358.8 1517.8,2362.0 1519.3,2359.2 1520.8,2362.6 1522.3,2358.9 1523.8,2361.7 1525.3,2358.8 1526.8,2362.4 1528.3,2359.9 1529.8,2362.1 1531.3,2359.2 1532.8,2361.6 1534.3,2358.2 1535.8,2361.6 1537.3,2358.8 1538.8,2362.3 1540.3,2359.1 1541.8,2361.7 1543.3,2360.0 1544.8,2362.3 1546.3,2359.3 1547.8,2363.1 1549.3,2360.5 1550.8,2362.9 1552.3,2359.2 1553.8,2362.4 1555.3,2359.9 1556.8,2363.2 1558.3,2359.7 1559.8,2362.4 1561.3,2359.6 1562.8,2362.4 1564.3,2359.9 1565.8,2363.1 1567.3,2359.3 1568.8,2362.1 1570.3,2359.7 1571.8,2362.1 1573.3,2359.8 1574.8,2362.7 1576.3,2360.6 1577.8,2362.9 1579.3,2360.6 1580.8,2364.0 1582.3,2360.4 1583.8,2362.8 1585.3,2359.3 1586.8,2361.2 1588.3,2359.5 1589.8,2362.5 1591.3,2359.7 1592.8,2363.3 1594.3,2359.7 1595.8,2361.4 1597.3,2358.8 1598.8,2361.6 1600.3,2359.7 1601.8,2362.7 1603.3,2360.4 1604.8,2362.8 1606.3,2360.4 1607.8,2363.4 1609.3,2360.1 1610.8,2362.5 1612.3,2360.4 1613.8,2362.9 1615.3,2360.3 1616.8,2362.6 1618.3,2360.0 1619.8,2362.1 1621.3,2359.2 1622.8,2362.9 1624.3,2359.6 1625.8,2362.3 1627.3,2359.4 1628.8,2362.9 1630.3,2360.2 1631.8,2363.9 1633.3,2360.0 1634.8,2363.6 1636.3,2360.4 1637.8,2363.8 1639.3,2361.2 1640.8,2363.6 1642.3,2360.1 1643.8,2362.7 1645.3,2359.5 1646.8,2361.7 1648.3,2359.1 1649.8,2362.1 1651.3,2359.0 1652.8,2362.6 1654.3,2359.4 1655.8,2363.3 1657.3,2359.2 1658.8,2362.6 1660.3,2359.8 1661.8,2362.9 1663.3,2360.5 1664.8,2363.3 1666.3,2360.3 1667.8,2363.2 1669.3,2359.7 1670.8,2362.9 1672.3,2359.9 1673.8,2362.8 1675.3,2359.6 1676.8,2361.8 1678.3,2359.1 1679.8,2362.4 1681.3,2358.9 1682.8,2363.2 1684.3,2360.1 1685.8,2362.7 1687.3,2360.5 1688.8,2362.9 1690.3,2360.3 1691.8,2363.2 1693.3,2360.1 1694.8,2361.9 1696.3,2359.8 1697.8,2362.6 1699.3,2359.9 1700.8,2363.0 1702.3,2359.0 1703.8,2362.5 1705.3,2359.3 1706.8,2363.0 1708.3,2360.7 1709.8,2362.5 1711.3,2359.2 1712.8,2362.2 1714.3,2359.5 1715.8,2362.9 1717.3,2359.8 1718.8,2363.0 1720.3,2360.0 1721.8,2362.6 1723.3,2360.2 1724.8,2362.8 1726.3,2359.5 1727.8,2362.8 1729.3,2359.1 1730.8,2362.3 1732.3,2359.3 1733.8,2361.8 1735.3,2359.3 1736.8,2362.7 1738.3,2360.4 1739.8,2363.4 1741.3,2359.9 1742.8,2362.7 1744.3,2359.4 1745.8,2361.9 1747.3,2359.6 1748.8,2363.7 1750.3,2359.6 1751.8,2363.6 1753.3,2359.8 1754.8,2362.7 1756.3,2360.0 1757.8,2362.3 1759.3,2359.1 1760.8,2362.0 1762.3,2358.4 1763.8,2361.8 1765.3,2359.9 1766.8,2363.6 1768.3,2359.5 1769.8,2362.3 1771.3,2358.9 1772.8,2361.6 1774.3,2360.3 1775.8,2363.1 1777.3,2359.9 1778.8,2363.9 1780.3,2359.6 1781.8,2362.6 1783.3,2359.1 1784.8,2361.6 1786.3,2359.3 1787.8,2362.7 1789.3,2359.3 1790.8,2362.8 1792.3,2359.9 1793.8,2363.2 1795.3,2359.5 1796.8,2363.2 1798.3,2359.6 1799.8,2363.0 1801.3,2359.9 1802.8,2362.7 1804.3,2359.8 1805.8,2362.7 1807.3,2359.7 1808.8,2362.0 1810.3,2359.2 1811.8,2361.9 1813.3,2359.6 1814.8,2362.4 1816.3,2359.4 1817.8,2362.0 1819.3,2359.6 1820.8,2362.3 1822.3,2359.5 1823.8,2362.5 1825.3,2360.9 1826.8,2364.1 1828.3,2360.7 1829.8,2364.2 1831.3,2360.6 1832.8,2362.8 1834.3,2360.8 1835.8,2362.9 1837.3,2360.5 1838.8,2362.9 1840.3,2359.7 1841.8,2362.5 1843.3,2359.1 1844.8,2362.5 1846.3,2359.6 1847.8,2360.8 1849.3,2358.7 1850.8,2361.7 1852.3,2359.2 1853.8,2363.4 1855.3,2360.9 1856.8,2363.9 1858.3,2360.7 1859.8,2363.2 1861.3,2360.7 1862.8,2362.9 1864.3,2360.4 1865.8,2362.0 1867.3,2359.5 1868.8,2362.2 1870.3,2358.8 1871.8,2362.7 1873.3,2359.4 1874.8,2363.3 1876.3,2360.2 1877.8,2363.0 1879.3,2358.9 1880.8,2361.9 1882.3,2359.3 1883.8,2362.7 1885.3,2359.8 1886.8,2362.0 1888.3,2359.2 1889.8,2362.2 1891.3,2359.4 1892.8,2362.2 1894.3,2359.5 1895.8,2362.3 1897.3,2359.2 1898.8,2362.0 1900.3,2359.0 1901.8,2361.9 1903.3,2359.1 1904.8,2361.9 1906.3,2359.9 1907.8,2363.6 1909.3,2360.7 1910.8,2363.3 1912.3,2360.2 1913.8,2362.6 1915.3,2359.6 1916.8,2363.3 1918.3,2360.3 1919.8,2363.6" fill="none" stroke="#505050" stroke-width="9.3" stroke-linejoin="round" stroke-linecap="butt"/>
<polyline points="486.0,2363.5 487.5,2360.5 489.0,2362.3 490.5,2358.8 492.0,2361.4 493.5,2358.3 495.0,2361.3 496.5,2359.1 498.0,2361.5 499.5,2359.1 501.0,2362.2 502.5,2359.8 504.0,2363.2 505.5,2359.9 507.0,2362.8 508.5,2359.7 510.0,2362.7 511.5,2359.4 513.0,2362.2 514.5,2359.4 516.0,2361.8 517.5,2359.0 519.0,2361.1 520.5,2358.8 522.0,2362.7 523.5,2360.0 525.0,2363.1 526.5,2360.3 528.0,2363.1 529.5,2360.4 531.0,2363.1 532.5,2360.1 534.0,2363.3 535.5,2359.9 537.0,2362.8 538.5,2359.6 540.0,2361.7 541.5,2359.8 543.0,2362.0 544.5,2358.4 546.0,2362.4 547.5,2359.3 549.0,2362.5 550.5,2360.4 552.0,2363.3 553.5,2360.1 557.7,2361.1 557.7,2431.7 558.3,2431.7 558.3,2365.6 559.5,2364.9 561.0,2360.2 562.5,2362.1 564.0,2357.6 565.5,2361.6 567.0,2359.2 568.5,2361.6 570.0,2358.2 571.5,2361.5 573.0,2357.7 574.5,2360.4 576.0,2358.7 577.5,2360.3 579.0,2357.8 580.5,2360.8 582.0,2355.4 583.5,2359.5 585.0,2356.2 586.5,2358.4 588.0,2355.4 589.5,2358.5 591.0,2355.3 592.5,2358.7 594.0,2354.9 595.5,2357.9 597.0,2353.0 598.5,2356.5 600.0,2351.9 601.5,2353.7 603.0,2349.6 604.5,2352.1 606.0,2347.8 607.5,2350.7 609.0,2345.3 610.5,2346.6 612.0,2340.1 613.5,2341.4 615.0,2335.1 616.5,2336.9 618.0,2330.1 619.5,2332.9 621.0,2327.4 622.5,2330.8 624.0,2325.3 625.5,2328.0 627.0,2323.5 628.5,2326.7 630.0,2322.4 631.5,2324.5 633.0,2319.9 634.5,2321.8 636.0,2317.3 637.5,2319.6 639.0,2313.1 640.5,2317.0 642.0,2311.7 643.5,2312.1 645.0,2305.5 646.5,2305.2 648.0,2297.0 649.5,2296.8 651.0,2286.4 652.5,2286.5 654.0,2278.2 655.5,2278.3 657.0,2269.6 658.5,2271.1 660.0,2260.8 661.5,2260.3 663.0,2249.3 664.5,2247.9 666.0,2236.3 667.5,2236.1 669.0,2226.5 670.5,2227.9 672.0,2217.3 673.5,2215.6 675.0,2204.5 676.5,2203.1 678.0,2191.9 679.5,2191.0 681.0,2183.5 682.5,2184.3 684.0,2173.7 685.5,2176.5 687.0,2166.3 688.5,2168.0 690.0,2161.2 691.5,2163.7 693.0,2156.4 694.5,2159.2 696.3,2153.9 697.5,2158.6 699.0,2156.6 700.5,2165.8 702.0,2165.2 703.5,2176.9 705.0,2175.5 706.5,2187.5 708.0,2187.7 709.5,2199.9 711.0,2203.0 712.5,2213.7 714.0,2215.0 715.5,2225.9 717.0,2227.0 718.5,2236.9 720.0,2234.6 721.5,2244.4 723.0,2243.7 724.5,2254.2 726.0,2255.4 727.5,2264.2 729.0,2264.5 730.5,2275.5 732.0,2276.0 733.5,2284.5 735.0,2284.4 736.5,2294.4 738.0,2294.4 739.5,2304.4 741.0,2304.8 742.5,2313.3 744.0,2313.1 745.5,2320.9 747.0,2319.7 748.5,2328.0 750.0,2326.6 751.5,2334.5 753.0,2332.7 754.5,2340.6 756.0,2339.6 757.5,2345.7 759.0,2343.8 760.5,2349.1 762.0,2347.1 763.5,2352.6 765.0,2352.0 766.5,2356.4 768.0,2355.6 769.5,2359.9 771.0,2357.4 772.5,2361.9 774.0,2359.5 775.5,2363.5 777.0,2362.2 778.5,2365.6 780.0,2363.0 781.5,2367.1 783.0,2364.2 784.5,2366.9 786.0,2365.2 787.5,2368.7 789.0,2366.1 790.5,2370.1 792.0,2366.3 793.5,2368.6 795.0,2366.0 796.5,2369.1 798.0,2366.3 799.5,2369.4 801.0,2367.1 802.5,2369.8 804.0,2366.9 805.5,2369.8 807.0,2367.1 808.5,2370.6 810.0,2367.3 811.5,2371.0 813.0,2368.2 814.5,2371.1 816.0,2369.3 817.5,2371.5 819.0,2368.9 820.5,2371.5 822.0,2367.7 823.5,2370.6 825.0,2366.7 826.5,2369.2 828.0,2366.7 829.6,2369.2 830.4,2309.2 831.0,2309.2 831.4,2361.1 832.6,2361.8 834.1,2359.1 835.6,2362.1 837.1,2359.8 838.6,2361.8 840.1,2358.5 841.6,2361.9 843.1,2358.7 844.6,2361.6 846.1,2358.4 847.6,2361.0 849.1,2358.0 850.6,2361.4 852.1,2358.8 853.6,2362.3 855.1,2359.3 856.6,2362.5 858.1,2359.3 859.6,2361.4 861.1,2359.7 862.6,2362.4 864.1,2359.5 865.6,2363.6 867.1,2358.9 868.6,2363.2 870.1,2360.1 871.6,2362.6 873.1,2360.2 874.6,2362.3 876.1,2360.3 877.6,2363.6 879.1,2361.2 880.6,2364.3 882.1,2359.7 883.6,2362.7 885.1,2359.5 886.6,2361.7 888.1,2359.7 889.6,2362.8 891.1,2359.6 892.6,2363.4 894.1,2361.2 895.6,2362.7 897.1,2359.5 898.6,2362.4 900.1,2359.2 901.6,2362.6 903.1,2360.6 904.6,2362.9 906.1,2359.6 907.6,2362.3 909.1,2358.4 910.6,2361.8 912.1,2359.3 913.6,2361.7 915.1,2359.2 916.6,2362.4 918.1,2358.7 919.6,2362.4 921.1,2359.8 922.6,2361.9 924.1,2360.1 925.6,2361.9 927.1,2360.1 928.6,2363.2 930.1,2360.1 931.6,2362.2 933.1,2358.9 934.6,2361.8 936.1,2359.4 937.6,2363.4 939.1,2360.0 940.6,2362.8 942.1,2360.1 943.6,2363.3 945.1,2359.7 946.6,2362.0 948.1,2359.3 949.6,2360.8 951.1,2358.8 952.6,2361.2 954.1,2358.1 955.6,2361.9 957.1,2358.6 958.6,2361.4 960.1,2359.2 961.6,2362.8 963.1,2359.7 964.6,2362.7 966.1,2360.8 967.6,2363.4 969.1,2360.3 970.6,2363.3 972.1,2359.8 973.6,2363.3 975.1,2360.0 976.6,2362.0 978.1,2359.5 979.6,2362.9 981.1,2359.9 982.6,2362.5 984.1,2358.7 985.6,2362.4 987.1,2359.5 988.6,2362.1 990.1,2359.9 991.6,2362.4 993.1,2359.7 994.6,2363.0 996.1,2360.2 997.6,2362.6 999.1,2360.6 1000.6,2363.7 1002.1,2360.0 1003.6,2362.8 1005.1,2360.2 1006.6,2362.2 1008.1,2359.5 1009.6,2362.4 1011.1,2360.1 1012.6,2363.0 1014.1,2360.4 1015.6,2363.5 1017.1,2360.8 1018.6,2363.5 1020.1,2360.5 1021.6,2364.1 1023.1,2360.0 1024.6,2362.6 1026.1,2359.9 1027.6,2362.6 1029.1,2358.7 1030.6,2362.6 1032.1,2360.1 1033.6,2363.6 1035.1,2360.1 1036.6,2363.3 1038.1,2360.5 1039.6,2363.9 1041.1,2360.8 1042.6,2363.4 1044.1,2360.2 1045.6,2363.2 1047.1,2361.0 1048.6,2363.9 1050.1,2361.0 1051.6,2363.3 1053.1,2359.9 1054.6,2361.9 1056.1,2358.8 1057.6,2361.9 1059.1,2360.1 1060.6,2362.8 1062.1,2360.3 1063.6,2362.9 1065.1,2358.7 1066.6,2362.4 1068.1,2360.3 1069.6,2362.6 1071.1,2359.5 1072.6,2362.1 1074.1,2358.9 1075.6,2361.5 1077.1,2359.3 1078.6,2362.1 1080.1,2359.2 1081.6,2362.1 1083.1,2359.4 1084.6,2361.1 1086.1,2358.6 1087.6,2361.0 1089.1,2357.9 1090.6,2362.3 1092.1,2359.0 1093.6,2362.9 1095.1,2359.0 1096.6,2362.1 1098.1,2358.9 1099.6,2362.8 1101.1,2359.6 1102.6,2362.3 1104.1,2358.4 1105.6,2361.7 1107.1,2359.1 1108.6,2361.8 1110.1,2359.1 1111.6,2362.3 1113.1,2360.3 1114.6,2363.6 1116.1,2359.9 1117.6,2363.2 1119.1,2360.4 1120.6,2361.9 1122.1,2359.5 1123.6,2362.2 1125.1,2359.2 1126.6,2362.2 1128.1,2360.1 1129.6,2363.3 1131.1,2359.3 1132.6,2361.7 1134.1,2359.3 1135.6,2361.4 1137.1,2359.0 1138.6,2361.1 1140.1,2359.5 1141.6,2363.0 1143.1,2359.6 1144.6,2363.6 1146.1,2361.2 1147.6,2363.2 1149.1,2360.4 1150.6,2362.2 1152.1,2358.9 1153.6,2360.8 1155.1,2358.2 1156.6,2362.3 1158.1,2359.5 1159.6,2363.0 1161.1,2360.8 1162.6,2361.9 1164.1,2358.7 1165.6,2362.9 1167.1,2358.8 1168.6,2362.3 1170.1,2359.2 1171.6,2360.7 1173.1,2358.8 1174.6,2362.2 1176.1,2359.6 1177.6,2363.3 1179.1,2359.1 1180.6,2362.2 1182.1,2359.6 1183.6,2362.7 1185.1,2360.2 1186.6,2363.4 1188.1,2360.3 1189.6,2363.4 1191.1,2359.5 1192.6,2363.0 1194.1,2360.7 1195.6,2363.4 1197.1,2360.9 1198.6,2363.8 1200.1,2360.0 1201.6,2362.7 1203.1,2360.0 1204.6,2362.8 1206.1,2359.1 1207.6,2361.6 1209.1,2359.8 1210.6,2362.6 1212.1,2359.6 1213.6,2362.7 1215.1,2359.9 1216.6,2361.8 1218.1,2359.1 1219.6,2363.1 1221.1,2359.5 1222.6,2363.0 1224.1,2360.1 1225.6,2362.8 1227.1,2359.8 1228.6,2362.8 1230.1,2360.3 1231.6,2363.5 1233.1,2360.5 1234.6,2364.0 1236.1,2360.4 1237.6,2362.7 1239.1,2359.8 1240.6,2362.4 1242.1,2359.1 1243.6,2363.0 1245.1,2359.9 1246.6,2362.2 1248.1,2359.6 1249.6,2362.8 1251.1,2360.3 1252.6,2363.9 1254.1,2360.3 1255.6,2363.6 1257.1,2359.8 1258.6,2362.3 1260.1,2358.9 1261.6,2362.5 1263.1,2358.9 1264.6,2362.7 1266.1,2360.4 1267.6,2363.3 1269.1,2360.3 1270.6,2362.4 1272.1,2358.9 1273.6,2362.0 1275.1,2358.3 1276.6,2361.7 1278.1,2358.5 1279.6,2361.4 1281.1,2359.5 1282.6,2361.9 1284.1,2358.6 1285.6,2362.4 1287.1,2360.0 1288.6,2363.0 1290.1,2360.6 1291.6,2362.5 1293.1,2359.6 1294.6,2361.7 1296.1,2359.2 1297.6,2362.5 1299.1,2359.2 1300.6,2361.9 1302.1,2360.0 1303.6,2362.3 1305.1,2359.2 1306.6,2363.3 1308.1,2359.3 1309.6,2362.2 1311.1,2359.4 1312.6,2362.4 1314.1,2359.3 1315.6,2363.0 1317.1,2359.5 1318.6,2362.3 1320.1,2359.9 1321.6,2362.3 1323.1,2359.2 1324.6,2362.3 1326.1,2359.3 1327.6,2362.2 1329.1,2359.4 1330.6,2362.1 1332.1,2359.5 1333.6,2362.7 1335.1,2359.7 1336.6,2362.9 1338.1,2360.3 1339.6,2363.4 1341.1,2360.0 1342.6,2362.6 1344.1,2360.3 1345.6,2363.4 1347.1,2360.6 1348.6,2363.5 1350.1,2359.8 1351.6,2362.4 1353.1,2359.6 1354.6,2363.2 1356.1,2361.4 1357.6,2364.5 1359.1,2360.7 1360.6,2363.0 1362.1,2359.5 1363.6,2361.8 1365.1,2358.9 1366.6,2362.1 1368.1,2359.6 1369.6,2361.9 1371.1,2359.8 1372.6,2363.6 1374.1,2359.9 1375.6,2362.3 1377.1,2360.0 1378.6,2361.7 1380.1,2359.5 1381.6,2363.3 1383.1,2361.1 1384.6,2363.4 1386.1,2360.7 1387.6,2363.6 1389.1,2360.2 1390.6,2363.3 1392.1,2360.3 1393.6,2362.8 1395.1,2360.2 1396.6,2362.9 1398.1,2359.9 1399.6,2362.9 1401.1,2359.5 1402.6,2361.9 1404.1,2358.5 1405.6,2362.0 1407.1,2359.1 1408.6,2361.7 1410.1,2357.7 1411.6,2361.3 1413.1,2358.5 1414.6,2361.3 1416.1,2359.5 1417.6,2362.7 1419.1,2359.8 1420.6,2362.9 1422.1,2360.3 1423.6,2362.1 1425.1,2359.2 1426.6,2362.3 1428.1,2359.9 1429.6,2363.0 1431.1,2359.5 1432.6,2362.5 1434.1,2359.0 1435.6,2362.4 1437.1,2359.1 1438.6,2362.9 1440.1,2360.1 1441.6,2362.7 1443.1,2358.7 1444.6,2361.7 1446.1,2359.6 1447.6,2362.5 1449.1,2358.8 1450.6,2362.8 1452.1,2359.0 1453.6,2362.7 1455.1,2360.0 1456.6,2362.2 1458.1,2359.0 1459.6,2362.1 1461.1,2358.7 1462.6,2362.3 1464.1,2360.1 1465.6,2363.3 1467.1,2360.5 1468.6,2362.8 1470.1,2360.4 1471.6,2363.6 1473.1,2360.5 1474.6,2363.6 1476.1,2358.5 1477.6,2362.0 1479.1,2358.6 1480.6,2361.7 1482.1,2359.7 1483.6,2363.0 1485.1,2360.9 1486.6,2364.2 1488.1,2361.0 1489.6,2362.8 1491.1,2359.2 1492.6,2361.7 1494.1,2359.4 1495.6,2361.7 1497.1,2359.2 1498.6,2362.3 1500.1,2359.0 1501.6,2362.7 1503.1,2359.6 1504.6,2362.1 1506.1,2359.4 1507.6,2361.5 1509.1,2359.5 1510.6,2362.0 1512.1,2359.0 1513.6,2362.4 1515.1,2358.5 1516.6,2361.7 1518.1,2359.7 1519.6,2361.7 1521.1,2359.9 1522.6,2362.9 1524.1,2359.2 1525.6,2361.8 1527.1,2359.1 1528.6,2362.0 1530.1,2359.0 1531.6,2362.5 1533.1,2359.7 1534.6,2362.8 1536.1,2360.1 1537.6,2363.1 1539.1,2359.4 1540.6,2362.7 1542.1,2359.2 1543.6,2361.2 1545.1,2359.1 1546.6,2361.9 1548.1,2358.8 1549.6,2362.6 1551.1,2359.1 1552.6,2361.8 1554.1,2359.6 1555.6,2361.8 1557.1,2360.2 1558.6,2363.5 1560.1,2361.2 1561.6,2363.4 1563.1,2360.5 1564.6,2364.1 1566.1,2360.7 1567.6,2363.5 1569.1,2359.3 1570.6,2361.9 1572.1,2359.0 1573.6,2361.4 1575.1,2359.8 1576.6,2363.2 1578.1,2359.9 1579.6,2363.3 1581.1,2360.1 1582.6,2362.9 1584.1,2360.1 1585.6,2362.8 1587.1,2360.1 1588.6,2362.2 1590.1,2358.6 1591.6,2362.3 1593.1,2359.6 1594.6,2363.0 1596.1,2359.9 1597.6,2361.8 1599.1,2359.5 1600.6,2361.8 1602.1,2359.3 1603.6,2362.1 1605.1,2360.2 1606.6,2363.0 1608.1,2360.3 1609.6,2363.7 1611.1,2360.5 1612.6,2363.2 1614.1,2360.2 1615.6,2363.0 1617.1,2359.5 1618.6,2362.8 1620.1,2360.4 1621.6,2362.7 1623.1,2361.2 1624.6,2364.4 1626.1,2361.0 1627.6,2364.5 1629.1,2361.0 1630.6,2363.8 1632.1,2360.7 1633.6,2362.7 1635.1,2360.3 1636.6,2362.5 1638.1,2359.7 1639.6,2363.0 1641.1,2360.6 1642.6,2363.0 1644.1,2360.5 1645.6,2363.3 1647.1,2358.7 1648.6,2362.3 1650.1,2358.7 1651.6,2361.4 1653.1,2358.6 1654.6,2361.9 1656.1,2359.2 1657.6,2363.0 1659.1,2358.9 1660.6,2362.1 1662.1,2358.9 1663.6,2363.1 1665.1,2360.5 1666.6,2364.1 1668.1,2360.5 1669.6,2362.2 1671.1,2358.7 1672.6,2362.3 1674.1,2359.5 1675.6,2362.5 1677.1,2360.0 1678.6,2363.1 1680.1,2359.6 1681.6,2361.7 1683.1,2359.4 1684.6,2363.5 1686.1,2361.0 1687.6,2363.9 1689.1,2360.0 1690.6,2362.6 1692.1,2360.2 1693.6,2363.4 1695.1,2359.7 1696.6,2363.2 1698.1,2359.7 1699.6,2362.4 1701.1,2360.3 1702.6,2363.1 1704.1,2360.0 1705.6,2363.1 1707.1,2360.2 1708.6,2362.7 1710.1,2359.7 1711.6,2362.2 1713.1,2359.0 1714.6,2361.7 1716.1,2358.0 1717.6,2360.5 1719.1,2358.4 1720.6,2361.5 1722.1,2359.3 1723.6,2362.3 1725.1,2360.6 1726.6,2362.9 1728.1,2360.1 1729.6,2362.3 1731.1,2359.5 1732.6,2362.6 1734.1,2359.7 1735.6,2362.6 1737.1,2359.9 1738.6,2362.2 1740.1,2359.5 1741.6,2362.1 1743.1,2359.2 1744.6,2362.9 1746.1,2360.1 1747.6,2362.9 1749.1,2360.0 1750.6,2362.0 1752.1,2359.2 1753.6,2362.6 1755.1,2360.1 1756.6,2363.2 1758.1,2360.4 1759.6,2362.8 1761.1,2360.0 1762.6,2362.7 1764.1,2359.5 1765.6,2362.8 1767.1,2359.1 1768.6,2362.6 1770.1,2359.5 1771.6,2363.2 1773.1,2359.8 1774.6,2362.0 1776.1,2359.1 1777.6,2361.6 1779.1,2359.7 1780.6,2363.0 1782.1,2360.3 1783.6,2362.8 1785.1,2360.5 1786.6,2363.2 1788.1,2359.7 1789.6,2362.0 1791.1,2359.3 1792.6,2361.6 1794.1,2359.7 1795.6,2363.3 1797.1,2360.7 1798.6,2362.6 1800.1,2359.7 1801.6,2361.5 1803.1,2358.3 1804.6,2361.5 1806.1,2357.9 1807.6,2361.5 1809.1,2359.1 1810.6,2362.1 1812.1,2359.6 1813.6,2362.6 1815.1,2360.3 1816.6,2362.5 1818.1,2359.8 1819.6,2363.6 1821.1,2360.9 1822.6,2363.1 1824.1,2360.3 1825.6,2362.9 1827.1,2359.7 1828.6,2362.5 1830.1,2359.3 1831.6,2362.4 1833.1,2359.1 1834.6,2361.8 1836.1,2359.4 1837.6,2362.5 1839.1,2359.0 1840.6,2362.2 1842.1,2359.2 1843.6,2361.6 1845.1,2359.6 1846.6,2362.3 1848.1,2359.4 1849.6,2362.7 1851.1,2359.8 1852.6,2362.0 1854.1,2358.7 1855.6,2361.9 1857.1,2359.0 1858.6,2362.3 1860.1,2359.1 1861.6,2361.7 1863.1,2359.8 1864.6,2363.2 1866.1,2359.7 1867.6,2362.6 1869.1,2358.8 1870.6,2361.5 1872.1,2359.0 1873.6,2361.5 1875.1,2358.9 1876.6,2362.4 1878.1,2358.8 1879.6,2362.3 1881.1,2359.3 1882.6,2362.0 1884.1,2359.6 1885.6,2363.5 1887.1,2360.3 1888.6,2362.0 1890.1,2359.1 1891.6,2362.4 1893.1,2359.1 1894.6,2362.6 1896.1,2359.7 1897.6,2363.3 1899.1,2359.4 1900.6,2362.2 1902.1,2359.6 1903.6,2362.5 1905.1,2360.5 1906.6,2362.5 1908.1,2359.5 1909.6,2362.5 1911.1,2359.8 1912.6,2362.9 1914.1,2359.4 1915.6,2363.2 1917.1,2360.3 1918.6,2363.0 1920.1,2359.9" fill="none" stroke="#EF4040" stroke-width="9.3" stroke-linejoin="round" stroke-linecap="butt"/>
<polyline points="486.0,2362.8 487.5,2358.9 489.0,2362.8 490.5,2358.7 492.0,2361.2 493.5,2359.6 495.0,2362.0 496.5,2358.8 498.0,2362.3 499.5,2358.1 501.0,2361.7 502.5,2359.2 504.0,2362.7 505.5,2360.8 507.0,2362.9 508.5,2359.5 510.0,2361.6 511.5,2358.8 513.0,2362.5 514.5,2359.3 516.0,2362.6 517.5,2359.6 519.0,2362.6 520.5,2360.2 522.0,2362.9 523.5,2359.1 525.0,2362.7 526.5,2360.1 528.0,2362.5 529.5,2359.9 531.0,2362.6 532.5,2360.3 534.0,2363.2 535.5,2359.6 537.0,2363.0 538.5,2359.7 540.0,2363.2 541.5,2360.6 543.0,2363.7 544.5,2359.7 546.0,2362.3 547.5,2359.1 549.0,2362.8 550.5,2360.1 552.0,2362.3 553.5,2359.7 557.7,2361.1 557.7,2431.7 558.3,2431.7 558.3,2365.6 559.5,2364.7 561.0,2359.9 562.5,2361.7 564.0,2358.6 565.5,2361.7 567.0,2357.5 568.5,2360.5 570.0,2358.3 571.5,2360.7 573.0,2357.7 574.5,2360.6 576.0,2356.9 577.5,2360.0 579.0,2358.1 580.5,2360.3 582.0,2357.4 583.5,2359.9 585.0,2357.6 586.5,2360.4 588.0,2357.4 589.5,2361.0 591.0,2356.9 592.5,2359.8 594.0,2357.2 595.5,2360.3 597.0,2358.1 598.5,2359.9 600.0,2357.7 601.5,2360.4 603.0,2356.4 604.5,2360.4 606.0,2357.4 607.5,2359.8 609.0,2358.6 610.5,2361.6 612.0,2358.0 613.5,2361.4 615.0,2357.2 616.5,2359.5 618.0,2356.2 619.5,2360.2 621.0,2357.9 622.5,2360.6 624.0,2357.8 625.5,2360.3 627.0,2355.9 628.5,2358.2 630.0,2352.2 631.5,2354.0 633.0,2349.3 634.5,2351.7 636.0,2348.2 637.5,2351.2 639.0,2346.6 640.5,2348.4 642.0,2345.6 643.5,2348.5 645.0,2344.3 646.5,2346.7 648.0,2340.3 649.5,2344.5 651.0,2338.6 652.5,2342.7 654.0,2338.3 655.5,2339.8 657.0,2335.8 658.5,2336.8 660.0,2332.8 661.5,2336.7 663.0,2331.6 664.5,2333.6 666.0,2328.9 667.5,2331.8 669.0,2327.9 670.5,2331.2 672.0,2326.3 673.5,2328.9 675.0,2322.7 676.5,2324.7 678.0,2318.2 679.5,2321.0 681.0,2316.4 682.5,2318.9 684.0,2312.7 685.5,2314.7 687.0,2306.7 688.5,2310.6 690.0,2303.0 691.5,2306.5 693.0,2299.1 694.5,2298.6 696.0,2293.0 697.5,2293.4 699.0,2286.4 700.5,2290.1 702.0,2281.8 703.5,2284.7 705.0,2276.5 706.5,2276.8 708.0,2272.6 709.5,2274.0 711.0,2265.8 712.5,2268.4 714.0,2257.4 715.5,2261.4 717.0,2253.1 718.5,2257.7 720.0,2250.5 721.5,2252.2 723.0,2244.3 724.5,2247.0 726.0,2238.5 727.5,2240.3 729.0,2229.8 730.5,2229.4 732.0,2219.4 733.5,2219.4 735.0,2211.0 736.5,2214.1 738.0,2204.8 739.5,2206.5 741.0,2196.9 742.5,2197.5 744.0,2190.2 745.5,2191.9 747.0,2184.9 748.5,2189.8 750.0,2182.2 751.5,2184.9 753.0,2179.0 754.5,2181.7 756.0,2175.1 757.5,2178.7 759.0,2171.0 760.5,2175.9 762.0,2168.7 763.1,2168.7 765.0,2169.9 766.5,2175.4 768.0,2173.4 769.5,2180.7 771.0,2178.5 772.5,2188.1 774.0,2184.4 775.5,2193.8 777.0,2190.3 778.5,2199.2 780.0,2197.4 781.5,2206.4 783.0,2205.0 784.5,2212.6 786.0,2212.1 787.5,2221.5 789.0,2219.6 790.5,2228.6 792.0,2226.3 793.5,2235.7 795.0,2233.3 796.5,2241.1 798.0,2239.1 799.5,2248.1 801.0,2244.3 802.5,2252.7 804.0,2251.1 805.5,2258.8 807.0,2258.7 808.5,2267.7 810.0,2266.0 811.5,2273.6 813.0,2271.7 814.5,2278.7 816.0,2276.4 817.5,2284.3 819.0,2282.5 820.5,2291.1 822.0,2287.9 823.5,2294.8 825.0,2292.6 826.5,2300.7 828.0,2297.9 829.5,2305.6 831.0,2303.2 832.5,2311.2 834.0,2310.4 835.5,2317.6 837.0,2317.4 838.5,2324.1 840.0,2321.9 841.5,2328.1 843.0,2325.5 844.5,2331.8 846.0,2330.8 847.5,2337.0 849.0,2335.9 850.5,2340.7 852.0,2338.4 853.5,2342.1 855.0,2340.1 856.5,2346.9 858.0,2345.4 859.5,2349.6 861.0,2347.0 862.5,2352.0 864.0,2348.3 865.5,2352.4 867.0,2349.4 868.5,2351.8 870.0,2349.9 871.5,2354.6 873.0,2351.7 874.5,2356.6 876.0,2353.3 877.5,2357.2 879.0,2354.8 880.5,2359.6 882.0,2357.1 883.5,2361.4 885.0,2357.2 886.5,2361.1 888.0,2357.9 889.5,2361.5 891.0,2358.8 892.5,2362.3 894.0,2360.0 895.5,2362.9 897.0,2360.8 898.5,2363.9 900.0,2362.1 901.5,2365.0 903.0,2361.5 904.5,2365.3 906.0,2363.0 907.5,2365.8 909.0,2363.2 910.5,2365.6 912.0,2363.1 913.5,2366.0 915.0,2363.2 916.5,2366.7 918.0,2364.1 919.5,2368.3 921.0,2366.0 922.5,2368.4 924.0,2365.7 925.5,2368.6 927.0,2365.9 928.5,2368.7 930.0,2366.2 931.5,2369.1 933.0,2366.0 934.5,2368.8 936.0,2366.1 937.5,2368.7 939.0,2366.2 940.5,2369.3 942.0,2367.5 943.5,2370.1 945.0,2368.1 946.5,2369.8 948.0,2366.5 949.5,2369.3 951.0,2366.5 952.5,2370.7 954.0,2368.1 955.5,2371.6 957.0,2368.2 958.5,2371.1 960.0,2366.9 961.5,2370.7 963.0,2368.4 964.5,2371.3 966.4,2369.2 967.2,2288.0 967.8,2288.0 968.2,2361.1 969.4,2362.8 970.9,2359.8 972.4,2362.3 973.9,2360.5 975.4,2362.8 976.9,2359.8 978.4,2363.2 979.9,2360.2 981.4,2363.5 982.9,2360.1 984.4,2362.6 985.9,2360.5 987.4,2363.0 988.9,2359.9 990.4,2362.0 991.9,2359.2 993.4,2361.3 994.9,2358.8 996.4,2362.9 997.9,2360.0 999.4,2363.2 1000.9,2360.4 1002.4,2363.4 1003.9,2359.9 1005.4,2362.4 1006.9,2360.1 1008.4,2362.9 1009.9,2360.4 1011.4,2364.2 1012.9,2359.3 1014.4,2363.0 1015.9,2360.3 1017.4,2362.2 1018.9,2360.4 1020.4,2362.9 1021.9,2360.0 1023.4,2362.7 1024.9,2359.3 1026.4,2363.0 1027.9,2359.4 1029.4,2362.4 1030.9,2359.8 1032.4,2362.1 1033.9,2359.5 1035.4,2361.5 1036.9,2359.9 1038.4,2362.6 1039.9,2360.0 1041.4,2362.9 1042.9,2360.1 1044.4,2362.8 1045.9,2360.2 1047.4,2363.1 1048.9,2360.3 1050.4,2362.7 1051.9,2361.0 1053.4,2363.0 1054.9,2360.6 1056.4,2363.6 1057.9,2359.8 1059.4,2362.7 1060.9,2359.4 1062.4,2361.6 1063.9,2359.2 1065.4,2361.5 1066.9,2359.5 1068.4,2362.2 1069.9,2358.9 1071.4,2362.2 1072.9,2358.5 1074.4,2361.4 1075.9,2359.0 1077.4,2361.9 1078.9,2358.9 1080.4,2361.5 1081.9,2358.8 1083.4,2361.7 1084.9,2359.5 1086.4,2362.9 1087.9,2360.0 1089.4,2362.9 1090.9,2359.1 1092.4,2362.0 1093.9,2358.0 1095.4,2361.9 1096.9,2358.9 1098.4,2362.5 1099.9,2359.1 1101.4,2362.4 1102.9,2359.3 1104.4,2362.2 1105.9,2359.1 1107.4,2361.4 1108.9,2358.8 1110.4,2362.2 1111.9,2358.9 1113.4,2361.6 1114.9,2359.0 1116.4,2362.3 1117.9,2358.9 1119.4,2362.2 1120.9,2358.6 1122.4,2361.8 1123.9,2359.2 1125.4,2361.7 1126.9,2359.6 1128.4,2362.3 1129.9,2359.7 1131.4,2362.9 1132.9,2360.3 1134.4,2363.2 1135.9,2360.2 1137.4,2362.8 1138.9,2359.4 1140.4,2362.7 1141.9,2359.5 1143.4,2362.8 1144.9,2359.8 1146.4,2362.2 1147.9,2359.8 1149.4,2362.6 1150.9,2359.0 1152.4,2362.5 1153.9,2359.3 1155.4,2362.4 1156.9,2359.5 1158.4,2361.8 1159.9,2358.5 1161.4,2361.8 1162.9,2359.1 1164.4,2362.0 1165.9,2358.4 1167.4,2361.4 1168.9,2358.5 1170.4,2361.9 1171.9,2359.7 1173.4,2363.1 1174.9,2360.0 1176.4,2363.1 1177.9,2360.5 1179.4,2363.9 1180.9,2360.7 1182.4,2362.4 1183.9,2359.8 1185.4,2362.7 1186.9,2360.8 1188.4,2362.7 1189.9,2359.8 1191.4,2361.8 1192.9,2359.3 1194.4,2362.6 1195.9,2360.5 1197.4,2362.6 1198.9,2359.6 1200.4,2363.3 1201.9,2360.8 1203.4,2363.8 1204.9,2360.9 1206.4,2363.5 1207.9,2360.8 1209.4,2364.3 1210.9,2361.6 1212.4,2363.8 1213.9,2361.0 1215.4,2363.3 1216.9,2359.5 1218.4,2362.3 1219.9,2360.3 1221.4,2363.7 1222.9,2360.4 1224.4,2362.6 1225.9,2359.2 1227.4,2361.5 1228.9,2357.9 1230.4,2361.3 1231.9,2358.5 1233.4,2362.3 1234.9,2359.4 1236.4,2362.3 1237.9,2359.9 1239.4,2362.8 1240.9,2360.6 1242.4,2362.4 1243.9,2359.4 1245.4,2363.0 1246.9,2360.0 1248.4,2363.1 1249.9,2359.3 1251.4,2361.9 1252.9,2358.4 1254.4,2361.6 1255.9,2358.8 1257.4,2362.6 1258.9,2359.6 1260.4,2362.9 1261.9,2360.6 1263.4,2363.4 1264.9,2360.9 1266.4,2363.6 1267.9,2360.3 1269.4,2362.8 1270.9,2359.0 1272.4,2360.7 1273.9,2358.9 1275.4,2362.3 1276.9,2360.2 1278.4,2364.2 1279.9,2360.8 1281.4,2363.8 1282.9,2359.9 1284.4,2362.4 1285.9,2360.1 1287.4,2361.8 1288.9,2359.4 1290.4,2362.9 1291.9,2359.6 1293.4,2363.2 1294.9,2359.8 1296.4,2361.3 1297.9,2359.3 1299.4,2361.5 1300.9,2358.5 1302.4,2361.5 1303.9,2359.2 1305.4,2362.7 1306.9,2359.6 1308.4,2363.2 1309.9,2359.4 1311.4,2361.8 1312.9,2359.6 1314.4,2362.3 1315.9,2360.6 1317.4,2363.4 1318.9,2360.5 1320.4,2362.9 1321.9,2359.2 1323.4,2362.2 1324.9,2359.8 1326.4,2362.7 1327.9,2360.2 1329.4,2363.2 1330.9,2359.3 1332.4,2362.2 1333.9,2359.4 1335.4,2361.8 1336.9,2359.0 1338.4,2362.3 1339.9,2359.5 1341.4,2362.0 1342.9,2359.3 1344.4,2361.7 1345.9,2358.9 1347.4,2362.1 1348.9,2359.2 1350.4,2362.2 1351.9,2359.4 1353.4,2362.9 1354.9,2361.4 1356.4,2364.0 1357.9,2360.8 1359.4,2362.8 1360.9,2359.5 1362.4,2362.7 1363.9,2360.0 1365.4,2362.5 1366.9,2359.8 1368.4,2362.0 1369.9,2359.4 1371.4,2362.2 1372.9,2359.1 1374.4,2362.2 1375.9,2358.8 1377.4,2362.8 1378.9,2359.6 1380.4,2363.5 1381.9,2361.1 1383.4,2363.2 1384.9,2359.1 1386.4,2361.8 1387.9,2358.8 1389.4,2362.2 1390.9,2359.3 1392.4,2362.2 1393.9,2360.3 1395.4,2362.0 1396.9,2359.4 1398.4,2362.8 1399.9,2359.4 1401.4,2362.9 1402.9,2360.8 1404.4,2363.2 1405.9,2360.5 1407.4,2363.1 1408.9,2360.2 1410.4,2362.8 1411.9,2359.7 1413.4,2362.6 1414.9,2360.0 1416.4,2363.3 1417.9,2359.3 1419.4,2361.8 1420.9,2359.3 1422.4,2361.4 1423.9,2358.6 1425.4,2362.2 1426.9,2359.7 1428.4,2363.5 1429.9,2360.9 1431.4,2363.0 1432.9,2359.4 1434.4,2362.0 1435.9,2359.3 1437.4,2362.7 1438.9,2360.1 1440.4,2363.6 1441.9,2359.8 1443.4,2362.6 1444.9,2359.3 1446.4,2361.9 1447.9,2359.9 1449.4,2362.7 1450.9,2360.1 1452.4,2363.2 1453.9,2359.4 1455.4,2361.6 1456.9,2358.3 1458.4,2362.0 1459.9,2359.6 1461.4,2362.3 1462.9,2360.2 1464.4,2362.9 1465.9,2359.1 1467.4,2363.1 1468.9,2359.0 1470.4,2362.9 1471.9,2359.6 1473.4,2361.5 1474.9,2359.0 1476.4,2362.3 1477.9,2359.8 1479.4,2362.2 1480.9,2360.3 1482.4,2363.3 1483.9,2359.7 1485.4,2363.5 1486.9,2359.5 1488.4,2362.5 1489.9,2359.7 1491.4,2362.1 1492.9,2359.8 1494.4,2362.4 1495.9,2359.5 1497.4,2363.8 1498.9,2359.8 1500.4,2362.8 1501.9,2359.7 1503.4,2361.5 1504.9,2359.0 1506.4,2362.0 1507.9,2359.1 1509.4,2363.1 1510.9,2360.4 1512.4,2363.2 1513.9,2359.7 1515.4,2362.7 1516.9,2358.8 1518.4,2361.6 1519.9,2359.5 1521.4,2362.9 1522.9,2359.5 1524.4,2363.0 1525.9,2358.9 1527.4,2362.9 1528.9,2360.1 1530.4,2362.5 1531.9,2359.8 1533.4,2362.2 1534.9,2359.9 1536.4,2363.5 1537.9,2360.9 1539.4,2363.6 1540.9,2359.9 1542.4,2362.4 1543.9,2359.3 1545.4,2363.1 1546.9,2360.4 1548.4,2363.0 1549.9,2360.1 1551.4,2362.9 1552.9,2360.1 1554.4,2363.3 1555.9,2359.5 1557.4,2362.6 1558.9,2359.1 1560.4,2361.9 1561.9,2359.4 1563.4,2362.6 1564.9,2360.2 1566.4,2361.9 1567.9,2358.5 1569.4,2361.4 1570.9,2359.1 1572.4,2362.2 1573.9,2359.5 1575.4,2362.2 1576.9,2359.1 1578.4,2362.7 1579.9,2359.5 1581.4,2363.2 1582.9,2360.0 1584.4,2362.0 1585.9,2360.0 1587.4,2362.2 1588.9,2359.4 1590.4,2362.4 1591.9,2359.4 1593.4,2362.7 1594.9,2359.4 1596.4,2363.7 1597.9,2360.9 1599.4,2364.5 1600.9,2360.8 1602.4,2363.9 1603.9,2359.6 1605.4,2361.3 1606.9,2358.8 1608.4,2361.0 1609.9,2358.2 1611.4,2362.0 1612.9,2360.4 1614.4,2363.6 1615.9,2360.1 1617.4,2363.0 1618.9,2360.3 1620.4,2362.9 1621.9,2360.5 1623.4,2363.2 1624.9,2360.1 1626.4,2361.8 1627.9,2359.3 1629.4,2362.4 1630.9,2360.3 1632.4,2363.1 1633.9,2359.7 1635.4,2362.9 1636.9,2359.3 1638.4,2361.8 1639.9,2358.5 1641.4,2362.1 1642.9,2358.7 1644.4,2362.1 1645.9,2359.8 1647.4,2362.7 1648.9,2359.5 1650.4,2364.1 1651.9,2360.3 1653.4,2364.1 1654.9,2360.6 1656.4,2363.4 1657.9,2360.6 1659.4,2363.6 1660.9,2360.1 1662.4,2363.1 1663.9,2359.3 1665.4,2362.0 1666.9,2358.9 1668.4,2362.1 1669.9,2358.7 1671.4,2361.1 1672.9,2358.5 1674.4,2361.9 1675.9,2359.3 1677.4,2363.7 1678.9,2360.9 1680.4,2363.7 1681.9,2359.9 1683.4,2362.5 1684.9,2359.5 1686.4,2363.2 1687.9,2360.1 1689.4,2363.6 1690.9,2359.0 1692.4,2361.7 1693.9,2358.6 1695.4,2361.6 1696.9,2359.7 1698.4,2361.8 1699.9,2359.6 1701.4,2361.3 1702.9,2358.3 1704.4,2361.8 1705.9,2358.6 1707.4,2362.7 1708.9,2360.3 1710.4,2362.6 1711.9,2359.6 1713.4,2362.3 1714.9,2358.5 1716.4,2362.6 1717.9,2359.2 1719.4,2362.9 1720.9,2360.3 1722.4,2362.6 1723.9,2359.7 1725.4,2362.4 1726.9,2359.1 1728.4,2362.3 1729.9,2360.3 1731.4,2363.3 1732.9,2360.4 1734.4,2362.9 1735.9,2360.4 1737.4,2363.3 1738.9,2359.8 1740.4,2362.9 1741.9,2359.5 1743.4,2362.9 1744.9,2360.1 1746.4,2363.2 1747.9,2360.4 1749.4,2362.5 1750.9,2360.1 1752.4,2362.7 1753.9,2359.4 1755.4,2362.3 1756.9,2360.8 1758.4,2362.3 1759.9,2359.2 1761.4,2361.7 1762.9,2358.6 1764.4,2363.0 1765.9,2361.2 1767.4,2363.3 1768.9,2360.2 1770.4,2362.5 1771.9,2358.5 1773.4,2360.9 1774.9,2358.0 1776.4,2361.4 1777.9,2358.1 1779.4,2361.9 1780.9,2358.7 1782.4,2362.5 1783.9,2358.9 1785.4,2362.6 1786.9,2359.9 1788.4,2363.0 1789.9,2361.7 1791.4,2364.5 1792.9,2361.3 1794.4,2363.0 1795.9,2359.9 1797.4,2362.1 1798.9,2359.4 1800.4,2362.3 1801.9,2359.5 1803.4,2360.6 1804.9,2357.6 1806.4,2360.0 1807.9,2358.5 1809.4,2361.7 1810.9,2359.2 1812.4,2363.2 1813.9,2360.2 1815.4,2362.0 1816.9,2359.4 1818.4,2362.9 1819.9,2359.7 1821.4,2362.0 1822.9,2359.0 1824.4,2360.9 1825.9,2358.9 1827.4,2361.0 1828.9,2358.5 1830.4,2361.9 1831.9,2359.8 1833.4,2362.9 1834.9,2359.8 1836.4,2362.4 1837.9,2359.7 1839.4,2363.6 1840.9,2359.3 1842.4,2362.4 1843.9,2359.4 1845.4,2362.6 1846.9,2359.6 1848.4,2362.4 1849.9,2359.2 1851.4,2362.4 1852.9,2359.2 1854.4,2362.8 1855.9,2359.7 1857.4,2362.6 1858.9,2359.6 1860.4,2363.2 1861.9,2361.0 1863.4,2363.7 1864.9,2360.4 1866.4,2362.2 1867.9,2360.7 1869.4,2363.3 1870.9,2360.0 1872.4,2362.9 1873.9,2359.2 1875.4,2362.6 1876.9,2360.1 1878.4,2362.8 1879.9,2360.2 1881.4,2364.0 1882.9,2360.4 1884.4,2364.0 1885.9,2359.8 1887.4,2362.1 1888.9,2358.5 1890.4,2362.6 1891.9,2359.1 1893.4,2361.8 1894.9,2359.8 1896.4,2362.3 1897.9,2359.2 1899.4,2362.8 1900.9,2359.5 1902.4,2362.5 1903.9,2360.0 1905.4,2363.2 1906.9,2360.4 1908.4,2362.8 1909.9,2359.4 1911.4,2362.2 1912.9,2359.1 1914.4,2362.3 1915.9,2359.5 1917.4,2362.6 1918.9,2360.1 1920.4,2362.2" fill="none" stroke="#1A6ADC" stroke-width="9.3" stroke-linejoin="round" stroke-linecap="butt"/>
<polyline points="486.0,2362.4 487.5,2359.8 489.0,2363.2 490.5,2359.8 492.0,2362.9 493.5,2359.2 495.0,2361.5 496.5,2358.6 498.0,2361.8 499.5,2359.4 501.0,2362.1 502.5,2359.6 504.0,2361.7 505.5,2358.9 507.0,2362.1 508.5,2358.9 510.0,2362.2 511.5,2359.3 513.0,2362.2 514.5,2359.7 516.0,2361.7 517.5,2359.9 519.0,2363.5 520.5,2360.5 522.0,2362.8 523.5,2360.5 525.0,2362.5 526.5,2359.6 528.0,2362.5 529.5,2359.7 531.0,2363.0 532.5,2360.0 534.0,2363.3 535.5,2359.9 537.0,2362.8 538.5,2359.5 540.0,2362.5 541.5,2359.6 543.0,2363.0 544.5,2359.3 546.0,2362.7 547.5,2360.0 549.0,2362.8 550.5,2360.4 552.0,2363.5 553.5,2360.5 557.7,2361.1 557.7,2431.7 558.3,2431.7 558.3,2365.6 559.5,2366.3 561.0,2362.0 562.5,2362.7 564.0,2357.5 565.5,2360.7 567.0,2358.1 568.5,2361.6 570.0,2359.0 571.5,2362.9 573.0,2359.6 574.5,2361.9 576.0,2358.5 577.5,2361.1 579.0,2357.5 580.5,2361.0 582.0,2357.6 583.5,2361.2 585.0,2356.7 586.5,2360.0 588.0,2357.0 589.5,2359.3 591.0,2357.3 592.5,2360.7 594.0,2357.1 595.5,2360.8 597.0,2356.7 598.5,2360.1 600.0,2357.4 601.5,2360.4 603.0,2357.4 604.5,2360.2 606.0,2356.9 607.5,2359.5 609.0,2356.3 610.5,2360.3 612.0,2357.0 613.5,2360.0 615.0,2356.6 616.5,2360.3 618.0,2357.4 619.5,2361.3 621.0,2358.0 622.5,2360.6 624.0,2357.1 625.5,2359.3 627.0,2357.2 628.5,2359.9 630.0,2356.9 631.5,2359.4 633.0,2355.9 634.5,2359.9 636.0,2356.9 637.5,2359.1 639.0,2356.2 640.5,2358.5 642.0,2355.9 643.5,2359.9 645.0,2356.3 646.5,2359.8 648.0,2356.8 649.5,2360.2 651.0,2356.0 652.5,2358.8 654.0,2355.1 655.5,2358.3 657.0,2354.4 658.5,2357.5 660.0,2354.0 661.5,2357.3 663.0,2352.0 664.5,2353.9 666.0,2350.7 667.5,2353.8 669.0,2348.5 670.5,2351.7 672.0,2348.0 673.5,2349.7 675.0,2346.0 676.5,2349.9 678.0,2346.1 679.5,2348.2 681.0,2344.8 682.5,2347.6 684.0,2344.1 685.5,2347.0 687.0,2341.7 688.5,2345.1 690.0,2340.8 691.5,2344.0 693.0,2339.1 694.5,2342.9 696.0,2339.0 697.5,2342.3 699.0,2339.2 700.5,2343.2 702.0,2339.7 703.5,2341.6 705.0,2336.2 706.5,2339.2 708.0,2333.9 709.5,2337.3 711.0,2331.7 712.5,2334.2 714.0,2329.2 715.5,2332.3 717.0,2326.8 718.5,2330.9 720.0,2325.0 721.5,2327.3 723.0,2322.9 724.5,2325.7 726.0,2320.7 727.5,2323.2 729.0,2317.9 730.5,2320.7 732.0,2315.5 733.5,2318.6 735.0,2312.9 736.5,2316.1 738.0,2309.3 739.5,2312.3 741.0,2305.7 742.5,2308.2 744.0,2302.2 745.5,2304.5 747.0,2297.8 748.5,2300.5 750.0,2293.8 751.5,2295.4 753.0,2289.2 754.5,2291.1 756.0,2285.2 757.5,2288.0 759.0,2279.4 760.5,2283.5 762.0,2276.5 763.5,2279.0 765.0,2271.3 766.5,2273.4 768.0,2265.7 769.5,2267.8 771.0,2261.4 772.5,2264.2 774.0,2256.1 775.5,2259.2 777.0,2253.4 778.5,2255.3 780.0,2247.9 781.5,2252.1 783.0,2243.9 784.5,2245.7 786.0,2240.1 787.5,2243.5 789.0,2238.1 790.5,2243.9 792.0,2235.8 793.5,2238.6 795.0,2233.1 796.5,2236.7 798.0,2229.7 799.5,2233.0 801.0,2225.5 802.5,2227.2 804.0,2220.3 805.5,2222.6 807.0,2215.0 808.5,2217.7 810.0,2208.9 811.5,2210.4 813.0,2203.4 814.5,2205.1 816.0,2200.2 817.5,2205.4 819.0,2198.7 820.5,2202.9 822.0,2198.1 823.5,2204.0 825.0,2199.1 826.5,2203.8 828.0,2196.7 829.9,2192.0 831.0,2191.1 832.5,2199.3 834.0,2195.6 835.5,2204.4 837.0,2199.4 838.5,2205.4 840.0,2201.4 841.5,2208.5 843.0,2204.6 844.5,2210.6 846.0,2206.5 847.5,2212.8 849.0,2208.0 850.5,2217.0 852.0,2212.2 853.5,2220.8 855.0,2218.7 856.5,2226.3 858.0,2221.5 859.5,2229.1 861.0,2227.9 862.5,2235.4 864.0,2232.9 865.5,2239.0 867.0,2236.6 868.5,2244.6 870.0,2243.5 871.5,2250.8 873.0,2249.7 874.5,2256.2 876.0,2253.3 877.5,2261.4 879.0,2256.5 880.5,2260.7 882.0,2258.2 883.5,2265.0 885.0,2262.6 886.5,2272.1 888.0,2268.8 889.5,2276.2 891.0,2275.1 892.5,2282.1 894.0,2278.7 895.5,2288.3 897.0,2284.6 898.5,2291.6 900.0,2288.2 901.5,2294.0 903.0,2291.3 904.5,2296.9 906.0,2295.5 907.5,2301.2 909.0,2298.1 910.5,2303.1 912.0,2302.1 913.5,2307.9 915.0,2305.5 916.5,2312.5 918.0,2309.3 919.5,2316.7 921.0,2314.9 922.5,2319.5 924.0,2317.0 925.5,2322.3 927.0,2318.6 928.5,2324.8 930.0,2321.2 931.5,2327.7 933.0,2326.2 934.5,2331.2 936.0,2329.0 937.5,2336.0 939.0,2332.4 940.5,2337.2 942.0,2333.5 943.5,2338.9 945.0,2336.2 946.5,2342.0 948.0,2339.6 949.5,2343.9 951.0,2342.3 952.5,2347.0 954.0,2342.8 955.5,2348.7 957.0,2345.9 958.5,2349.6 960.0,2346.8 961.5,2350.6 963.0,2347.9 964.5,2352.6 966.0,2350.8 967.5,2353.7 969.0,2350.3 970.5,2354.3 972.0,2350.6 973.5,2355.4 975.0,2351.4 976.5,2355.1 978.0,2352.4 979.5,2356.3 981.0,2353.3 982.5,2356.6 984.0,2353.9 985.5,2357.4 987.0,2355.0 988.5,2358.2 990.0,2354.8 991.5,2357.9 993.0,2354.9 994.5,2358.4 996.0,2355.8 997.5,2358.6 999.0,2356.1 1000.5,2359.4 1002.0,2357.2 1003.5,2360.3 1005.0,2357.4 1006.5,2360.7 1008.0,2357.2 1009.5,2360.8 1011.0,2358.7 1012.5,2361.9 1014.0,2359.1 1015.5,2362.1 1017.0,2359.6 1018.5,2362.0 1020.0,2359.9 1021.5,2362.9 1023.0,2360.3 1024.5,2363.7 1026.0,2360.5 1027.5,2364.2 1029.0,2360.2 1030.5,2363.7 1032.0,2361.1 1033.5,2363.5 1035.0,2361.2 1036.5,2364.4 1038.0,2361.9 1039.5,2365.7 1041.0,2363.5 1042.5,2365.9 1044.0,2363.6 1045.5,2366.7 1047.0,2363.9 1048.5,2365.8 1050.0,2362.5 1051.5,2365.7 1053.0,2363.0 1054.5,2366.2 1056.0,2363.4 1057.5,2366.6 1059.0,2364.0 1060.5,2367.4 1062.0,2364.4 1063.5,2367.4 1065.0,2364.2 1066.5,2366.5 1068.0,2365.0 1069.5,2367.3 1071.0,2364.1 1072.5,2368.1 1074.0,2365.2 1075.5,2368.1 1077.0,2365.1 1078.5,2368.9 1080.0,2365.1 1081.5,2368.0 1083.0,2365.4 1084.5,2368.6 1086.0,2365.6 1087.5,2368.7 1089.0,2366.4 1090.5,2369.0 1092.0,2366.3 1093.5,2369.7 1095.0,2366.5 1096.5,2369.5 1098.0,2366.8 1099.5,2371.1 1101.0,2366.8 1102.5,2369.8 1103.2,2368.3 1104.0,2294.4 1104.6,2294.4 1105.0,2361.1 1106.2,2363.2 1107.7,2360.9 1109.2,2363.2 1110.7,2359.9 1112.2,2363.1 1113.7,2360.5 1115.2,2363.2 1116.7,2359.7 1118.2,2363.3 1119.7,2359.7 1121.2,2362.8 1122.7,2360.1 1124.2,2361.9 1125.7,2359.2 1127.2,2361.6 1128.7,2358.3 1130.2,2362.1 1131.7,2359.4 1133.2,2362.8 1134.7,2359.4 1136.2,2362.2 1137.7,2359.5 1139.2,2363.1 1140.7,2360.1 1142.2,2363.0 1143.7,2360.5 1145.2,2363.2 1146.7,2360.3 1148.2,2363.0 1149.7,2359.7 1151.2,2362.1 1152.7,2359.4 1154.2,2362.5 1155.7,2359.2 1157.2,2362.6 1158.7,2360.2 1160.2,2363.3 1161.7,2360.0 1163.2,2363.0 1164.7,2359.4 1166.2,2361.9 1167.7,2359.2 1169.2,2362.3 1170.7,2359.5 1172.2,2362.2 1173.7,2359.5 1175.2,2362.2 1176.7,2358.7 1178.2,2361.4 1179.7,2359.0 1181.2,2362.0 1182.7,2359.7 1184.2,2362.8 1185.7,2359.4 1187.2,2363.3 1188.7,2360.0 1190.2,2363.1 1191.7,2360.1 1193.2,2362.6 1194.7,2359.2 1196.2,2361.8 1197.7,2358.8 1199.2,2362.0 1200.7,2359.1 1202.2,2361.7 1203.7,2359.3 1205.2,2363.0 1206.7,2359.9 1208.2,2362.8 1209.7,2359.9 1211.2,2362.2 1212.7,2358.9 1214.2,2362.7 1215.7,2359.3 1217.2,2362.2 1218.7,2360.3 1220.2,2363.0 1221.7,2360.6 1223.2,2363.0 1224.7,2359.0 1226.2,2362.6 1227.7,2358.8 1229.2,2362.4 1230.7,2360.4 1232.2,2363.0 1233.7,2360.0 1235.2,2362.4 1236.7,2358.9 1238.2,2361.3 1239.7,2358.8 1241.2,2363.1 1242.7,2359.7 1244.2,2362.5 1245.7,2360.1 1247.2,2362.6 1248.7,2360.5 1250.2,2363.0 1251.7,2359.0 1253.2,2362.0 1254.7,2358.7 1256.2,2362.4 1257.7,2360.2 1259.2,2363.0 1260.7,2360.0 1262.2,2362.9 1263.7,2358.9 1265.2,2361.8 1266.7,2359.0 1268.2,2362.1 1269.7,2360.3 1271.2,2363.8 1272.7,2360.4 1274.2,2363.0 1275.7,2359.7 1277.2,2361.5 1278.7,2359.3 1280.2,2361.8 1281.7,2359.1 1283.2,2363.1 1284.7,2360.4 1286.2,2363.5 1287.7,2360.2 1289.2,2362.8 1290.7,2359.6 1292.2,2362.7 1293.7,2359.8 1295.2,2362.2 1296.7,2359.0 1298.2,2362.5 1299.7,2359.9 1301.2,2362.9 1302.7,2360.1 1304.2,2362.6 1305.7,2360.5 1307.2,2361.9 1308.7,2358.2 1310.2,2362.4 1311.7,2359.3 1313.2,2362.5 1314.7,2360.3 1316.2,2362.0 1317.7,2358.5 1319.2,2362.0 1320.7,2359.2 1322.2,2362.1 1323.7,2360.3 1325.2,2362.7 1326.7,2359.9 1328.2,2362.8 1329.7,2358.9 1331.2,2362.2 1332.7,2360.2 1334.2,2361.9 1335.7,2359.3 1337.2,2362.5 1338.7,2358.9 1340.2,2362.1 1341.7,2359.8 1343.2,2363.0 1344.7,2359.6 1346.2,2362.5 1347.7,2359.6 1349.2,2362.0 1350.7,2359.6 1352.2,2363.5 1353.7,2360.3 1355.2,2363.2 1356.7,2360.0 1358.2,2363.1 1359.7,2360.3 1361.2,2363.4 1362.7,2360.3 1364.2,2362.4 1365.7,2359.4 1367.2,2362.8 1368.7,2359.9 1370.2,2362.5 1371.7,2359.8 1373.2,2363.2 1374.7,2359.7 1376.2,2362.1 1377.7,2358.2 1379.2,2361.5 1380.7,2359.6 1382.2,2363.4 1383.7,2360.5 1385.2,2363.7 1386.7,2359.8 1388.2,2362.5 1389.7,2359.8 1391.2,2361.6 1392.7,2358.5 1394.2,2362.4 1395.7,2359.0 1397.2,2362.9 1398.7,2360.1 1400.2,2362.4 1401.7,2360.1 1403.2,2363.7 1404.7,2360.0 1406.2,2362.4 1407.7,2358.7 1409.2,2361.7 1410.7,2358.9 1412.2,2362.7 1413.7,2359.8 1415.2,2362.6 1416.7,2359.6 1418.2,2362.0 1419.7,2359.0 1421.2,2361.9 1422.7,2358.8 1424.2,2361.8 1425.7,2359.2 1427.2,2363.1 1428.7,2360.9 1430.2,2363.9 1431.7,2360.3 1433.2,2362.4 1434.7,2359.7 1436.2,2361.2 1437.7,2358.6 1439.2,2362.3 1440.7,2359.1 1442.2,2362.7 1443.7,2360.1 1445.2,2362.2 1446.7,2360.2 1448.2,2363.1 1449.7,2360.2 1451.2,2362.9 1452.7,2359.0 1454.2,2363.0 1455.7,2360.2 1457.2,2364.4 1458.7,2361.3 1460.2,2363.3 1461.7,2359.8 1463.2,2361.0 1464.7,2357.8 1466.2,2361.4 1467.7,2358.5 1469.2,2362.1 1470.7,2359.3 1472.2,2362.0 1473.7,2358.7 1475.2,2362.4 1476.7,2359.4 1478.2,2361.9 1479.7,2359.5 1481.2,2362.4 1482.7,2359.3 1484.2,2363.2 1485.7,2360.1 1487.2,2361.5 1488.7,2358.6 1490.2,2361.7 1491.7,2359.8 1493.2,2363.0 1494.7,2360.3 1496.2,2362.9 1497.7,2358.7 1499.2,2361.3 1500.7,2358.7 1502.2,2361.4 1503.7,2359.6 1505.2,2363.3 1506.7,2360.7 1508.2,2363.0 1509.7,2359.4 1511.2,2361.9 1512.7,2358.7 1514.2,2361.1 1515.7,2359.2 1517.2,2362.4 1518.7,2360.4 1520.2,2364.0 1521.7,2359.6 1523.2,2362.8 1524.7,2359.7 1526.2,2362.6 1527.7,2360.0 1529.2,2362.2 1530.7,2359.7 1532.2,2362.5 1533.7,2359.9 1535.2,2362.6 1536.7,2360.4 1538.2,2363.0 1539.7,2359.3 1541.2,2361.8 1542.7,2358.3 1544.2,2361.9 1545.7,2358.6 1547.2,2362.6 1548.7,2360.1 1550.2,2362.0 1551.7,2360.1 1553.2,2362.5 1554.7,2360.5 1556.2,2363.1 1557.7,2359.6 1559.2,2361.9 1560.7,2359.4 1562.2,2362.3 1563.7,2359.9 1565.2,2362.3 1566.7,2360.6 1568.2,2362.6 1569.7,2361.3 1571.2,2363.4 1572.7,2360.4 1574.2,2362.6 1575.7,2360.1 1577.2,2363.5 1578.7,2360.2 1580.2,2363.1 1581.7,2360.6 1583.2,2362.8 1584.7,2359.2 1586.2,2361.8 1587.7,2358.7 1589.2,2361.1 1590.7,2358.9 1592.2,2361.9 1593.7,2358.4 1595.2,2363.3 1596.7,2359.6 1598.2,2363.0 1599.7,2359.8 1601.2,2362.1 1602.7,2359.3 1604.2,2362.5 1605.7,2359.8 1607.2,2363.4 1608.7,2359.9 1610.2,2363.3 1611.7,2359.7 1613.2,2362.2 1614.7,2359.0 1616.2,2362.6 1617.7,2359.8 1619.2,2363.1 1620.7,2360.0 1622.2,2362.9 1623.7,2360.0 1625.2,2362.2 1626.7,2359.7 1628.2,2362.4 1629.7,2359.8 1631.2,2362.2 1632.7,2359.3 1634.2,2362.3 1635.7,2359.4 1637.2,2362.5 1638.7,2360.0 1640.2,2362.5 1641.7,2360.1 1643.2,2363.0 1644.7,2360.5 1646.2,2363.8 1647.7,2361.2 1649.2,2364.8 1650.7,2362.3 1652.2,2364.6 1653.7,2360.6 1655.2,2363.4 1656.7,2359.7 1658.2,2362.0 1659.7,2358.6 1661.2,2362.1 1662.7,2359.7 1664.2,2362.4 1665.7,2359.7 1667.2,2361.9 1668.7,2358.5 1670.2,2362.3 1671.7,2359.3 1673.2,2361.7 1674.7,2359.5 1676.2,2362.6 1677.7,2359.8 1679.2,2362.8 1680.7,2358.9 1682.2,2362.5 1683.7,2359.0 1685.2,2362.2 1686.7,2359.9 1688.2,2362.4 1689.7,2360.2 1691.2,2362.8 1692.7,2360.0 1694.2,2363.6 1695.7,2360.3 1697.2,2362.5 1698.7,2359.1 1700.2,2361.6 1701.7,2358.9 1703.2,2362.7 1704.7,2360.5 1706.2,2363.7 1707.7,2360.2 1709.2,2362.4 1710.7,2359.9 1712.2,2363.0 1713.7,2360.6 1715.2,2362.9 1716.7,2359.2 1718.2,2362.5 1719.7,2360.1 1721.2,2363.0 1722.7,2360.9 1724.2,2363.0 1725.7,2360.2 1727.2,2363.0 1728.7,2360.0 1730.2,2363.0 1731.7,2359.2 1733.2,2361.4 1734.7,2358.8 1736.2,2361.7 1737.7,2359.3 1739.2,2362.9 1740.7,2359.8 1742.2,2362.0 1743.7,2359.6 1745.2,2362.8 1746.7,2360.7 1748.2,2363.9 1749.7,2360.7 1751.2,2363.1 1752.7,2359.7 1754.2,2362.5 1755.7,2360.2 1757.2,2361.7 1758.7,2359.8 1760.2,2362.7 1761.7,2359.3 1763.2,2363.0 1764.7,2359.5 1766.2,2362.1 1767.7,2359.0 1769.2,2362.6 1770.7,2359.9 1772.2,2362.5 1773.7,2360.3 1775.2,2362.9 1776.7,2360.1 1778.2,2362.8 1779.7,2360.2 1781.2,2362.5 1782.7,2358.8 1784.2,2362.7 1785.7,2359.9 1787.2,2363.0 1788.7,2360.6 1790.2,2363.2 1791.7,2360.5 1793.2,2362.0 1794.7,2358.7 1796.2,2361.8 1797.7,2359.5 1799.2,2362.9 1800.7,2359.8 1802.2,2362.6 1803.7,2359.1 1805.2,2361.3 1806.7,2358.3 1808.2,2361.4 1809.7,2358.2 1811.2,2361.9 1812.7,2359.4 1814.2,2361.7 1815.7,2359.4 1817.2,2362.4 1818.7,2359.3 1820.2,2361.8 1821.7,2358.4 1823.2,2361.3 1824.7,2359.2 1826.2,2363.0 1827.7,2360.0 1829.2,2362.9 1830.7,2360.5 1832.2,2362.7 1833.7,2360.0 1835.2,2362.6 1836.7,2359.6 1838.2,2362.6 1839.7,2359.3 1841.2,2362.6 1842.7,2359.6 1844.2,2363.4 1845.7,2358.5 1847.2,2361.5 1848.7,2359.6 1850.2,2362.3 1851.7,2360.2 1853.2,2362.9 1854.7,2359.7 1856.2,2363.4 1857.7,2361.3 1859.2,2363.6 1860.7,2359.8 1862.2,2362.5 1863.7,2359.9 1865.2,2362.9 1866.7,2360.3 1868.2,2363.3 1869.7,2360.0 1871.2,2363.1 1872.7,2360.1 1874.2,2362.7 1875.7,2360.1 1877.2,2362.0 1878.7,2359.2 1880.2,2363.2 1881.7,2360.1 1883.2,2363.5 1884.7,2358.9 1886.2,2362.0 1887.7,2359.4 1889.2,2361.5 1890.7,2359.5 1892.2,2362.3 1893.7,2358.8 1895.2,2361.6 1896.7,2358.1 1898.2,2361.7 1899.7,2359.2 1901.2,2362.8 1902.7,2359.8 1904.2,2363.1 1905.7,2360.1 1907.2,2362.9 1908.7,2360.5 1910.2,2362.5 1911.7,2359.8 1913.2,2361.9 1914.7,2359.6 1916.2,2362.8 1917.7,2359.6 1919.2,2362.8" fill="none" stroke="#35AA6A" stroke-width="9.3" stroke-linejoin="round" stroke-linecap="butt"/>
<polyline points="486.0,2362.6 487.5,2359.8 489.0,2362.7 490.5,2359.9 492.0,2362.9 493.5,2359.3 495.0,2362.1 496.5,2360.7 498.0,2363.7 499.5,2362.0 501.0,2364.1 502.5,2361.1 504.0,2362.6 505.5,2360.1 507.0,2361.9 508.5,2359.3 510.0,2362.9 511.5,2360.1 513.0,2363.1 514.5,2360.7 516.0,2362.4 517.5,2359.5 519.0,2362.5 520.5,2358.5 522.0,2362.6 523.5,2360.2 525.0,2362.6 526.5,2359.7 528.0,2361.4 529.5,2358.7 531.0,2361.7 532.5,2358.3 534.0,2361.7 535.5,2359.1 537.0,2361.2 538.5,2359.5 540.0,2361.8 541.5,2358.4 543.0,2362.3 544.5,2359.7 546.0,2362.8 547.5,2360.8 549.0,2362.5 550.5,2360.1 552.0,2362.1 553.5,2359.0 557.7,2361.1 557.7,2431.7 558.3,2431.7 558.3,2365.6 559.5,2363.5 561.0,2359.7 562.5,2362.6 564.0,2358.6 565.5,2361.9 567.0,2359.3 568.5,2362.1 570.0,2359.8 571.5,2362.5 573.0,2358.8 574.5,2361.1 576.0,2357.3 577.5,2360.2 579.0,2357.6 580.5,2360.7 582.0,2358.5 583.5,2361.6 585.0,2358.1 586.5,2361.1 588.0,2358.2 589.5,2361.2 591.0,2358.3 592.5,2361.2 594.0,2357.2 595.5,2360.9 597.0,2356.9 598.5,2359.9 600.0,2356.5 601.5,2359.9 603.0,2356.2 604.5,2360.1 606.0,2357.2 607.5,2359.6 609.0,2357.1 610.5,2359.2 612.0,2357.0 613.5,2360.9 615.0,2357.4 616.5,2360.5 618.0,2357.8 619.5,2360.5 621.0,2356.4 622.5,2360.3 624.0,2357.2 625.5,2360.4 627.0,2357.1 628.5,2360.2 630.0,2356.3 631.5,2359.9 633.0,2356.7 634.5,2359.3 636.0,2355.9 637.5,2358.8 639.0,2354.4 640.5,2359.1 642.0,2357.1 643.5,2360.0 645.0,2356.3 646.5,2358.6 648.0,2356.4 649.5,2359.5 651.0,2356.3 652.5,2360.1 654.0,2356.2 655.5,2359.6 657.0,2356.1 658.5,2359.8 660.0,2356.8 661.5,2359.1 663.0,2354.4 664.5,2357.6 666.0,2354.4 667.5,2358.6 669.0,2356.4 670.5,2359.9 672.0,2357.7 673.5,2360.0 675.0,2356.7 676.5,2359.1 678.0,2354.4 679.5,2358.1 681.0,2354.5 682.5,2357.3 684.0,2353.3 685.5,2356.4 687.0,2353.6 688.5,2357.0 690.0,2352.6 691.5,2355.8 693.0,2351.7 694.5,2354.8 696.0,2351.2 697.5,2353.9 699.0,2350.4 700.5,2352.5 702.0,2348.9 703.5,2351.5 705.0,2348.0 706.5,2351.0 708.0,2345.9 709.5,2350.1 711.0,2344.4 712.5,2346.9 714.0,2343.5 715.5,2346.3 717.0,2342.0 718.5,2345.8 720.0,2341.1 721.5,2344.6 723.0,2341.0 724.5,2344.5 726.0,2340.8 727.5,2344.2 729.0,2340.0 730.5,2344.8 732.0,2340.6 733.5,2342.8 735.0,2339.5 736.5,2341.9 738.0,2338.7 739.5,2342.6 741.0,2337.5 742.5,2341.8 744.0,2336.3 745.5,2338.3 747.0,2334.8 748.5,2337.0 750.0,2332.4 751.5,2335.0 753.0,2331.5 754.5,2334.5 756.0,2329.3 757.5,2333.7 759.0,2327.2 760.5,2331.9 762.0,2326.4 763.5,2330.1 765.0,2325.1 766.5,2326.9 768.0,2321.0 769.5,2323.2 771.0,2318.0 772.5,2321.1 774.0,2314.9 775.5,2316.8 777.0,2311.4 778.5,2314.3 780.0,2307.8 781.5,2310.0 783.0,2304.3 784.5,2306.7 786.0,2300.3 787.5,2302.8 789.0,2298.3 790.5,2299.9 792.0,2294.6 793.5,2297.1 795.0,2290.4 796.5,2294.6 798.0,2287.7 799.5,2291.6 801.0,2285.0 802.5,2286.8 804.0,2280.9 805.5,2284.8 807.0,2278.9 808.5,2282.6 810.0,2274.4 811.5,2277.3 813.0,2272.4 814.5,2274.6 816.0,2268.8 817.5,2272.7 819.0,2265.3 820.5,2268.8 822.0,2262.6 823.5,2267.3 825.0,2261.5 826.5,2263.8 828.0,2259.1 829.5,2262.8 831.0,2257.7 832.5,2261.5 834.0,2254.3 835.5,2258.4 837.0,2253.1 838.5,2257.7 840.0,2252.6 841.5,2255.2 843.0,2247.9 844.5,2252.3 846.0,2249.6 847.5,2254.1 849.0,2247.8 850.5,2253.1 852.0,2247.3 853.5,2250.2 855.0,2244.5 856.5,2247.1 858.0,2239.4 859.5,2243.9 861.0,2237.3 862.5,2239.9 864.0,2235.1 865.5,2236.3 867.0,2228.2 868.5,2233.6 870.0,2227.3 871.5,2230.6 873.0,2225.4 874.5,2230.7 876.0,2223.1 877.5,2226.3 879.0,2219.4 880.5,2225.0 882.0,2219.1 883.5,2224.0 885.0,2217.2 886.5,2221.1 888.0,2214.3 889.5,2218.5 891.0,2213.5 892.5,2217.8 894.0,2211.5 895.5,2215.8 897.0,2210.0 898.3,2212.9 900.0,2209.9 901.5,2215.7 903.0,2211.8 904.5,2217.6 906.0,2214.0 907.5,2218.8 909.0,2214.0 910.5,2220.0 912.0,2213.3 913.5,2218.1 915.0,2214.3 916.5,2221.1 918.0,2217.8 919.5,2224.6 921.0,2223.5 922.5,2230.8 924.0,2228.8 925.5,2236.3 927.0,2234.4 928.5,2242.0 930.0,2238.7 931.5,2245.0 933.0,2243.1 934.5,2250.2 936.0,2249.3 937.5,2255.1 939.0,2252.0 940.5,2258.0 942.0,2252.6 943.5,2257.5 945.0,2253.7 946.5,2258.2 948.0,2253.0 949.5,2259.9 951.0,2257.6 952.5,2265.0 954.0,2261.9 955.5,2267.7 957.0,2264.9 958.5,2269.6 960.0,2266.7 961.5,2272.4 963.0,2267.2 964.5,2274.7 966.0,2271.1 967.5,2277.8 969.0,2275.5 970.5,2280.6 972.0,2279.8 973.5,2286.4 975.0,2283.5 976.5,2289.2 978.0,2287.1 979.5,2292.1 981.0,2288.1 982.5,2294.2 984.0,2290.5 985.5,2295.6 987.0,2293.8 988.5,2299.1 990.0,2297.0 991.5,2303.3 993.0,2300.8 994.5,2304.3 996.0,2301.6 997.5,2306.5 999.0,2302.4 1000.5,2309.1 1002.0,2306.7 1003.5,2312.5 1005.0,2309.1 1006.5,2314.2 1008.0,2311.0 1009.5,2316.2 1011.0,2312.2 1012.5,2317.6 1014.0,2315.0 1015.5,2320.4 1017.0,2317.7 1018.5,2322.1 1020.0,2319.1 1021.5,2323.5 1023.0,2320.6 1024.5,2325.0 1026.0,2322.4 1027.5,2327.5 1029.0,2324.3 1030.5,2328.7 1032.0,2325.3 1033.5,2330.0 1035.0,2327.3 1036.5,2333.1 1038.0,2329.6 1039.5,2335.2 1041.0,2331.3 1042.5,2337.0 1044.0,2334.0 1045.5,2338.2 1047.0,2335.9 1048.5,2340.6 1050.0,2337.5 1051.5,2341.8 1053.0,2337.6 1054.5,2341.3 1056.0,2337.8 1057.5,2343.5 1059.0,2340.8 1060.5,2346.4 1062.0,2342.7 1063.5,2345.7 1065.0,2343.5 1066.5,2347.2 1068.0,2343.5 1069.5,2347.5 1071.0,2344.7 1072.5,2349.7 1074.0,2346.6 1075.5,2351.7 1077.0,2348.0 1078.5,2350.9 1080.0,2347.7 1081.5,2352.3 1083.0,2349.1 1084.5,2353.7 1086.0,2349.6 1087.5,2353.5 1089.0,2349.4 1090.5,2353.0 1092.0,2350.9 1093.5,2354.4 1095.0,2352.2 1096.5,2356.1 1098.0,2353.0 1099.5,2357.8 1101.0,2354.1 1102.5,2358.3 1104.0,2354.4 1105.5,2357.1 1107.0,2353.4 1108.5,2357.2 1110.0,2353.7 1111.5,2358.2 1113.0,2356.3 1114.5,2360.1 1116.0,2357.0 1117.5,2360.8 1119.0,2356.8 1120.5,2359.3 1122.0,2356.8 1123.5,2360.0 1125.0,2356.4 1126.5,2360.0 1128.0,2357.8 1129.5,2360.4 1131.0,2357.8 1132.5,2361.9 1134.0,2359.6 1135.5,2362.6 1137.0,2359.6 1138.5,2362.1 1140.0,2360.5 1141.5,2362.6 1143.0,2360.4 1144.5,2363.4 1146.0,2359.0 1147.5,2362.3 1149.0,2359.6 1150.5,2363.4 1152.0,2360.7 1153.5,2363.1 1155.0,2360.7 1156.5,2362.7 1158.0,2360.2 1159.5,2363.9 1161.0,2360.7 1162.5,2364.1 1164.0,2361.0 1165.5,2363.1 1167.0,2360.9 1168.5,2363.5 1170.0,2360.7 1171.5,2364.1 1173.0,2362.0 1174.5,2364.9 1176.0,2362.2 1177.5,2364.7 1179.0,2361.4 1180.5,2364.1 1182.0,2361.3 1183.5,2364.2 1185.0,2361.8 1186.5,2365.3 1188.0,2362.4 1189.5,2366.6 1191.0,2363.7 1192.5,2365.9 1194.0,2362.7 1195.5,2366.5 1197.0,2363.0 1198.5,2366.2 1200.0,2363.3 1201.5,2365.2 1203.0,2363.0 1204.5,2366.0 1206.0,2362.7 1207.5,2366.5 1209.0,2363.7 1210.5,2367.2 1212.0,2364.6 1213.5,2366.8 1215.0,2364.2 1216.5,2366.9 1218.0,2364.1 1219.5,2367.3 1221.0,2364.9 1222.5,2368.4 1224.0,2366.1 1225.5,2368.3 1227.0,2365.1 1228.5,2368.8 1230.0,2366.1 1231.5,2369.0 1233.0,2366.8 1234.5,2370.0 1236.0,2367.3 1237.5,2369.5 1239.0,2366.3 1240.0,2368.3 1240.8,2298.6 1241.4,2298.6 1241.8,2361.1 1243.0,2363.6 1244.5,2360.2 1246.0,2363.4 1247.5,2359.4 1249.0,2362.3 1250.5,2359.2 1252.0,2361.4 1253.5,2359.2 1255.0,2361.8 1256.5,2359.7 1258.0,2362.7 1259.5,2360.1 1261.0,2362.7 1262.5,2359.5 1264.0,2363.3 1265.5,2360.3 1267.0,2363.5 1268.5,2359.8 1270.0,2362.2 1271.5,2359.4 1273.0,2362.1 1274.5,2359.2 1276.0,2362.7 1277.5,2360.0 1279.0,2362.0 1280.5,2358.8 1282.0,2361.6 1283.5,2358.6 1285.0,2363.2 1286.5,2360.1 1288.0,2363.4 1289.5,2360.3 1291.0,2363.0 1292.5,2360.2 1294.0,2362.8 1295.5,2359.9 1297.0,2362.2 1298.5,2360.4 1300.0,2362.9 1301.5,2359.5 1303.0,2363.6 1304.5,2359.9 1306.0,2362.8 1307.5,2359.7 1309.0,2362.1 1310.5,2358.9 1312.0,2362.6 1313.5,2359.5 1315.0,2363.1 1316.5,2359.6 1318.0,2363.4 1319.5,2360.2 1321.0,2363.0 1322.5,2359.9 1324.0,2363.0 1325.5,2359.6 1327.0,2363.1 1328.5,2359.9 1330.0,2362.4 1331.5,2360.1 1333.0,2362.7 1334.5,2358.9 1336.0,2362.4 1337.5,2359.7 1339.0,2362.0 1340.5,2358.9 1342.0,2362.6 1343.5,2359.4 1345.0,2362.2 1346.5,2359.2 1348.0,2362.6 1349.5,2359.9 1351.0,2362.7 1352.5,2359.7 1354.0,2362.3 1355.5,2359.7 1357.0,2362.7 1358.5,2360.2 1360.0,2363.0 1361.5,2359.3 1363.0,2362.4 1364.5,2359.5 1366.0,2362.2 1367.5,2359.9 1369.0,2362.4 1370.5,2359.9 1372.0,2362.8 1373.5,2359.8 1375.0,2362.6 1376.5,2359.8 1378.0,2362.4 1379.5,2359.6 1381.0,2363.0 1382.5,2360.5 1384.0,2362.3 1385.5,2359.6 1387.0,2362.9 1388.5,2359.9 1390.0,2362.5 1391.5,2359.0 1393.0,2363.0 1394.5,2360.5 1396.0,2363.3 1397.5,2360.5 1399.0,2363.5 1400.5,2360.5 1402.0,2363.9 1403.5,2360.3 1405.0,2363.9 1406.5,2361.3 1408.0,2363.9 1409.5,2361.3 1411.0,2363.0 1412.5,2360.4 1414.0,2363.4 1415.5,2359.8 1417.0,2362.8 1418.5,2359.9 1420.0,2362.3 1421.5,2360.0 1423.0,2362.9 1424.5,2360.2 1426.0,2363.5 1427.5,2359.1 1429.0,2362.6 1430.5,2359.1 1432.0,2362.4 1433.5,2359.6 1435.0,2363.7 1436.5,2360.9 1438.0,2363.8 1439.5,2360.7 1441.0,2363.4 1442.5,2360.5 1444.0,2362.7 1445.5,2359.4 1447.0,2362.2 1448.5,2360.2 1450.0,2362.2 1451.5,2359.7 1453.0,2362.8 1454.5,2359.8 1456.0,2362.5 1457.5,2360.9 1459.0,2363.2 1460.5,2359.9 1462.0,2362.3 1463.5,2359.7 1465.0,2363.4 1466.5,2360.2 1468.0,2364.3 1469.5,2361.4 1471.0,2364.0 1472.5,2360.0 1474.0,2363.3 1475.5,2360.2 1477.0,2363.1 1478.5,2360.2 1480.0,2363.0 1481.5,2359.2 1483.0,2362.3 1484.5,2359.2 1486.0,2362.2 1487.5,2359.6 1489.0,2362.9 1490.5,2359.3 1492.0,2362.5 1493.5,2360.1 1495.0,2362.9 1496.5,2359.5 1498.0,2363.7 1499.5,2360.6 1501.0,2363.4 1502.5,2359.4 1504.0,2362.3 1505.5,2359.1 1507.0,2361.9 1508.5,2360.1 1510.0,2362.9 1511.5,2360.1 1513.0,2362.5 1514.5,2359.4 1516.0,2362.2 1517.5,2359.8 1519.0,2362.5 1520.5,2359.5 1522.0,2362.9 1523.5,2359.6 1525.0,2362.6 1526.5,2359.3 1528.0,2362.5 1529.5,2359.9 1531.0,2362.6 1532.5,2359.9 1534.0,2363.2 1535.5,2360.0 1537.0,2362.9 1538.5,2359.5 1540.0,2362.2 1541.5,2358.6 1543.0,2362.2 1544.5,2360.6 1546.0,2363.6 1547.5,2360.5 1549.0,2363.6 1550.5,2359.7 1552.0,2361.9 1553.5,2359.5 1555.0,2362.0 1556.5,2359.2 1558.0,2362.7 1559.5,2359.6 1561.0,2361.9 1562.5,2359.8 1564.0,2363.5 1565.5,2360.5 1567.0,2362.9 1568.5,2359.8 1570.0,2362.1 1571.5,2359.2 1573.0,2362.5 1574.5,2359.2 1576.0,2362.3 1577.5,2358.9 1579.0,2362.8 1580.5,2360.2 1582.0,2362.8 1583.5,2361.0 1585.0,2364.4 1586.5,2361.5 1588.0,2363.6 1589.5,2360.5 1591.0,2362.7 1592.5,2360.2 1594.0,2363.7 1595.5,2359.8 1597.0,2362.4 1598.5,2359.5 1600.0,2362.4 1601.5,2359.7 1603.0,2362.2 1604.5,2359.0 1606.0,2361.3 1607.5,2358.3 1609.0,2361.9 1610.5,2359.3 1612.0,2361.8 1613.5,2360.4 1615.0,2363.0 1616.5,2360.0 1618.0,2363.1 1619.5,2359.8 1621.0,2363.1 1622.5,2360.8 1624.0,2362.7 1625.5,2359.7 1627.0,2362.1 1628.5,2359.3 1630.0,2362.2 1631.5,2360.3 1633.0,2362.1 1634.5,2359.7 1636.0,2362.2 1637.5,2360.4 1639.0,2364.2 1640.5,2360.0 1642.0,2363.2 1643.5,2359.4 1645.0,2361.8 1646.5,2359.0 1648.0,2361.9 1649.5,2359.2 1651.0,2361.9 1652.5,2359.2 1654.0,2362.4 1655.5,2359.5 1657.0,2363.0 1658.5,2361.0 1660.0,2363.4 1661.5,2360.9 1663.0,2363.3 1664.5,2360.0 1666.0,2362.9 1667.5,2360.0 1669.0,2362.8 1670.5,2358.8 1672.0,2361.7 1673.5,2358.6 1675.0,2361.9 1676.5,2359.6 1678.0,2362.9 1679.5,2358.7 1681.0,2362.4 1682.5,2359.8 1684.0,2363.2 1685.5,2360.2 1687.0,2363.1 1688.5,2359.2 1690.0,2362.4 1691.5,2359.1 1693.0,2362.2 1694.5,2360.5 1696.0,2363.2 1697.5,2360.4 1699.0,2363.1 1700.5,2360.2 1702.0,2363.1 1703.5,2359.9 1705.0,2362.6 1706.5,2359.9 1708.0,2362.3 1709.5,2359.8 1711.0,2361.9 1712.5,2358.5 1714.0,2362.2 1715.5,2359.0 1717.0,2362.7 1718.5,2359.7 1720.0,2363.2 1721.5,2360.5 1723.0,2363.0 1724.5,2360.1 1726.0,2362.6 1727.5,2359.0 1729.0,2362.4 1730.5,2359.5 1732.0,2363.0 1733.5,2359.2 1735.0,2362.3 1736.5,2359.5 1738.0,2362.1 1739.5,2359.9 1741.0,2362.9 1742.5,2359.9 1744.0,2362.1 1745.5,2359.0 1747.0,2361.2 1748.5,2358.8 1750.0,2361.8 1751.5,2360.2 1753.0,2363.4 1754.5,2360.1 1756.0,2362.7 1757.5,2360.7 1759.0,2363.2 1760.5,2359.1 1762.0,2361.8 1763.5,2358.3 1765.0,2361.8 1766.5,2359.8 1768.0,2363.2 1769.5,2360.0 1771.0,2362.5 1772.5,2359.1 1774.0,2361.8 1775.5,2359.6 1777.0,2362.9 1778.5,2360.1 1780.0,2363.5 1781.5,2360.3 1783.0,2363.3 1784.5,2360.7 1786.0,2362.6 1787.5,2360.0 1789.0,2362.0 1790.5,2359.8 1792.0,2361.5 1793.5,2358.5 1795.0,2361.8 1796.5,2358.5 1798.0,2361.4 1799.5,2359.8 1801.0,2362.6 1802.5,2359.4 1804.0,2362.3 1805.5,2358.8 1807.0,2361.7 1808.5,2358.9 1810.0,2362.8 1811.5,2358.9 1813.0,2363.0 1814.5,2359.8 1816.0,2361.6 1817.5,2359.2 1819.0,2361.9 1820.5,2359.2 1822.0,2361.8 1823.5,2359.3 1825.0,2362.7 1826.5,2359.9 1828.0,2362.8 1829.5,2360.1 1831.0,2362.0 1832.5,2359.3 1834.0,2362.1 1835.5,2359.4 1837.0,2361.9 1838.5,2358.9 1840.0,2362.2 1841.5,2359.5 1843.0,2361.9 1844.5,2359.6 1846.0,2361.7 1847.5,2359.2 1849.0,2363.0 1850.5,2359.4 1852.0,2362.8 1853.5,2359.8 1855.0,2362.6 1856.5,2358.6 1858.0,2361.9 1859.5,2360.5 1861.0,2363.3 1862.5,2360.8 1864.0,2363.2 1865.5,2359.9 1867.0,2363.2 1868.5,2360.1 1870.0,2364.0 1871.5,2360.8 1873.0,2363.6 1874.5,2359.2 1876.0,2362.8 1877.5,2359.9 1879.0,2363.5 1880.5,2361.0 1882.0,2362.9 1883.5,2359.5 1885.0,2362.2 1886.5,2358.9 1888.0,2361.8 1889.5,2359.7 1891.0,2362.6 1892.5,2359.9 1894.0,2363.0 1895.5,2359.5 1897.0,2363.2 1898.5,2359.9 1900.0,2362.6 1901.5,2359.8 1903.0,2361.8 1904.5,2358.5 1906.0,2361.9 1907.5,2358.9 1909.0,2362.4 1910.5,2359.1 1912.0,2362.3 1913.5,2359.4 1915.0,2362.9 1916.5,2360.6 1918.0,2363.5 1919.5,2360.9" fill="none" stroke="#B07ADE" stroke-width="9.3" stroke-linejoin="round" stroke-linecap="butt"/>
<polyline points="486.0,2363.6 487.5,2359.8 489.0,2362.3 490.5,2359.2 492.0,2361.5 493.5,2359.2 495.0,2363.1 496.5,2359.8 498.0,2362.1 499.5,2358.8 501.0,2362.2 502.5,2359.6 504.0,2362.0 505.5,2360.3 507.0,2362.1 508.5,2360.0 510.0,2362.3 511.5,2358.5 513.0,2361.3 514.5,2358.7 516.0,2362.1 517.5,2360.5 519.0,2363.0 520.5,2359.8 522.0,2362.6 523.5,2359.4 525.0,2363.0 526.5,2360.9 528.0,2363.5 529.5,2360.7 531.0,2363.2 532.5,2359.8 534.0,2363.0 535.5,2359.6 537.0,2362.2 538.5,2359.3 540.0,2362.8 541.5,2359.6 543.0,2362.1 544.5,2359.8 546.0,2362.3 547.5,2359.1 549.0,2362.9 550.5,2359.7 552.0,2363.2 553.5,2360.2 557.7,2361.1 557.7,2431.7 558.3,2431.7 558.3,2365.6 559.5,2365.0 561.0,2359.8 562.5,2361.5 564.0,2357.6 565.5,2361.1 567.0,2358.0 568.5,2361.7 570.0,2358.7 571.5,2362.2 573.0,2358.6 574.5,2363.1 576.0,2359.9 577.5,2362.3 579.0,2358.2 580.5,2361.9 582.0,2358.2 583.5,2360.5 585.0,2358.2 586.5,2360.1 588.0,2356.9 589.5,2360.2 591.0,2356.2 592.5,2360.8 594.0,2357.4 595.5,2361.0 597.0,2357.4 598.5,2360.7 600.0,2357.6 601.5,2360.2 603.0,2356.9 604.5,2360.3 606.0,2357.1 607.5,2360.5 609.0,2357.2 610.5,2361.0 612.0,2357.3 613.5,2360.5 615.0,2357.5 616.5,2361.1 618.0,2357.8 619.5,2360.5 621.0,2356.3 622.5,2360.0 624.0,2357.4 625.5,2360.2 627.0,2356.8 628.5,2359.4 630.0,2356.2 631.5,2359.6 633.0,2357.9 634.5,2361.0 636.0,2358.0 637.5,2361.6 639.0,2358.7 640.5,2361.4 642.0,2357.6 643.5,2360.5 645.0,2356.1 646.5,2359.9 648.0,2357.7 649.5,2361.3 651.0,2358.1 652.5,2361.2 654.0,2357.0 655.5,2359.3 657.0,2356.1 658.5,2359.6 660.0,2357.6 661.5,2360.5 663.0,2357.3 664.5,2359.3 666.0,2355.6 667.5,2360.1 669.0,2355.9 670.5,2359.6 672.0,2355.8 673.5,2360.5 675.0,2358.2 676.5,2361.1 678.0,2357.2 679.5,2359.6 681.0,2355.6 682.5,2359.3 684.0,2355.9 685.5,2360.5 687.0,2357.1 688.5,2360.0 690.0,2356.1 691.5,2358.5 693.0,2355.7 694.5,2359.6 696.0,2355.4 697.5,2359.4 699.0,2354.3 700.5,2358.2 702.0,2353.5 703.5,2357.2 705.0,2354.3 706.5,2356.9 708.0,2354.1 709.5,2357.5 711.0,2353.4 712.5,2356.3 714.0,2353.2 715.5,2354.2 717.0,2351.3 718.5,2353.9 720.0,2350.1 721.5,2353.7 723.0,2350.5 724.5,2353.5 726.0,2350.1 727.5,2351.9 729.0,2348.4 730.5,2351.1 732.0,2347.2 733.5,2349.9 735.0,2346.1 736.5,2349.3 738.0,2345.9 739.5,2348.7 741.0,2345.4 742.5,2349.6 744.0,2344.8 745.5,2348.4 747.0,2343.6 748.5,2347.6 750.0,2343.4 751.5,2348.2 753.0,2344.0 754.5,2348.2 756.0,2343.2 757.5,2346.0 759.0,2341.9 760.5,2345.4 762.0,2340.8 763.5,2344.5 765.0,2341.8 766.5,2345.0 768.0,2341.1 769.5,2345.3 771.0,2340.3 772.5,2344.2 774.0,2339.3 775.5,2343.0 777.0,2338.6 778.5,2342.4 780.0,2338.9 781.5,2341.9 783.0,2336.0 784.5,2338.6 786.0,2333.9 787.5,2337.2 789.0,2331.4 790.5,2334.6 792.0,2329.2 793.5,2332.7 795.0,2328.8 796.5,2330.6 798.0,2324.8 799.5,2327.3 801.0,2323.1 802.5,2325.5 804.0,2319.9 805.5,2322.9 807.0,2317.4 808.5,2321.4 810.0,2315.7 811.5,2319.2 813.0,2313.8 814.5,2317.6 816.0,2312.4 817.5,2316.9 819.0,2311.8 820.5,2314.6 822.0,2309.1 823.5,2311.8 825.0,2305.7 826.5,2308.4 828.0,2304.4 829.5,2306.1 831.0,2301.8 832.5,2304.7 834.0,2298.7 835.5,2301.8 837.0,2296.6 838.5,2299.7 840.0,2295.1 841.5,2299.0 843.0,2293.5 844.5,2297.1 846.0,2292.2 847.5,2295.2 849.0,2289.6 850.5,2295.3 852.0,2290.2 853.5,2294.5 855.0,2288.4 856.5,2291.2 858.0,2284.6 859.5,2288.6 861.0,2282.0 862.5,2285.8 864.0,2280.2 865.5,2285.5 867.0,2279.7 868.5,2282.7 870.0,2278.4 871.5,2280.3 873.0,2275.6 874.5,2278.0 876.0,2272.0 877.5,2276.3 879.0,2270.8 880.5,2275.6 882.0,2270.0 883.5,2272.9 885.0,2268.4 886.5,2270.7 888.0,2265.4 889.5,2268.1 891.0,2261.9 892.5,2267.4 894.0,2263.0 895.5,2268.3 897.0,2261.2 898.5,2266.1 900.0,2261.3 901.5,2264.0 903.0,2257.6 904.5,2259.0 906.0,2253.2 907.5,2258.2 909.0,2251.5 910.5,2255.2 912.0,2249.8 913.5,2253.4 915.0,2247.6 916.5,2251.9 918.0,2246.8 919.5,2250.5 921.0,2243.8 922.5,2246.5 924.0,2239.9 925.5,2244.8 927.0,2237.4 928.5,2244.6 930.0,2238.7 931.5,2242.9 933.0,2236.1 934.5,2241.7 936.0,2234.4 937.5,2239.5 939.0,2235.0 940.5,2237.3 942.0,2231.3 943.5,2234.5 945.0,2227.1 946.5,2231.8 948.0,2226.9 949.5,2232.1 951.0,2226.9 952.5,2230.6 954.0,2222.6 955.5,2226.6 957.0,2220.7 958.5,2226.0 960.0,2219.8 961.5,2224.7 963.0,2219.6 964.5,2221.6 966.0,2216.1 967.2,2215.2 969.0,2214.5 970.5,2223.8 972.0,2221.1 973.5,2228.0 975.0,2225.0 976.5,2229.9 978.0,2225.6 979.5,2233.4 981.0,2229.0 982.5,2234.7 984.0,2228.9 985.5,2233.2 987.0,2227.2 988.5,2234.2 990.0,2231.0 991.5,2236.3 993.0,2232.1 994.5,2238.3 996.0,2233.5 997.5,2242.3 999.0,2239.2 1000.5,2245.2 1002.0,2242.8 1003.5,2250.2 1005.0,2245.8 1006.5,2254.4 1008.0,2249.8 1009.5,2256.6 1011.0,2252.1 1012.5,2257.9 1014.0,2256.0 1015.5,2261.9 1017.0,2257.8 1018.5,2263.7 1020.0,2259.4 1021.5,2265.6 1023.0,2264.0 1024.5,2268.8 1026.0,2266.3 1027.5,2270.4 1029.0,2267.9 1030.5,2272.7 1032.0,2269.9 1033.5,2275.7 1035.0,2271.2 1036.5,2278.3 1038.0,2274.4 1039.5,2279.8 1041.0,2276.9 1042.5,2281.4 1044.0,2277.7 1045.5,2283.8 1047.0,2280.2 1048.5,2286.6 1050.0,2282.6 1051.5,2287.5 1053.0,2284.9 1054.5,2289.6 1056.0,2285.3 1057.5,2292.6 1059.0,2290.1 1060.5,2295.3 1062.0,2292.8 1063.5,2299.6 1065.0,2295.7 1066.5,2301.4 1068.0,2299.0 1069.5,2304.5 1071.0,2300.6 1072.5,2306.2 1074.0,2303.7 1075.5,2308.0 1077.0,2305.4 1078.5,2310.3 1080.0,2308.1 1081.5,2314.5 1083.0,2311.3 1084.5,2315.2 1086.0,2310.3 1087.5,2313.6 1089.0,2310.2 1090.5,2313.1 1092.0,2309.6 1093.5,2313.6 1095.0,2308.5 1096.5,2314.0 1098.0,2309.0 1099.5,2313.7 1101.0,2310.0 1102.5,2315.7 1104.0,2312.6 1105.5,2318.5 1107.0,2315.3 1108.5,2320.3 1110.0,2318.5 1111.5,2324.4 1113.0,2321.7 1114.5,2327.7 1116.0,2323.6 1117.5,2329.1 1119.0,2324.5 1120.5,2329.3 1122.0,2327.4 1123.5,2332.6 1125.0,2328.6 1126.5,2332.6 1128.0,2329.4 1129.5,2334.0 1131.0,2329.6 1132.5,2334.8 1134.0,2331.0 1135.5,2336.4 1137.0,2332.3 1138.5,2337.8 1140.0,2335.3 1141.5,2338.8 1143.0,2336.8 1144.5,2341.0 1146.0,2337.7 1147.5,2342.3 1149.0,2338.4 1150.5,2342.2 1152.0,2339.4 1153.5,2344.5 1155.0,2340.0 1156.5,2345.3 1158.0,2342.3 1159.5,2345.9 1161.0,2343.4 1162.5,2347.6 1164.0,2343.8 1165.5,2348.7 1167.0,2344.6 1168.5,2349.6 1170.0,2345.5 1171.5,2348.8 1173.0,2346.4 1174.5,2350.2 1176.0,2347.1 1177.5,2350.9 1179.0,2347.8 1180.5,2351.4 1182.0,2348.3 1183.5,2352.0 1185.0,2349.6 1186.5,2353.5 1188.0,2350.9 1189.5,2354.5 1191.0,2350.5 1192.5,2353.5 1194.0,2351.2 1195.5,2356.2 1197.0,2352.4 1198.5,2356.7 1200.0,2352.4 1201.5,2355.8 1203.0,2353.9 1204.5,2357.5 1206.0,2355.8 1207.5,2358.3 1209.0,2354.2 1210.5,2357.5 1212.0,2353.6 1213.5,2357.6 1215.0,2354.4 1216.5,2358.7 1218.0,2356.0 1219.5,2359.1 1221.0,2355.9 1222.5,2358.4 1224.0,2354.6 1225.5,2358.7 1227.0,2356.3 1228.5,2359.5 1230.0,2357.1 1231.5,2360.6 1233.0,2357.2 1234.5,2360.6 1236.0,2358.2 1237.5,2361.9 1239.0,2358.9 1240.5,2362.1 1242.0,2358.8 1243.5,2361.8 1245.0,2358.7 1246.5,2363.0 1248.0,2359.6 1249.5,2362.8 1251.0,2358.5 1252.5,2361.6 1254.0,2358.8 1255.5,2361.6 1257.0,2359.3 1258.5,2362.4 1260.0,2360.2 1261.5,2363.4 1263.0,2360.3 1264.5,2363.3 1266.0,2360.4 1267.5,2363.1 1269.0,2360.3 1270.5,2363.1 1272.0,2360.8 1273.5,2363.9 1275.0,2361.0 1276.5,2363.4 1278.0,2359.8 1279.5,2364.5 1281.0,2361.1 1282.5,2365.0 1284.0,2362.1 1285.5,2365.0 1287.0,2362.6 1288.5,2366.2 1290.0,2363.1 1291.5,2365.4 1293.0,2363.0 1294.5,2365.5 1296.0,2361.9 1297.5,2365.2 1299.0,2362.3 1300.5,2366.2 1302.0,2363.4 1303.5,2366.9 1305.0,2364.2 1306.5,2367.0 1308.0,2364.8 1309.5,2368.0 1311.0,2364.3 1312.5,2366.6 1314.0,2363.1 1315.5,2365.9 1317.0,2363.7 1318.5,2367.8 1320.0,2365.5 1321.5,2367.4 1323.0,2364.9 1324.5,2366.7 1326.0,2364.7 1327.5,2368.5 1329.0,2365.5 1330.5,2368.0 1332.0,2365.0 1333.5,2367.8 1335.0,2364.7 1336.5,2367.5 1338.0,2365.0 1339.5,2368.7 1341.0,2366.0 1342.5,2369.1 1344.0,2365.9 1345.5,2368.6 1347.0,2365.7 1348.5,2368.3 1350.0,2365.8 1351.5,2369.3 1353.0,2366.8 1354.5,2369.3 1356.0,2366.5 1357.5,2368.5 1359.0,2365.5 1360.5,2368.6 1362.0,2365.9 1363.5,2368.9 1365.0,2366.4 1366.5,2369.8 1368.0,2367.2 1369.5,2370.0 1371.0,2367.6 1372.5,2370.3 1374.0,2366.8 1375.5,2369.7 1376.8,2368.3 1377.6,2300.7 1378.2,2300.7 1378.6,2361.1 1379.8,2361.4 1381.3,2359.5 1382.8,2361.9 1384.3,2359.6 1385.8,2362.7 1387.3,2359.0 1388.8,2362.1 1390.3,2359.0 1391.8,2362.2 1393.3,2358.8 1394.8,2361.0 1396.3,2359.7 1397.8,2361.7 1399.3,2359.2 1400.8,2362.6 1402.3,2359.3 1403.8,2362.2 1405.3,2359.6 1406.8,2362.4 1408.3,2360.1 1409.8,2362.5 1411.3,2359.8 1412.8,2362.4 1414.3,2359.4 1415.8,2362.8 1417.3,2359.2 1418.8,2362.9 1420.3,2359.6 1421.8,2363.0 1423.3,2359.4 1424.8,2363.1 1426.3,2359.9 1427.8,2362.6 1429.3,2360.4 1430.8,2362.2 1432.3,2360.3 1433.8,2363.0 1435.3,2360.1 1436.8,2362.2 1438.3,2360.0 1439.8,2362.7 1441.3,2359.7 1442.8,2362.0 1444.3,2359.2 1445.8,2361.9 1447.3,2359.0 1448.8,2363.5 1450.3,2361.1 1451.8,2363.7 1453.3,2361.8 1454.8,2364.0 1456.3,2361.7 1457.8,2363.9 1459.3,2360.5 1460.8,2362.8 1462.3,2359.1 1463.8,2362.5 1465.3,2359.7 1466.8,2362.3 1468.3,2358.8 1469.8,2362.1 1471.3,2359.7 1472.8,2362.7 1474.3,2360.1 1475.8,2363.5 1477.3,2360.1 1478.8,2362.7 1480.3,2359.9 1481.8,2362.3 1483.3,2359.0 1484.8,2361.7 1486.3,2358.9 1487.8,2361.7 1489.3,2359.3 1490.8,2362.6 1492.3,2359.4 1493.8,2362.4 1495.3,2360.4 1496.8,2362.9 1498.3,2360.5 1499.8,2363.3 1501.3,2360.7 1502.8,2364.1 1504.3,2360.4 1505.8,2363.3 1507.3,2360.1 1508.8,2362.8 1510.3,2360.8 1511.8,2362.7 1513.3,2359.8 1514.8,2362.6 1516.3,2359.3 1517.8,2363.7 1519.3,2360.7 1520.8,2364.2 1522.3,2360.3 1523.8,2363.5 1525.3,2360.3 1526.8,2362.7 1528.3,2359.9 1529.8,2362.0 1531.3,2359.0 1532.8,2361.4 1534.3,2358.7 1535.8,2362.6 1537.3,2360.2 1538.8,2362.9 1540.3,2360.0 1541.8,2363.2 1543.3,2360.5 1544.8,2362.8 1546.3,2360.6 1547.8,2362.6 1549.3,2360.0 1550.8,2362.9 1552.3,2359.5 1553.8,2362.0 1555.3,2359.3 1556.8,2362.6 1558.3,2360.5 1559.8,2364.0 1561.3,2360.6 1562.8,2363.0 1564.3,2359.3 1565.8,2362.9 1567.3,2360.4 1568.8,2362.6 1570.3,2360.5 1571.8,2361.8 1573.3,2359.3 1574.8,2363.4 1576.3,2360.5 1577.8,2362.8 1579.3,2360.4 1580.8,2362.9 1582.3,2359.8 1583.8,2362.9 1585.3,2361.4 1586.8,2363.0 1588.3,2360.4 1589.8,2363.0 1591.3,2360.2 1592.8,2363.1 1594.3,2361.0 1595.8,2362.7 1597.3,2359.6 1598.8,2363.2 1600.3,2359.9 1601.8,2363.8 1603.3,2360.7 1604.8,2363.6 1606.3,2360.4 1607.8,2363.0 1609.3,2360.2 1610.8,2363.0 1612.3,2360.9 1613.8,2363.6 1615.3,2361.1 1616.8,2363.6 1618.3,2359.6 1619.8,2362.8 1621.3,2359.0 1622.8,2363.1 1624.3,2359.8 1625.8,2362.1 1627.3,2360.0 1628.8,2363.3 1630.3,2360.6 1631.8,2362.9 1633.3,2360.1 1634.8,2363.1 1636.3,2359.7 1637.8,2363.2 1639.3,2360.1 1640.8,2362.4 1642.3,2359.4 1643.8,2361.2 1645.3,2359.3 1646.8,2363.3 1648.3,2359.5 1649.8,2362.6 1651.3,2359.6 1652.8,2361.7 1654.3,2359.7 1655.8,2361.7 1657.3,2360.5 1658.8,2362.6 1660.3,2359.5 1661.8,2362.9 1663.3,2359.5 1664.8,2363.1 1666.3,2359.5 1667.8,2362.5 1669.3,2359.1 1670.8,2361.8 1672.3,2359.1 1673.8,2363.2 1675.3,2360.1 1676.8,2362.3 1678.3,2359.5 1679.8,2362.4 1681.3,2359.4 1682.8,2362.6 1684.3,2359.2 1685.8,2361.0 1687.3,2359.0 1688.8,2361.7 1690.3,2359.6 1691.8,2363.5 1693.3,2361.2 1694.8,2364.1 1696.3,2360.8 1697.8,2363.2 1699.3,2359.5 1700.8,2362.8 1702.3,2360.2 1703.8,2362.7 1705.3,2358.7 1706.8,2361.4 1708.3,2358.6 1709.8,2362.0 1711.3,2359.6 1712.8,2363.4 1714.3,2360.6 1715.8,2362.6 1717.3,2359.6 1718.8,2361.8 1720.3,2359.8 1721.8,2363.3 1723.3,2360.5 1724.8,2362.9 1726.3,2360.1 1727.8,2361.9 1729.3,2358.3 1730.8,2362.6 1732.3,2359.7 1733.8,2363.3 1735.3,2360.0 1736.8,2363.2 1738.3,2359.7 1739.8,2363.0 1741.3,2360.3 1742.8,2363.6 1744.3,2360.1 1745.8,2363.0 1747.3,2359.8 1748.8,2363.1 1750.3,2359.9 1751.8,2361.8 1753.3,2358.7 1754.8,2362.1 1756.3,2359.8 1757.8,2361.9 1759.3,2360.0 1760.8,2362.4 1762.3,2360.7 1763.8,2363.2 1765.3,2359.5 1766.8,2363.4 1768.3,2359.1 1769.8,2362.7 1771.3,2359.4 1772.8,2363.0 1774.3,2359.6 1775.8,2362.4 1777.3,2360.6 1778.8,2363.9 1780.3,2360.3 1781.8,2363.3 1783.3,2359.5 1784.8,2361.6 1786.3,2359.2 1787.8,2363.1 1789.3,2360.0 1790.8,2362.5 1792.3,2360.4 1793.8,2361.6 1795.3,2359.1 1796.8,2362.5 1798.3,2359.0 1799.8,2362.8 1801.3,2360.1 1802.8,2363.4 1804.3,2360.3 1805.8,2362.1 1807.3,2360.0 1808.8,2362.4 1810.3,2358.9 1811.8,2362.5 1813.3,2359.4 1814.8,2362.2 1816.3,2359.3 1817.8,2362.4 1819.3,2359.0 1820.8,2361.7 1822.3,2359.6 1823.8,2362.2 1825.3,2358.6 1826.8,2362.9 1828.3,2359.4 1829.8,2363.0 1831.3,2360.8 1832.8,2363.9 1834.3,2361.0 1835.8,2363.4 1837.3,2359.2 1838.8,2362.0 1840.3,2359.6 1841.8,2361.5 1843.3,2359.0 1844.8,2362.3 1846.3,2359.8 1847.8,2362.5 1849.3,2359.5 1850.8,2363.4 1852.3,2360.2 1853.8,2362.7 1855.3,2360.4 1856.8,2362.4 1858.3,2360.2 1859.8,2362.6 1861.3,2359.7 1862.8,2362.8 1864.3,2359.4 1865.8,2362.3 1867.3,2359.9 1868.8,2362.4 1870.3,2358.6 1871.8,2362.0 1873.3,2358.1 1874.8,2361.8 1876.3,2359.6 1877.8,2362.1 1879.3,2359.2 1880.8,2362.7 1882.3,2359.4 1883.8,2362.3 1885.3,2359.2 1886.8,2361.9 1888.3,2358.5 1889.8,2361.6 1891.3,2359.5 1892.8,2362.7 1894.3,2359.6 1895.8,2362.6 1897.3,2359.0 1898.8,2362.4 1900.3,2359.3 1901.8,2363.3 1903.3,2360.3 1904.8,2363.6 1906.3,2360.6 1907.8,2362.2 1909.3,2359.0 1910.8,2361.8 1912.3,2359.8 1913.8,2362.7 1915.3,2359.9 1916.8,2363.0 1918.3,2359.3 1919.8,2361.5" fill="none" stroke="#CC9900" stroke-width="9.3" stroke-linejoin="round" stroke-linecap="butt"/>
<polyline points="486.0,2362.8 487.5,2360.3 489.0,2361.5 490.5,2358.1 492.0,2361.8 493.5,2358.0 495.0,2362.6 496.5,2360.2 498.0,2362.3 499.5,2360.1 501.0,2362.1 502.5,2359.2 504.0,2362.7 505.5,2360.3 507.0,2363.2 508.5,2360.9 510.0,2363.0 511.5,2360.5 513.0,2362.9 514.5,2360.4 516.0,2362.7 517.5,2360.4 519.0,2363.2 520.5,2359.8 522.0,2362.4 523.5,2359.8 525.0,2362.7 526.5,2359.8 528.0,2362.2 529.5,2359.2 531.0,2362.3 532.5,2358.0 534.0,2362.0 535.5,2359.2 537.0,2362.0 538.5,2359.3 540.0,2362.6 541.5,2359.0 543.0,2361.4 544.5,2359.5 546.0,2362.1 547.5,2359.8 549.0,2362.4 550.5,2359.4 552.0,2362.9 553.5,2360.0 557.7,2361.1 557.7,2431.7 558.3,2431.7 558.3,2365.6 559.5,2365.4 561.0,2362.2 562.5,2363.0 564.0,2359.8 565.5,2362.5 567.0,2359.1 568.5,2361.7 570.0,2358.3 571.5,2362.0 573.0,2358.6 574.5,2361.6 576.0,2357.3 577.5,2359.8 579.0,2357.0 580.5,2361.2 582.0,2357.4 583.5,2362.2 585.0,2358.8 586.5,2361.5 588.0,2356.7 589.5,2359.8 591.0,2356.8 592.5,2360.2 594.0,2357.2 595.5,2361.2 597.0,2357.9 598.5,2360.0 600.0,2358.0 601.5,2360.7 603.0,2357.4 604.5,2360.6 606.0,2356.7 607.5,2359.5 609.0,2357.3 610.5,2360.8 612.0,2357.1 613.5,2360.1 615.0,2357.6 616.5,2360.5 618.0,2355.6 619.5,2358.4 621.0,2356.1 622.5,2359.4 624.0,2357.2 625.5,2359.5 627.0,2356.1 628.5,2360.3 630.0,2357.4 631.5,2360.8 633.0,2358.0 634.5,2360.0 636.0,2356.9 637.5,2360.2 639.0,2356.4 640.5,2360.7 642.0,2356.8 643.5,2360.7 645.0,2358.8 646.5,2360.9 648.0,2358.0 649.5,2359.8 651.0,2356.2 652.5,2359.6 654.0,2356.9 655.5,2360.7 657.0,2357.7 658.5,2361.3 660.0,2358.1 661.5,2360.5 663.0,2358.0 664.5,2359.9 666.0,2357.0 667.5,2361.1 669.0,2358.1 670.5,2361.0 672.0,2357.0 673.5,2360.3 675.0,2357.0 676.5,2360.1 678.0,2357.1 679.5,2361.2 681.0,2357.1 682.5,2360.6 684.0,2356.9 685.5,2359.8 687.0,2357.5 688.5,2360.4 690.0,2356.9 691.5,2360.1 693.0,2356.5 694.5,2360.1 696.0,2357.2 697.5,2360.5 699.0,2357.0 700.5,2359.2 702.0,2356.5 703.5,2359.8 705.0,2355.5 706.5,2360.6 708.0,2357.3 709.5,2361.0 711.0,2357.4 712.5,2361.0 714.0,2356.7 715.5,2360.9 717.0,2357.2 718.5,2360.3 720.0,2357.1 721.5,2360.0 723.0,2356.2 724.5,2359.4 726.0,2356.1 727.5,2359.3 729.0,2356.0 730.5,2358.8 732.0,2354.8 733.5,2358.6 735.0,2355.0 736.5,2358.2 738.0,2355.1 739.5,2357.9 741.0,2355.1 742.5,2357.1 744.0,2353.3 745.5,2356.9 747.0,2353.0 748.5,2356.0 750.0,2352.3 751.5,2355.3 753.0,2350.7 754.5,2354.7 756.0,2350.2 757.5,2353.7 759.0,2351.0 760.5,2353.5 762.0,2350.3 763.5,2353.0 765.0,2348.6 766.5,2352.3 768.0,2349.3 769.5,2351.4 771.0,2347.0 772.5,2351.4 774.0,2346.4 775.5,2350.2 777.0,2346.5 778.5,2350.3 780.0,2345.8 781.5,2349.8 783.0,2344.7 784.5,2348.8 786.0,2346.3 787.5,2349.7 789.0,2346.7 790.5,2349.3 792.0,2344.7 793.5,2347.7 795.0,2343.4 796.5,2346.7 798.0,2343.9 799.5,2347.4 801.0,2344.0 802.5,2348.4 804.0,2343.0 805.5,2347.0 807.0,2342.5 808.5,2345.3 810.0,2341.3 811.5,2344.7 813.0,2341.1 814.5,2344.6 816.0,2339.8 817.5,2343.1 819.0,2339.1 820.5,2343.2 822.0,2339.0 823.5,2342.6 825.0,2336.6 826.5,2340.7 828.0,2336.8 829.5,2339.9 831.0,2335.7 832.5,2339.4 834.0,2334.4 835.5,2337.3 837.0,2332.4 838.5,2335.5 840.0,2331.0 841.5,2334.2 843.0,2328.9 844.5,2331.0 846.0,2325.4 847.5,2328.5 849.0,2322.3 850.5,2326.1 852.0,2320.9 853.5,2325.3 855.0,2319.0 856.5,2322.3 858.0,2317.1 859.5,2318.2 861.0,2313.5 862.5,2315.7 864.0,2310.2 865.5,2314.7 867.0,2308.7 868.5,2311.6 870.0,2305.9 871.5,2309.4 873.0,2303.5 874.5,2307.5 876.0,2302.9 877.5,2305.0 879.0,2301.9 880.5,2304.1 882.0,2297.7 883.5,2303.0 885.0,2296.3 886.5,2299.0 888.0,2293.5 889.5,2296.9 891.0,2291.2 892.5,2293.0 894.0,2287.5 895.5,2290.9 897.0,2286.1 898.5,2291.0 900.0,2285.8 901.5,2288.1 903.0,2280.6 904.5,2284.5 906.0,2280.2 907.5,2283.8 909.0,2277.4 910.5,2282.7 912.0,2276.8 913.5,2281.0 915.0,2275.7 916.5,2279.5 918.0,2275.3 919.5,2279.2 921.0,2273.8 922.5,2277.4 924.0,2271.1 925.5,2276.3 927.0,2270.2 928.5,2273.0 930.0,2269.2 931.5,2272.7 933.0,2266.8 934.5,2271.6 936.0,2266.2 937.5,2270.3 939.0,2263.3 940.5,2267.4 942.0,2262.0 943.5,2265.9 945.0,2259.4 946.5,2264.7 948.0,2258.8 949.5,2264.1 951.0,2258.4 952.5,2262.9 954.0,2257.1 955.5,2261.2 957.0,2256.3 958.5,2258.8 960.0,2253.9 961.5,2256.5 963.0,2251.2 964.5,2255.6 966.0,2249.0 967.5,2255.3 969.0,2248.0 970.5,2254.1 972.0,2248.0 973.5,2252.2 975.0,2245.5 976.5,2250.3 978.0,2246.8 979.5,2251.3 981.0,2245.3 982.5,2250.0 984.0,2244.4 985.5,2247.8 987.0,2244.0 988.5,2248.9 990.0,2243.2 991.5,2247.2 993.0,2241.3 994.5,2245.9 996.0,2242.0 997.5,2245.1 999.0,2238.5 1000.5,2241.6 1002.0,2234.8 1003.5,2238.5 1005.0,2230.6 1006.5,2235.1 1008.0,2227.9 1009.5,2232.1 1011.0,2227.0 1012.5,2230.0 1014.0,2224.5 1015.5,2228.1 1017.0,2221.1 1018.5,2224.3 1020.0,2218.1 1021.5,2223.2 1023.0,2218.9 1024.5,2224.0 1026.0,2219.0 1027.5,2223.6 1028.6,2219.4 1030.5,2226.2 1032.0,2221.5 1033.5,2227.5 1035.0,2224.7 1036.5,2229.6 1038.0,2227.0 1039.5,2232.8 1041.0,2226.1 1042.5,2231.7 1044.0,2226.8 1045.5,2232.2 1047.0,2226.2 1048.5,2232.5 1050.0,2226.8 1051.5,2233.2 1053.0,2229.9 1054.5,2234.8 1056.0,2231.8 1057.5,2239.0 1059.0,2234.5 1060.5,2242.2 1062.0,2238.0 1063.5,2244.3 1065.0,2241.3 1066.5,2248.0 1068.0,2244.6 1069.5,2251.0 1071.0,2246.2 1072.5,2251.6 1074.0,2246.5 1075.5,2252.6 1077.0,2250.0 1078.5,2255.8 1080.0,2253.3 1081.5,2258.4 1083.0,2254.9 1084.5,2260.0 1086.0,2258.5 1087.5,2263.4 1089.0,2261.1 1090.5,2268.4 1092.0,2263.9 1093.5,2270.3 1095.0,2266.7 1096.5,2272.4 1098.0,2268.8 1099.5,2273.7 1101.0,2269.2 1102.5,2273.9 1104.0,2270.9 1105.5,2276.2 1107.0,2273.0 1108.5,2279.1 1110.0,2274.9 1111.5,2281.1 1113.0,2277.3 1114.5,2281.2 1116.0,2277.5 1117.5,2282.9 1119.0,2279.8 1120.5,2286.0 1122.0,2282.1 1123.5,2287.5 1125.0,2283.2 1126.5,2289.4 1128.0,2286.1 1129.5,2293.9 1131.0,2289.0 1132.5,2295.6 1134.0,2289.2 1135.5,2293.7 1137.0,2289.7 1138.5,2295.0 1140.0,2291.6 1141.5,2297.2 1143.0,2294.3 1144.5,2299.6 1146.0,2296.2 1147.5,2300.9 1149.0,2297.4 1150.5,2301.8 1152.0,2297.5 1153.5,2301.8 1155.0,2297.0 1156.5,2301.8 1158.0,2299.7 1159.5,2303.7 1161.0,2299.7 1162.5,2305.1 1164.0,2299.7 1165.5,2305.7 1167.0,2304.4 1168.5,2310.4 1170.0,2306.8 1171.5,2312.7 1173.0,2309.4 1174.5,2315.0 1176.0,2311.5 1177.5,2315.4 1179.0,2311.6 1180.5,2314.9 1182.0,2311.8 1183.5,2315.5 1185.0,2313.0 1186.5,2317.9 1188.0,2314.8 1189.5,2319.5 1191.0,2315.0 1192.5,2320.3 1194.0,2317.2 1195.5,2323.4 1197.0,2320.3 1198.5,2326.1 1200.0,2322.6 1201.5,2326.3 1203.0,2322.6 1204.5,2328.7 1206.0,2325.7 1207.5,2330.7 1209.0,2326.6 1210.5,2330.5 1212.0,2327.0 1213.5,2331.6 1215.0,2330.3 1216.5,2334.1 1218.0,2330.6 1219.5,2333.5 1221.0,2329.6 1222.5,2334.2 1224.0,2330.7 1225.5,2336.5 1227.0,2332.6 1228.5,2337.0 1230.0,2333.4 1231.5,2338.8 1233.0,2335.3 1234.5,2339.9 1236.0,2337.3 1237.5,2341.1 1239.0,2338.3 1240.5,2342.7 1242.0,2339.0 1243.5,2343.1 1245.0,2340.2 1246.5,2345.5 1248.0,2343.1 1249.5,2346.9 1251.0,2343.3 1252.5,2346.4 1254.0,2343.3 1255.5,2346.3 1257.0,2343.3 1258.5,2348.6 1260.0,2344.9 1261.5,2350.0 1263.0,2346.3 1264.5,2349.4 1266.0,2345.9 1267.5,2349.5 1269.0,2346.8 1270.5,2350.3 1272.0,2346.4 1273.5,2351.0 1275.0,2347.6 1276.5,2351.8 1278.0,2348.6 1279.5,2352.5 1281.0,2349.1 1282.5,2353.9 1284.0,2350.4 1285.5,2353.9 1287.0,2349.6 1288.5,2353.6 1290.0,2351.0 1291.5,2354.3 1293.0,2351.5 1294.5,2355.2 1296.0,2351.6 1297.5,2354.9 1299.0,2351.8 1300.5,2356.0 1302.0,2352.8 1303.5,2355.8 1305.0,2352.6 1306.5,2355.7 1308.0,2353.1 1309.5,2357.6 1311.0,2354.8 1312.5,2358.3 1314.0,2355.1 1315.5,2358.8 1317.0,2356.0 1318.5,2358.7 1320.0,2354.7 1321.5,2358.0 1323.0,2354.6 1324.5,2358.0 1326.0,2355.7 1327.5,2358.8 1329.0,2356.4 1330.5,2358.9 1332.0,2355.7 1333.5,2360.0 1335.0,2358.0 1336.5,2361.9 1338.0,2357.9 1339.5,2360.8 1341.0,2357.9 1342.5,2361.2 1344.0,2358.1 1345.5,2361.0 1347.0,2359.1 1348.5,2362.0 1350.0,2358.7 1351.5,2361.9 1353.0,2358.7 1354.5,2362.6 1356.0,2359.3 1357.5,2362.1 1359.0,2359.8 1360.5,2362.2 1362.0,2359.7 1363.5,2362.8 1365.0,2360.3 1366.5,2364.0 1368.0,2360.8 1369.5,2363.8 1371.0,2360.9 1372.5,2363.2 1374.0,2360.8 1375.5,2364.3 1377.0,2361.6 1378.5,2365.1 1380.0,2361.7 1381.5,2364.7 1383.0,2361.6 1384.5,2364.4 1386.0,2361.9 1387.5,2364.1 1389.0,2361.7 1390.5,2364.4 1392.0,2361.5 1393.5,2365.0 1395.0,2362.5 1396.5,2365.2 1398.0,2362.0 1399.5,2364.6 1401.0,2361.5 1402.5,2364.8 1404.0,2362.6 1405.5,2365.1 1407.0,2362.7 1408.5,2366.1 1410.0,2363.2 1411.5,2366.5 1413.0,2363.0 1414.5,2367.0 1416.0,2363.8 1417.5,2366.8 1419.0,2363.5 1420.5,2366.6 1422.0,2363.9 1423.5,2367.2 1425.0,2365.5 1426.5,2368.4 1428.0,2365.7 1429.5,2369.3 1431.0,2365.3 1432.5,2368.6 1434.0,2364.9 1435.5,2368.0 1437.0,2364.9 1438.5,2367.8 1440.0,2366.2 1441.5,2369.4 1443.0,2365.4 1444.5,2369.2 1446.0,2365.9 1447.5,2368.6 1449.0,2366.4 1450.5,2368.7 1452.0,2365.7 1453.5,2369.4 1455.0,2366.5 1456.5,2369.2 1458.0,2366.3 1459.5,2368.6 1461.0,2366.2 1462.5,2368.3 1464.0,2365.9 1465.5,2368.7 1467.0,2366.8 1468.5,2369.8 1470.0,2366.7 1471.5,2370.0 1473.0,2367.1 1474.5,2369.8 1476.0,2366.6 1477.5,2369.9 1479.0,2366.3 1480.5,2369.2 1482.0,2367.1 1483.5,2369.1 1485.0,2366.2 1486.5,2369.9 1488.0,2366.1 1489.5,2370.3 1491.0,2367.6 1492.5,2370.2 1494.0,2367.9 1495.5,2371.1 1497.0,2367.6 1498.5,2371.0 1500.0,2367.6 1501.5,2369.7 1503.0,2367.0 1504.5,2371.1 1506.0,2368.8 1507.5,2370.5 1509.0,2368.7 1510.5,2370.2 1512.0,2367.5 1513.6,2369.2 1514.4,2297.3 1515.0,2297.3 1515.4,2361.1 1516.6,2363.2 1518.1,2360.1 1519.6,2361.8 1521.1,2359.0 1522.6,2361.6 1524.1,2359.1 1525.6,2362.5 1527.1,2360.1 1528.6,2362.6 1530.1,2359.4 1531.6,2362.7 1533.1,2359.9 1534.6,2362.7 1536.1,2359.7 1537.6,2361.7 1539.1,2359.4 1540.6,2361.9 1542.1,2358.6 1543.6,2362.0 1545.1,2359.7 1546.6,2362.4 1548.1,2359.8 1549.6,2362.7 1551.1,2360.3 1552.6,2362.4 1554.1,2358.5 1555.6,2362.2 1557.1,2358.8 1558.6,2361.6 1560.1,2359.1 1561.6,2362.7 1563.1,2359.5 1564.6,2362.4 1566.1,2359.6 1567.6,2362.5 1569.1,2360.1 1570.6,2363.6 1572.1,2360.6 1573.6,2363.4 1575.1,2360.0 1576.6,2363.3 1578.1,2360.3 1579.6,2362.5 1581.1,2360.3 1582.6,2363.3 1584.1,2360.3 1585.6,2363.7 1587.1,2360.9 1588.6,2362.9 1590.1,2359.3 1591.6,2362.2 1593.1,2358.6 1594.6,2361.8 1596.1,2358.9 1597.6,2362.9 1599.1,2359.7 1600.6,2362.3 1602.1,2359.5 1603.6,2362.2 1605.1,2359.7 1606.6,2362.0 1608.1,2359.1 1609.6,2361.7 1611.1,2358.9 1612.6,2362.0 1614.1,2359.4 1615.6,2362.2 1617.1,2359.5 1618.6,2362.1 1620.1,2359.4 1621.6,2361.5 1623.1,2359.4 1624.6,2362.2 1626.1,2360.1 1627.6,2363.0 1629.1,2359.8 1630.6,2362.9 1632.1,2358.5 1633.6,2360.9 1635.1,2357.7 1636.6,2362.0 1638.1,2359.2 1639.6,2361.6 1641.1,2359.8 1642.6,2362.3 1644.1,2359.1 1645.6,2362.2 1647.1,2359.7 1648.6,2362.9 1650.1,2359.7 1651.6,2362.7 1653.1,2359.4 1654.6,2362.3 1656.1,2359.6 1657.6,2362.9 1659.1,2359.1 1660.6,2362.4 1662.1,2358.9 1663.6,2361.9 1665.1,2358.6 1666.6,2361.4 1668.1,2359.5 1669.6,2363.1 1671.1,2360.9 1672.6,2363.8 1674.1,2359.7 1675.6,2362.7 1677.1,2359.5 1678.6,2363.4 1680.1,2361.0 1681.6,2363.3 1683.1,2360.1 1684.6,2363.2 1686.1,2360.2 1687.6,2363.5 1689.1,2360.0 1690.6,2362.4 1692.1,2359.4 1693.6,2361.7 1695.1,2359.7 1696.6,2361.8 1698.1,2359.4 1699.6,2361.6 1701.1,2358.4 1702.6,2361.8 1704.1,2359.5 1705.6,2363.1 1707.1,2360.5 1708.6,2363.6 1710.1,2361.2 1711.6,2362.5 1713.1,2360.2 1714.6,2362.1 1716.1,2359.5 1717.6,2361.7 1719.1,2358.7 1720.6,2362.2 1722.1,2360.3 1723.6,2362.8 1725.1,2360.1 1726.6,2363.1 1728.1,2360.2 1729.6,2362.5 1731.1,2360.1 1732.6,2362.5 1734.1,2359.9 1735.6,2362.7 1737.1,2360.2 1738.6,2362.9 1740.1,2359.5 1741.6,2362.3 1743.1,2360.0 1744.6,2362.8 1746.1,2360.2 1747.6,2363.6 1749.1,2360.9 1750.6,2363.8 1752.1,2360.8 1753.6,2362.9 1755.1,2359.8 1756.6,2363.9 1758.1,2361.0 1759.6,2363.8 1761.1,2360.1 1762.6,2361.9 1764.1,2359.3 1765.6,2361.4 1767.1,2359.2 1768.6,2363.3 1770.1,2360.1 1771.6,2363.4 1773.1,2359.9 1774.6,2362.7 1776.1,2359.6 1777.6,2361.7 1779.1,2358.6 1780.6,2361.6 1782.1,2358.7 1783.6,2362.1 1785.1,2359.8 1786.6,2361.9 1788.1,2359.2 1789.6,2362.0 1791.1,2360.1 1792.6,2363.6 1794.1,2360.6 1795.6,2363.8 1797.1,2360.7 1798.6,2363.0 1800.1,2359.6 1801.6,2362.3 1803.1,2360.5 1804.6,2362.8 1806.1,2360.0 1807.6,2362.8 1809.1,2358.9 1810.6,2362.1 1812.1,2359.6 1813.6,2361.6 1815.1,2359.6 1816.6,2362.3 1818.1,2359.8 1819.6,2362.5 1821.1,2359.6 1822.6,2362.7 1824.1,2360.3 1825.6,2363.4 1827.1,2360.1 1828.6,2363.1 1830.1,2360.4 1831.6,2363.5 1833.1,2360.7 1834.6,2364.1 1836.1,2360.5 1837.6,2361.9 1839.1,2359.7 1840.6,2361.2 1842.1,2358.9 1843.6,2362.4 1845.1,2360.0 1846.6,2363.2 1848.1,2359.8 1849.6,2362.5 1851.1,2359.6 1852.6,2362.6 1854.1,2359.2 1855.6,2362.2 1857.1,2359.6 1858.6,2361.6 1860.1,2359.3 1861.6,2361.8 1863.1,2359.2 1864.6,2361.7 1866.1,2357.8 1867.6,2361.5 1869.1,2358.2 1870.6,2362.4 1872.1,2359.7 1873.6,2363.5 1875.1,2360.3 1876.6,2363.0 1878.1,2359.8 1879.6,2361.8 1881.1,2359.7 1882.6,2362.2 1884.1,2359.2 1885.6,2362.8 1887.1,2359.8 1888.6,2362.7 1890.1,2359.6 1891.6,2363.7 1893.1,2359.7 1894.6,2363.1 1896.1,2359.9 1897.6,2361.6 1899.1,2358.4 1900.6,2361.9 1902.1,2360.1 1903.6,2361.9 1905.1,2359.6 1906.6,2363.2 1908.1,2359.3 1909.6,2361.9 1911.1,2359.4 1912.6,2361.9 1914.1,2360.3 1915.6,2363.4 1917.1,2360.4 1918.6,2362.3 1920.1,2358.6" fill="none" stroke="#00C8CC" stroke-width="9.3" stroke-linejoin="round" stroke-linecap="butt"/>
<polyline points="486.0,2362.4 487.5,2358.8 489.0,2362.2 490.5,2359.1 492.0,2362.4 493.5,2360.0 495.0,2363.3 496.5,2359.3 498.0,2362.7 499.5,2361.0 501.0,2363.2 502.5,2359.9 504.0,2362.8 505.5,2360.0 507.0,2362.8 508.5,2359.2 510.0,2362.5 511.5,2359.5 513.0,2362.4 514.5,2360.1 516.0,2363.0 517.5,2359.3 519.0,2363.0 520.5,2358.9 522.0,2360.6 523.5,2359.5 525.0,2362.1 526.5,2359.3 528.0,2362.1 529.5,2358.3 531.0,2360.8 532.5,2357.4 534.0,2360.8 535.5,2358.8 537.0,2362.5 538.5,2360.0 540.0,2362.6 541.5,2360.0 543.0,2362.5 544.5,2359.9 546.0,2363.3 547.5,2359.0 549.0,2362.0 550.5,2358.9 552.0,2361.9 553.5,2359.3 557.7,2361.1 557.7,2431.7 558.3,2431.7 558.3,2365.6 559.5,2364.3 561.0,2360.0 562.5,2361.3 564.0,2358.1 565.5,2361.2 567.0,2358.5 568.5,2362.0 570.0,2359.8 571.5,2361.8 573.0,2358.4 574.5,2361.6 576.0,2358.7 577.5,2361.9 579.0,2358.1 580.5,2362.1 582.0,2358.0 583.5,2360.7 585.0,2356.9 586.5,2360.4 588.0,2357.7 589.5,2361.6 591.0,2359.2 592.5,2361.7 594.0,2358.0 595.5,2360.8 597.0,2358.6 598.5,2361.9 600.0,2358.0 601.5,2361.8 603.0,2359.0 604.5,2362.4 606.0,2359.5 607.5,2361.5 609.0,2358.9 610.5,2361.3 612.0,2357.6 613.5,2360.4 615.0,2357.9 616.5,2360.5 618.0,2356.7 619.5,2360.1 621.0,2357.6 622.5,2359.8 624.0,2357.6 625.5,2360.2 627.0,2357.0 628.5,2360.2 630.0,2357.1 631.5,2360.9 633.0,2358.7 634.5,2362.1 636.0,2359.0 637.5,2362.6 639.0,2357.8 640.5,2361.7 642.0,2358.2 643.5,2361.5 645.0,2359.4 646.5,2362.2 648.0,2358.1 649.5,2361.2 651.0,2357.9 652.5,2359.7 654.0,2357.2 655.5,2360.2 657.0,2356.9 658.5,2360.3 660.0,2357.3 661.5,2361.2 663.0,2357.8 664.5,2361.9 666.0,2357.6 667.5,2361.2 669.0,2356.5 670.5,2359.3 672.0,2356.4 673.5,2358.6 675.0,2356.2 676.5,2359.6 678.0,2355.1 679.5,2358.8 681.0,2355.0 682.5,2357.9 684.0,2355.1 685.5,2358.9 687.0,2356.6 688.5,2359.5 690.0,2355.3 691.5,2359.3 693.0,2355.8 694.5,2358.2 696.0,2355.9 697.5,2357.9 699.0,2354.9 700.5,2357.9 702.0,2355.3 703.5,2357.2 705.0,2354.4 706.5,2358.4 708.0,2354.3 709.5,2358.4 711.0,2354.4 712.5,2356.4 714.0,2353.4 715.5,2356.0 717.0,2353.0 718.5,2355.9 720.0,2352.7 721.5,2356.1 723.0,2352.9 724.5,2355.4 726.0,2352.2 727.5,2354.9 729.0,2351.7 730.5,2354.6 732.0,2350.6 733.5,2354.6 735.0,2351.6 736.5,2354.8 738.0,2351.8 739.5,2355.1 741.0,2352.0 742.5,2355.1 744.0,2350.5 745.5,2352.7 747.0,2349.2 748.5,2352.9 750.0,2350.4 751.5,2354.3 753.0,2350.6 754.5,2354.0 756.0,2350.0 757.5,2353.1 759.0,2350.3 760.5,2353.6 762.0,2349.0 763.5,2353.2 765.0,2349.4 766.5,2352.8 768.0,2349.3 769.5,2352.0 771.0,2348.8 772.5,2352.6 774.0,2349.1 775.5,2352.8 777.0,2349.1 778.5,2352.9 780.0,2348.3 781.5,2350.3 783.0,2346.7 784.5,2351.7 786.0,2347.4 787.5,2350.7 789.0,2347.6 790.5,2350.9 792.0,2347.4 793.5,2350.1 795.0,2346.9 796.5,2350.4 798.0,2347.0 799.5,2351.4 801.0,2346.3 802.5,2349.9 804.0,2346.4 805.5,2350.1 807.0,2346.9 808.5,2350.0 810.0,2346.2 811.5,2349.7 813.0,2346.9 814.5,2350.7 816.0,2346.9 817.5,2350.0 819.0,2345.4 820.5,2347.9 822.0,2343.7 823.5,2348.4 825.0,2344.6 826.5,2349.2 828.0,2345.6 829.5,2349.6 831.0,2345.9 832.5,2348.9 834.0,2345.4 835.5,2348.4 837.0,2345.1 838.5,2348.8 840.0,2345.3 841.5,2348.2 843.0,2344.4 844.5,2348.2 846.0,2343.3 847.5,2346.9 849.0,2343.2 850.5,2348.2 852.0,2343.5 853.5,2347.5 855.0,2342.5 856.5,2344.1 858.0,2340.2 859.5,2343.1 861.0,2339.1 862.5,2342.6 864.0,2339.1 865.5,2342.5 867.0,2337.4 868.5,2341.6 870.0,2336.1 871.5,2338.7 873.0,2335.0 874.5,2337.0 876.0,2333.1 877.5,2336.6 879.0,2331.0 880.5,2334.8 882.0,2329.4 883.5,2332.9 885.0,2328.6 886.5,2331.6 888.0,2326.4 889.5,2331.5 891.0,2326.4 892.5,2329.0 894.0,2323.1 895.5,2327.7 897.0,2323.7 898.5,2325.5 900.0,2321.9 901.5,2322.8 903.0,2318.3 904.5,2323.6 906.0,2317.9 907.5,2322.2 909.0,2315.5 910.5,2318.6 912.0,2313.8 913.5,2318.0 915.0,2312.6 916.5,2316.3 918.0,2312.0 919.5,2314.3 921.0,2308.7 922.5,2310.8 924.0,2307.5 925.5,2309.3 927.0,2305.5 928.5,2308.8 930.0,2302.3 931.5,2305.7 933.0,2301.5 934.5,2305.5 936.0,2302.2 937.5,2305.4 939.0,2299.0 940.5,2302.6 942.0,2296.5 943.5,2301.0 945.0,2294.9 946.5,2298.9 948.0,2294.1 949.5,2296.6 951.0,2291.9 952.5,2294.3 954.0,2288.5 955.5,2293.8 957.0,2288.9 958.5,2291.9 960.0,2288.5 961.5,2291.3 963.0,2286.8 964.5,2290.0 966.0,2284.8 967.5,2287.3 969.0,2283.8 970.5,2287.9 972.0,2282.5 973.5,2286.8 975.0,2283.2 976.5,2286.9 978.0,2282.3 979.5,2285.4 981.0,2279.7 982.5,2282.8 984.0,2276.7 985.5,2278.1 987.0,2270.8 988.5,2274.8 990.0,2270.2 991.5,2275.6 993.0,2270.1 994.5,2273.5 996.0,2270.3 997.5,2272.8 999.0,2267.7 1000.5,2270.7 1002.0,2264.6 1003.5,2268.2 1005.0,2263.5 1006.5,2266.9 1008.0,2260.3 1009.5,2266.8 1011.0,2261.1 1012.5,2264.6 1014.0,2260.6 1015.5,2264.0 1017.0,2258.9 1018.5,2264.3 1020.0,2258.5 1021.5,2262.4 1023.0,2258.3 1024.5,2260.5 1026.0,2256.0 1027.5,2261.8 1029.0,2255.8 1030.5,2258.9 1032.0,2254.0 1033.5,2256.9 1035.0,2251.3 1036.5,2255.8 1038.0,2248.7 1039.5,2254.0 1041.0,2248.7 1042.5,2253.0 1044.0,2247.7 1045.5,2251.9 1047.0,2245.6 1048.5,2249.8 1050.0,2242.4 1051.5,2247.9 1053.0,2243.2 1054.5,2245.9 1056.0,2241.0 1057.5,2245.3 1059.0,2241.2 1060.5,2246.6 1062.0,2239.2 1063.5,2243.2 1065.0,2237.3 1066.5,2244.4 1068.0,2238.2 1069.5,2242.2 1071.0,2235.2 1072.5,2237.6 1074.0,2232.1 1075.5,2239.0 1077.0,2232.5 1078.5,2237.8 1080.0,2231.2 1081.5,2234.0 1083.0,2229.4 1084.5,2233.6 1086.0,2227.2 1087.5,2232.4 1089.0,2225.3 1090.5,2228.2 1092.0,2221.3 1093.5,2227.8 1095.0,2219.4 1096.5,2224.1 1098.0,2218.8 1099.5,2221.8 1101.1,2219.4 1102.5,2222.8 1104.0,2218.3 1105.5,2224.3 1107.0,2220.5 1108.5,2227.5 1110.0,2223.9 1111.5,2227.8 1113.0,2222.4 1114.5,2227.7 1116.0,2225.4 1117.5,2231.0 1119.0,2226.9 1120.5,2234.1 1122.0,2230.0 1123.5,2236.2 1125.0,2232.6 1126.5,2237.3 1128.0,2232.9 1129.5,2239.3 1131.0,2234.7 1132.5,2241.1 1134.0,2236.9 1135.5,2243.4 1137.0,2241.4 1138.5,2247.9 1140.0,2243.7 1141.5,2249.1 1143.0,2244.3 1144.5,2249.5 1146.0,2244.6 1147.5,2251.8 1149.0,2246.5 1150.5,2253.2 1152.0,2249.8 1153.5,2255.0 1155.0,2250.5 1156.5,2256.8 1158.0,2252.5 1159.5,2257.0 1161.0,2252.4 1162.5,2256.2 1164.0,2254.0 1165.5,2260.5 1167.0,2258.0 1168.5,2265.3 1170.0,2260.4 1171.5,2265.3 1173.0,2260.6 1174.5,2265.7 1176.0,2261.1 1177.5,2266.6 1179.0,2263.7 1180.5,2270.0 1182.0,2265.1 1183.5,2271.6 1185.0,2268.2 1186.5,2274.8 1188.0,2271.7 1189.5,2278.9 1191.0,2274.4 1192.5,2279.4 1194.0,2276.1 1195.5,2280.5 1197.0,2276.5 1198.5,2283.5 1200.0,2277.8 1201.5,2281.9 1203.0,2277.2 1204.5,2281.2 1206.0,2277.2 1207.5,2284.3 1209.0,2280.8 1210.5,2285.5 1212.0,2281.8 1213.5,2285.4 1215.0,2281.3 1216.5,2287.9 1218.0,2284.6 1219.5,2289.5 1221.0,2285.3 1222.5,2290.8 1224.0,2286.3 1225.5,2292.5 1227.0,2289.3 1228.5,2295.8 1230.0,2293.4 1231.5,2298.3 1233.0,2292.7 1234.5,2299.2 1236.0,2293.9 1237.5,2299.3 1239.0,2296.8 1240.5,2301.9 1242.0,2296.6 1243.5,2304.1 1245.0,2300.3 1246.5,2304.7 1248.0,2301.6 1249.5,2305.2 1251.0,2301.9 1252.5,2307.3 1254.0,2302.6 1255.5,2307.1 1257.0,2303.0 1258.5,2308.7 1260.0,2305.8 1261.5,2310.5 1263.0,2306.0 1264.5,2312.2 1266.0,2308.6 1267.5,2313.8 1269.0,2310.4 1270.5,2315.7 1272.0,2312.1 1273.5,2316.3 1275.0,2313.5 1276.5,2317.8 1278.0,2314.6 1279.5,2319.5 1281.0,2316.6 1282.5,2321.0 1284.0,2319.4 1285.5,2324.6 1287.0,2320.2 1288.5,2323.8 1290.0,2319.8 1291.5,2324.4 1293.0,2321.1 1294.5,2326.5 1296.0,2322.9 1297.5,2325.9 1299.0,2323.2 1300.5,2326.5 1302.0,2324.0 1303.5,2328.3 1305.0,2325.9 1306.5,2330.9 1308.0,2326.5 1309.5,2331.1 1311.0,2328.7 1312.5,2333.0 1314.0,2329.0 1315.5,2334.0 1317.0,2330.9 1318.5,2335.6 1320.0,2332.7 1321.5,2336.0 1323.0,2332.2 1324.5,2336.2 1326.0,2332.1 1327.5,2336.8 1329.0,2334.2 1330.5,2339.4 1332.0,2336.7 1333.5,2342.1 1335.0,2337.9 1336.5,2343.2 1338.0,2339.7 1339.5,2344.5 1341.0,2340.7 1342.5,2346.3 1344.0,2343.4 1345.5,2346.6 1347.0,2343.4 1348.5,2348.4 1350.0,2344.5 1351.5,2347.2 1353.0,2344.9 1354.5,2348.3 1356.0,2344.3 1357.5,2348.1 1359.0,2344.7 1360.5,2349.4 1362.0,2346.4 1363.5,2350.8 1365.0,2347.5 1366.5,2351.4 1368.0,2348.0 1369.5,2352.1 1371.0,2348.1 1372.5,2351.2 1374.0,2347.7 1375.5,2350.8 1377.0,2347.9 1378.5,2351.8 1380.0,2349.5 1381.5,2352.2 1383.0,2349.1 1384.5,2352.4 1386.0,2348.7 1387.5,2352.9 1389.0,2349.6 1390.5,2354.2 1392.0,2351.6 1393.5,2354.4 1395.0,2348.9 1396.5,2353.2 1398.0,2349.6 1399.5,2353.5 1401.0,2350.5 1402.5,2354.9 1404.0,2349.9 1405.5,2354.0 1407.0,2350.3 1408.5,2353.1 1410.0,2351.0 1411.5,2354.6 1413.0,2351.4 1414.5,2356.0 1416.0,2351.1 1417.5,2355.3 1419.0,2352.0 1420.5,2356.7 1422.0,2353.0 1423.5,2357.4 1425.0,2354.2 1426.5,2358.4 1428.0,2354.6 1429.5,2357.8 1431.0,2354.0 1432.5,2356.5 1434.0,2355.0 1435.5,2358.6 1437.0,2355.3 1438.5,2359.6 1440.0,2355.1 1441.5,2358.0 1443.0,2354.2 1444.5,2357.5 1446.0,2355.0 1447.5,2359.2 1449.0,2355.9 1450.5,2359.6 1452.0,2356.4 1453.5,2359.7 1455.0,2355.7 1456.5,2358.4 1458.0,2356.4 1459.5,2359.6 1461.0,2355.5 1462.5,2359.3 1464.0,2356.3 1465.5,2360.1 1467.0,2357.0 1468.5,2360.9 1470.0,2357.1 1471.5,2360.0 1473.0,2357.3 1474.5,2359.4 1476.0,2355.5 1477.5,2359.7 1479.0,2356.5 1480.5,2360.1 1482.0,2356.2 1483.5,2359.2 1485.0,2357.0 1486.5,2361.0 1488.0,2358.3 1489.5,2360.8 1491.0,2356.6 1492.5,2360.1 1494.0,2356.6 1495.5,2359.5 1497.0,2356.7 1498.5,2360.1 1500.0,2357.0 1501.5,2360.5 1503.0,2357.5 1504.5,2360.3 1506.0,2357.4 1507.5,2360.2 1509.0,2358.1 1510.5,2361.7 1512.0,2357.6 1513.5,2361.0 1515.0,2358.2 1516.5,2360.7 1518.0,2357.9 1519.5,2362.0 1521.0,2358.4 1522.5,2361.0 1524.0,2358.7 1525.5,2362.1 1527.0,2359.2 1528.5,2362.5 1530.0,2359.8 1531.5,2362.1 1533.0,2359.5 1534.5,2361.6 1536.0,2359.1 1537.5,2361.8 1539.0,2358.9 1540.5,2362.2 1542.0,2360.0 1543.5,2363.4 1545.0,2360.1 1546.5,2363.0 1548.0,2359.8 1549.5,2362.3 1551.0,2359.8 1552.5,2363.0 1554.0,2360.5 1555.5,2363.8 1557.0,2361.2 1558.5,2364.3 1560.0,2362.8 1561.5,2364.5 1563.0,2362.0 1564.5,2364.2 1566.0,2361.0 1567.5,2364.1 1569.0,2360.7 1570.5,2364.5 1572.0,2360.6 1573.5,2364.7 1575.0,2361.9 1576.5,2365.4 1578.0,2362.0 1579.5,2363.8 1581.0,2360.2 1582.5,2363.8 1584.0,2361.4 1585.5,2364.5 1587.0,2361.3 1588.5,2364.8 1590.0,2362.6 1591.5,2366.2 1593.0,2364.2 1594.5,2367.1 1596.0,2364.4 1597.5,2366.6 1599.0,2363.3 1600.5,2366.3 1602.0,2364.1 1603.5,2367.1 1605.0,2363.7 1606.5,2366.5 1608.0,2362.9 1609.5,2366.6 1611.0,2363.3 1612.5,2366.5 1614.0,2364.1 1615.5,2367.0 1617.0,2364.1 1618.5,2367.4 1620.0,2363.4 1621.5,2366.7 1623.0,2364.7 1624.5,2367.3 1626.0,2365.2 1627.5,2367.8 1629.0,2363.9 1630.5,2367.3 1632.0,2364.5 1633.5,2368.1 1635.0,2365.2 1636.5,2368.0 1638.0,2364.2 1639.5,2366.6 1641.0,2364.1 1642.5,2367.1 1644.0,2365.9 1645.5,2369.0 1647.0,2367.4 1648.5,2369.8 1650.4,2367.5 1651.2,2296.5 1651.8,2296.5 1652.2,2361.1 1653.4,2362.9 1654.9,2359.5 1656.4,2362.6 1657.9,2360.5 1659.4,2362.5 1660.9,2360.0 1662.4,2361.6 1663.9,2357.5 1665.4,2360.6 1666.9,2358.4 1668.4,2361.5 1669.9,2358.8 1671.4,2361.8 1672.9,2358.6 1674.4,2362.8 1675.9,2360.1 1677.4,2363.0 1678.9,2361.2 1680.4,2362.4 1681.9,2359.9 1683.4,2362.5 1684.9,2359.1 1686.4,2361.7 1687.9,2359.7 1689.4,2363.3 1690.9,2360.5 1692.4,2362.9 1693.9,2360.1 1695.4,2362.5 1696.9,2359.9 1698.4,2362.0 1699.9,2359.5 1701.4,2362.1 1702.9,2359.1 1704.4,2362.9 1705.9,2360.0 1707.4,2362.1 1708.9,2358.6 1710.4,2361.9 1711.9,2358.3 1713.4,2362.4 1714.9,2360.0 1716.4,2362.3 1717.9,2359.4 1719.4,2362.1 1720.9,2359.0 1722.4,2363.3 1723.9,2360.8 1725.4,2363.3 1726.9,2360.1 1728.4,2362.3 1729.9,2359.9 1731.4,2362.1 1732.9,2358.1 1734.4,2361.6 1735.9,2359.2 1737.4,2362.3 1738.9,2360.1 1740.4,2362.6 1741.9,2359.1 1743.4,2361.4 1744.9,2358.5 1746.4,2361.8 1747.9,2359.0 1749.4,2361.7 1750.9,2358.4 1752.4,2361.9 1753.9,2360.3 1755.4,2363.6 1756.9,2361.4 1758.4,2363.7 1759.9,2359.8 1761.4,2362.0 1762.9,2358.9 1764.4,2361.4 1765.9,2359.3 1767.4,2363.2 1768.9,2360.5 1770.4,2363.7 1771.9,2360.5 1773.4,2362.8 1774.9,2359.3 1776.4,2361.4 1777.9,2359.5 1779.4,2362.1 1780.9,2359.6 1782.4,2362.8 1783.9,2360.2 1785.4,2362.5 1786.9,2358.9 1788.4,2361.9 1789.9,2358.8 1791.4,2362.0 1792.9,2358.8 1794.4,2361.5 1795.9,2359.2 1797.4,2362.7 1798.9,2359.3 1800.4,2362.5 1801.9,2359.3 1803.4,2362.2 1804.9,2358.6 1806.4,2362.4 1807.9,2360.1 1809.4,2363.2 1810.9,2360.0 1812.4,2363.2 1813.9,2358.4 1815.4,2361.4 1816.9,2359.1 1818.4,2362.4 1819.9,2359.5 1821.4,2362.7 1822.9,2359.3 1824.4,2362.3 1825.9,2359.3 1827.4,2362.9 1828.9,2359.5 1830.4,2362.3 1831.9,2358.1 1833.4,2361.4 1834.9,2358.0 1836.4,2361.7 1837.9,2359.6 1839.4,2362.4 1840.9,2359.3 1842.4,2362.1 1843.9,2359.9 1845.4,2362.9 1846.9,2359.7 1848.4,2362.3 1849.9,2359.0 1851.4,2362.1 1852.9,2359.5 1854.4,2363.0 1855.9,2359.9 1857.4,2363.2 1858.9,2361.0 1860.4,2362.5 1861.9,2359.9 1863.4,2362.5 1864.9,2358.9 1866.4,2362.1 1867.9,2359.8 1869.4,2363.5 1870.9,2360.0 1872.4,2361.6 1873.9,2358.4 1875.4,2361.0 1876.9,2359.0 1878.4,2362.4 1879.9,2359.4 1881.4,2363.2 1882.9,2359.1 1884.4,2362.9 1885.9,2359.8 1887.4,2362.1 1888.9,2359.9 1890.4,2362.4 1891.9,2360.6 1893.4,2363.1 1894.9,2359.9 1896.4,2362.6 1897.9,2359.4 1899.4,2362.3 1900.9,2359.7 1902.4,2362.6 1903.9,2359.2 1905.4,2362.3 1906.9,2360.1 1908.4,2362.6 1909.9,2360.4 1911.4,2363.3 1912.9,2360.2 1914.4,2363.5 1915.9,2359.9 1917.4,2363.3 1918.9,2359.8 1920.4,2362.7" fill="none" stroke="#7B4C4C" stroke-width="9.3" stroke-linejoin="round" stroke-linecap="butt"/>
<rect x="483.4" y="1830.7" width="10.5" height="643.0" fill="#000"/>
<rect x="480.3" y="2464.2" width="1446.7" height="9.5" fill="#000"/>
<rect x="471.4" y="1886.8" width="17.2" height="9.4" fill="#000"/>
<rect x="471.4" y="2117.1" width="17.2" height="9.4" fill="#000"/>
<rect x="471.4" y="2347.3" width="17.2" height="9.4" fill="#000"/>
<rect x="479.9" y="2003.0" width="8.8" height="8.0" fill="#000"/>
<rect x="479.9" y="2233.4" width="8.8" height="8.0" fill="#000"/>
<rect x="550.7" y="2469.0" width="10.6" height="14.2" fill="#000"/>
<rect x="892.7" y="2469.0" width="10.6" height="14.2" fill="#000"/>
<rect x="1234.7" y="2469.0" width="10.6" height="14.2" fill="#000"/>
<rect x="1576.7" y="2469.0" width="10.6" height="14.2" fill="#000"/>
<rect x="1918.7" y="2469.0" width="10.6" height="14.2" fill="#000"/>
<rect x="722.0" y="2469.0" width="10.0" height="7.8" fill="#000"/>
<rect x="1064.0" y="2469.0" width="10.0" height="7.8" fill="#000"/>
<rect x="1406.0" y="2469.0" width="10.0" height="7.8" fill="#000"/>
<rect x="1748.0" y="2469.0" width="10.0" height="7.8" fill="#000"/>
<text transform="translate(460.5,1917.5) scale(1.155,1)" font-size="85.5" text-anchor="end">800</text>
<text transform="translate(460.5,2147.8) scale(1.155,1)" font-size="85.5" text-anchor="end">400</text>
<text transform="translate(460.5,2378.0) scale(1.155,1)" font-size="85.5" text-anchor="end">0</text>
<text transform="translate(267.0,2152.0) scale(1.21,1) rotate(-90)" font-size="82" text-anchor="middle">pA</text>
<text transform="translate(557.0,2556.0) scale(1.155,1)" font-size="84.5" text-anchor="middle">0</text>
<text transform="translate(900.0,2556.0) scale(1.155,1)" font-size="84.5" text-anchor="middle">1000</text>
<text transform="translate(1238.0,2556.0) scale(1.155,1)" font-size="84.5" text-anchor="middle">2000</text>
<text transform="translate(1580.4,2556.0) scale(1.155,1)" font-size="84.5" text-anchor="middle">3000</text>
<text transform="translate(1920.7,2556.0) scale(1.155,1)" font-size="84.5" text-anchor="middle">4000</text>
<text transform="translate(1206.3,2630.0) scale(1.22,1)" font-size="80" text-anchor="middle">msec</text>
<text transform="translate(1528.5,2087.6) scale(1.175,1)" font-size="83">3 <tspan font-family="Liberation Serif, serif" font-size="82">μ</tspan>M PT</text>
</svg></body></html>
